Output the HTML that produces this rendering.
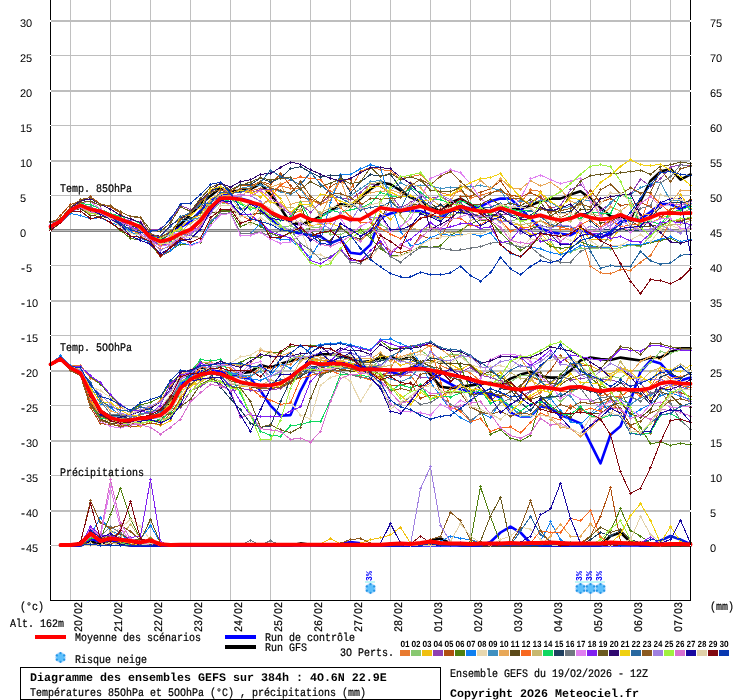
<!DOCTYPE html>
<html><head><meta charset="utf-8"><title>GEFS</title><style>html,body{margin:0;padding:0;background:#fff}body{width:740px;height:700px;overflow:hidden;font-family:"Liberation Mono",monospace}</style></head><body>
<svg width="740" height="700" viewBox="0 0 740 700" style="display:block;will-change:transform">
<rect width="740" height="700" fill="#fff"/>
<g shape-rendering="crispEdges"><rect x="70" y="0" width="1" height="600" fill="#c0c0c0"/><rect x="110" y="0" width="1" height="600" fill="#c0c0c0"/><rect x="150" y="0" width="1" height="600" fill="#c0c0c0"/><rect x="190" y="0" width="1" height="600" fill="#c0c0c0"/><rect x="230" y="0" width="1" height="600" fill="#c0c0c0"/><rect x="270" y="0" width="1" height="600" fill="#c0c0c0"/><rect x="310" y="0" width="1" height="600" fill="#c0c0c0"/><rect x="350" y="0" width="1" height="600" fill="#c0c0c0"/><rect x="390" y="0" width="1" height="600" fill="#c0c0c0"/><rect x="430" y="0" width="1" height="600" fill="#c0c0c0"/><rect x="470" y="0" width="1" height="600" fill="#c0c0c0"/><rect x="510" y="0" width="1" height="600" fill="#c0c0c0"/><rect x="550" y="0" width="1" height="600" fill="#c0c0c0"/><rect x="590" y="0" width="1" height="600" fill="#c0c0c0"/><rect x="630" y="0" width="1" height="600" fill="#c0c0c0"/><rect x="670" y="0" width="1" height="600" fill="#c0c0c0"/><rect x="51" y="20" width="639" height="2" fill="#bebebe"/><rect x="51" y="55" width="639" height="1" fill="#bebebe"/><rect x="51" y="90" width="639" height="2" fill="#bebebe"/><rect x="51" y="125" width="639" height="1" fill="#bebebe"/><rect x="51" y="160" width="639" height="2" fill="#bebebe"/><rect x="51" y="195" width="639" height="1" fill="#bebebe"/><rect x="51" y="230" width="639" height="2" fill="#bebebe"/><rect x="51" y="265" width="639" height="1" fill="#bebebe"/><rect x="51" y="300" width="639" height="2" fill="#bebebe"/><rect x="51" y="335" width="639" height="1" fill="#bebebe"/><rect x="51" y="370" width="639" height="2" fill="#bebebe"/><rect x="51" y="405" width="639" height="1" fill="#bebebe"/><rect x="51" y="440" width="639" height="2" fill="#bebebe"/><rect x="51" y="475" width="639" height="1" fill="#bebebe"/><rect x="51" y="510" width="639" height="2" fill="#bebebe"/><rect x="51" y="545" width="639" height="1" fill="#bebebe"/><rect x="51" y="229" width="639" height="3" fill="#868686"/><rect x="51" y="230" width="639" height="1" fill="#bdbdbd"/></g>
<g stroke-linejoin="round" stroke-linecap="round">
<polyline transform="translate(.5,.5)" points="50,225.9 60,220.5 70,209.7 80,204.3 90,208.1 100,210.8 110,214.3 120,218.4 130,222.4 140,226.5 150,235.9 160,238.6 170,231.9 180,223.8 190,214.3 200,203.5 210,195.4 220,187.3 230,191.4 240,190.0 250,188.6 260,183.2 270,194.1 280,207.6 290,222.4 300,223.8 310,221.1 320,215.7 330,210.3 340,203.5 350,206.2 360,198.1 370,188.6 380,181.9 390,183.8 400,190.0 410,196.8 420,200.8 430,207.0 440,210.8 450,202.2 460,198.1 470,204.3 480,207.6 490,211.6 500,207.6 510,208.9 520,208.1 530,204.9 540,200.8 550,198.1 560,198.1 570,194.1 580,190.8 590,198.1 600,207.6 610,215.7 620,217.0 630,218.4 640,200.8 650,180.5 660,171.1 670,168.4 680,179.2 690,173.8" fill="none" stroke="#000" stroke-width="2.6" />
<polyline transform="translate(.5,.5)" points="50,227.0 60,221.1 70,210.3 80,206.2 90,209.7 100,210.8 110,215.7 120,219.7 130,222.4 140,227.8 150,234.6 160,237.3 170,233.2 180,226.5 190,221.1 200,210.3 210,200.8 220,194.1 230,195.4 240,198.1 250,200.8 260,207.6 270,218.4 280,226.5 290,230.5 300,233.2 310,234.6 320,235.9 330,242.7 340,238.6 350,252.2 360,253.5 370,244.1 380,217.0 390,213.0 400,210.8 410,209.7 420,210.8 430,214.3 440,218.4 450,208.9 460,207.0 470,207.6 480,206.2 490,200.8 500,198.1 510,198.1 520,207.6 530,218.4 540,227.8 550,231.9 560,233.2 570,234.6 580,229.2 590,233.2 600,237.3 610,231.9 620,221.1 630,219.7 640,218.4 650,211.6 660,203.5 670,203.5 680,208.9 690,203.5" fill="none" stroke="#0000ff" stroke-width="2.6" />
<polyline transform="translate(.5,.5)" points="50,226.3 60,221.2 70,209.5 80,206.6 90,211.3 100,211.4 110,218.2 120,223.4 130,230.0 140,233.5 150,241.3 160,249.1 170,245.4 180,237.2 190,232.9 200,227.4 210,204.1 220,189.0 230,192.1 240,190.2 250,190.6 260,187.7 270,191.3 280,185.3 290,188.0 300,187.4 310,199.8 320,203.8 330,199.6 340,179.6 350,188.8 360,170.9 370,166.8 380,169.0 390,170.4 400,178.2 410,176.3 420,174.1 430,184.3 440,192.1 450,194.6 460,190.2 470,197.5 480,194.8 490,191.7 500,190.8 510,194.7 520,202.4 530,189.4 540,190.9 550,210.7 560,229.2 570,229.2 580,233.2 590,265.7 600,272.4 610,273.2 620,269.2 630,269.7 640,261.6 650,254.9 660,238.6 670,221.1 680,219.7 690,218.4" fill="none" stroke="#E87A30" stroke-width="1" shape-rendering="crispEdges"/>
<path shape-rendering="crispEdges" fill="#E87A30" d="M49 226h3v1h-3zM50 225h1v3h-1zM59 221h3v1h-3zM60 220h1v3h-1zM69 210h3v1h-3zM70 209h1v3h-1zM79 207h3v1h-3zM80 206h1v3h-1zM89 211h3v1h-3zM90 210h1v3h-1zM99 211h3v1h-3zM100 210h1v3h-1zM109 218h3v1h-3zM110 217h1v3h-1zM119 223h3v1h-3zM120 222h1v3h-1zM129 230h3v1h-3zM130 229h1v3h-1zM139 234h3v1h-3zM140 233h1v3h-1zM149 241h3v1h-3zM150 240h1v3h-1zM159 249h3v1h-3zM160 248h1v3h-1zM169 245h3v1h-3zM170 244h1v3h-1zM179 237h3v1h-3zM180 236h1v3h-1zM189 233h3v1h-3zM190 232h1v3h-1zM199 227h3v1h-3zM200 226h1v3h-1zM209 204h3v1h-3zM210 203h1v3h-1zM219 189h3v1h-3zM220 188h1v3h-1zM229 192h3v1h-3zM230 191h1v3h-1zM239 190h3v1h-3zM240 189h1v3h-1zM249 191h3v1h-3zM250 190h1v3h-1zM259 188h3v1h-3zM260 187h1v3h-1zM269 191h3v1h-3zM270 190h1v3h-1zM279 185h3v1h-3zM280 184h1v3h-1zM289 188h3v1h-3zM290 187h1v3h-1zM299 187h3v1h-3zM300 186h1v3h-1zM309 200h3v1h-3zM310 199h1v3h-1zM319 204h3v1h-3zM320 203h1v3h-1zM329 200h3v1h-3zM330 199h1v3h-1zM339 180h3v1h-3zM340 179h1v3h-1zM349 189h3v1h-3zM350 188h1v3h-1zM359 171h3v1h-3zM360 170h1v3h-1zM369 167h3v1h-3zM370 166h1v3h-1zM379 169h3v1h-3zM380 168h1v3h-1zM389 170h3v1h-3zM390 169h1v3h-1zM399 178h3v1h-3zM400 177h1v3h-1zM409 176h3v1h-3zM410 175h1v3h-1zM419 174h3v1h-3zM420 173h1v3h-1zM429 184h3v1h-3zM430 183h1v3h-1zM439 192h3v1h-3zM440 191h1v3h-1zM449 195h3v1h-3zM450 194h1v3h-1zM459 190h3v1h-3zM460 189h1v3h-1zM469 198h3v1h-3zM470 197h1v3h-1zM479 195h3v1h-3zM480 194h1v3h-1zM489 192h3v1h-3zM490 191h1v3h-1zM499 191h3v1h-3zM500 190h1v3h-1zM509 195h3v1h-3zM510 194h1v3h-1zM519 202h3v1h-3zM520 201h1v3h-1zM529 189h3v1h-3zM530 188h1v3h-1zM539 191h3v1h-3zM540 190h1v3h-1zM549 211h3v1h-3zM550 210h1v3h-1zM559 229h3v1h-3zM560 228h1v3h-1zM569 229h3v1h-3zM570 228h1v3h-1zM579 233h3v1h-3zM580 232h1v3h-1zM589 266h3v1h-3zM590 265h1v3h-1zM599 272h3v1h-3zM600 271h1v3h-1zM609 273h3v1h-3zM610 272h1v3h-1zM619 269h3v1h-3zM620 268h1v3h-1zM629 270h3v1h-3zM630 269h1v3h-1zM639 262h3v1h-3zM640 261h1v3h-1zM649 255h3v1h-3zM650 254h1v3h-1zM659 239h3v1h-3zM660 238h1v3h-1zM669 221h3v1h-3zM670 220h1v3h-1zM679 220h3v1h-3zM680 219h1v3h-1zM689 218h3v1h-3zM690 217h1v3h-1z"/>
<polyline transform="translate(.5,.5)" points="50,229.4 60,221.8 70,210.7 80,207.4 90,213.2 100,212.5 110,218.5 120,223.6 130,232.8 140,233.6 150,241.2 160,244.0 170,240.7 180,233.6 190,234.2 200,226.8 210,210.4 220,202.4 230,203.3 240,209.4 250,205.8 260,211.7 270,220.4 280,226.8 290,225.2 300,230.8 310,226.9 320,226.5 330,233.8 340,234.4 350,229.2 360,232.2 370,235.1 380,223.9 390,229.8 400,227.6 410,212.4 420,212.3 430,215.2 440,218.9 450,214.2 460,212.9 470,211.0 480,217.8 490,216.3 500,220.8 510,219.8 520,219.2 530,226.1 540,225.4 550,240.5 560,254.1 570,251.6 580,247.5 590,248.3 600,247.4 610,248.5 620,247.2 630,244.7 640,246.2 650,235.3 660,225.7 670,214.1 680,214.0 690,207.8" fill="none" stroke="#88C870" stroke-width="1" shape-rendering="crispEdges"/>
<path shape-rendering="crispEdges" fill="#88C870" d="M49 229h3v1h-3zM50 228h1v3h-1zM59 222h3v1h-3zM60 221h1v3h-1zM69 211h3v1h-3zM70 210h1v3h-1zM79 207h3v1h-3zM80 206h1v3h-1zM89 213h3v1h-3zM90 212h1v3h-1zM99 213h3v1h-3zM100 212h1v3h-1zM109 219h3v1h-3zM110 218h1v3h-1zM119 224h3v1h-3zM120 223h1v3h-1zM129 233h3v1h-3zM130 232h1v3h-1zM139 234h3v1h-3zM140 233h1v3h-1zM149 241h3v1h-3zM150 240h1v3h-1zM159 244h3v1h-3zM160 243h1v3h-1zM169 241h3v1h-3zM170 240h1v3h-1zM179 234h3v1h-3zM180 233h1v3h-1zM189 234h3v1h-3zM190 233h1v3h-1zM199 227h3v1h-3zM200 226h1v3h-1zM209 210h3v1h-3zM210 209h1v3h-1zM219 202h3v1h-3zM220 201h1v3h-1zM229 203h3v1h-3zM230 202h1v3h-1zM239 209h3v1h-3zM240 208h1v3h-1zM249 206h3v1h-3zM250 205h1v3h-1zM259 212h3v1h-3zM260 211h1v3h-1zM269 220h3v1h-3zM270 219h1v3h-1zM279 227h3v1h-3zM280 226h1v3h-1zM289 225h3v1h-3zM290 224h1v3h-1zM299 231h3v1h-3zM300 230h1v3h-1zM309 227h3v1h-3zM310 226h1v3h-1zM319 226h3v1h-3zM320 225h1v3h-1zM329 234h3v1h-3zM330 233h1v3h-1zM339 234h3v1h-3zM340 233h1v3h-1zM349 229h3v1h-3zM350 228h1v3h-1zM359 232h3v1h-3zM360 231h1v3h-1zM369 235h3v1h-3zM370 234h1v3h-1zM379 224h3v1h-3zM380 223h1v3h-1zM389 230h3v1h-3zM390 229h1v3h-1zM399 228h3v1h-3zM400 227h1v3h-1zM409 212h3v1h-3zM410 211h1v3h-1zM419 212h3v1h-3zM420 211h1v3h-1zM429 215h3v1h-3zM430 214h1v3h-1zM439 219h3v1h-3zM440 218h1v3h-1zM449 214h3v1h-3zM450 213h1v3h-1zM459 213h3v1h-3zM460 212h1v3h-1zM469 211h3v1h-3zM470 210h1v3h-1zM479 218h3v1h-3zM480 217h1v3h-1zM489 216h3v1h-3zM490 215h1v3h-1zM499 221h3v1h-3zM500 220h1v3h-1zM509 220h3v1h-3zM510 219h1v3h-1zM519 219h3v1h-3zM520 218h1v3h-1zM529 226h3v1h-3zM530 225h1v3h-1zM539 225h3v1h-3zM540 224h1v3h-1zM549 241h3v1h-3zM550 240h1v3h-1zM559 254h3v1h-3zM560 253h1v3h-1zM569 252h3v1h-3zM570 251h1v3h-1zM579 247h3v1h-3zM580 246h1v3h-1zM589 248h3v1h-3zM590 247h1v3h-1zM599 247h3v1h-3zM600 246h1v3h-1zM609 249h3v1h-3zM610 248h1v3h-1zM619 247h3v1h-3zM620 246h1v3h-1zM629 245h3v1h-3zM630 244h1v3h-1zM639 246h3v1h-3zM640 245h1v3h-1zM649 235h3v1h-3zM650 234h1v3h-1zM659 226h3v1h-3zM660 225h1v3h-1zM669 214h3v1h-3zM670 213h1v3h-1zM679 214h3v1h-3zM680 213h1v3h-1zM689 208h3v1h-3zM690 207h1v3h-1z"/>
<polyline transform="translate(.5,.5)" points="50,226.7 60,220.2 70,209.7 80,205.6 90,209.2 100,211.9 110,217.2 120,219.9 130,223.6 140,225.0 150,235.7 160,239.2 170,232.8 180,227.0 190,218.4 200,214.6 210,198.5 220,193.0 230,192.7 240,190.2 250,192.4 260,196.5 270,188.7 280,198.4 290,214.0 300,210.3 310,225.1 320,223.8 330,223.1 340,226.2 350,235.9 360,241.0 370,231.5 380,211.3 390,219.0 400,209.0 410,209.0 420,197.3 430,208.9 440,213.8 450,210.6 460,209.6 470,216.0 480,212.7 490,216.5 500,216.2 510,223.4 520,224.8 530,234.2 540,232.2 550,244.4 560,253.1 570,245.9 580,227.1 590,239.2 600,238.8 610,239.6 620,227.9 630,230.6 640,223.2 650,222.2 660,217.6 670,214.2 680,194.2 690,207.8" fill="none" stroke="#F0C010" stroke-width="1" shape-rendering="crispEdges"/>
<path shape-rendering="crispEdges" fill="#F0C010" d="M49 227h3v1h-3zM50 226h1v3h-1zM59 220h3v1h-3zM60 219h1v3h-1zM69 210h3v1h-3zM70 209h1v3h-1zM79 206h3v1h-3zM80 205h1v3h-1zM89 209h3v1h-3zM90 208h1v3h-1zM99 212h3v1h-3zM100 211h1v3h-1zM109 217h3v1h-3zM110 216h1v3h-1zM119 220h3v1h-3zM120 219h1v3h-1zM129 224h3v1h-3zM130 223h1v3h-1zM139 225h3v1h-3zM140 224h1v3h-1zM149 236h3v1h-3zM150 235h1v3h-1zM159 239h3v1h-3zM160 238h1v3h-1zM169 233h3v1h-3zM170 232h1v3h-1zM179 227h3v1h-3zM180 226h1v3h-1zM189 218h3v1h-3zM190 217h1v3h-1zM199 215h3v1h-3zM200 214h1v3h-1zM209 198h3v1h-3zM210 197h1v3h-1zM219 193h3v1h-3zM220 192h1v3h-1zM229 193h3v1h-3zM230 192h1v3h-1zM239 190h3v1h-3zM240 189h1v3h-1zM249 192h3v1h-3zM250 191h1v3h-1zM259 197h3v1h-3zM260 196h1v3h-1zM269 189h3v1h-3zM270 188h1v3h-1zM279 198h3v1h-3zM280 197h1v3h-1zM289 214h3v1h-3zM290 213h1v3h-1zM299 210h3v1h-3zM300 209h1v3h-1zM309 225h3v1h-3zM310 224h1v3h-1zM319 224h3v1h-3zM320 223h1v3h-1zM329 223h3v1h-3zM330 222h1v3h-1zM339 226h3v1h-3zM340 225h1v3h-1zM349 236h3v1h-3zM350 235h1v3h-1zM359 241h3v1h-3zM360 240h1v3h-1zM369 232h3v1h-3zM370 231h1v3h-1zM379 211h3v1h-3zM380 210h1v3h-1zM389 219h3v1h-3zM390 218h1v3h-1zM399 209h3v1h-3zM400 208h1v3h-1zM409 209h3v1h-3zM410 208h1v3h-1zM419 197h3v1h-3zM420 196h1v3h-1zM429 209h3v1h-3zM430 208h1v3h-1zM439 214h3v1h-3zM440 213h1v3h-1zM449 211h3v1h-3zM450 210h1v3h-1zM459 210h3v1h-3zM460 209h1v3h-1zM469 216h3v1h-3zM470 215h1v3h-1zM479 213h3v1h-3zM480 212h1v3h-1zM489 217h3v1h-3zM490 216h1v3h-1zM499 216h3v1h-3zM500 215h1v3h-1zM509 223h3v1h-3zM510 222h1v3h-1zM519 225h3v1h-3zM520 224h1v3h-1zM529 234h3v1h-3zM530 233h1v3h-1zM539 232h3v1h-3zM540 231h1v3h-1zM549 244h3v1h-3zM550 243h1v3h-1zM559 253h3v1h-3zM560 252h1v3h-1zM569 246h3v1h-3zM570 245h1v3h-1zM579 227h3v1h-3zM580 226h1v3h-1zM589 239h3v1h-3zM590 238h1v3h-1zM599 239h3v1h-3zM600 238h1v3h-1zM609 240h3v1h-3zM610 239h1v3h-1zM619 228h3v1h-3zM620 227h1v3h-1zM629 231h3v1h-3zM630 230h1v3h-1zM639 223h3v1h-3zM640 222h1v3h-1zM649 222h3v1h-3zM650 221h1v3h-1zM659 218h3v1h-3zM660 217h1v3h-1zM669 214h3v1h-3zM670 213h1v3h-1zM679 194h3v1h-3zM680 193h1v3h-1zM689 208h3v1h-3zM690 207h1v3h-1z"/>
<polyline transform="translate(.5,.5)" points="50,221.3 60,218.5 70,206.4 80,199.2 90,196.9 100,203.9 110,205.4 120,211.2 130,216.0 140,216.7 150,229.6 160,228.5 170,219.4 180,205.0 190,209.0 200,207.8 210,190.9 220,186.5 230,193.8 240,189.4 250,192.4 260,189.0 270,188.9 280,206.5 290,213.8 300,203.7 310,211.7 320,202.5 330,196.1 340,197.2 350,199.2 360,191.7 370,183.3 380,185.8 390,193.8 400,207.4 410,202.1 420,195.7 430,197.8 440,195.8 450,201.2 460,202.3 470,212.5 480,215.6 490,209.5 500,213.7 510,213.7 520,212.0 530,202.1 540,196.1 550,207.9 560,205.0 570,189.4 580,183.9 590,195.0 600,210.1 610,202.7 620,193.6 630,194.1 640,178.6 650,185.9 660,178.5 670,166.7 680,164.2 690,165.4" fill="none" stroke="#9040B0" stroke-width="1" shape-rendering="crispEdges"/>
<path shape-rendering="crispEdges" fill="#9040B0" d="M49 221h3v1h-3zM50 220h1v3h-1zM59 218h3v1h-3zM60 217h1v3h-1zM69 206h3v1h-3zM70 205h1v3h-1zM79 199h3v1h-3zM80 198h1v3h-1zM89 197h3v1h-3zM90 196h1v3h-1zM99 204h3v1h-3zM100 203h1v3h-1zM109 205h3v1h-3zM110 204h1v3h-1zM119 211h3v1h-3zM120 210h1v3h-1zM129 216h3v1h-3zM130 215h1v3h-1zM139 217h3v1h-3zM140 216h1v3h-1zM149 230h3v1h-3zM150 229h1v3h-1zM159 228h3v1h-3zM160 227h1v3h-1zM169 219h3v1h-3zM170 218h1v3h-1zM179 205h3v1h-3zM180 204h1v3h-1zM189 209h3v1h-3zM190 208h1v3h-1zM199 208h3v1h-3zM200 207h1v3h-1zM209 191h3v1h-3zM210 190h1v3h-1zM219 186h3v1h-3zM220 185h1v3h-1zM229 194h3v1h-3zM230 193h1v3h-1zM239 189h3v1h-3zM240 188h1v3h-1zM249 192h3v1h-3zM250 191h1v3h-1zM259 189h3v1h-3zM260 188h1v3h-1zM269 189h3v1h-3zM270 188h1v3h-1zM279 206h3v1h-3zM280 205h1v3h-1zM289 214h3v1h-3zM290 213h1v3h-1zM299 204h3v1h-3zM300 203h1v3h-1zM309 212h3v1h-3zM310 211h1v3h-1zM319 203h3v1h-3zM320 202h1v3h-1zM329 196h3v1h-3zM330 195h1v3h-1zM339 197h3v1h-3zM340 196h1v3h-1zM349 199h3v1h-3zM350 198h1v3h-1zM359 192h3v1h-3zM360 191h1v3h-1zM369 183h3v1h-3zM370 182h1v3h-1zM379 186h3v1h-3zM380 185h1v3h-1zM389 194h3v1h-3zM390 193h1v3h-1zM399 207h3v1h-3zM400 206h1v3h-1zM409 202h3v1h-3zM410 201h1v3h-1zM419 196h3v1h-3zM420 195h1v3h-1zM429 198h3v1h-3zM430 197h1v3h-1zM439 196h3v1h-3zM440 195h1v3h-1zM449 201h3v1h-3zM450 200h1v3h-1zM459 202h3v1h-3zM460 201h1v3h-1zM469 213h3v1h-3zM470 212h1v3h-1zM479 216h3v1h-3zM480 215h1v3h-1zM489 210h3v1h-3zM490 209h1v3h-1zM499 214h3v1h-3zM500 213h1v3h-1zM509 214h3v1h-3zM510 213h1v3h-1zM519 212h3v1h-3zM520 211h1v3h-1zM529 202h3v1h-3zM530 201h1v3h-1zM539 196h3v1h-3zM540 195h1v3h-1zM549 208h3v1h-3zM550 207h1v3h-1zM559 205h3v1h-3zM560 204h1v3h-1zM569 189h3v1h-3zM570 188h1v3h-1zM579 184h3v1h-3zM580 183h1v3h-1zM589 195h3v1h-3zM590 194h1v3h-1zM599 210h3v1h-3zM600 209h1v3h-1zM609 203h3v1h-3zM610 202h1v3h-1zM619 194h3v1h-3zM620 193h1v3h-1zM629 194h3v1h-3zM630 193h1v3h-1zM639 179h3v1h-3zM640 178h1v3h-1zM649 186h3v1h-3zM650 185h1v3h-1zM659 178h3v1h-3zM660 177h1v3h-1zM669 167h3v1h-3zM670 166h1v3h-1zM679 164h3v1h-3zM680 163h1v3h-1zM689 165h3v1h-3zM690 164h1v3h-1z"/>
<polyline transform="translate(.5,.5)" points="50,224.9 60,214.9 70,204.0 80,200.8 90,196.2 100,203.5 110,206.4 120,212.6 130,225.5 140,234.6 150,244.1 160,256.2 170,250.3 180,239.4 190,231.3 200,217.9 210,203.4 220,192.4 230,191.2 240,184.6 250,185.4 260,181.0 270,183.9 280,173.2 290,185.0 300,196.6 310,198.6 320,202.8 330,186.2 340,180.3 350,178.8 360,203.1 370,219.5 380,242.7 390,250.8 400,252.2 410,249.5 420,234.6 430,238.6 440,237.3 450,220.2 460,196.1 470,195.7 480,191.6 490,188.2 500,180.3 510,194.6 520,196.4 530,192.2 540,196.9 550,206.8 560,217.2 570,212.5 580,200.3 590,189.9 600,202.2 610,197.8 620,204.8 630,204.0 640,202.4 650,205.7 660,217.1 670,208.8 680,205.7 690,198.8" fill="none" stroke="#B05010" stroke-width="1" shape-rendering="crispEdges"/>
<path shape-rendering="crispEdges" fill="#B05010" d="M49 225h3v1h-3zM50 224h1v3h-1zM59 215h3v1h-3zM60 214h1v3h-1zM69 204h3v1h-3zM70 203h1v3h-1zM79 201h3v1h-3zM80 200h1v3h-1zM89 196h3v1h-3zM90 195h1v3h-1zM99 204h3v1h-3zM100 203h1v3h-1zM109 206h3v1h-3zM110 205h1v3h-1zM119 213h3v1h-3zM120 212h1v3h-1zM129 226h3v1h-3zM130 225h1v3h-1zM139 235h3v1h-3zM140 234h1v3h-1zM149 244h3v1h-3zM150 243h1v3h-1zM159 256h3v1h-3zM160 255h1v3h-1zM169 250h3v1h-3zM170 249h1v3h-1zM179 239h3v1h-3zM180 238h1v3h-1zM189 231h3v1h-3zM190 230h1v3h-1zM199 218h3v1h-3zM200 217h1v3h-1zM209 203h3v1h-3zM210 202h1v3h-1zM219 192h3v1h-3zM220 191h1v3h-1zM229 191h3v1h-3zM230 190h1v3h-1zM239 185h3v1h-3zM240 184h1v3h-1zM249 185h3v1h-3zM250 184h1v3h-1zM259 181h3v1h-3zM260 180h1v3h-1zM269 184h3v1h-3zM270 183h1v3h-1zM279 173h3v1h-3zM280 172h1v3h-1zM289 185h3v1h-3zM290 184h1v3h-1zM299 197h3v1h-3zM300 196h1v3h-1zM309 199h3v1h-3zM310 198h1v3h-1zM319 203h3v1h-3zM320 202h1v3h-1zM329 186h3v1h-3zM330 185h1v3h-1zM339 180h3v1h-3zM340 179h1v3h-1zM349 179h3v1h-3zM350 178h1v3h-1zM359 203h3v1h-3zM360 202h1v3h-1zM369 219h3v1h-3zM370 218h1v3h-1zM379 243h3v1h-3zM380 242h1v3h-1zM389 251h3v1h-3zM390 250h1v3h-1zM399 252h3v1h-3zM400 251h1v3h-1zM409 249h3v1h-3zM410 248h1v3h-1zM419 235h3v1h-3zM420 234h1v3h-1zM429 239h3v1h-3zM430 238h1v3h-1zM439 237h3v1h-3zM440 236h1v3h-1zM449 220h3v1h-3zM450 219h1v3h-1zM459 196h3v1h-3zM460 195h1v3h-1zM469 196h3v1h-3zM470 195h1v3h-1zM479 192h3v1h-3zM480 191h1v3h-1zM489 188h3v1h-3zM490 187h1v3h-1zM499 180h3v1h-3zM500 179h1v3h-1zM509 195h3v1h-3zM510 194h1v3h-1zM519 196h3v1h-3zM520 195h1v3h-1zM529 192h3v1h-3zM530 191h1v3h-1zM539 197h3v1h-3zM540 196h1v3h-1zM549 207h3v1h-3zM550 206h1v3h-1zM559 217h3v1h-3zM560 216h1v3h-1zM569 212h3v1h-3zM570 211h1v3h-1zM579 200h3v1h-3zM580 199h1v3h-1zM589 190h3v1h-3zM590 189h1v3h-1zM599 202h3v1h-3zM600 201h1v3h-1zM609 198h3v1h-3zM610 197h1v3h-1zM619 205h3v1h-3zM620 204h1v3h-1zM629 204h3v1h-3zM630 203h1v3h-1zM639 202h3v1h-3zM640 201h1v3h-1zM649 206h3v1h-3zM650 205h1v3h-1zM659 217h3v1h-3zM660 216h1v3h-1zM669 209h3v1h-3zM670 208h1v3h-1zM679 206h3v1h-3zM680 205h1v3h-1zM689 199h3v1h-3zM690 198h1v3h-1z"/>
<polyline transform="translate(.5,.5)" points="50,230.3 60,222.4 70,211.6 80,210.6 90,218.2 100,216.8 110,222.1 120,230.0 130,237.8 140,239.8 150,243.7 160,255.5 170,249.7 180,243.5 190,244.6 200,241.6 210,223.4 220,210.1 230,210.8 240,226.4 250,221.6 260,225.7 270,232.7 280,236.3 290,232.7 300,229.9 310,234.8 320,232.3 330,231.0 340,227.5 350,233.8 360,229.3 370,237.5 380,248.1 390,254.9 400,254.9 410,250.8 420,245.4 430,246.8 440,245.4 450,234.6 460,229.7 470,223.5 480,219.4 490,220.8 500,231.9 510,241.8 520,250.2 530,243.7 540,238.1 550,245.8 560,247.7 570,247.1 580,241.4 590,245.1 600,246.7 610,246.6 620,245.1 630,244.3 640,244.8 650,242.2 660,240.0 670,237.6 680,242.7 690,239.8" fill="none" stroke="#508010" stroke-width="1" shape-rendering="crispEdges"/>
<path shape-rendering="crispEdges" fill="#508010" d="M49 230h3v1h-3zM50 229h1v3h-1zM59 222h3v1h-3zM60 221h1v3h-1zM69 212h3v1h-3zM70 211h1v3h-1zM79 211h3v1h-3zM80 210h1v3h-1zM89 218h3v1h-3zM90 217h1v3h-1zM99 217h3v1h-3zM100 216h1v3h-1zM109 222h3v1h-3zM110 221h1v3h-1zM119 230h3v1h-3zM120 229h1v3h-1zM129 238h3v1h-3zM130 237h1v3h-1zM139 240h3v1h-3zM140 239h1v3h-1zM149 244h3v1h-3zM150 243h1v3h-1zM159 255h3v1h-3zM160 254h1v3h-1zM169 250h3v1h-3zM170 249h1v3h-1zM179 244h3v1h-3zM180 243h1v3h-1zM189 245h3v1h-3zM190 244h1v3h-1zM199 242h3v1h-3zM200 241h1v3h-1zM209 223h3v1h-3zM210 222h1v3h-1zM219 210h3v1h-3zM220 209h1v3h-1zM229 211h3v1h-3zM230 210h1v3h-1zM239 226h3v1h-3zM240 225h1v3h-1zM249 222h3v1h-3zM250 221h1v3h-1zM259 226h3v1h-3zM260 225h1v3h-1zM269 233h3v1h-3zM270 232h1v3h-1zM279 236h3v1h-3zM280 235h1v3h-1zM289 233h3v1h-3zM290 232h1v3h-1zM299 230h3v1h-3zM300 229h1v3h-1zM309 235h3v1h-3zM310 234h1v3h-1zM319 232h3v1h-3zM320 231h1v3h-1zM329 231h3v1h-3zM330 230h1v3h-1zM339 228h3v1h-3zM340 227h1v3h-1zM349 234h3v1h-3zM350 233h1v3h-1zM359 229h3v1h-3zM360 228h1v3h-1zM369 237h3v1h-3zM370 236h1v3h-1zM379 248h3v1h-3zM380 247h1v3h-1zM389 255h3v1h-3zM390 254h1v3h-1zM399 255h3v1h-3zM400 254h1v3h-1zM409 251h3v1h-3zM410 250h1v3h-1zM419 245h3v1h-3zM420 244h1v3h-1zM429 247h3v1h-3zM430 246h1v3h-1zM439 245h3v1h-3zM440 244h1v3h-1zM449 235h3v1h-3zM450 234h1v3h-1zM459 230h3v1h-3zM460 229h1v3h-1zM469 224h3v1h-3zM470 223h1v3h-1zM479 219h3v1h-3zM480 218h1v3h-1zM489 221h3v1h-3zM490 220h1v3h-1zM499 232h3v1h-3zM500 231h1v3h-1zM509 242h3v1h-3zM510 241h1v3h-1zM519 250h3v1h-3zM520 249h1v3h-1zM529 244h3v1h-3zM530 243h1v3h-1zM539 238h3v1h-3zM540 237h1v3h-1zM549 246h3v1h-3zM550 245h1v3h-1zM559 248h3v1h-3zM560 247h1v3h-1zM569 247h3v1h-3zM570 246h1v3h-1zM579 241h3v1h-3zM580 240h1v3h-1zM589 245h3v1h-3zM590 244h1v3h-1zM599 247h3v1h-3zM600 246h1v3h-1zM609 247h3v1h-3zM610 246h1v3h-1zM619 245h3v1h-3zM620 244h1v3h-1zM629 244h3v1h-3zM630 243h1v3h-1zM639 245h3v1h-3zM640 244h1v3h-1zM649 242h3v1h-3zM650 241h1v3h-1zM659 240h3v1h-3zM660 239h1v3h-1zM669 238h3v1h-3zM670 237h1v3h-1zM679 243h3v1h-3zM680 242h1v3h-1zM689 240h3v1h-3zM690 239h1v3h-1z"/>
<polyline transform="translate(.5,.5)" points="50,229.9 60,222.1 70,213.0 80,214.9 90,218.4 100,217.0 110,222.4 120,225.0 130,230.7 140,237.8 150,242.2 160,255.4 170,249.7 180,242.2 190,244.6 200,241.0 210,221.4 220,213.5 230,212.2 240,233.3 250,232.9 260,223.0 270,236.3 280,238.6 290,239.6 300,247.4 310,256.9 320,240.2 330,201.9 340,173.8 350,173.8 360,168.4 370,164.3 380,167.0 390,201.8 400,230.9 410,245.2 420,243.3 430,237.2 440,233.3 450,234.9 460,234.0 470,233.2 480,235.7 490,232.5 500,244.4 510,252.8 520,256.3 530,246.5 540,248.4 550,252.1 560,254.1 570,250.8 580,245.1 590,246.3 600,246.7 610,246.6 620,245.1 630,244.1 640,244.2 650,241.4 660,238.7 670,236.1 680,241.2 690,238.6" fill="none" stroke="#1080F0" stroke-width="1" shape-rendering="crispEdges"/>
<path shape-rendering="crispEdges" fill="#1080F0" d="M49 230h3v1h-3zM50 229h1v3h-1zM59 222h3v1h-3zM60 221h1v3h-1zM69 213h3v1h-3zM70 212h1v3h-1zM79 215h3v1h-3zM80 214h1v3h-1zM89 218h3v1h-3zM90 217h1v3h-1zM99 217h3v1h-3zM100 216h1v3h-1zM109 222h3v1h-3zM110 221h1v3h-1zM119 225h3v1h-3zM120 224h1v3h-1zM129 231h3v1h-3zM130 230h1v3h-1zM139 238h3v1h-3zM140 237h1v3h-1zM149 242h3v1h-3zM150 241h1v3h-1zM159 255h3v1h-3zM160 254h1v3h-1zM169 250h3v1h-3zM170 249h1v3h-1zM179 242h3v1h-3zM180 241h1v3h-1zM189 245h3v1h-3zM190 244h1v3h-1zM199 241h3v1h-3zM200 240h1v3h-1zM209 221h3v1h-3zM210 220h1v3h-1zM219 213h3v1h-3zM220 212h1v3h-1zM229 212h3v1h-3zM230 211h1v3h-1zM239 233h3v1h-3zM240 232h1v3h-1zM249 233h3v1h-3zM250 232h1v3h-1zM259 223h3v1h-3zM260 222h1v3h-1zM269 236h3v1h-3zM270 235h1v3h-1zM279 239h3v1h-3zM280 238h1v3h-1zM289 240h3v1h-3zM290 239h1v3h-1zM299 247h3v1h-3zM300 246h1v3h-1zM309 257h3v1h-3zM310 256h1v3h-1zM319 240h3v1h-3zM320 239h1v3h-1zM329 202h3v1h-3zM330 201h1v3h-1zM339 174h3v1h-3zM340 173h1v3h-1zM349 174h3v1h-3zM350 173h1v3h-1zM359 168h3v1h-3zM360 167h1v3h-1zM369 164h3v1h-3zM370 163h1v3h-1zM379 167h3v1h-3zM380 166h1v3h-1zM389 202h3v1h-3zM390 201h1v3h-1zM399 231h3v1h-3zM400 230h1v3h-1zM409 245h3v1h-3zM410 244h1v3h-1zM419 243h3v1h-3zM420 242h1v3h-1zM429 237h3v1h-3zM430 236h1v3h-1zM439 233h3v1h-3zM440 232h1v3h-1zM449 235h3v1h-3zM450 234h1v3h-1zM459 234h3v1h-3zM460 233h1v3h-1zM469 233h3v1h-3zM470 232h1v3h-1zM479 236h3v1h-3zM480 235h1v3h-1zM489 232h3v1h-3zM490 231h1v3h-1zM499 244h3v1h-3zM500 243h1v3h-1zM509 253h3v1h-3zM510 252h1v3h-1zM519 256h3v1h-3zM520 255h1v3h-1zM529 246h3v1h-3zM530 245h1v3h-1zM539 248h3v1h-3zM540 247h1v3h-1zM549 252h3v1h-3zM550 251h1v3h-1zM559 254h3v1h-3zM560 253h1v3h-1zM569 251h3v1h-3zM570 250h1v3h-1zM579 245h3v1h-3zM580 244h1v3h-1zM589 246h3v1h-3zM590 245h1v3h-1zM599 247h3v1h-3zM600 246h1v3h-1zM609 247h3v1h-3zM610 246h1v3h-1zM619 245h3v1h-3zM620 244h1v3h-1zM629 244h3v1h-3zM630 243h1v3h-1zM639 244h3v1h-3zM640 243h1v3h-1zM649 241h3v1h-3zM650 240h1v3h-1zM659 239h3v1h-3zM660 238h1v3h-1zM669 236h3v1h-3zM670 235h1v3h-1zM679 241h3v1h-3zM680 240h1v3h-1zM689 239h3v1h-3zM690 238h1v3h-1z"/>
<polyline transform="translate(.5,.5)" points="50,224.9 60,220.2 70,209.7 80,204.3 90,208.5 100,211.2 110,218.4 120,226.1 130,233.1 140,234.7 150,240.5 160,244.1 170,241.6 180,236.8 190,233.6 200,224.1 210,210.3 220,199.7 230,205.5 240,220.9 250,223.9 260,217.2 270,223.8 280,225.4 290,229.7 300,228.2 310,254.1 320,253.8 330,260.8 340,250.3 350,259.5 360,261.2 370,257.9 380,245.3 390,256.3 400,255.3 410,251.4 420,244.7 430,238.9 440,236.5 450,236.0 460,235.1 470,232.7 480,233.2 490,230.2 500,219.6 510,236.8 520,247.4 530,238.4 540,239.2 550,239.0 560,234.4 570,240.4 580,241.1 590,240.3 600,246.7 610,245.6 620,245.1 630,239.6 640,234.0 650,241.4 660,228.9 670,224.4 680,228.7 690,228.6" fill="none" stroke="#E8D8B0" stroke-width="1" shape-rendering="crispEdges"/>
<path shape-rendering="crispEdges" fill="#E8D8B0" d="M49 225h3v1h-3zM50 224h1v3h-1zM59 220h3v1h-3zM60 219h1v3h-1zM69 210h3v1h-3zM70 209h1v3h-1zM79 204h3v1h-3zM80 203h1v3h-1zM89 209h3v1h-3zM90 208h1v3h-1zM99 211h3v1h-3zM100 210h1v3h-1zM109 218h3v1h-3zM110 217h1v3h-1zM119 226h3v1h-3zM120 225h1v3h-1zM129 233h3v1h-3zM130 232h1v3h-1zM139 235h3v1h-3zM140 234h1v3h-1zM149 241h3v1h-3zM150 240h1v3h-1zM159 244h3v1h-3zM160 243h1v3h-1zM169 242h3v1h-3zM170 241h1v3h-1zM179 237h3v1h-3zM180 236h1v3h-1zM189 234h3v1h-3zM190 233h1v3h-1zM199 224h3v1h-3zM200 223h1v3h-1zM209 210h3v1h-3zM210 209h1v3h-1zM219 200h3v1h-3zM220 199h1v3h-1zM229 205h3v1h-3zM230 204h1v3h-1zM239 221h3v1h-3zM240 220h1v3h-1zM249 224h3v1h-3zM250 223h1v3h-1zM259 217h3v1h-3zM260 216h1v3h-1zM269 224h3v1h-3zM270 223h1v3h-1zM279 225h3v1h-3zM280 224h1v3h-1zM289 230h3v1h-3zM290 229h1v3h-1zM299 228h3v1h-3zM300 227h1v3h-1zM309 254h3v1h-3zM310 253h1v3h-1zM319 254h3v1h-3zM320 253h1v3h-1zM329 261h3v1h-3zM330 260h1v3h-1zM339 250h3v1h-3zM340 249h1v3h-1zM349 259h3v1h-3zM350 258h1v3h-1zM359 261h3v1h-3zM360 260h1v3h-1zM369 258h3v1h-3zM370 257h1v3h-1zM379 245h3v1h-3zM380 244h1v3h-1zM389 256h3v1h-3zM390 255h1v3h-1zM399 255h3v1h-3zM400 254h1v3h-1zM409 251h3v1h-3zM410 250h1v3h-1zM419 245h3v1h-3zM420 244h1v3h-1zM429 239h3v1h-3zM430 238h1v3h-1zM439 237h3v1h-3zM440 236h1v3h-1zM449 236h3v1h-3zM450 235h1v3h-1zM459 235h3v1h-3zM460 234h1v3h-1zM469 233h3v1h-3zM470 232h1v3h-1zM479 233h3v1h-3zM480 232h1v3h-1zM489 230h3v1h-3zM490 229h1v3h-1zM499 220h3v1h-3zM500 219h1v3h-1zM509 237h3v1h-3zM510 236h1v3h-1zM519 247h3v1h-3zM520 246h1v3h-1zM529 238h3v1h-3zM530 237h1v3h-1zM539 239h3v1h-3zM540 238h1v3h-1zM549 239h3v1h-3zM550 238h1v3h-1zM559 234h3v1h-3zM560 233h1v3h-1zM569 240h3v1h-3zM570 239h1v3h-1zM579 241h3v1h-3zM580 240h1v3h-1zM589 240h3v1h-3zM590 239h1v3h-1zM599 247h3v1h-3zM600 246h1v3h-1zM609 246h3v1h-3zM610 245h1v3h-1zM619 245h3v1h-3zM620 244h1v3h-1zM629 240h3v1h-3zM630 239h1v3h-1zM639 234h3v1h-3zM640 233h1v3h-1zM649 241h3v1h-3zM650 240h1v3h-1zM659 229h3v1h-3zM660 228h1v3h-1zM669 224h3v1h-3zM670 223h1v3h-1zM679 229h3v1h-3zM680 228h1v3h-1zM689 229h3v1h-3zM690 228h1v3h-1z"/>
<polyline transform="translate(.5,.5)" points="50,227.9 60,220.7 70,210.1 80,207.4 90,209.8 100,212.8 110,217.0 120,224.0 130,222.0 140,224.7 150,234.1 160,236.3 170,231.1 180,220.8 190,219.2 200,216.9 210,201.0 220,197.0 230,194.8 240,187.9 250,185.8 260,184.4 270,188.1 280,191.3 290,193.8 300,188.3 310,202.6 320,214.8 330,210.9 340,207.5 350,195.4 360,188.4 370,181.3 380,179.8 390,189.5 400,182.5 410,186.7 420,184.5 430,185.0 440,188.1 450,186.7 460,186.5 470,186.1 480,185.1 490,187.0 500,190.1 510,204.0 520,200.4 530,202.9 540,199.6 550,201.6 560,208.0 570,206.0 580,199.2 590,200.1 600,213.8 610,202.1 620,193.9 630,193.8 640,187.4 650,183.0 660,181.9 670,200.3 680,199.7 690,209.5" fill="none" stroke="#4090C0" stroke-width="1" shape-rendering="crispEdges"/>
<path shape-rendering="crispEdges" fill="#4090C0" d="M49 228h3v1h-3zM50 227h1v3h-1zM59 221h3v1h-3zM60 220h1v3h-1zM69 210h3v1h-3zM70 209h1v3h-1zM79 207h3v1h-3zM80 206h1v3h-1zM89 210h3v1h-3zM90 209h1v3h-1zM99 213h3v1h-3zM100 212h1v3h-1zM109 217h3v1h-3zM110 216h1v3h-1zM119 224h3v1h-3zM120 223h1v3h-1zM129 222h3v1h-3zM130 221h1v3h-1zM139 225h3v1h-3zM140 224h1v3h-1zM149 234h3v1h-3zM150 233h1v3h-1zM159 236h3v1h-3zM160 235h1v3h-1zM169 231h3v1h-3zM170 230h1v3h-1zM179 221h3v1h-3zM180 220h1v3h-1zM189 219h3v1h-3zM190 218h1v3h-1zM199 217h3v1h-3zM200 216h1v3h-1zM209 201h3v1h-3zM210 200h1v3h-1zM219 197h3v1h-3zM220 196h1v3h-1zM229 195h3v1h-3zM230 194h1v3h-1zM239 188h3v1h-3zM240 187h1v3h-1zM249 186h3v1h-3zM250 185h1v3h-1zM259 184h3v1h-3zM260 183h1v3h-1zM269 188h3v1h-3zM270 187h1v3h-1zM279 191h3v1h-3zM280 190h1v3h-1zM289 194h3v1h-3zM290 193h1v3h-1zM299 188h3v1h-3zM300 187h1v3h-1zM309 203h3v1h-3zM310 202h1v3h-1zM319 215h3v1h-3zM320 214h1v3h-1zM329 211h3v1h-3zM330 210h1v3h-1zM339 207h3v1h-3zM340 206h1v3h-1zM349 195h3v1h-3zM350 194h1v3h-1zM359 188h3v1h-3zM360 187h1v3h-1zM369 181h3v1h-3zM370 180h1v3h-1zM379 180h3v1h-3zM380 179h1v3h-1zM389 190h3v1h-3zM390 189h1v3h-1zM399 182h3v1h-3zM400 181h1v3h-1zM409 187h3v1h-3zM410 186h1v3h-1zM419 185h3v1h-3zM420 184h1v3h-1zM429 185h3v1h-3zM430 184h1v3h-1zM439 188h3v1h-3zM440 187h1v3h-1zM449 187h3v1h-3zM450 186h1v3h-1zM459 187h3v1h-3zM460 186h1v3h-1zM469 186h3v1h-3zM470 185h1v3h-1zM479 185h3v1h-3zM480 184h1v3h-1zM489 187h3v1h-3zM490 186h1v3h-1zM499 190h3v1h-3zM500 189h1v3h-1zM509 204h3v1h-3zM510 203h1v3h-1zM519 200h3v1h-3zM520 199h1v3h-1zM529 203h3v1h-3zM530 202h1v3h-1zM539 200h3v1h-3zM540 199h1v3h-1zM549 202h3v1h-3zM550 201h1v3h-1zM559 208h3v1h-3zM560 207h1v3h-1zM569 206h3v1h-3zM570 205h1v3h-1zM579 199h3v1h-3zM580 198h1v3h-1zM589 200h3v1h-3zM590 199h1v3h-1zM599 214h3v1h-3zM600 213h1v3h-1zM609 202h3v1h-3zM610 201h1v3h-1zM619 194h3v1h-3zM620 193h1v3h-1zM629 194h3v1h-3zM630 193h1v3h-1zM639 187h3v1h-3zM640 186h1v3h-1zM649 183h3v1h-3zM650 182h1v3h-1zM659 182h3v1h-3zM660 181h1v3h-1zM669 200h3v1h-3zM670 199h1v3h-1zM679 200h3v1h-3zM680 199h1v3h-1zM689 209h3v1h-3zM690 208h1v3h-1z"/>
<polyline transform="translate(.5,.5)" points="50,228.4 60,221.5 70,210.5 80,207.3 90,214.9 100,213.7 110,217.1 120,222.8 130,225.0 140,227.3 150,235.6 160,240.8 170,240.3 180,231.5 190,231.5 200,218.0 210,201.8 220,194.3 230,195.6 240,196.8 250,187.6 260,180.7 270,186.7 280,183.4 290,203.8 300,201.1 310,200.6 320,216.2 330,194.5 340,179.0 350,206.6 360,197.0 370,191.7 380,191.3 390,189.3 400,192.7 410,182.1 420,187.2 430,198.2 440,205.8 450,200.5 460,184.9 470,190.0 480,180.0 490,188.2 500,178.0 510,187.2 520,188.6 530,180.3 540,185.5 550,181.6 560,188.7 570,200.6 580,204.2 590,194.0 600,216.6 610,206.3 620,210.7 630,202.8 640,215.0 650,213.6 660,207.1 670,202.6 680,189.8 690,190.1" fill="none" stroke="#E8A858" stroke-width="1" shape-rendering="crispEdges"/>
<path shape-rendering="crispEdges" fill="#E8A858" d="M49 228h3v1h-3zM50 227h1v3h-1zM59 222h3v1h-3zM60 221h1v3h-1zM69 211h3v1h-3zM70 210h1v3h-1zM79 207h3v1h-3zM80 206h1v3h-1zM89 215h3v1h-3zM90 214h1v3h-1zM99 214h3v1h-3zM100 213h1v3h-1zM109 217h3v1h-3zM110 216h1v3h-1zM119 223h3v1h-3zM120 222h1v3h-1zM129 225h3v1h-3zM130 224h1v3h-1zM139 227h3v1h-3zM140 226h1v3h-1zM149 236h3v1h-3zM150 235h1v3h-1zM159 241h3v1h-3zM160 240h1v3h-1zM169 240h3v1h-3zM170 239h1v3h-1zM179 231h3v1h-3zM180 230h1v3h-1zM189 231h3v1h-3zM190 230h1v3h-1zM199 218h3v1h-3zM200 217h1v3h-1zM209 202h3v1h-3zM210 201h1v3h-1zM219 194h3v1h-3zM220 193h1v3h-1zM229 196h3v1h-3zM230 195h1v3h-1zM239 197h3v1h-3zM240 196h1v3h-1zM249 188h3v1h-3zM250 187h1v3h-1zM259 181h3v1h-3zM260 180h1v3h-1zM269 187h3v1h-3zM270 186h1v3h-1zM279 183h3v1h-3zM280 182h1v3h-1zM289 204h3v1h-3zM290 203h1v3h-1zM299 201h3v1h-3zM300 200h1v3h-1zM309 201h3v1h-3zM310 200h1v3h-1zM319 216h3v1h-3zM320 215h1v3h-1zM329 194h3v1h-3zM330 193h1v3h-1zM339 179h3v1h-3zM340 178h1v3h-1zM349 207h3v1h-3zM350 206h1v3h-1zM359 197h3v1h-3zM360 196h1v3h-1zM369 192h3v1h-3zM370 191h1v3h-1zM379 191h3v1h-3zM380 190h1v3h-1zM389 189h3v1h-3zM390 188h1v3h-1zM399 193h3v1h-3zM400 192h1v3h-1zM409 182h3v1h-3zM410 181h1v3h-1zM419 187h3v1h-3zM420 186h1v3h-1zM429 198h3v1h-3zM430 197h1v3h-1zM439 206h3v1h-3zM440 205h1v3h-1zM449 200h3v1h-3zM450 199h1v3h-1zM459 185h3v1h-3zM460 184h1v3h-1zM469 190h3v1h-3zM470 189h1v3h-1zM479 180h3v1h-3zM480 179h1v3h-1zM489 188h3v1h-3zM490 187h1v3h-1zM499 178h3v1h-3zM500 177h1v3h-1zM509 187h3v1h-3zM510 186h1v3h-1zM519 189h3v1h-3zM520 188h1v3h-1zM529 180h3v1h-3zM530 179h1v3h-1zM539 185h3v1h-3zM540 184h1v3h-1zM549 182h3v1h-3zM550 181h1v3h-1zM559 189h3v1h-3zM560 188h1v3h-1zM569 201h3v1h-3zM570 200h1v3h-1zM579 204h3v1h-3zM580 203h1v3h-1zM589 194h3v1h-3zM590 193h1v3h-1zM599 217h3v1h-3zM600 216h1v3h-1zM609 206h3v1h-3zM610 205h1v3h-1zM619 211h3v1h-3zM620 210h1v3h-1zM629 203h3v1h-3zM630 202h1v3h-1zM639 215h3v1h-3zM640 214h1v3h-1zM649 214h3v1h-3zM650 213h1v3h-1zM659 207h3v1h-3zM660 206h1v3h-1zM669 203h3v1h-3zM670 202h1v3h-1zM679 190h3v1h-3zM680 189h1v3h-1zM689 190h3v1h-3zM690 189h1v3h-1z"/>
<polyline transform="translate(.5,.5)" points="50,226.8 60,221.0 70,210.4 80,208.1 90,215.1 100,215.9 110,217.8 120,223.5 130,229.6 140,229.5 150,238.1 160,244.1 170,238.7 180,231.7 190,230.9 200,222.1 210,211.9 220,211.4 230,209.8 240,213.9 250,214.1 260,212.5 270,214.2 280,218.8 290,219.1 300,203.7 310,230.9 320,239.6 330,240.2 340,226.6 350,235.6 360,238.7 370,231.8 380,219.5 390,199.8 400,212.2 410,204.8 420,203.4 430,202.2 440,210.7 450,206.4 460,210.1 470,215.1 480,216.7 490,213.9 500,213.9 510,222.3 520,229.2 530,228.5 540,224.8 550,227.5 560,221.8 570,218.2 580,209.0 590,209.4 600,222.6 610,221.3 620,215.0 630,220.4 640,226.6 650,225.4 660,225.6 670,219.3 680,221.4 690,216.8" fill="none" stroke="#5C4A18" stroke-width="1" shape-rendering="crispEdges"/>
<path shape-rendering="crispEdges" fill="#5C4A18" d="M49 227h3v1h-3zM50 226h1v3h-1zM59 221h3v1h-3zM60 220h1v3h-1zM69 210h3v1h-3zM70 209h1v3h-1zM79 208h3v1h-3zM80 207h1v3h-1zM89 215h3v1h-3zM90 214h1v3h-1zM99 216h3v1h-3zM100 215h1v3h-1zM109 218h3v1h-3zM110 217h1v3h-1zM119 223h3v1h-3zM120 222h1v3h-1zM129 230h3v1h-3zM130 229h1v3h-1zM139 230h3v1h-3zM140 229h1v3h-1zM149 238h3v1h-3zM150 237h1v3h-1zM159 244h3v1h-3zM160 243h1v3h-1zM169 239h3v1h-3zM170 238h1v3h-1zM179 232h3v1h-3zM180 231h1v3h-1zM189 231h3v1h-3zM190 230h1v3h-1zM199 222h3v1h-3zM200 221h1v3h-1zM209 212h3v1h-3zM210 211h1v3h-1zM219 211h3v1h-3zM220 210h1v3h-1zM229 210h3v1h-3zM230 209h1v3h-1zM239 214h3v1h-3zM240 213h1v3h-1zM249 214h3v1h-3zM250 213h1v3h-1zM259 213h3v1h-3zM260 212h1v3h-1zM269 214h3v1h-3zM270 213h1v3h-1zM279 219h3v1h-3zM280 218h1v3h-1zM289 219h3v1h-3zM290 218h1v3h-1zM299 204h3v1h-3zM300 203h1v3h-1zM309 231h3v1h-3zM310 230h1v3h-1zM319 240h3v1h-3zM320 239h1v3h-1zM329 240h3v1h-3zM330 239h1v3h-1zM339 227h3v1h-3zM340 226h1v3h-1zM349 236h3v1h-3zM350 235h1v3h-1zM359 239h3v1h-3zM360 238h1v3h-1zM369 232h3v1h-3zM370 231h1v3h-1zM379 219h3v1h-3zM380 218h1v3h-1zM389 200h3v1h-3zM390 199h1v3h-1zM399 212h3v1h-3zM400 211h1v3h-1zM409 205h3v1h-3zM410 204h1v3h-1zM419 203h3v1h-3zM420 202h1v3h-1zM429 202h3v1h-3zM430 201h1v3h-1zM439 211h3v1h-3zM440 210h1v3h-1zM449 206h3v1h-3zM450 205h1v3h-1zM459 210h3v1h-3zM460 209h1v3h-1zM469 215h3v1h-3zM470 214h1v3h-1zM479 217h3v1h-3zM480 216h1v3h-1zM489 214h3v1h-3zM490 213h1v3h-1zM499 214h3v1h-3zM500 213h1v3h-1zM509 222h3v1h-3zM510 221h1v3h-1zM519 229h3v1h-3zM520 228h1v3h-1zM529 229h3v1h-3zM530 228h1v3h-1zM539 225h3v1h-3zM540 224h1v3h-1zM549 227h3v1h-3zM550 226h1v3h-1zM559 222h3v1h-3zM560 221h1v3h-1zM569 218h3v1h-3zM570 217h1v3h-1zM579 209h3v1h-3zM580 208h1v3h-1zM589 209h3v1h-3zM590 208h1v3h-1zM599 223h3v1h-3zM600 222h1v3h-1zM609 221h3v1h-3zM610 220h1v3h-1zM619 215h3v1h-3zM620 214h1v3h-1zM629 220h3v1h-3zM630 219h1v3h-1zM639 227h3v1h-3zM640 226h1v3h-1zM649 225h3v1h-3zM650 224h1v3h-1zM659 226h3v1h-3zM660 225h1v3h-1zM669 219h3v1h-3zM670 218h1v3h-1zM679 221h3v1h-3zM680 220h1v3h-1zM689 217h3v1h-3zM690 216h1v3h-1z"/>
<polyline transform="translate(.5,.5)" points="50,225.2 60,220.1 70,208.6 80,203.4 90,207.6 100,209.2 110,213.3 120,217.2 130,223.6 140,226.3 150,238.3 160,245.1 170,243.6 180,235.1 190,231.2 200,225.3 210,209.0 220,201.3 230,203.4 240,214.3 250,220.1 260,206.5 270,196.9 280,184.6 290,179.2 300,176.5 310,177.8 320,179.2 330,191.4 340,206.9 350,216.3 360,221.8 370,221.8 380,227.7 390,233.5 400,238.4 410,228.2 420,217.6 430,214.1 440,216.5 450,217.4 460,217.7 470,225.3 480,224.4 490,217.5 500,219.9 510,230.7 520,227.3 530,226.4 540,219.9 550,224.5 560,226.3 570,228.8 580,224.7 590,219.0 600,226.4 610,219.3 620,226.4 630,224.4 640,223.3 650,193.0 660,203.9 670,212.0 680,213.7 690,213.5" fill="none" stroke="#F86820" stroke-width="1" shape-rendering="crispEdges"/>
<path shape-rendering="crispEdges" fill="#F86820" d="M49 225h3v1h-3zM50 224h1v3h-1zM59 220h3v1h-3zM60 219h1v3h-1zM69 209h3v1h-3zM70 208h1v3h-1zM79 203h3v1h-3zM80 202h1v3h-1zM89 208h3v1h-3zM90 207h1v3h-1zM99 209h3v1h-3zM100 208h1v3h-1zM109 213h3v1h-3zM110 212h1v3h-1zM119 217h3v1h-3zM120 216h1v3h-1zM129 224h3v1h-3zM130 223h1v3h-1zM139 226h3v1h-3zM140 225h1v3h-1zM149 238h3v1h-3zM150 237h1v3h-1zM159 245h3v1h-3zM160 244h1v3h-1zM169 244h3v1h-3zM170 243h1v3h-1zM179 235h3v1h-3zM180 234h1v3h-1zM189 231h3v1h-3zM190 230h1v3h-1zM199 225h3v1h-3zM200 224h1v3h-1zM209 209h3v1h-3zM210 208h1v3h-1zM219 201h3v1h-3zM220 200h1v3h-1zM229 203h3v1h-3zM230 202h1v3h-1zM239 214h3v1h-3zM240 213h1v3h-1zM249 220h3v1h-3zM250 219h1v3h-1zM259 206h3v1h-3zM260 205h1v3h-1zM269 197h3v1h-3zM270 196h1v3h-1zM279 185h3v1h-3zM280 184h1v3h-1zM289 179h3v1h-3zM290 178h1v3h-1zM299 176h3v1h-3zM300 175h1v3h-1zM309 178h3v1h-3zM310 177h1v3h-1zM319 179h3v1h-3zM320 178h1v3h-1zM329 191h3v1h-3zM330 190h1v3h-1zM339 207h3v1h-3zM340 206h1v3h-1zM349 216h3v1h-3zM350 215h1v3h-1zM359 222h3v1h-3zM360 221h1v3h-1zM369 222h3v1h-3zM370 221h1v3h-1zM379 228h3v1h-3zM380 227h1v3h-1zM389 234h3v1h-3zM390 233h1v3h-1zM399 238h3v1h-3zM400 237h1v3h-1zM409 228h3v1h-3zM410 227h1v3h-1zM419 218h3v1h-3zM420 217h1v3h-1zM429 214h3v1h-3zM430 213h1v3h-1zM439 217h3v1h-3zM440 216h1v3h-1zM449 217h3v1h-3zM450 216h1v3h-1zM459 218h3v1h-3zM460 217h1v3h-1zM469 225h3v1h-3zM470 224h1v3h-1zM479 224h3v1h-3zM480 223h1v3h-1zM489 217h3v1h-3zM490 216h1v3h-1zM499 220h3v1h-3zM500 219h1v3h-1zM509 231h3v1h-3zM510 230h1v3h-1zM519 227h3v1h-3zM520 226h1v3h-1zM529 226h3v1h-3zM530 225h1v3h-1zM539 220h3v1h-3zM540 219h1v3h-1zM549 225h3v1h-3zM550 224h1v3h-1zM559 226h3v1h-3zM560 225h1v3h-1zM569 229h3v1h-3zM570 228h1v3h-1zM579 225h3v1h-3zM580 224h1v3h-1zM589 219h3v1h-3zM590 218h1v3h-1zM599 226h3v1h-3zM600 225h1v3h-1zM609 219h3v1h-3zM610 218h1v3h-1zM619 226h3v1h-3zM620 225h1v3h-1zM629 224h3v1h-3zM630 223h1v3h-1zM639 223h3v1h-3zM640 222h1v3h-1zM649 193h3v1h-3zM650 192h1v3h-1zM659 204h3v1h-3zM660 203h1v3h-1zM669 212h3v1h-3zM670 211h1v3h-1zM679 214h3v1h-3zM680 213h1v3h-1zM689 214h3v1h-3zM690 213h1v3h-1z"/>
<polyline transform="translate(.5,.5)" points="50,225.9 60,220.5 70,210.1 80,205.4 90,210.1 100,212.3 110,217.1 120,222.9 130,223.5 140,226.6 150,236.5 160,243.1 170,235.7 180,231.3 190,222.6 200,217.0 210,201.4 220,193.8 230,197.0 240,209.3 250,202.5 260,203.8 270,200.2 280,208.0 290,206.6 300,209.1 310,205.3 320,212.2 330,207.4 340,205.5 350,204.5 360,196.9 370,183.1 380,181.8 390,194.9 400,215.2 410,226.8 420,230.0 430,225.9 440,233.6 450,231.6 460,232.6 470,219.8 480,218.1 490,220.6 500,217.0 510,221.1 520,224.2 530,222.7 540,220.2 550,226.8 560,216.9 570,221.5 580,202.1 590,213.4 600,215.3 610,219.5 620,210.1 630,224.6 640,229.4 650,228.4 660,226.5 670,224.5 680,224.0 690,219.9" fill="none" stroke="#C8B870" stroke-width="1" shape-rendering="crispEdges"/>
<path shape-rendering="crispEdges" fill="#C8B870" d="M49 226h3v1h-3zM50 225h1v3h-1zM59 221h3v1h-3zM60 220h1v3h-1zM69 210h3v1h-3zM70 209h1v3h-1zM79 205h3v1h-3zM80 204h1v3h-1zM89 210h3v1h-3zM90 209h1v3h-1zM99 212h3v1h-3zM100 211h1v3h-1zM109 217h3v1h-3zM110 216h1v3h-1zM119 223h3v1h-3zM120 222h1v3h-1zM129 223h3v1h-3zM130 222h1v3h-1zM139 227h3v1h-3zM140 226h1v3h-1zM149 237h3v1h-3zM150 236h1v3h-1zM159 243h3v1h-3zM160 242h1v3h-1zM169 236h3v1h-3zM170 235h1v3h-1zM179 231h3v1h-3zM180 230h1v3h-1zM189 223h3v1h-3zM190 222h1v3h-1zM199 217h3v1h-3zM200 216h1v3h-1zM209 201h3v1h-3zM210 200h1v3h-1zM219 194h3v1h-3zM220 193h1v3h-1zM229 197h3v1h-3zM230 196h1v3h-1zM239 209h3v1h-3zM240 208h1v3h-1zM249 202h3v1h-3zM250 201h1v3h-1zM259 204h3v1h-3zM260 203h1v3h-1zM269 200h3v1h-3zM270 199h1v3h-1zM279 208h3v1h-3zM280 207h1v3h-1zM289 207h3v1h-3zM290 206h1v3h-1zM299 209h3v1h-3zM300 208h1v3h-1zM309 205h3v1h-3zM310 204h1v3h-1zM319 212h3v1h-3zM320 211h1v3h-1zM329 207h3v1h-3zM330 206h1v3h-1zM339 206h3v1h-3zM340 205h1v3h-1zM349 205h3v1h-3zM350 204h1v3h-1zM359 197h3v1h-3zM360 196h1v3h-1zM369 183h3v1h-3zM370 182h1v3h-1zM379 182h3v1h-3zM380 181h1v3h-1zM389 195h3v1h-3zM390 194h1v3h-1zM399 215h3v1h-3zM400 214h1v3h-1zM409 227h3v1h-3zM410 226h1v3h-1zM419 230h3v1h-3zM420 229h1v3h-1zM429 226h3v1h-3zM430 225h1v3h-1zM439 234h3v1h-3zM440 233h1v3h-1zM449 232h3v1h-3zM450 231h1v3h-1zM459 233h3v1h-3zM460 232h1v3h-1zM469 220h3v1h-3zM470 219h1v3h-1zM479 218h3v1h-3zM480 217h1v3h-1zM489 221h3v1h-3zM490 220h1v3h-1zM499 217h3v1h-3zM500 216h1v3h-1zM509 221h3v1h-3zM510 220h1v3h-1zM519 224h3v1h-3zM520 223h1v3h-1zM529 223h3v1h-3zM530 222h1v3h-1zM539 220h3v1h-3zM540 219h1v3h-1zM549 227h3v1h-3zM550 226h1v3h-1zM559 217h3v1h-3zM560 216h1v3h-1zM569 221h3v1h-3zM570 220h1v3h-1zM579 202h3v1h-3zM580 201h1v3h-1zM589 213h3v1h-3zM590 212h1v3h-1zM599 215h3v1h-3zM600 214h1v3h-1zM609 219h3v1h-3zM610 218h1v3h-1zM619 210h3v1h-3zM620 209h1v3h-1zM629 225h3v1h-3zM630 224h1v3h-1zM639 229h3v1h-3zM640 228h1v3h-1zM649 228h3v1h-3zM650 227h1v3h-1zM659 226h3v1h-3zM660 225h1v3h-1zM669 225h3v1h-3zM670 224h1v3h-1zM679 224h3v1h-3zM680 223h1v3h-1zM689 220h3v1h-3zM690 219h1v3h-1z"/>
<polyline transform="translate(.5,.5)" points="50,225.2 60,219.7 70,208.5 80,203.0 90,204.2 100,208.7 110,213.2 120,215.8 130,218.3 140,223.0 150,234.3 160,236.9 170,240.5 180,231.1 190,229.0 200,220.1 210,208.9 220,202.1 230,198.9 240,203.3 250,209.1 260,206.0 270,212.0 280,220.1 290,216.2 300,202.0 310,219.9 320,217.7 330,209.8 340,212.0 350,209.3 360,207.3 370,203.0 380,191.9 390,195.4 400,197.1 410,187.4 420,192.0 430,199.4 440,199.0 450,203.8 460,200.5 470,203.0 480,207.2 490,214.6 500,202.6 510,208.4 520,210.6 530,210.1 540,215.1 550,216.7 560,220.2 570,215.6 580,218.0 590,211.2 600,212.8 610,213.1 620,193.3 630,198.5 640,223.8 650,220.5 660,224.0 670,211.7 680,209.5 690,205.7" fill="none" stroke="#10D860" stroke-width="1" shape-rendering="crispEdges"/>
<path shape-rendering="crispEdges" fill="#10D860" d="M49 225h3v1h-3zM50 224h1v3h-1zM59 220h3v1h-3zM60 219h1v3h-1zM69 208h3v1h-3zM70 207h1v3h-1zM79 203h3v1h-3zM80 202h1v3h-1zM89 204h3v1h-3zM90 203h1v3h-1zM99 209h3v1h-3zM100 208h1v3h-1zM109 213h3v1h-3zM110 212h1v3h-1zM119 216h3v1h-3zM120 215h1v3h-1zM129 218h3v1h-3zM130 217h1v3h-1zM139 223h3v1h-3zM140 222h1v3h-1zM149 234h3v1h-3zM150 233h1v3h-1zM159 237h3v1h-3zM160 236h1v3h-1zM169 241h3v1h-3zM170 240h1v3h-1zM179 231h3v1h-3zM180 230h1v3h-1zM189 229h3v1h-3zM190 228h1v3h-1zM199 220h3v1h-3zM200 219h1v3h-1zM209 209h3v1h-3zM210 208h1v3h-1zM219 202h3v1h-3zM220 201h1v3h-1zM229 199h3v1h-3zM230 198h1v3h-1zM239 203h3v1h-3zM240 202h1v3h-1zM249 209h3v1h-3zM250 208h1v3h-1zM259 206h3v1h-3zM260 205h1v3h-1zM269 212h3v1h-3zM270 211h1v3h-1zM279 220h3v1h-3zM280 219h1v3h-1zM289 216h3v1h-3zM290 215h1v3h-1zM299 202h3v1h-3zM300 201h1v3h-1zM309 220h3v1h-3zM310 219h1v3h-1zM319 218h3v1h-3zM320 217h1v3h-1zM329 210h3v1h-3zM330 209h1v3h-1zM339 212h3v1h-3zM340 211h1v3h-1zM349 209h3v1h-3zM350 208h1v3h-1zM359 207h3v1h-3zM360 206h1v3h-1zM369 203h3v1h-3zM370 202h1v3h-1zM379 192h3v1h-3zM380 191h1v3h-1zM389 195h3v1h-3zM390 194h1v3h-1zM399 197h3v1h-3zM400 196h1v3h-1zM409 187h3v1h-3zM410 186h1v3h-1zM419 192h3v1h-3zM420 191h1v3h-1zM429 199h3v1h-3zM430 198h1v3h-1zM439 199h3v1h-3zM440 198h1v3h-1zM449 204h3v1h-3zM450 203h1v3h-1zM459 201h3v1h-3zM460 200h1v3h-1zM469 203h3v1h-3zM470 202h1v3h-1zM479 207h3v1h-3zM480 206h1v3h-1zM489 215h3v1h-3zM490 214h1v3h-1zM499 203h3v1h-3zM500 202h1v3h-1zM509 208h3v1h-3zM510 207h1v3h-1zM519 211h3v1h-3zM520 210h1v3h-1zM529 210h3v1h-3zM530 209h1v3h-1zM539 215h3v1h-3zM540 214h1v3h-1zM549 217h3v1h-3zM550 216h1v3h-1zM559 220h3v1h-3zM560 219h1v3h-1zM569 216h3v1h-3zM570 215h1v3h-1zM579 218h3v1h-3zM580 217h1v3h-1zM589 211h3v1h-3zM590 210h1v3h-1zM599 213h3v1h-3zM600 212h1v3h-1zM609 213h3v1h-3zM610 212h1v3h-1zM619 193h3v1h-3zM620 192h1v3h-1zM629 198h3v1h-3zM630 197h1v3h-1zM639 224h3v1h-3zM640 223h1v3h-1zM649 220h3v1h-3zM650 219h1v3h-1zM659 224h3v1h-3zM660 223h1v3h-1zM669 212h3v1h-3zM670 211h1v3h-1zM679 210h3v1h-3zM680 209h1v3h-1zM689 206h3v1h-3zM690 205h1v3h-1z"/>
<polyline transform="translate(.5,.5)" points="50,225.2 60,219.9 70,209.2 80,205.7 90,212.1 100,212.2 110,216.1 120,223.6 130,225.1 140,228.4 150,237.5 160,239.7 170,233.6 180,218.8 190,217.9 200,212.1 210,190.6 220,186.4 230,189.4 240,184.0 250,184.3 260,177.4 270,181.7 280,177.5 290,168.1 300,166.3 310,171.7 320,176.7 330,174.8 340,174.6 350,192.5 360,181.2 370,174.2 380,175.7 390,173.8 400,187.9 410,196.4 420,201.4 430,210.0 440,204.3 450,210.1 460,206.3 470,213.1 480,216.3 490,214.8 500,215.4 510,209.4 520,217.7 530,214.6 540,208.7 550,208.7 560,212.2 570,211.0 580,200.0 590,220.5 600,228.8 610,229.1 620,228.6 630,230.5 640,229.8 650,217.7 660,206.8 670,201.6 680,202.4 690,200.2" fill="none" stroke="#204060" stroke-width="1" shape-rendering="crispEdges"/>
<path shape-rendering="crispEdges" fill="#204060" d="M49 225h3v1h-3zM50 224h1v3h-1zM59 220h3v1h-3zM60 219h1v3h-1zM69 209h3v1h-3zM70 208h1v3h-1zM79 206h3v1h-3zM80 205h1v3h-1zM89 212h3v1h-3zM90 211h1v3h-1zM99 212h3v1h-3zM100 211h1v3h-1zM109 216h3v1h-3zM110 215h1v3h-1zM119 224h3v1h-3zM120 223h1v3h-1zM129 225h3v1h-3zM130 224h1v3h-1zM139 228h3v1h-3zM140 227h1v3h-1zM149 238h3v1h-3zM150 237h1v3h-1zM159 240h3v1h-3zM160 239h1v3h-1zM169 234h3v1h-3zM170 233h1v3h-1zM179 219h3v1h-3zM180 218h1v3h-1zM189 218h3v1h-3zM190 217h1v3h-1zM199 212h3v1h-3zM200 211h1v3h-1zM209 191h3v1h-3zM210 190h1v3h-1zM219 186h3v1h-3zM220 185h1v3h-1zM229 189h3v1h-3zM230 188h1v3h-1zM239 184h3v1h-3zM240 183h1v3h-1zM249 184h3v1h-3zM250 183h1v3h-1zM259 177h3v1h-3zM260 176h1v3h-1zM269 182h3v1h-3zM270 181h1v3h-1zM279 177h3v1h-3zM280 176h1v3h-1zM289 168h3v1h-3zM290 167h1v3h-1zM299 166h3v1h-3zM300 165h1v3h-1zM309 172h3v1h-3zM310 171h1v3h-1zM319 177h3v1h-3zM320 176h1v3h-1zM329 175h3v1h-3zM330 174h1v3h-1zM339 175h3v1h-3zM340 174h1v3h-1zM349 193h3v1h-3zM350 192h1v3h-1zM359 181h3v1h-3zM360 180h1v3h-1zM369 174h3v1h-3zM370 173h1v3h-1zM379 176h3v1h-3zM380 175h1v3h-1zM389 174h3v1h-3zM390 173h1v3h-1zM399 188h3v1h-3zM400 187h1v3h-1zM409 196h3v1h-3zM410 195h1v3h-1zM419 201h3v1h-3zM420 200h1v3h-1zM429 210h3v1h-3zM430 209h1v3h-1zM439 204h3v1h-3zM440 203h1v3h-1zM449 210h3v1h-3zM450 209h1v3h-1zM459 206h3v1h-3zM460 205h1v3h-1zM469 213h3v1h-3zM470 212h1v3h-1zM479 216h3v1h-3zM480 215h1v3h-1zM489 215h3v1h-3zM490 214h1v3h-1zM499 215h3v1h-3zM500 214h1v3h-1zM509 209h3v1h-3zM510 208h1v3h-1zM519 218h3v1h-3zM520 217h1v3h-1zM529 215h3v1h-3zM530 214h1v3h-1zM539 209h3v1h-3zM540 208h1v3h-1zM549 209h3v1h-3zM550 208h1v3h-1zM559 212h3v1h-3zM560 211h1v3h-1zM569 211h3v1h-3zM570 210h1v3h-1zM579 200h3v1h-3zM580 199h1v3h-1zM589 221h3v1h-3zM590 220h1v3h-1zM599 229h3v1h-3zM600 228h1v3h-1zM609 229h3v1h-3zM610 228h1v3h-1zM619 229h3v1h-3zM620 228h1v3h-1zM629 230h3v1h-3zM630 229h1v3h-1zM639 230h3v1h-3zM640 229h1v3h-1zM649 218h3v1h-3zM650 217h1v3h-1zM659 207h3v1h-3zM660 206h1v3h-1zM669 202h3v1h-3zM670 201h1v3h-1zM679 202h3v1h-3zM680 201h1v3h-1zM689 200h3v1h-3zM690 199h1v3h-1z"/>
<polyline transform="translate(.5,.5)" points="50,222.2 60,219.1 70,208.5 80,204.2 90,206.4 100,211.5 110,218.2 120,224.9 130,227.7 140,227.7 150,238.5 160,244.4 170,242.8 180,234.3 190,234.6 200,237.2 210,220.0 220,213.5 230,212.2 240,233.3 250,232.9 260,231.8 270,235.3 280,230.4 290,229.2 300,242.7 310,249.5 320,258.9 330,256.2 340,249.5 350,261.6 360,263.0 370,253.5 380,245.4 390,256.2 400,261.6 410,253.5 420,246.8 430,246.8 440,247.6 450,249.5 460,249.5 470,247.6 480,246.2 490,242.7 500,241.4 510,243.5 520,246.8 530,246.2 540,254.9 550,260.3 560,261.6 570,261.6 580,250.8 590,246.8 600,246.8 610,234.6 620,229.2 630,226.5 640,208.0 650,205.2 660,182.3 670,176.3 680,164.2 690,166.2" fill="none" stroke="#707880" stroke-width="1" shape-rendering="crispEdges"/>
<path shape-rendering="crispEdges" fill="#707880" d="M49 222h3v1h-3zM50 221h1v3h-1zM59 219h3v1h-3zM60 218h1v3h-1zM69 209h3v1h-3zM70 208h1v3h-1zM79 204h3v1h-3zM80 203h1v3h-1zM89 206h3v1h-3zM90 205h1v3h-1zM99 212h3v1h-3zM100 211h1v3h-1zM109 218h3v1h-3zM110 217h1v3h-1zM119 225h3v1h-3zM120 224h1v3h-1zM129 228h3v1h-3zM130 227h1v3h-1zM139 228h3v1h-3zM140 227h1v3h-1zM149 238h3v1h-3zM150 237h1v3h-1zM159 244h3v1h-3zM160 243h1v3h-1zM169 243h3v1h-3zM170 242h1v3h-1zM179 234h3v1h-3zM180 233h1v3h-1zM189 235h3v1h-3zM190 234h1v3h-1zM199 237h3v1h-3zM200 236h1v3h-1zM209 220h3v1h-3zM210 219h1v3h-1zM219 213h3v1h-3zM220 212h1v3h-1zM229 212h3v1h-3zM230 211h1v3h-1zM239 233h3v1h-3zM240 232h1v3h-1zM249 233h3v1h-3zM250 232h1v3h-1zM259 232h3v1h-3zM260 231h1v3h-1zM269 235h3v1h-3zM270 234h1v3h-1zM279 230h3v1h-3zM280 229h1v3h-1zM289 229h3v1h-3zM290 228h1v3h-1zM299 243h3v1h-3zM300 242h1v3h-1zM309 249h3v1h-3zM310 248h1v3h-1zM319 259h3v1h-3zM320 258h1v3h-1zM329 256h3v1h-3zM330 255h1v3h-1zM339 249h3v1h-3zM340 248h1v3h-1zM349 262h3v1h-3zM350 261h1v3h-1zM359 263h3v1h-3zM360 262h1v3h-1zM369 254h3v1h-3zM370 253h1v3h-1zM379 245h3v1h-3zM380 244h1v3h-1zM389 256h3v1h-3zM390 255h1v3h-1zM399 262h3v1h-3zM400 261h1v3h-1zM409 254h3v1h-3zM410 253h1v3h-1zM419 247h3v1h-3zM420 246h1v3h-1zM429 247h3v1h-3zM430 246h1v3h-1zM439 248h3v1h-3zM440 247h1v3h-1zM449 249h3v1h-3zM450 248h1v3h-1zM459 249h3v1h-3zM460 248h1v3h-1zM469 248h3v1h-3zM470 247h1v3h-1zM479 246h3v1h-3zM480 245h1v3h-1zM489 243h3v1h-3zM490 242h1v3h-1zM499 241h3v1h-3zM500 240h1v3h-1zM509 244h3v1h-3zM510 243h1v3h-1zM519 247h3v1h-3zM520 246h1v3h-1zM529 246h3v1h-3zM530 245h1v3h-1zM539 255h3v1h-3zM540 254h1v3h-1zM549 260h3v1h-3zM550 259h1v3h-1zM559 262h3v1h-3zM560 261h1v3h-1zM569 262h3v1h-3zM570 261h1v3h-1zM579 251h3v1h-3zM580 250h1v3h-1zM589 247h3v1h-3zM590 246h1v3h-1zM599 247h3v1h-3zM600 246h1v3h-1zM609 235h3v1h-3zM610 234h1v3h-1zM619 229h3v1h-3zM620 228h1v3h-1zM629 226h3v1h-3zM630 225h1v3h-1zM639 208h3v1h-3zM640 207h1v3h-1zM649 205h3v1h-3zM650 204h1v3h-1zM659 182h3v1h-3zM660 181h1v3h-1zM669 176h3v1h-3zM670 175h1v3h-1zM679 164h3v1h-3zM680 163h1v3h-1zM689 166h3v1h-3zM690 165h1v3h-1z"/>
<polyline transform="translate(.5,.5)" points="50,224.4 60,219.4 70,207.2 80,201.8 90,201.3 100,208.4 110,215.4 120,218.3 130,219.8 140,221.0 150,233.5 160,237.1 170,233.9 180,232.0 190,245.4 200,241.4 210,225.1 220,214.3 230,213.0 240,235.1 250,234.6 260,231.9 270,238.6 280,242.7 290,241.4 300,234.2 310,230.9 320,228.1 330,221.3 340,217.6 350,233.4 360,225.8 370,220.6 380,215.6 390,231.3 400,225.9 410,218.4 420,198.4 430,177.8 440,173.8 450,169.2 460,172.4 470,183.2 480,198.2 490,205.1 500,216.9 510,207.8 520,198.0 530,178.4 540,174.6 550,179.2 560,183.2 570,180.5 580,177.8 590,200.7 600,214.9 610,228.2 620,223.3 630,231.8 640,224.6 650,222.3 660,218.4 670,218.2 680,227.6 690,228.0" fill="none" stroke="#E080F0" stroke-width="1" shape-rendering="crispEdges"/>
<path shape-rendering="crispEdges" fill="#E080F0" d="M49 224h3v1h-3zM50 223h1v3h-1zM59 219h3v1h-3zM60 218h1v3h-1zM69 207h3v1h-3zM70 206h1v3h-1zM79 202h3v1h-3zM80 201h1v3h-1zM89 201h3v1h-3zM90 200h1v3h-1zM99 208h3v1h-3zM100 207h1v3h-1zM109 215h3v1h-3zM110 214h1v3h-1zM119 218h3v1h-3zM120 217h1v3h-1zM129 220h3v1h-3zM130 219h1v3h-1zM139 221h3v1h-3zM140 220h1v3h-1zM149 234h3v1h-3zM150 233h1v3h-1zM159 237h3v1h-3zM160 236h1v3h-1zM169 234h3v1h-3zM170 233h1v3h-1zM179 232h3v1h-3zM180 231h1v3h-1zM189 245h3v1h-3zM190 244h1v3h-1zM199 241h3v1h-3zM200 240h1v3h-1zM209 225h3v1h-3zM210 224h1v3h-1zM219 214h3v1h-3zM220 213h1v3h-1zM229 213h3v1h-3zM230 212h1v3h-1zM239 235h3v1h-3zM240 234h1v3h-1zM249 235h3v1h-3zM250 234h1v3h-1zM259 232h3v1h-3zM260 231h1v3h-1zM269 239h3v1h-3zM270 238h1v3h-1zM279 243h3v1h-3zM280 242h1v3h-1zM289 241h3v1h-3zM290 240h1v3h-1zM299 234h3v1h-3zM300 233h1v3h-1zM309 231h3v1h-3zM310 230h1v3h-1zM319 228h3v1h-3zM320 227h1v3h-1zM329 221h3v1h-3zM330 220h1v3h-1zM339 218h3v1h-3zM340 217h1v3h-1zM349 233h3v1h-3zM350 232h1v3h-1zM359 226h3v1h-3zM360 225h1v3h-1zM369 221h3v1h-3zM370 220h1v3h-1zM379 216h3v1h-3zM380 215h1v3h-1zM389 231h3v1h-3zM390 230h1v3h-1zM399 226h3v1h-3zM400 225h1v3h-1zM409 218h3v1h-3zM410 217h1v3h-1zM419 198h3v1h-3zM420 197h1v3h-1zM429 178h3v1h-3zM430 177h1v3h-1zM439 174h3v1h-3zM440 173h1v3h-1zM449 169h3v1h-3zM450 168h1v3h-1zM459 172h3v1h-3zM460 171h1v3h-1zM469 183h3v1h-3zM470 182h1v3h-1zM479 198h3v1h-3zM480 197h1v3h-1zM489 205h3v1h-3zM490 204h1v3h-1zM499 217h3v1h-3zM500 216h1v3h-1zM509 208h3v1h-3zM510 207h1v3h-1zM519 198h3v1h-3zM520 197h1v3h-1zM529 178h3v1h-3zM530 177h1v3h-1zM539 175h3v1h-3zM540 174h1v3h-1zM549 179h3v1h-3zM550 178h1v3h-1zM559 183h3v1h-3zM560 182h1v3h-1zM569 181h3v1h-3zM570 180h1v3h-1zM579 178h3v1h-3zM580 177h1v3h-1zM589 201h3v1h-3zM590 200h1v3h-1zM599 215h3v1h-3zM600 214h1v3h-1zM609 228h3v1h-3zM610 227h1v3h-1zM619 223h3v1h-3zM620 222h1v3h-1zM629 232h3v1h-3zM630 231h1v3h-1zM639 225h3v1h-3zM640 224h1v3h-1zM649 222h3v1h-3zM650 221h1v3h-1zM659 218h3v1h-3zM660 217h1v3h-1zM669 218h3v1h-3zM670 217h1v3h-1zM679 228h3v1h-3zM680 227h1v3h-1zM689 228h3v1h-3zM690 227h1v3h-1z"/>
<polyline transform="translate(.5,.5)" points="50,227.9 60,220.9 70,210.0 80,206.8 90,212.8 100,213.1 110,218.3 120,220.6 130,226.4 140,229.4 150,238.7 160,246.1 170,242.0 180,237.7 190,234.3 200,220.7 210,211.1 220,199.8 230,203.3 240,213.6 250,214.4 260,221.9 270,231.2 280,234.7 290,237.6 300,245.4 310,260.0 320,263.4 330,257.2 340,248.5 350,259.5 360,260.8 370,249.9 380,240.6 390,253.9 400,243.9 410,238.5 420,230.5 430,222.1 440,228.9 450,226.4 460,223.5 470,223.3 480,227.8 490,226.5 500,242.2 510,240.2 520,228.0 530,230.1 540,241.3 550,238.8 560,242.9 570,243.6 580,235.1 590,232.9 600,233.1 610,238.0 620,236.0 630,240.4 640,241.5 650,233.4 660,222.0 670,221.2 680,221.9 690,224.0" fill="none" stroke="#8020F0" stroke-width="1" shape-rendering="crispEdges"/>
<path shape-rendering="crispEdges" fill="#8020F0" d="M49 228h3v1h-3zM50 227h1v3h-1zM59 221h3v1h-3zM60 220h1v3h-1zM69 210h3v1h-3zM70 209h1v3h-1zM79 207h3v1h-3zM80 206h1v3h-1zM89 213h3v1h-3zM90 212h1v3h-1zM99 213h3v1h-3zM100 212h1v3h-1zM109 218h3v1h-3zM110 217h1v3h-1zM119 221h3v1h-3zM120 220h1v3h-1zM129 226h3v1h-3zM130 225h1v3h-1zM139 229h3v1h-3zM140 228h1v3h-1zM149 239h3v1h-3zM150 238h1v3h-1zM159 246h3v1h-3zM160 245h1v3h-1zM169 242h3v1h-3zM170 241h1v3h-1zM179 238h3v1h-3zM180 237h1v3h-1zM189 234h3v1h-3zM190 233h1v3h-1zM199 221h3v1h-3zM200 220h1v3h-1zM209 211h3v1h-3zM210 210h1v3h-1zM219 200h3v1h-3zM220 199h1v3h-1zM229 203h3v1h-3zM230 202h1v3h-1zM239 214h3v1h-3zM240 213h1v3h-1zM249 214h3v1h-3zM250 213h1v3h-1zM259 222h3v1h-3zM260 221h1v3h-1zM269 231h3v1h-3zM270 230h1v3h-1zM279 235h3v1h-3zM280 234h1v3h-1zM289 238h3v1h-3zM290 237h1v3h-1zM299 245h3v1h-3zM300 244h1v3h-1zM309 260h3v1h-3zM310 259h1v3h-1zM319 263h3v1h-3zM320 262h1v3h-1zM329 257h3v1h-3zM330 256h1v3h-1zM339 248h3v1h-3zM340 247h1v3h-1zM349 259h3v1h-3zM350 258h1v3h-1zM359 261h3v1h-3zM360 260h1v3h-1zM369 250h3v1h-3zM370 249h1v3h-1zM379 241h3v1h-3zM380 240h1v3h-1zM389 254h3v1h-3zM390 253h1v3h-1zM399 244h3v1h-3zM400 243h1v3h-1zM409 239h3v1h-3zM410 238h1v3h-1zM419 231h3v1h-3zM420 230h1v3h-1zM429 222h3v1h-3zM430 221h1v3h-1zM439 229h3v1h-3zM440 228h1v3h-1zM449 226h3v1h-3zM450 225h1v3h-1zM459 223h3v1h-3zM460 222h1v3h-1zM469 223h3v1h-3zM470 222h1v3h-1zM479 228h3v1h-3zM480 227h1v3h-1zM489 226h3v1h-3zM490 225h1v3h-1zM499 242h3v1h-3zM500 241h1v3h-1zM509 240h3v1h-3zM510 239h1v3h-1zM519 228h3v1h-3zM520 227h1v3h-1zM529 230h3v1h-3zM530 229h1v3h-1zM539 241h3v1h-3zM540 240h1v3h-1zM549 239h3v1h-3zM550 238h1v3h-1zM559 243h3v1h-3zM560 242h1v3h-1zM569 244h3v1h-3zM570 243h1v3h-1zM579 235h3v1h-3zM580 234h1v3h-1zM589 233h3v1h-3zM590 232h1v3h-1zM599 233h3v1h-3zM600 232h1v3h-1zM609 238h3v1h-3zM610 237h1v3h-1zM619 236h3v1h-3zM620 235h1v3h-1zM629 240h3v1h-3zM630 239h1v3h-1zM639 242h3v1h-3zM640 241h1v3h-1zM649 233h3v1h-3zM650 232h1v3h-1zM659 222h3v1h-3zM660 221h1v3h-1zM669 221h3v1h-3zM670 220h1v3h-1zM679 222h3v1h-3zM680 221h1v3h-1zM689 224h3v1h-3zM690 223h1v3h-1z"/>
<polyline transform="translate(.5,.5)" points="50,227.7 60,221.1 70,208.9 80,202.0 90,200.5 100,205.4 110,205.4 120,211.2 130,216.0 140,216.7 150,229.6 160,231.0 170,222.3 180,206.4 190,210.8 200,198.0 210,187.1 220,182.8 230,189.3 240,184.9 250,181.5 260,177.3 270,179.6 280,177.8 290,177.0 300,188.9 310,181.0 320,186.3 330,182.6 340,178.4 350,183.2 360,181.4 370,166.8 380,176.0 390,172.6 400,179.1 410,176.3 420,179.7 430,189.6 440,191.3 450,191.4 460,186.6 470,203.8 480,204.3 490,198.5 500,204.5 510,203.0 520,205.4 530,199.2 540,201.6 550,215.6 560,209.3 570,193.7 580,180.5 590,175.1 600,173.8 610,173.0 620,172.4 630,171.1 640,169.7 650,173.8 660,165.7 670,164.3 680,161.6 690,163.0" fill="none" stroke="#6B5A20" stroke-width="1" shape-rendering="crispEdges"/>
<path shape-rendering="crispEdges" fill="#6B5A20" d="M49 228h3v1h-3zM50 227h1v3h-1zM59 221h3v1h-3zM60 220h1v3h-1zM69 209h3v1h-3zM70 208h1v3h-1zM79 202h3v1h-3zM80 201h1v3h-1zM89 201h3v1h-3zM90 200h1v3h-1zM99 205h3v1h-3zM100 204h1v3h-1zM109 205h3v1h-3zM110 204h1v3h-1zM119 211h3v1h-3zM120 210h1v3h-1zM129 216h3v1h-3zM130 215h1v3h-1zM139 217h3v1h-3zM140 216h1v3h-1zM149 230h3v1h-3zM150 229h1v3h-1zM159 231h3v1h-3zM160 230h1v3h-1zM169 222h3v1h-3zM170 221h1v3h-1zM179 206h3v1h-3zM180 205h1v3h-1zM189 211h3v1h-3zM190 210h1v3h-1zM199 198h3v1h-3zM200 197h1v3h-1zM209 187h3v1h-3zM210 186h1v3h-1zM219 183h3v1h-3zM220 182h1v3h-1zM229 189h3v1h-3zM230 188h1v3h-1zM239 185h3v1h-3zM240 184h1v3h-1zM249 182h3v1h-3zM250 181h1v3h-1zM259 177h3v1h-3zM260 176h1v3h-1zM269 180h3v1h-3zM270 179h1v3h-1zM279 178h3v1h-3zM280 177h1v3h-1zM289 177h3v1h-3zM290 176h1v3h-1zM299 189h3v1h-3zM300 188h1v3h-1zM309 181h3v1h-3zM310 180h1v3h-1zM319 186h3v1h-3zM320 185h1v3h-1zM329 183h3v1h-3zM330 182h1v3h-1zM339 178h3v1h-3zM340 177h1v3h-1zM349 183h3v1h-3zM350 182h1v3h-1zM359 181h3v1h-3zM360 180h1v3h-1zM369 167h3v1h-3zM370 166h1v3h-1zM379 176h3v1h-3zM380 175h1v3h-1zM389 173h3v1h-3zM390 172h1v3h-1zM399 179h3v1h-3zM400 178h1v3h-1zM409 176h3v1h-3zM410 175h1v3h-1zM419 180h3v1h-3zM420 179h1v3h-1zM429 190h3v1h-3zM430 189h1v3h-1zM439 191h3v1h-3zM440 190h1v3h-1zM449 191h3v1h-3zM450 190h1v3h-1zM459 187h3v1h-3zM460 186h1v3h-1zM469 204h3v1h-3zM470 203h1v3h-1zM479 204h3v1h-3zM480 203h1v3h-1zM489 199h3v1h-3zM490 198h1v3h-1zM499 204h3v1h-3zM500 203h1v3h-1zM509 203h3v1h-3zM510 202h1v3h-1zM519 205h3v1h-3zM520 204h1v3h-1zM529 199h3v1h-3zM530 198h1v3h-1zM539 202h3v1h-3zM540 201h1v3h-1zM549 216h3v1h-3zM550 215h1v3h-1zM559 209h3v1h-3zM560 208h1v3h-1zM569 194h3v1h-3zM570 193h1v3h-1zM579 181h3v1h-3zM580 180h1v3h-1zM589 175h3v1h-3zM590 174h1v3h-1zM599 174h3v1h-3zM600 173h1v3h-1zM609 173h3v1h-3zM610 172h1v3h-1zM619 172h3v1h-3zM620 171h1v3h-1zM629 171h3v1h-3zM630 170h1v3h-1zM639 170h3v1h-3zM640 169h1v3h-1zM649 174h3v1h-3zM650 173h1v3h-1zM659 166h3v1h-3zM660 165h1v3h-1zM669 164h3v1h-3zM670 163h1v3h-1zM679 162h3v1h-3zM680 161h1v3h-1zM689 163h3v1h-3zM690 162h1v3h-1z"/>
<polyline transform="translate(.5,.5)" points="50,225.2 60,219.4 70,207.4 80,200.3 90,198.3 100,203.9 110,208.6 120,215.0 130,218.4 140,222.0 150,234.7 160,235.7 170,224.9 180,218.1 190,212.0 200,199.8 210,190.1 220,182.7 230,186.6 240,181.1 250,179.2 260,173.8 270,173.0 280,167.0 290,161.6 300,163.8 310,169.2 320,173.8 330,177.8 340,180.5 350,177.8 360,172.4 370,167.0 380,167.0 390,168.4 400,176.5 410,183.2 420,194.1 430,229.2 440,223.8 450,218.4 460,209.3 470,211.5 480,210.7 490,217.6 500,209.9 510,215.4 520,219.3 530,218.1 540,206.7 550,210.7 560,207.6 570,203.6 580,214.2 590,210.9 600,198.2 610,196.2 620,194.5 630,193.4 640,214.3 650,224.1 660,231.9 670,241.4 680,242.7 690,240.0" fill="none" stroke="#300870" stroke-width="1" shape-rendering="crispEdges"/>
<path shape-rendering="crispEdges" fill="#300870" d="M49 225h3v1h-3zM50 224h1v3h-1zM59 219h3v1h-3zM60 218h1v3h-1zM69 207h3v1h-3zM70 206h1v3h-1zM79 200h3v1h-3zM80 199h1v3h-1zM89 198h3v1h-3zM90 197h1v3h-1zM99 204h3v1h-3zM100 203h1v3h-1zM109 209h3v1h-3zM110 208h1v3h-1zM119 215h3v1h-3zM120 214h1v3h-1zM129 218h3v1h-3zM130 217h1v3h-1zM139 222h3v1h-3zM140 221h1v3h-1zM149 235h3v1h-3zM150 234h1v3h-1zM159 236h3v1h-3zM160 235h1v3h-1zM169 225h3v1h-3zM170 224h1v3h-1zM179 218h3v1h-3zM180 217h1v3h-1zM189 212h3v1h-3zM190 211h1v3h-1zM199 200h3v1h-3zM200 199h1v3h-1zM209 190h3v1h-3zM210 189h1v3h-1zM219 183h3v1h-3zM220 182h1v3h-1zM229 187h3v1h-3zM230 186h1v3h-1zM239 181h3v1h-3zM240 180h1v3h-1zM249 179h3v1h-3zM250 178h1v3h-1zM259 174h3v1h-3zM260 173h1v3h-1zM269 173h3v1h-3zM270 172h1v3h-1zM279 167h3v1h-3zM280 166h1v3h-1zM289 162h3v1h-3zM290 161h1v3h-1zM299 164h3v1h-3zM300 163h1v3h-1zM309 169h3v1h-3zM310 168h1v3h-1zM319 174h3v1h-3zM320 173h1v3h-1zM329 178h3v1h-3zM330 177h1v3h-1zM339 181h3v1h-3zM340 180h1v3h-1zM349 178h3v1h-3zM350 177h1v3h-1zM359 172h3v1h-3zM360 171h1v3h-1zM369 167h3v1h-3zM370 166h1v3h-1zM379 167h3v1h-3zM380 166h1v3h-1zM389 168h3v1h-3zM390 167h1v3h-1zM399 176h3v1h-3zM400 175h1v3h-1zM409 183h3v1h-3zM410 182h1v3h-1zM419 194h3v1h-3zM420 193h1v3h-1zM429 229h3v1h-3zM430 228h1v3h-1zM439 224h3v1h-3zM440 223h1v3h-1zM449 218h3v1h-3zM450 217h1v3h-1zM459 209h3v1h-3zM460 208h1v3h-1zM469 211h3v1h-3zM470 210h1v3h-1zM479 211h3v1h-3zM480 210h1v3h-1zM489 218h3v1h-3zM490 217h1v3h-1zM499 210h3v1h-3zM500 209h1v3h-1zM509 215h3v1h-3zM510 214h1v3h-1zM519 219h3v1h-3zM520 218h1v3h-1zM529 218h3v1h-3zM530 217h1v3h-1zM539 207h3v1h-3zM540 206h1v3h-1zM549 211h3v1h-3zM550 210h1v3h-1zM559 208h3v1h-3zM560 207h1v3h-1zM569 204h3v1h-3zM570 203h1v3h-1zM579 214h3v1h-3zM580 213h1v3h-1zM589 211h3v1h-3zM590 210h1v3h-1zM599 198h3v1h-3zM600 197h1v3h-1zM609 196h3v1h-3zM610 195h1v3h-1zM619 195h3v1h-3zM620 194h1v3h-1zM629 193h3v1h-3zM630 192h1v3h-1zM639 214h3v1h-3zM640 213h1v3h-1zM649 224h3v1h-3zM650 223h1v3h-1zM659 232h3v1h-3zM660 231h1v3h-1zM669 241h3v1h-3zM670 240h1v3h-1zM679 243h3v1h-3zM680 242h1v3h-1zM689 240h3v1h-3zM690 239h1v3h-1z"/>
<polyline transform="translate(.5,.5)" points="50,225.6 60,220.4 70,209.5 80,204.5 90,210.1 100,210.9 110,215.9 120,220.0 130,221.6 140,229.3 150,237.0 160,244.0 170,237.5 180,215.6 190,215.2 200,206.6 210,188.9 220,185.9 230,192.6 240,189.6 250,191.8 260,191.2 270,201.9 280,201.9 290,212.1 300,203.5 310,204.5 320,193.7 330,195.1 340,200.7 350,204.3 360,195.0 370,187.2 380,185.8 390,191.5 400,196.6 410,195.1 420,199.6 430,199.5 440,195.6 450,194.5 460,187.9 470,181.9 480,178.4 490,177.0 500,173.0 510,185.9 520,196.8 530,204.8 540,192.1 550,200.9 560,207.1 570,197.5 580,199.1 590,194.1 600,181.9 610,175.1 620,165.7 630,159.5 640,164.3 650,165.1 660,163.8 670,169.7 680,176.5 690,184.6" fill="none" stroke="#F0D010" stroke-width="1" shape-rendering="crispEdges"/>
<path shape-rendering="crispEdges" fill="#F0D010" d="M49 226h3v1h-3zM50 225h1v3h-1zM59 220h3v1h-3zM60 219h1v3h-1zM69 209h3v1h-3zM70 208h1v3h-1zM79 204h3v1h-3zM80 203h1v3h-1zM89 210h3v1h-3zM90 209h1v3h-1zM99 211h3v1h-3zM100 210h1v3h-1zM109 216h3v1h-3zM110 215h1v3h-1zM119 220h3v1h-3zM120 219h1v3h-1zM129 222h3v1h-3zM130 221h1v3h-1zM139 229h3v1h-3zM140 228h1v3h-1zM149 237h3v1h-3zM150 236h1v3h-1zM159 244h3v1h-3zM160 243h1v3h-1zM169 237h3v1h-3zM170 236h1v3h-1zM179 216h3v1h-3zM180 215h1v3h-1zM189 215h3v1h-3zM190 214h1v3h-1zM199 207h3v1h-3zM200 206h1v3h-1zM209 189h3v1h-3zM210 188h1v3h-1zM219 186h3v1h-3zM220 185h1v3h-1zM229 193h3v1h-3zM230 192h1v3h-1zM239 190h3v1h-3zM240 189h1v3h-1zM249 192h3v1h-3zM250 191h1v3h-1zM259 191h3v1h-3zM260 190h1v3h-1zM269 202h3v1h-3zM270 201h1v3h-1zM279 202h3v1h-3zM280 201h1v3h-1zM289 212h3v1h-3zM290 211h1v3h-1zM299 203h3v1h-3zM300 202h1v3h-1zM309 205h3v1h-3zM310 204h1v3h-1zM319 194h3v1h-3zM320 193h1v3h-1zM329 195h3v1h-3zM330 194h1v3h-1zM339 201h3v1h-3zM340 200h1v3h-1zM349 204h3v1h-3zM350 203h1v3h-1zM359 195h3v1h-3zM360 194h1v3h-1zM369 187h3v1h-3zM370 186h1v3h-1zM379 186h3v1h-3zM380 185h1v3h-1zM389 192h3v1h-3zM390 191h1v3h-1zM399 197h3v1h-3zM400 196h1v3h-1zM409 195h3v1h-3zM410 194h1v3h-1zM419 200h3v1h-3zM420 199h1v3h-1zM429 199h3v1h-3zM430 198h1v3h-1zM439 196h3v1h-3zM440 195h1v3h-1zM449 194h3v1h-3zM450 193h1v3h-1zM459 188h3v1h-3zM460 187h1v3h-1zM469 182h3v1h-3zM470 181h1v3h-1zM479 178h3v1h-3zM480 177h1v3h-1zM489 177h3v1h-3zM490 176h1v3h-1zM499 173h3v1h-3zM500 172h1v3h-1zM509 186h3v1h-3zM510 185h1v3h-1zM519 197h3v1h-3zM520 196h1v3h-1zM529 205h3v1h-3zM530 204h1v3h-1zM539 192h3v1h-3zM540 191h1v3h-1zM549 201h3v1h-3zM550 200h1v3h-1zM559 207h3v1h-3zM560 206h1v3h-1zM569 197h3v1h-3zM570 196h1v3h-1zM579 199h3v1h-3zM580 198h1v3h-1zM589 194h3v1h-3zM590 193h1v3h-1zM599 182h3v1h-3zM600 181h1v3h-1zM609 175h3v1h-3zM610 174h1v3h-1zM619 166h3v1h-3zM620 165h1v3h-1zM629 159h3v1h-3zM630 158h1v3h-1zM639 164h3v1h-3zM640 163h1v3h-1zM649 165h3v1h-3zM650 164h1v3h-1zM659 164h3v1h-3zM660 163h1v3h-1zM669 170h3v1h-3zM670 169h1v3h-1zM679 176h3v1h-3zM680 175h1v3h-1zM689 185h3v1h-3zM690 184h1v3h-1z"/>
<polyline transform="translate(.5,.5)" points="50,226.6 60,220.7 70,209.9 80,205.3 90,211.2 100,210.2 110,215.9 120,220.1 130,220.5 140,226.0 150,235.5 160,236.2 170,226.1 180,216.2 190,212.4 200,203.9 210,202.5 220,191.9 230,192.6 240,192.3 250,187.5 260,181.8 270,169.8 280,176.1 290,179.0 300,184.3 310,171.7 320,183.7 330,193.0 340,197.5 350,203.0 360,209.5 370,206.8 380,206.0 390,201.3 400,208.6 410,188.3 420,197.8 430,206.8 440,214.8 450,212.1 460,203.1 470,208.9 480,207.3 490,206.6 500,202.9 510,214.9 520,214.2 530,210.1 540,215.9 550,224.2 560,225.3 570,226.5 580,230.5 590,250.8 600,267.6 610,265.1 620,266.2 630,265.7 640,250.8 650,260.3 660,263.5 670,262.4 680,254.9 690,253.5" fill="none" stroke="#2868A0" stroke-width="1" shape-rendering="crispEdges"/>
<path shape-rendering="crispEdges" fill="#2868A0" d="M49 227h3v1h-3zM50 226h1v3h-1zM59 221h3v1h-3zM60 220h1v3h-1zM69 210h3v1h-3zM70 209h1v3h-1zM79 205h3v1h-3zM80 204h1v3h-1zM89 211h3v1h-3zM90 210h1v3h-1zM99 210h3v1h-3zM100 209h1v3h-1zM109 216h3v1h-3zM110 215h1v3h-1zM119 220h3v1h-3zM120 219h1v3h-1zM129 221h3v1h-3zM130 220h1v3h-1zM139 226h3v1h-3zM140 225h1v3h-1zM149 236h3v1h-3zM150 235h1v3h-1zM159 236h3v1h-3zM160 235h1v3h-1zM169 226h3v1h-3zM170 225h1v3h-1zM179 216h3v1h-3zM180 215h1v3h-1zM189 212h3v1h-3zM190 211h1v3h-1zM199 204h3v1h-3zM200 203h1v3h-1zM209 203h3v1h-3zM210 202h1v3h-1zM219 192h3v1h-3zM220 191h1v3h-1zM229 193h3v1h-3zM230 192h1v3h-1zM239 192h3v1h-3zM240 191h1v3h-1zM249 188h3v1h-3zM250 187h1v3h-1zM259 182h3v1h-3zM260 181h1v3h-1zM269 170h3v1h-3zM270 169h1v3h-1zM279 176h3v1h-3zM280 175h1v3h-1zM289 179h3v1h-3zM290 178h1v3h-1zM299 184h3v1h-3zM300 183h1v3h-1zM309 172h3v1h-3zM310 171h1v3h-1zM319 184h3v1h-3zM320 183h1v3h-1zM329 193h3v1h-3zM330 192h1v3h-1zM339 197h3v1h-3zM340 196h1v3h-1zM349 203h3v1h-3zM350 202h1v3h-1zM359 210h3v1h-3zM360 209h1v3h-1zM369 207h3v1h-3zM370 206h1v3h-1zM379 206h3v1h-3zM380 205h1v3h-1zM389 201h3v1h-3zM390 200h1v3h-1zM399 209h3v1h-3zM400 208h1v3h-1zM409 188h3v1h-3zM410 187h1v3h-1zM419 198h3v1h-3zM420 197h1v3h-1zM429 207h3v1h-3zM430 206h1v3h-1zM439 215h3v1h-3zM440 214h1v3h-1zM449 212h3v1h-3zM450 211h1v3h-1zM459 203h3v1h-3zM460 202h1v3h-1zM469 209h3v1h-3zM470 208h1v3h-1zM479 207h3v1h-3zM480 206h1v3h-1zM489 207h3v1h-3zM490 206h1v3h-1zM499 203h3v1h-3zM500 202h1v3h-1zM509 215h3v1h-3zM510 214h1v3h-1zM519 214h3v1h-3zM520 213h1v3h-1zM529 210h3v1h-3zM530 209h1v3h-1zM539 216h3v1h-3zM540 215h1v3h-1zM549 224h3v1h-3zM550 223h1v3h-1zM559 225h3v1h-3zM560 224h1v3h-1zM569 226h3v1h-3zM570 225h1v3h-1zM579 231h3v1h-3zM580 230h1v3h-1zM589 251h3v1h-3zM590 250h1v3h-1zM599 268h3v1h-3zM600 267h1v3h-1zM609 265h3v1h-3zM610 264h1v3h-1zM619 266h3v1h-3zM620 265h1v3h-1zM629 266h3v1h-3zM630 265h1v3h-1zM639 251h3v1h-3zM640 250h1v3h-1zM649 260h3v1h-3zM650 259h1v3h-1zM659 264h3v1h-3zM660 263h1v3h-1zM669 262h3v1h-3zM670 261h1v3h-1zM679 255h3v1h-3zM680 254h1v3h-1zM689 254h3v1h-3zM690 253h1v3h-1z"/>
<polyline transform="translate(.5,.5)" points="50,221.3 60,218.5 70,206.4 80,199.2 90,196.9 100,203.9 110,205.4 120,211.2 130,216.0 140,217.4 150,233.3 160,236.6 170,231.4 180,219.2 190,212.9 200,201.2 210,191.9 220,189.2 230,194.5 240,187.9 250,188.4 260,181.0 270,187.6 280,190.0 290,192.7 300,181.4 310,195.9 320,202.7 330,193.7 340,193.1 350,196.8 360,204.8 370,198.0 380,198.6 390,198.1 400,197.0 410,185.2 420,178.8 430,184.3 440,175.7 450,171.2 460,181.1 470,189.9 480,198.7 490,193.2 500,188.7 510,197.9 520,198.1 530,205.3 540,208.4 550,211.5 560,210.2 570,207.9 580,203.0 590,206.9 600,189.3 610,183.7 620,193.5 630,187.4 640,192.5 650,192.0 660,169.5 670,181.3 680,168.4 690,165.4" fill="none" stroke="#8B5A20" stroke-width="1" shape-rendering="crispEdges"/>
<path shape-rendering="crispEdges" fill="#8B5A20" d="M49 221h3v1h-3zM50 220h1v3h-1zM59 218h3v1h-3zM60 217h1v3h-1zM69 206h3v1h-3zM70 205h1v3h-1zM79 199h3v1h-3zM80 198h1v3h-1zM89 197h3v1h-3zM90 196h1v3h-1zM99 204h3v1h-3zM100 203h1v3h-1zM109 205h3v1h-3zM110 204h1v3h-1zM119 211h3v1h-3zM120 210h1v3h-1zM129 216h3v1h-3zM130 215h1v3h-1zM139 217h3v1h-3zM140 216h1v3h-1zM149 233h3v1h-3zM150 232h1v3h-1zM159 237h3v1h-3zM160 236h1v3h-1zM169 231h3v1h-3zM170 230h1v3h-1zM179 219h3v1h-3zM180 218h1v3h-1zM189 213h3v1h-3zM190 212h1v3h-1zM199 201h3v1h-3zM200 200h1v3h-1zM209 192h3v1h-3zM210 191h1v3h-1zM219 189h3v1h-3zM220 188h1v3h-1zM229 194h3v1h-3zM230 193h1v3h-1zM239 188h3v1h-3zM240 187h1v3h-1zM249 188h3v1h-3zM250 187h1v3h-1zM259 181h3v1h-3zM260 180h1v3h-1zM269 188h3v1h-3zM270 187h1v3h-1zM279 190h3v1h-3zM280 189h1v3h-1zM289 193h3v1h-3zM290 192h1v3h-1zM299 181h3v1h-3zM300 180h1v3h-1zM309 196h3v1h-3zM310 195h1v3h-1zM319 203h3v1h-3zM320 202h1v3h-1zM329 194h3v1h-3zM330 193h1v3h-1zM339 193h3v1h-3zM340 192h1v3h-1zM349 197h3v1h-3zM350 196h1v3h-1zM359 205h3v1h-3zM360 204h1v3h-1zM369 198h3v1h-3zM370 197h1v3h-1zM379 199h3v1h-3zM380 198h1v3h-1zM389 198h3v1h-3zM390 197h1v3h-1zM399 197h3v1h-3zM400 196h1v3h-1zM409 185h3v1h-3zM410 184h1v3h-1zM419 179h3v1h-3zM420 178h1v3h-1zM429 184h3v1h-3zM430 183h1v3h-1zM439 176h3v1h-3zM440 175h1v3h-1zM449 171h3v1h-3zM450 170h1v3h-1zM459 181h3v1h-3zM460 180h1v3h-1zM469 190h3v1h-3zM470 189h1v3h-1zM479 199h3v1h-3zM480 198h1v3h-1zM489 193h3v1h-3zM490 192h1v3h-1zM499 189h3v1h-3zM500 188h1v3h-1zM509 198h3v1h-3zM510 197h1v3h-1zM519 198h3v1h-3zM520 197h1v3h-1zM529 205h3v1h-3zM530 204h1v3h-1zM539 208h3v1h-3zM540 207h1v3h-1zM549 212h3v1h-3zM550 211h1v3h-1zM559 210h3v1h-3zM560 209h1v3h-1zM569 208h3v1h-3zM570 207h1v3h-1zM579 203h3v1h-3zM580 202h1v3h-1zM589 207h3v1h-3zM590 206h1v3h-1zM599 189h3v1h-3zM600 188h1v3h-1zM609 184h3v1h-3zM610 183h1v3h-1zM619 193h3v1h-3zM620 192h1v3h-1zM629 187h3v1h-3zM630 186h1v3h-1zM639 193h3v1h-3zM640 192h1v3h-1zM649 192h3v1h-3zM650 191h1v3h-1zM659 169h3v1h-3zM660 168h1v3h-1zM669 181h3v1h-3zM670 180h1v3h-1zM679 168h3v1h-3zM680 167h1v3h-1zM689 165h3v1h-3zM690 164h1v3h-1z"/>
<polyline transform="translate(.5,.5)" points="50,225.2 60,220.3 70,209.7 80,206.3 90,210.9 100,212.2 110,216.0 120,222.1 130,229.9 140,231.1 150,239.7 160,249.9 170,244.5 180,238.2 190,233.7 200,226.8 210,213.2 220,199.8 230,195.8 240,195.5 250,195.3 260,200.7 270,214.8 280,224.6 290,231.0 300,222.7 310,226.6 320,222.0 330,229.0 340,211.9 350,221.2 360,205.3 370,216.5 380,217.9 390,207.0 400,208.3 410,205.6 420,194.2 430,202.7 440,194.3 450,199.3 460,206.3 470,216.7 480,215.5 490,215.8 500,221.8 510,220.3 520,233.4 530,230.3 540,225.4 550,227.5 560,224.3 570,225.7 580,230.9 590,225.5 600,230.1 610,224.8 620,218.3 630,226.5 640,230.0 650,228.5 660,224.4 670,229.1 680,232.9 690,225.0" fill="none" stroke="#A080E0" stroke-width="1" shape-rendering="crispEdges"/>
<path shape-rendering="crispEdges" fill="#A080E0" d="M49 225h3v1h-3zM50 224h1v3h-1zM59 220h3v1h-3zM60 219h1v3h-1zM69 210h3v1h-3zM70 209h1v3h-1zM79 206h3v1h-3zM80 205h1v3h-1zM89 211h3v1h-3zM90 210h1v3h-1zM99 212h3v1h-3zM100 211h1v3h-1zM109 216h3v1h-3zM110 215h1v3h-1zM119 222h3v1h-3zM120 221h1v3h-1zM129 230h3v1h-3zM130 229h1v3h-1zM139 231h3v1h-3zM140 230h1v3h-1zM149 240h3v1h-3zM150 239h1v3h-1zM159 250h3v1h-3zM160 249h1v3h-1zM169 244h3v1h-3zM170 243h1v3h-1zM179 238h3v1h-3zM180 237h1v3h-1zM189 234h3v1h-3zM190 233h1v3h-1zM199 227h3v1h-3zM200 226h1v3h-1zM209 213h3v1h-3zM210 212h1v3h-1zM219 200h3v1h-3zM220 199h1v3h-1zM229 196h3v1h-3zM230 195h1v3h-1zM239 196h3v1h-3zM240 195h1v3h-1zM249 195h3v1h-3zM250 194h1v3h-1zM259 201h3v1h-3zM260 200h1v3h-1zM269 215h3v1h-3zM270 214h1v3h-1zM279 225h3v1h-3zM280 224h1v3h-1zM289 231h3v1h-3zM290 230h1v3h-1zM299 223h3v1h-3zM300 222h1v3h-1zM309 227h3v1h-3zM310 226h1v3h-1zM319 222h3v1h-3zM320 221h1v3h-1zM329 229h3v1h-3zM330 228h1v3h-1zM339 212h3v1h-3zM340 211h1v3h-1zM349 221h3v1h-3zM350 220h1v3h-1zM359 205h3v1h-3zM360 204h1v3h-1zM369 217h3v1h-3zM370 216h1v3h-1zM379 218h3v1h-3zM380 217h1v3h-1zM389 207h3v1h-3zM390 206h1v3h-1zM399 208h3v1h-3zM400 207h1v3h-1zM409 206h3v1h-3zM410 205h1v3h-1zM419 194h3v1h-3zM420 193h1v3h-1zM429 203h3v1h-3zM430 202h1v3h-1zM439 194h3v1h-3zM440 193h1v3h-1zM449 199h3v1h-3zM450 198h1v3h-1zM459 206h3v1h-3zM460 205h1v3h-1zM469 217h3v1h-3zM470 216h1v3h-1zM479 215h3v1h-3zM480 214h1v3h-1zM489 216h3v1h-3zM490 215h1v3h-1zM499 222h3v1h-3zM500 221h1v3h-1zM509 220h3v1h-3zM510 219h1v3h-1zM519 233h3v1h-3zM520 232h1v3h-1zM529 230h3v1h-3zM530 229h1v3h-1zM539 225h3v1h-3zM540 224h1v3h-1zM549 228h3v1h-3zM550 227h1v3h-1zM559 224h3v1h-3zM560 223h1v3h-1zM569 226h3v1h-3zM570 225h1v3h-1zM579 231h3v1h-3zM580 230h1v3h-1zM589 226h3v1h-3zM590 225h1v3h-1zM599 230h3v1h-3zM600 229h1v3h-1zM609 225h3v1h-3zM610 224h1v3h-1zM619 218h3v1h-3zM620 217h1v3h-1zM629 226h3v1h-3zM630 225h1v3h-1zM639 230h3v1h-3zM640 229h1v3h-1zM649 229h3v1h-3zM650 228h1v3h-1zM659 224h3v1h-3zM660 223h1v3h-1zM669 229h3v1h-3zM670 228h1v3h-1zM679 233h3v1h-3zM680 232h1v3h-1zM689 225h3v1h-3zM690 224h1v3h-1z"/>
<polyline transform="translate(.5,.5)" points="50,226.3 60,220.3 70,209.9 80,206.6 90,213.1 100,213.8 110,216.2 120,218.5 130,221.7 140,225.4 150,236.2 160,238.3 170,233.3 180,228.1 190,229.7 200,222.0 210,205.1 220,198.7 230,197.2 240,202.4 250,207.0 260,207.9 270,216.1 280,225.1 290,233.4 300,249.5 310,262.2 320,265.7 330,263.0 340,248.1 350,238.1 360,231.1 370,227.0 380,201.4 390,187.4 400,176.5 410,174.6 420,172.4 430,183.2 440,195.8 450,204.2 460,204.2 470,211.4 480,207.1 490,212.7 500,204.0 510,209.3 520,220.8 530,218.9 540,202.2 550,196.8 560,191.4 570,183.2 580,173.8 590,165.7 600,164.3 610,166.2 620,180.5 630,204.9 640,226.5 650,235.9 660,226.5 670,221.1 680,218.4 690,217.0" fill="none" stroke="#A0F040" stroke-width="1" shape-rendering="crispEdges"/>
<path shape-rendering="crispEdges" fill="#A0F040" d="M49 226h3v1h-3zM50 225h1v3h-1zM59 220h3v1h-3zM60 219h1v3h-1zM69 210h3v1h-3zM70 209h1v3h-1zM79 207h3v1h-3zM80 206h1v3h-1zM89 213h3v1h-3zM90 212h1v3h-1zM99 214h3v1h-3zM100 213h1v3h-1zM109 216h3v1h-3zM110 215h1v3h-1zM119 218h3v1h-3zM120 217h1v3h-1zM129 222h3v1h-3zM130 221h1v3h-1zM139 225h3v1h-3zM140 224h1v3h-1zM149 236h3v1h-3zM150 235h1v3h-1zM159 238h3v1h-3zM160 237h1v3h-1zM169 233h3v1h-3zM170 232h1v3h-1zM179 228h3v1h-3zM180 227h1v3h-1zM189 230h3v1h-3zM190 229h1v3h-1zM199 222h3v1h-3zM200 221h1v3h-1zM209 205h3v1h-3zM210 204h1v3h-1zM219 199h3v1h-3zM220 198h1v3h-1zM229 197h3v1h-3zM230 196h1v3h-1zM239 202h3v1h-3zM240 201h1v3h-1zM249 207h3v1h-3zM250 206h1v3h-1zM259 208h3v1h-3zM260 207h1v3h-1zM269 216h3v1h-3zM270 215h1v3h-1zM279 225h3v1h-3zM280 224h1v3h-1zM289 233h3v1h-3zM290 232h1v3h-1zM299 249h3v1h-3zM300 248h1v3h-1zM309 262h3v1h-3zM310 261h1v3h-1zM319 266h3v1h-3zM320 265h1v3h-1zM329 263h3v1h-3zM330 262h1v3h-1zM339 248h3v1h-3zM340 247h1v3h-1zM349 238h3v1h-3zM350 237h1v3h-1zM359 231h3v1h-3zM360 230h1v3h-1zM369 227h3v1h-3zM370 226h1v3h-1zM379 201h3v1h-3zM380 200h1v3h-1zM389 187h3v1h-3zM390 186h1v3h-1zM399 176h3v1h-3zM400 175h1v3h-1zM409 175h3v1h-3zM410 174h1v3h-1zM419 172h3v1h-3zM420 171h1v3h-1zM429 183h3v1h-3zM430 182h1v3h-1zM439 196h3v1h-3zM440 195h1v3h-1zM449 204h3v1h-3zM450 203h1v3h-1zM459 204h3v1h-3zM460 203h1v3h-1zM469 211h3v1h-3zM470 210h1v3h-1zM479 207h3v1h-3zM480 206h1v3h-1zM489 213h3v1h-3zM490 212h1v3h-1zM499 204h3v1h-3zM500 203h1v3h-1zM509 209h3v1h-3zM510 208h1v3h-1zM519 221h3v1h-3zM520 220h1v3h-1zM529 219h3v1h-3zM530 218h1v3h-1zM539 202h3v1h-3zM540 201h1v3h-1zM549 197h3v1h-3zM550 196h1v3h-1zM559 191h3v1h-3zM560 190h1v3h-1zM569 183h3v1h-3zM570 182h1v3h-1zM579 174h3v1h-3zM580 173h1v3h-1zM589 166h3v1h-3zM590 165h1v3h-1zM599 164h3v1h-3zM600 163h1v3h-1zM609 166h3v1h-3zM610 165h1v3h-1zM619 181h3v1h-3zM620 180h1v3h-1zM629 205h3v1h-3zM630 204h1v3h-1zM639 226h3v1h-3zM640 225h1v3h-1zM649 236h3v1h-3zM650 235h1v3h-1zM659 226h3v1h-3zM660 225h1v3h-1zM669 221h3v1h-3zM670 220h1v3h-1zM679 218h3v1h-3zM680 217h1v3h-1zM689 217h3v1h-3zM690 216h1v3h-1z"/>
<polyline transform="translate(.5,.5)" points="50,227.1 60,220.8 70,210.4 80,207.3 90,211.3 100,213.4 110,217.8 120,222.0 130,225.5 140,233.8 150,240.2 160,245.9 170,243.6 180,237.7 190,231.6 200,226.5 210,207.8 220,202.2 230,196.0 240,193.8 250,195.3 260,189.9 270,197.6 280,203.6 290,213.0 300,224.7 310,238.1 320,243.8 330,245.7 340,241.6 350,235.5 360,240.6 370,227.7 380,234.1 390,251.5 400,244.2 410,248.7 420,237.3 430,228.4 440,227.9 450,219.4 460,216.3 470,213.0 480,218.5 490,219.8 500,226.9 510,239.8 520,242.3 530,242.9 540,235.6 550,229.6 560,240.7 570,233.3 580,222.4 590,231.5 600,227.6 610,221.5 620,217.9 630,216.0 640,202.8 650,196.3 660,206.3 670,202.8 680,204.7 690,200.8" fill="none" stroke="#D870D0" stroke-width="1" shape-rendering="crispEdges"/>
<path shape-rendering="crispEdges" fill="#D870D0" d="M49 227h3v1h-3zM50 226h1v3h-1zM59 221h3v1h-3zM60 220h1v3h-1zM69 210h3v1h-3zM70 209h1v3h-1zM79 207h3v1h-3zM80 206h1v3h-1zM89 211h3v1h-3zM90 210h1v3h-1zM99 213h3v1h-3zM100 212h1v3h-1zM109 218h3v1h-3zM110 217h1v3h-1zM119 222h3v1h-3zM120 221h1v3h-1zM129 225h3v1h-3zM130 224h1v3h-1zM139 234h3v1h-3zM140 233h1v3h-1zM149 240h3v1h-3zM150 239h1v3h-1zM159 246h3v1h-3zM160 245h1v3h-1zM169 244h3v1h-3zM170 243h1v3h-1zM179 238h3v1h-3zM180 237h1v3h-1zM189 232h3v1h-3zM190 231h1v3h-1zM199 226h3v1h-3zM200 225h1v3h-1zM209 208h3v1h-3zM210 207h1v3h-1zM219 202h3v1h-3zM220 201h1v3h-1zM229 196h3v1h-3zM230 195h1v3h-1zM239 194h3v1h-3zM240 193h1v3h-1zM249 195h3v1h-3zM250 194h1v3h-1zM259 190h3v1h-3zM260 189h1v3h-1zM269 198h3v1h-3zM270 197h1v3h-1zM279 204h3v1h-3zM280 203h1v3h-1zM289 213h3v1h-3zM290 212h1v3h-1zM299 225h3v1h-3zM300 224h1v3h-1zM309 238h3v1h-3zM310 237h1v3h-1zM319 244h3v1h-3zM320 243h1v3h-1zM329 246h3v1h-3zM330 245h1v3h-1zM339 242h3v1h-3zM340 241h1v3h-1zM349 236h3v1h-3zM350 235h1v3h-1zM359 241h3v1h-3zM360 240h1v3h-1zM369 228h3v1h-3zM370 227h1v3h-1zM379 234h3v1h-3zM380 233h1v3h-1zM389 252h3v1h-3zM390 251h1v3h-1zM399 244h3v1h-3zM400 243h1v3h-1zM409 249h3v1h-3zM410 248h1v3h-1zM419 237h3v1h-3zM420 236h1v3h-1zM429 228h3v1h-3zM430 227h1v3h-1zM439 228h3v1h-3zM440 227h1v3h-1zM449 219h3v1h-3zM450 218h1v3h-1zM459 216h3v1h-3zM460 215h1v3h-1zM469 213h3v1h-3zM470 212h1v3h-1zM479 219h3v1h-3zM480 218h1v3h-1zM489 220h3v1h-3zM490 219h1v3h-1zM499 227h3v1h-3zM500 226h1v3h-1zM509 240h3v1h-3zM510 239h1v3h-1zM519 242h3v1h-3zM520 241h1v3h-1zM529 243h3v1h-3zM530 242h1v3h-1zM539 236h3v1h-3zM540 235h1v3h-1zM549 230h3v1h-3zM550 229h1v3h-1zM559 241h3v1h-3zM560 240h1v3h-1zM569 233h3v1h-3zM570 232h1v3h-1zM579 222h3v1h-3zM580 221h1v3h-1zM589 231h3v1h-3zM590 230h1v3h-1zM599 228h3v1h-3zM600 227h1v3h-1zM609 222h3v1h-3zM610 221h1v3h-1zM619 218h3v1h-3zM620 217h1v3h-1zM629 216h3v1h-3zM630 215h1v3h-1zM639 203h3v1h-3zM640 202h1v3h-1zM649 196h3v1h-3zM650 195h1v3h-1zM659 206h3v1h-3zM660 205h1v3h-1zM669 203h3v1h-3zM670 202h1v3h-1zM679 205h3v1h-3zM680 204h1v3h-1zM689 201h3v1h-3zM690 200h1v3h-1z"/>
<polyline transform="translate(.5,.5)" points="50,227.1 60,220.7 70,210.0 80,206.6 90,209.8 100,213.8 110,218.8 120,224.0 130,235.5 140,239.8 150,243.7 160,253.4 170,247.3 180,240.4 190,238.3 200,228.8 210,210.3 220,200.0 230,201.5 240,214.2 250,203.0 260,210.4 270,217.8 280,219.3 290,221.1 300,230.0 310,239.6 320,235.3 330,242.0 340,223.1 350,228.9 360,235.6 370,230.4 380,214.5 390,228.7 400,229.2 410,225.4 420,213.5 430,216.3 440,221.0 450,211.0 460,211.9 470,214.1 480,225.4 490,219.6 500,216.5 510,222.6 520,230.5 530,235.8 540,232.1 550,234.3 560,243.9 570,243.9 580,235.1 590,233.3 600,235.9 610,234.2 620,227.8 630,226.9 640,225.7 650,214.9 660,202.2 670,198.1 680,198.1 690,253.5" fill="none" stroke="#1808A0" stroke-width="1" shape-rendering="crispEdges"/>
<path shape-rendering="crispEdges" fill="#1808A0" d="M49 227h3v1h-3zM50 226h1v3h-1zM59 221h3v1h-3zM60 220h1v3h-1zM69 210h3v1h-3zM70 209h1v3h-1zM79 207h3v1h-3zM80 206h1v3h-1zM89 210h3v1h-3zM90 209h1v3h-1zM99 214h3v1h-3zM100 213h1v3h-1zM109 219h3v1h-3zM110 218h1v3h-1zM119 224h3v1h-3zM120 223h1v3h-1zM129 236h3v1h-3zM130 235h1v3h-1zM139 240h3v1h-3zM140 239h1v3h-1zM149 244h3v1h-3zM150 243h1v3h-1zM159 253h3v1h-3zM160 252h1v3h-1zM169 247h3v1h-3zM170 246h1v3h-1zM179 240h3v1h-3zM180 239h1v3h-1zM189 238h3v1h-3zM190 237h1v3h-1zM199 229h3v1h-3zM200 228h1v3h-1zM209 210h3v1h-3zM210 209h1v3h-1zM219 200h3v1h-3zM220 199h1v3h-1zM229 201h3v1h-3zM230 200h1v3h-1zM239 214h3v1h-3zM240 213h1v3h-1zM249 203h3v1h-3zM250 202h1v3h-1zM259 210h3v1h-3zM260 209h1v3h-1zM269 218h3v1h-3zM270 217h1v3h-1zM279 219h3v1h-3zM280 218h1v3h-1zM289 221h3v1h-3zM290 220h1v3h-1zM299 230h3v1h-3zM300 229h1v3h-1zM309 240h3v1h-3zM310 239h1v3h-1zM319 235h3v1h-3zM320 234h1v3h-1zM329 242h3v1h-3zM330 241h1v3h-1zM339 223h3v1h-3zM340 222h1v3h-1zM349 229h3v1h-3zM350 228h1v3h-1zM359 236h3v1h-3zM360 235h1v3h-1zM369 230h3v1h-3zM370 229h1v3h-1zM379 215h3v1h-3zM380 214h1v3h-1zM389 229h3v1h-3zM390 228h1v3h-1zM399 229h3v1h-3zM400 228h1v3h-1zM409 225h3v1h-3zM410 224h1v3h-1zM419 213h3v1h-3zM420 212h1v3h-1zM429 216h3v1h-3zM430 215h1v3h-1zM439 221h3v1h-3zM440 220h1v3h-1zM449 211h3v1h-3zM450 210h1v3h-1zM459 212h3v1h-3zM460 211h1v3h-1zM469 214h3v1h-3zM470 213h1v3h-1zM479 225h3v1h-3zM480 224h1v3h-1zM489 220h3v1h-3zM490 219h1v3h-1zM499 216h3v1h-3zM500 215h1v3h-1zM509 223h3v1h-3zM510 222h1v3h-1zM519 230h3v1h-3zM520 229h1v3h-1zM529 236h3v1h-3zM530 235h1v3h-1zM539 232h3v1h-3zM540 231h1v3h-1zM549 234h3v1h-3zM550 233h1v3h-1zM559 244h3v1h-3zM560 243h1v3h-1zM569 244h3v1h-3zM570 243h1v3h-1zM579 235h3v1h-3zM580 234h1v3h-1zM589 233h3v1h-3zM590 232h1v3h-1zM599 236h3v1h-3zM600 235h1v3h-1zM609 234h3v1h-3zM610 233h1v3h-1zM619 228h3v1h-3zM620 227h1v3h-1zM629 227h3v1h-3zM630 226h1v3h-1zM639 226h3v1h-3zM640 225h1v3h-1zM649 215h3v1h-3zM650 214h1v3h-1zM659 202h3v1h-3zM660 201h1v3h-1zM669 198h3v1h-3zM670 197h1v3h-1zM679 198h3v1h-3zM680 197h1v3h-1zM689 254h3v1h-3zM690 253h1v3h-1z"/>
<polyline transform="translate(.5,.5)" points="50,225.1 60,220.1 70,209.9 80,206.2 90,211.1 100,211.6 110,217.7 120,219.6 130,223.5 140,226.8 150,238.3 160,243.5 170,242.6 180,235.9 190,237.0 200,237.3 210,218.4 220,204.8 230,204.9 240,215.9 250,216.3 260,203.4 270,207.6 280,217.9 290,222.9 300,220.0 310,227.3 320,221.3 330,217.0 340,217.3 350,202.0 360,208.4 370,204.4 380,202.0 390,208.3 400,209.7 410,203.4 420,201.7 430,211.6 440,209.2 450,207.4 460,205.1 470,208.2 480,211.0 490,209.6 500,203.6 510,206.4 520,206.6 530,208.2 540,214.5 550,222.7 560,213.0 570,212.7 580,220.2 590,212.6 600,203.1 610,192.5 620,193.4 630,200.4 640,220.8 650,220.3 660,194.5 670,197.1 680,199.0 690,203.6" fill="none" stroke="#E0D0A8" stroke-width="1" shape-rendering="crispEdges"/>
<path shape-rendering="crispEdges" fill="#E0D0A8" d="M49 225h3v1h-3zM50 224h1v3h-1zM59 220h3v1h-3zM60 219h1v3h-1zM69 210h3v1h-3zM70 209h1v3h-1zM79 206h3v1h-3zM80 205h1v3h-1zM89 211h3v1h-3zM90 210h1v3h-1zM99 212h3v1h-3zM100 211h1v3h-1zM109 218h3v1h-3zM110 217h1v3h-1zM119 220h3v1h-3zM120 219h1v3h-1zM129 223h3v1h-3zM130 222h1v3h-1zM139 227h3v1h-3zM140 226h1v3h-1zM149 238h3v1h-3zM150 237h1v3h-1zM159 243h3v1h-3zM160 242h1v3h-1zM169 243h3v1h-3zM170 242h1v3h-1zM179 236h3v1h-3zM180 235h1v3h-1zM189 237h3v1h-3zM190 236h1v3h-1zM199 237h3v1h-3zM200 236h1v3h-1zM209 218h3v1h-3zM210 217h1v3h-1zM219 205h3v1h-3zM220 204h1v3h-1zM229 205h3v1h-3zM230 204h1v3h-1zM239 216h3v1h-3zM240 215h1v3h-1zM249 216h3v1h-3zM250 215h1v3h-1zM259 203h3v1h-3zM260 202h1v3h-1zM269 208h3v1h-3zM270 207h1v3h-1zM279 218h3v1h-3zM280 217h1v3h-1zM289 223h3v1h-3zM290 222h1v3h-1zM299 220h3v1h-3zM300 219h1v3h-1zM309 227h3v1h-3zM310 226h1v3h-1zM319 221h3v1h-3zM320 220h1v3h-1zM329 217h3v1h-3zM330 216h1v3h-1zM339 217h3v1h-3zM340 216h1v3h-1zM349 202h3v1h-3zM350 201h1v3h-1zM359 208h3v1h-3zM360 207h1v3h-1zM369 204h3v1h-3zM370 203h1v3h-1zM379 202h3v1h-3zM380 201h1v3h-1zM389 208h3v1h-3zM390 207h1v3h-1zM399 210h3v1h-3zM400 209h1v3h-1zM409 203h3v1h-3zM410 202h1v3h-1zM419 202h3v1h-3zM420 201h1v3h-1zM429 212h3v1h-3zM430 211h1v3h-1zM439 209h3v1h-3zM440 208h1v3h-1zM449 207h3v1h-3zM450 206h1v3h-1zM459 205h3v1h-3zM460 204h1v3h-1zM469 208h3v1h-3zM470 207h1v3h-1zM479 211h3v1h-3zM480 210h1v3h-1zM489 210h3v1h-3zM490 209h1v3h-1zM499 204h3v1h-3zM500 203h1v3h-1zM509 206h3v1h-3zM510 205h1v3h-1zM519 207h3v1h-3zM520 206h1v3h-1zM529 208h3v1h-3zM530 207h1v3h-1zM539 215h3v1h-3zM540 214h1v3h-1zM549 223h3v1h-3zM550 222h1v3h-1zM559 213h3v1h-3zM560 212h1v3h-1zM569 213h3v1h-3zM570 212h1v3h-1zM579 220h3v1h-3zM580 219h1v3h-1zM589 213h3v1h-3zM590 212h1v3h-1zM599 203h3v1h-3zM600 202h1v3h-1zM609 192h3v1h-3zM610 191h1v3h-1zM619 193h3v1h-3zM620 192h1v3h-1zM629 200h3v1h-3zM630 199h1v3h-1zM639 221h3v1h-3zM640 220h1v3h-1zM649 220h3v1h-3zM650 219h1v3h-1zM659 194h3v1h-3zM660 193h1v3h-1zM669 197h3v1h-3zM670 196h1v3h-1zM679 199h3v1h-3zM680 198h1v3h-1zM689 204h3v1h-3zM690 203h1v3h-1z"/>
<polyline transform="translate(.5,.5)" points="50,230.0 60,222.1 70,211.0 80,210.5 90,217.9 100,216.7 110,222.1 120,229.0 130,235.5 140,236.8 150,241.1 160,255.4 170,247.4 180,237.9 190,241.9 200,237.5 210,217.4 220,209.5 230,208.6 240,222.8 250,219.4 260,219.6 270,237.3 280,237.1 290,231.8 300,227.1 310,235.5 320,232.2 330,230.2 340,238.2 350,257.8 360,260.8 370,256.6 380,235.3 390,240.8 400,248.3 410,226.1 420,217.7 430,215.9 440,209.4 450,204.9 460,198.1 470,203.5 480,213.0 490,221.1 500,244.1 510,252.2 520,256.2 530,246.8 540,233.2 550,234.6 560,235.9 570,233.2 580,226.5 590,233.2 600,240.0 610,245.4 620,263.0 630,280.5 640,293.2 650,279.2 660,280.0 670,283.2 680,278.4 690,268.4" fill="none" stroke="#800810" stroke-width="1" shape-rendering="crispEdges"/>
<path shape-rendering="crispEdges" fill="#800810" d="M49 230h3v1h-3zM50 229h1v3h-1zM59 222h3v1h-3zM60 221h1v3h-1zM69 211h3v1h-3zM70 210h1v3h-1zM79 211h3v1h-3zM80 210h1v3h-1zM89 218h3v1h-3zM90 217h1v3h-1zM99 217h3v1h-3zM100 216h1v3h-1zM109 222h3v1h-3zM110 221h1v3h-1zM119 229h3v1h-3zM120 228h1v3h-1zM129 236h3v1h-3zM130 235h1v3h-1zM139 237h3v1h-3zM140 236h1v3h-1zM149 241h3v1h-3zM150 240h1v3h-1zM159 255h3v1h-3zM160 254h1v3h-1zM169 247h3v1h-3zM170 246h1v3h-1zM179 238h3v1h-3zM180 237h1v3h-1zM189 242h3v1h-3zM190 241h1v3h-1zM199 238h3v1h-3zM200 237h1v3h-1zM209 217h3v1h-3zM210 216h1v3h-1zM219 209h3v1h-3zM220 208h1v3h-1zM229 209h3v1h-3zM230 208h1v3h-1zM239 223h3v1h-3zM240 222h1v3h-1zM249 219h3v1h-3zM250 218h1v3h-1zM259 220h3v1h-3zM260 219h1v3h-1zM269 237h3v1h-3zM270 236h1v3h-1zM279 237h3v1h-3zM280 236h1v3h-1zM289 232h3v1h-3zM290 231h1v3h-1zM299 227h3v1h-3zM300 226h1v3h-1zM309 235h3v1h-3zM310 234h1v3h-1zM319 232h3v1h-3zM320 231h1v3h-1zM329 230h3v1h-3zM330 229h1v3h-1zM339 238h3v1h-3zM340 237h1v3h-1zM349 258h3v1h-3zM350 257h1v3h-1zM359 261h3v1h-3zM360 260h1v3h-1zM369 257h3v1h-3zM370 256h1v3h-1zM379 235h3v1h-3zM380 234h1v3h-1zM389 241h3v1h-3zM390 240h1v3h-1zM399 248h3v1h-3zM400 247h1v3h-1zM409 226h3v1h-3zM410 225h1v3h-1zM419 218h3v1h-3zM420 217h1v3h-1zM429 216h3v1h-3zM430 215h1v3h-1zM439 209h3v1h-3zM440 208h1v3h-1zM449 205h3v1h-3zM450 204h1v3h-1zM459 198h3v1h-3zM460 197h1v3h-1zM469 204h3v1h-3zM470 203h1v3h-1zM479 213h3v1h-3zM480 212h1v3h-1zM489 221h3v1h-3zM490 220h1v3h-1zM499 244h3v1h-3zM500 243h1v3h-1zM509 252h3v1h-3zM510 251h1v3h-1zM519 256h3v1h-3zM520 255h1v3h-1zM529 247h3v1h-3zM530 246h1v3h-1zM539 233h3v1h-3zM540 232h1v3h-1zM549 235h3v1h-3zM550 234h1v3h-1zM559 236h3v1h-3zM560 235h1v3h-1zM569 233h3v1h-3zM570 232h1v3h-1zM579 226h3v1h-3zM580 225h1v3h-1zM589 233h3v1h-3zM590 232h1v3h-1zM599 240h3v1h-3zM600 239h1v3h-1zM609 245h3v1h-3zM610 244h1v3h-1zM619 263h3v1h-3zM620 262h1v3h-1zM629 281h3v1h-3zM630 280h1v3h-1zM639 293h3v1h-3zM640 292h1v3h-1zM649 279h3v1h-3zM650 278h1v3h-1zM659 280h3v1h-3zM660 279h1v3h-1zM669 283h3v1h-3zM670 282h1v3h-1zM679 278h3v1h-3zM680 277h1v3h-1zM689 268h3v1h-3zM690 267h1v3h-1z"/>
<polyline transform="translate(.5,.5)" points="50,225.2 60,219.7 70,208.8 80,204.5 90,209.8 100,211.4 110,216.0 120,222.9 130,229.3 140,232.1 150,230.5 160,229.2 170,218.4 180,203.5 190,202.7 200,194.1 210,183.8 220,181.9 230,192.7 240,207.6 250,218.4 260,221.1 270,223.8 280,229.2 290,230.5 300,231.9 310,234.6 320,242.7 330,244.1 340,237.3 350,234.6 360,248.1 370,258.9 380,266.5 390,273.0 400,276.5 410,276.5 420,271.6 430,274.3 440,274.3 450,272.4 460,265.7 470,275.1 480,280.5 490,272.4 500,256.8 510,268.4 520,274.3 530,265.7 540,260.3 550,262.2 560,258.9 570,248.1 580,240.0 590,237.3 600,233.2 610,230.5 620,223.8 630,211.6 640,198.1 650,184.6 660,172.4 670,171.1 680,173.8 690,175.1" fill="none" stroke="#0838B0" stroke-width="1" shape-rendering="crispEdges"/>
<path shape-rendering="crispEdges" fill="#0838B0" d="M49 225h3v1h-3zM50 224h1v3h-1zM59 220h3v1h-3zM60 219h1v3h-1zM69 209h3v1h-3zM70 208h1v3h-1zM79 205h3v1h-3zM80 204h1v3h-1zM89 210h3v1h-3zM90 209h1v3h-1zM99 211h3v1h-3zM100 210h1v3h-1zM109 216h3v1h-3zM110 215h1v3h-1zM119 223h3v1h-3zM120 222h1v3h-1zM129 229h3v1h-3zM130 228h1v3h-1zM139 232h3v1h-3zM140 231h1v3h-1zM149 231h3v1h-3zM150 230h1v3h-1zM159 229h3v1h-3zM160 228h1v3h-1zM169 218h3v1h-3zM170 217h1v3h-1zM179 204h3v1h-3zM180 203h1v3h-1zM189 203h3v1h-3zM190 202h1v3h-1zM199 194h3v1h-3zM200 193h1v3h-1zM209 184h3v1h-3zM210 183h1v3h-1zM219 182h3v1h-3zM220 181h1v3h-1zM229 193h3v1h-3zM230 192h1v3h-1zM239 208h3v1h-3zM240 207h1v3h-1zM249 218h3v1h-3zM250 217h1v3h-1zM259 221h3v1h-3zM260 220h1v3h-1zM269 224h3v1h-3zM270 223h1v3h-1zM279 229h3v1h-3zM280 228h1v3h-1zM289 231h3v1h-3zM290 230h1v3h-1zM299 232h3v1h-3zM300 231h1v3h-1zM309 235h3v1h-3zM310 234h1v3h-1zM319 243h3v1h-3zM320 242h1v3h-1zM329 244h3v1h-3zM330 243h1v3h-1zM339 237h3v1h-3zM340 236h1v3h-1zM349 235h3v1h-3zM350 234h1v3h-1zM359 248h3v1h-3zM360 247h1v3h-1zM369 259h3v1h-3zM370 258h1v3h-1zM379 266h3v1h-3zM380 265h1v3h-1zM389 273h3v1h-3zM390 272h1v3h-1zM399 276h3v1h-3zM400 275h1v3h-1zM409 276h3v1h-3zM410 275h1v3h-1zM419 272h3v1h-3zM420 271h1v3h-1zM429 274h3v1h-3zM430 273h1v3h-1zM439 274h3v1h-3zM440 273h1v3h-1zM449 272h3v1h-3zM450 271h1v3h-1zM459 266h3v1h-3zM460 265h1v3h-1zM469 275h3v1h-3zM470 274h1v3h-1zM479 281h3v1h-3zM480 280h1v3h-1zM489 272h3v1h-3zM490 271h1v3h-1zM499 257h3v1h-3zM500 256h1v3h-1zM509 268h3v1h-3zM510 267h1v3h-1zM519 274h3v1h-3zM520 273h1v3h-1zM529 266h3v1h-3zM530 265h1v3h-1zM539 260h3v1h-3zM540 259h1v3h-1zM549 262h3v1h-3zM550 261h1v3h-1zM559 259h3v1h-3zM560 258h1v3h-1zM569 248h3v1h-3zM570 247h1v3h-1zM579 240h3v1h-3zM580 239h1v3h-1zM589 237h3v1h-3zM590 236h1v3h-1zM599 233h3v1h-3zM600 232h1v3h-1zM609 231h3v1h-3zM610 230h1v3h-1zM619 224h3v1h-3zM620 223h1v3h-1zM629 212h3v1h-3zM630 211h1v3h-1zM639 198h3v1h-3zM640 197h1v3h-1zM649 185h3v1h-3zM650 184h1v3h-1zM659 172h3v1h-3zM660 171h1v3h-1zM669 171h3v1h-3zM670 170h1v3h-1zM679 174h3v1h-3zM680 173h1v3h-1zM689 175h3v1h-3zM690 174h1v3h-1z"/>
<polyline transform="translate(.5,.5)" points="50,226.0 60,220.5 70,209.7 80,204.9 90,209.0 100,210.8 110,215.0 120,219.0 130,222.4 140,226.5 150,237.0 160,241.0 170,238.6 180,233.0 190,229.0 200,220.0 210,207.0 220,197.6 230,197.6 240,199.0 250,201.6 260,204.3 270,211.6 280,216.5 290,219.0 300,214.3 310,219.0 320,220.5 330,219.7 340,215.7 350,219.0 360,219.0 370,213.5 380,207.3 390,209.0 400,210.0 410,208.0 420,205.7 430,209.0 440,212.4 450,209.7 460,206.0 470,209.0 480,210.8 490,210.8 500,207.6 510,210.8 520,214.3 530,217.0 540,214.7 550,217.8 560,219.7 570,218.0 580,214.0 590,217.0 600,219.0 610,217.8 620,214.3 630,218.4 640,220.5 650,217.0 660,213.0 670,212.4 680,213.0 690,212.4" fill="none" stroke="#ff0000" stroke-width="3.7" />
<polyline transform="translate(.5,.5)" points="50,363.8 60,358.4 70,367.3 80,372.7 90,392.4 100,410.5 110,417.8 120,420.5 130,420.0 140,417.8 150,417.3 160,413.2 170,401.1 180,376.8 190,370.0 200,368.6 210,370.0 220,371.4 230,374.1 240,372.7 250,371.4 260,364.6 270,367.3 280,363.2 290,360.5 300,357.8 310,356.5 320,353.8 330,353.8 340,355.1 350,357.8 360,361.9 370,360.5 380,357.8 390,356.5 400,359.2 410,355.1 420,363.2 430,374.1 440,386.2 450,387.6 460,386.2 470,384.9 480,383.5 490,382.2 500,384.9 510,378.1 520,374.1 530,371.4 540,375.7 550,377.1 560,377.1 570,370.0 580,360.0 590,357.1 600,358.6 610,359.4 620,357.1 630,358.6 640,360.0 650,357.1 660,357.1 670,351.4 680,347.7 690,347.7" fill="none" stroke="#000" stroke-width="2.6" />
<polyline transform="translate(.5,.5)" points="50,363.8 60,358.4 70,367.3 80,373.5 90,394.3 100,411.9 110,418.6 120,421.4 130,420.5 140,418.6 150,417.3 160,415.9 170,409.2 180,384.9 190,374.1 200,371.4 210,370.0 220,371.4 230,372.7 240,376.8 250,378.1 260,390.3 270,405.1 280,415.1 290,414.6 300,390.3 310,371.4 320,363.2 330,360.5 340,361.9 350,363.2 360,365.9 370,367.3 380,368.6 390,371.4 400,374.1 410,367.3 420,364.6 430,371.4 440,378.1 450,383.5 460,388.9 470,391.6 480,393.0 490,393.0 500,397.0 510,411.9 520,415.9 530,415.9 540,405.7 550,408.0 560,414.3 570,418.6 580,422.9 590,442.9 600,462.9 610,434.3 620,425.7 630,400.0 640,371.4 650,360.0 660,362.9 670,374.3 680,380.0 690,377.1" fill="none" stroke="#0000ff" stroke-width="2.6" />
<polyline transform="translate(.5,.5)" points="50,363.0 60,355.5 70,365.3 80,365.0 90,377.6 100,383.6 110,395.5 120,406.9 130,412.0 140,406.6 150,407.1 160,400.0 170,385.1 180,376.6 190,369.9 200,361.9 210,361.5 220,365.7 230,367.5 240,376.9 250,376.4 260,366.9 270,367.9 280,365.1 290,364.0 300,354.8 310,358.4 320,359.7 330,360.7 340,363.0 350,368.1 360,370.0 370,364.9 380,376.4 390,374.7 400,374.6 410,374.8 420,388.1 430,382.6 440,364.7 450,369.4 460,368.6 470,372.5 480,380.7 490,382.0 500,385.0 510,382.9 520,391.2 530,397.6 540,391.9 550,384.1 560,390.9 570,390.7 580,387.7 590,387.3 600,395.3 610,393.1 620,387.2 630,391.3 640,393.7 650,386.3 660,370.1 670,378.1 680,376.1 690,373.7" fill="none" stroke="#E87A30" stroke-width="1" shape-rendering="crispEdges"/>
<path shape-rendering="crispEdges" fill="#E87A30" d="M49 363h3v1h-3zM50 362h1v3h-1zM59 356h3v1h-3zM60 355h1v3h-1zM69 365h3v1h-3zM70 364h1v3h-1zM79 365h3v1h-3zM80 364h1v3h-1zM89 378h3v1h-3zM90 377h1v3h-1zM99 384h3v1h-3zM100 383h1v3h-1zM109 395h3v1h-3zM110 394h1v3h-1zM119 407h3v1h-3zM120 406h1v3h-1zM129 412h3v1h-3zM130 411h1v3h-1zM139 407h3v1h-3zM140 406h1v3h-1zM149 407h3v1h-3zM150 406h1v3h-1zM159 400h3v1h-3zM160 399h1v3h-1zM169 385h3v1h-3zM170 384h1v3h-1zM179 377h3v1h-3zM180 376h1v3h-1zM189 370h3v1h-3zM190 369h1v3h-1zM199 362h3v1h-3zM200 361h1v3h-1zM209 361h3v1h-3zM210 360h1v3h-1zM219 366h3v1h-3zM220 365h1v3h-1zM229 368h3v1h-3zM230 367h1v3h-1zM239 377h3v1h-3zM240 376h1v3h-1zM249 376h3v1h-3zM250 375h1v3h-1zM259 367h3v1h-3zM260 366h1v3h-1zM269 368h3v1h-3zM270 367h1v3h-1zM279 365h3v1h-3zM280 364h1v3h-1zM289 364h3v1h-3zM290 363h1v3h-1zM299 355h3v1h-3zM300 354h1v3h-1zM309 358h3v1h-3zM310 357h1v3h-1zM319 360h3v1h-3zM320 359h1v3h-1zM329 361h3v1h-3zM330 360h1v3h-1zM339 363h3v1h-3zM340 362h1v3h-1zM349 368h3v1h-3zM350 367h1v3h-1zM359 370h3v1h-3zM360 369h1v3h-1zM369 365h3v1h-3zM370 364h1v3h-1zM379 376h3v1h-3zM380 375h1v3h-1zM389 375h3v1h-3zM390 374h1v3h-1zM399 375h3v1h-3zM400 374h1v3h-1zM409 375h3v1h-3zM410 374h1v3h-1zM419 388h3v1h-3zM420 387h1v3h-1zM429 383h3v1h-3zM430 382h1v3h-1zM439 365h3v1h-3zM440 364h1v3h-1zM449 369h3v1h-3zM450 368h1v3h-1zM459 369h3v1h-3zM460 368h1v3h-1zM469 373h3v1h-3zM470 372h1v3h-1zM479 381h3v1h-3zM480 380h1v3h-1zM489 382h3v1h-3zM490 381h1v3h-1zM499 385h3v1h-3zM500 384h1v3h-1zM509 383h3v1h-3zM510 382h1v3h-1zM519 391h3v1h-3zM520 390h1v3h-1zM529 398h3v1h-3zM530 397h1v3h-1zM539 392h3v1h-3zM540 391h1v3h-1zM549 384h3v1h-3zM550 383h1v3h-1zM559 391h3v1h-3zM560 390h1v3h-1zM569 391h3v1h-3zM570 390h1v3h-1zM579 388h3v1h-3zM580 387h1v3h-1zM589 387h3v1h-3zM590 386h1v3h-1zM599 395h3v1h-3zM600 394h1v3h-1zM609 393h3v1h-3zM610 392h1v3h-1zM619 387h3v1h-3zM620 386h1v3h-1zM629 391h3v1h-3zM630 390h1v3h-1zM639 394h3v1h-3zM640 393h1v3h-1zM649 386h3v1h-3zM650 385h1v3h-1zM659 370h3v1h-3zM660 369h1v3h-1zM669 378h3v1h-3zM670 377h1v3h-1zM679 376h3v1h-3zM680 375h1v3h-1zM689 374h3v1h-3zM690 373h1v3h-1z"/>
<polyline transform="translate(.5,.5)" points="50,363.7 60,357.9 70,366.7 80,368.9 90,391.5 100,413.8 110,417.8 120,417.8 130,417.6 140,417.5 150,417.5 160,416.7 170,399.5 180,380.6 190,377.0 200,372.3 210,366.3 220,366.1 230,365.1 240,363.4 250,365.9 260,368.2 270,375.6 280,373.5 290,358.5 300,354.5 310,360.1 320,359.4 330,353.6 340,358.1 350,359.9 360,363.5 370,367.8 380,359.4 390,359.8 400,358.1 410,354.8 420,349.6 430,357.0 440,358.5 450,354.4 460,353.3 470,363.9 480,373.2 490,374.4 500,382.7 510,381.2 520,375.4 530,375.5 540,379.4 550,393.4 560,401.2 570,392.5 580,386.2 590,377.7 600,378.6 610,375.6 620,377.8 630,370.1 640,369.8 650,362.0 660,351.1 670,352.8 680,349.5 690,349.5" fill="none" stroke="#88C870" stroke-width="1" shape-rendering="crispEdges"/>
<path shape-rendering="crispEdges" fill="#88C870" d="M49 364h3v1h-3zM50 363h1v3h-1zM59 358h3v1h-3zM60 357h1v3h-1zM69 367h3v1h-3zM70 366h1v3h-1zM79 369h3v1h-3zM80 368h1v3h-1zM89 391h3v1h-3zM90 390h1v3h-1zM99 414h3v1h-3zM100 413h1v3h-1zM109 418h3v1h-3zM110 417h1v3h-1zM119 418h3v1h-3zM120 417h1v3h-1zM129 418h3v1h-3zM130 417h1v3h-1zM139 417h3v1h-3zM140 416h1v3h-1zM149 418h3v1h-3zM150 417h1v3h-1zM159 417h3v1h-3zM160 416h1v3h-1zM169 400h3v1h-3zM170 399h1v3h-1zM179 381h3v1h-3zM180 380h1v3h-1zM189 377h3v1h-3zM190 376h1v3h-1zM199 372h3v1h-3zM200 371h1v3h-1zM209 366h3v1h-3zM210 365h1v3h-1zM219 366h3v1h-3zM220 365h1v3h-1zM229 365h3v1h-3zM230 364h1v3h-1zM239 363h3v1h-3zM240 362h1v3h-1zM249 366h3v1h-3zM250 365h1v3h-1zM259 368h3v1h-3zM260 367h1v3h-1zM269 376h3v1h-3zM270 375h1v3h-1zM279 373h3v1h-3zM280 372h1v3h-1zM289 359h3v1h-3zM290 358h1v3h-1zM299 355h3v1h-3zM300 354h1v3h-1zM309 360h3v1h-3zM310 359h1v3h-1zM319 359h3v1h-3zM320 358h1v3h-1zM329 354h3v1h-3zM330 353h1v3h-1zM339 358h3v1h-3zM340 357h1v3h-1zM349 360h3v1h-3zM350 359h1v3h-1zM359 364h3v1h-3zM360 363h1v3h-1zM369 368h3v1h-3zM370 367h1v3h-1zM379 359h3v1h-3zM380 358h1v3h-1zM389 360h3v1h-3zM390 359h1v3h-1zM399 358h3v1h-3zM400 357h1v3h-1zM409 355h3v1h-3zM410 354h1v3h-1zM419 350h3v1h-3zM420 349h1v3h-1zM429 357h3v1h-3zM430 356h1v3h-1zM439 358h3v1h-3zM440 357h1v3h-1zM449 354h3v1h-3zM450 353h1v3h-1zM459 353h3v1h-3zM460 352h1v3h-1zM469 364h3v1h-3zM470 363h1v3h-1zM479 373h3v1h-3zM480 372h1v3h-1zM489 374h3v1h-3zM490 373h1v3h-1zM499 383h3v1h-3zM500 382h1v3h-1zM509 381h3v1h-3zM510 380h1v3h-1zM519 375h3v1h-3zM520 374h1v3h-1zM529 375h3v1h-3zM530 374h1v3h-1zM539 379h3v1h-3zM540 378h1v3h-1zM549 393h3v1h-3zM550 392h1v3h-1zM559 401h3v1h-3zM560 400h1v3h-1zM569 392h3v1h-3zM570 391h1v3h-1zM579 386h3v1h-3zM580 385h1v3h-1zM589 378h3v1h-3zM590 377h1v3h-1zM599 379h3v1h-3zM600 378h1v3h-1zM609 376h3v1h-3zM610 375h1v3h-1zM619 378h3v1h-3zM620 377h1v3h-1zM629 370h3v1h-3zM630 369h1v3h-1zM639 370h3v1h-3zM640 369h1v3h-1zM649 362h3v1h-3zM650 361h1v3h-1zM659 351h3v1h-3zM660 350h1v3h-1zM669 353h3v1h-3zM670 352h1v3h-1zM679 349h3v1h-3zM680 348h1v3h-1zM689 350h3v1h-3zM690 349h1v3h-1z"/>
<polyline transform="translate(.5,.5)" points="50,364.6 60,359.2 70,368.0 80,373.3 90,399.7 100,415.7 110,420.3 120,425.0 130,425.9 140,425.6 150,422.4 160,425.0 170,420.3 180,395.9 190,385.5 200,381.5 210,376.3 220,384.8 230,390.3 240,385.7 250,386.7 260,388.0 270,388.0 280,385.1 290,378.0 300,370.1 310,361.3 320,359.4 330,362.7 340,360.4 350,363.1 360,361.9 370,360.4 380,355.5 390,356.7 400,365.2 410,361.4 420,361.5 430,361.8 440,357.4 450,363.9 460,369.0 470,363.9 480,371.4 490,377.2 500,371.8 510,383.6 520,389.4 530,379.7 540,385.4 550,383.1 560,374.4 570,363.2 580,362.8 590,365.1 600,370.2 610,373.6 620,367.2 630,370.5 640,382.4 650,397.9 660,389.9 670,385.9 680,381.9 690,382.3" fill="none" stroke="#F0C010" stroke-width="1" shape-rendering="crispEdges"/>
<path shape-rendering="crispEdges" fill="#F0C010" d="M49 365h3v1h-3zM50 364h1v3h-1zM59 359h3v1h-3zM60 358h1v3h-1zM69 368h3v1h-3zM70 367h1v3h-1zM79 373h3v1h-3zM80 372h1v3h-1zM89 400h3v1h-3zM90 399h1v3h-1zM99 416h3v1h-3zM100 415h1v3h-1zM109 420h3v1h-3zM110 419h1v3h-1zM119 425h3v1h-3zM120 424h1v3h-1zM129 426h3v1h-3zM130 425h1v3h-1zM139 426h3v1h-3zM140 425h1v3h-1zM149 422h3v1h-3zM150 421h1v3h-1zM159 425h3v1h-3zM160 424h1v3h-1zM169 420h3v1h-3zM170 419h1v3h-1zM179 396h3v1h-3zM180 395h1v3h-1zM189 385h3v1h-3zM190 384h1v3h-1zM199 381h3v1h-3zM200 380h1v3h-1zM209 376h3v1h-3zM210 375h1v3h-1zM219 385h3v1h-3zM220 384h1v3h-1zM229 390h3v1h-3zM230 389h1v3h-1zM239 386h3v1h-3zM240 385h1v3h-1zM249 387h3v1h-3zM250 386h1v3h-1zM259 388h3v1h-3zM260 387h1v3h-1zM269 388h3v1h-3zM270 387h1v3h-1zM279 385h3v1h-3zM280 384h1v3h-1zM289 378h3v1h-3zM290 377h1v3h-1zM299 370h3v1h-3zM300 369h1v3h-1zM309 361h3v1h-3zM310 360h1v3h-1zM319 359h3v1h-3zM320 358h1v3h-1zM329 363h3v1h-3zM330 362h1v3h-1zM339 360h3v1h-3zM340 359h1v3h-1zM349 363h3v1h-3zM350 362h1v3h-1zM359 362h3v1h-3zM360 361h1v3h-1zM369 360h3v1h-3zM370 359h1v3h-1zM379 356h3v1h-3zM380 355h1v3h-1zM389 357h3v1h-3zM390 356h1v3h-1zM399 365h3v1h-3zM400 364h1v3h-1zM409 361h3v1h-3zM410 360h1v3h-1zM419 362h3v1h-3zM420 361h1v3h-1zM429 362h3v1h-3zM430 361h1v3h-1zM439 357h3v1h-3zM440 356h1v3h-1zM449 364h3v1h-3zM450 363h1v3h-1zM459 369h3v1h-3zM460 368h1v3h-1zM469 364h3v1h-3zM470 363h1v3h-1zM479 371h3v1h-3zM480 370h1v3h-1zM489 377h3v1h-3zM490 376h1v3h-1zM499 372h3v1h-3zM500 371h1v3h-1zM509 384h3v1h-3zM510 383h1v3h-1zM519 389h3v1h-3zM520 388h1v3h-1zM529 380h3v1h-3zM530 379h1v3h-1zM539 385h3v1h-3zM540 384h1v3h-1zM549 383h3v1h-3zM550 382h1v3h-1zM559 374h3v1h-3zM560 373h1v3h-1zM569 363h3v1h-3zM570 362h1v3h-1zM579 363h3v1h-3zM580 362h1v3h-1zM589 365h3v1h-3zM590 364h1v3h-1zM599 370h3v1h-3zM600 369h1v3h-1zM609 374h3v1h-3zM610 373h1v3h-1zM619 367h3v1h-3zM620 366h1v3h-1zM629 370h3v1h-3zM630 369h1v3h-1zM639 382h3v1h-3zM640 381h1v3h-1zM649 398h3v1h-3zM650 397h1v3h-1zM659 390h3v1h-3zM660 389h1v3h-1zM669 386h3v1h-3zM670 385h1v3h-1zM679 382h3v1h-3zM680 381h1v3h-1zM689 382h3v1h-3zM690 381h1v3h-1z"/>
<polyline transform="translate(.5,.5)" points="50,363.8 60,358.4 70,366.6 80,372.9 90,397.4 100,414.8 110,418.9 120,422.3 130,420.2 140,419.3 150,415.4 160,413.8 170,413.2 180,406.5 190,390.4 200,385.6 210,380.3 220,383.5 230,391.0 240,388.0 250,389.6 260,391.0 270,389.0 280,388.2 290,382.2 300,376.2 310,367.6 320,369.1 330,369.7 340,366.7 350,368.0 360,371.3 370,371.1 380,373.8 390,372.7 400,376.1 410,371.0 420,377.1 430,376.8 440,370.8 450,369.0 460,371.7 470,366.9 480,374.6 490,376.9 500,380.3 510,386.6 520,395.8 530,390.9 540,386.1 550,389.4 560,375.0 570,379.5 580,378.1 590,376.8 600,378.6 610,379.0 620,382.2 630,385.7 640,382.7 650,394.0 660,387.4 670,383.4 680,386.7 690,389.1" fill="none" stroke="#9040B0" stroke-width="1" shape-rendering="crispEdges"/>
<path shape-rendering="crispEdges" fill="#9040B0" d="M49 364h3v1h-3zM50 363h1v3h-1zM59 358h3v1h-3zM60 357h1v3h-1zM69 367h3v1h-3zM70 366h1v3h-1zM79 373h3v1h-3zM80 372h1v3h-1zM89 397h3v1h-3zM90 396h1v3h-1zM99 415h3v1h-3zM100 414h1v3h-1zM109 419h3v1h-3zM110 418h1v3h-1zM119 422h3v1h-3zM120 421h1v3h-1zM129 420h3v1h-3zM130 419h1v3h-1zM139 419h3v1h-3zM140 418h1v3h-1zM149 415h3v1h-3zM150 414h1v3h-1zM159 414h3v1h-3zM160 413h1v3h-1zM169 413h3v1h-3zM170 412h1v3h-1zM179 407h3v1h-3zM180 406h1v3h-1zM189 390h3v1h-3zM190 389h1v3h-1zM199 386h3v1h-3zM200 385h1v3h-1zM209 380h3v1h-3zM210 379h1v3h-1zM219 384h3v1h-3zM220 383h1v3h-1zM229 391h3v1h-3zM230 390h1v3h-1zM239 388h3v1h-3zM240 387h1v3h-1zM249 390h3v1h-3zM250 389h1v3h-1zM259 391h3v1h-3zM260 390h1v3h-1zM269 389h3v1h-3zM270 388h1v3h-1zM279 388h3v1h-3zM280 387h1v3h-1zM289 382h3v1h-3zM290 381h1v3h-1zM299 376h3v1h-3zM300 375h1v3h-1zM309 368h3v1h-3zM310 367h1v3h-1zM319 369h3v1h-3zM320 368h1v3h-1zM329 370h3v1h-3zM330 369h1v3h-1zM339 367h3v1h-3zM340 366h1v3h-1zM349 368h3v1h-3zM350 367h1v3h-1zM359 371h3v1h-3zM360 370h1v3h-1zM369 371h3v1h-3zM370 370h1v3h-1zM379 374h3v1h-3zM380 373h1v3h-1zM389 373h3v1h-3zM390 372h1v3h-1zM399 376h3v1h-3zM400 375h1v3h-1zM409 371h3v1h-3zM410 370h1v3h-1zM419 377h3v1h-3zM420 376h1v3h-1zM429 377h3v1h-3zM430 376h1v3h-1zM439 371h3v1h-3zM440 370h1v3h-1zM449 369h3v1h-3zM450 368h1v3h-1zM459 372h3v1h-3zM460 371h1v3h-1zM469 367h3v1h-3zM470 366h1v3h-1zM479 375h3v1h-3zM480 374h1v3h-1zM489 377h3v1h-3zM490 376h1v3h-1zM499 380h3v1h-3zM500 379h1v3h-1zM509 387h3v1h-3zM510 386h1v3h-1zM519 396h3v1h-3zM520 395h1v3h-1zM529 391h3v1h-3zM530 390h1v3h-1zM539 386h3v1h-3zM540 385h1v3h-1zM549 389h3v1h-3zM550 388h1v3h-1zM559 375h3v1h-3zM560 374h1v3h-1zM569 380h3v1h-3zM570 379h1v3h-1zM579 378h3v1h-3zM580 377h1v3h-1zM589 377h3v1h-3zM590 376h1v3h-1zM599 379h3v1h-3zM600 378h1v3h-1zM609 379h3v1h-3zM610 378h1v3h-1zM619 382h3v1h-3zM620 381h1v3h-1zM629 386h3v1h-3zM630 385h1v3h-1zM639 383h3v1h-3zM640 382h1v3h-1zM649 394h3v1h-3zM650 393h1v3h-1zM659 387h3v1h-3zM660 386h1v3h-1zM669 383h3v1h-3zM670 382h1v3h-1zM679 387h3v1h-3zM680 386h1v3h-1zM689 389h3v1h-3zM690 388h1v3h-1z"/>
<polyline transform="translate(.5,.5)" points="50,364.3 60,359.2 70,369.1 80,374.9 90,407.1 100,423.4 110,423.7 120,425.4 130,426.4 140,425.0 150,422.4 160,424.1 170,413.0 180,398.7 190,385.0 200,373.7 210,371.1 220,374.7 230,380.8 240,382.3 250,384.6 260,387.4 270,387.9 280,387.0 290,382.6 300,376.2 310,369.8 320,370.0 330,369.7 340,370.0 350,367.1 360,370.8 370,372.0 380,376.8 390,384.7 400,385.0 410,382.4 420,397.7 430,394.5 440,396.4 450,388.1 460,384.1 470,392.7 480,384.5 490,400.0 500,392.2 510,398.7 520,386.2 530,376.3 540,380.0 550,369.6 560,355.5 570,363.7 580,364.5 590,364.7 600,388.5 610,398.2 620,414.3 630,425.7 640,432.9 650,432.9 660,405.7 670,391.4 680,392.3 690,396.1" fill="none" stroke="#B05010" stroke-width="1" shape-rendering="crispEdges"/>
<path shape-rendering="crispEdges" fill="#B05010" d="M49 364h3v1h-3zM50 363h1v3h-1zM59 359h3v1h-3zM60 358h1v3h-1zM69 369h3v1h-3zM70 368h1v3h-1zM79 375h3v1h-3zM80 374h1v3h-1zM89 407h3v1h-3zM90 406h1v3h-1zM99 423h3v1h-3zM100 422h1v3h-1zM109 424h3v1h-3zM110 423h1v3h-1zM119 425h3v1h-3zM120 424h1v3h-1zM129 426h3v1h-3zM130 425h1v3h-1zM139 425h3v1h-3zM140 424h1v3h-1zM149 422h3v1h-3zM150 421h1v3h-1zM159 424h3v1h-3zM160 423h1v3h-1zM169 413h3v1h-3zM170 412h1v3h-1zM179 399h3v1h-3zM180 398h1v3h-1zM189 385h3v1h-3zM190 384h1v3h-1zM199 374h3v1h-3zM200 373h1v3h-1zM209 371h3v1h-3zM210 370h1v3h-1zM219 375h3v1h-3zM220 374h1v3h-1zM229 381h3v1h-3zM230 380h1v3h-1zM239 382h3v1h-3zM240 381h1v3h-1zM249 385h3v1h-3zM250 384h1v3h-1zM259 387h3v1h-3zM260 386h1v3h-1zM269 388h3v1h-3zM270 387h1v3h-1zM279 387h3v1h-3zM280 386h1v3h-1zM289 383h3v1h-3zM290 382h1v3h-1zM299 376h3v1h-3zM300 375h1v3h-1zM309 370h3v1h-3zM310 369h1v3h-1zM319 370h3v1h-3zM320 369h1v3h-1zM329 370h3v1h-3zM330 369h1v3h-1zM339 370h3v1h-3zM340 369h1v3h-1zM349 367h3v1h-3zM350 366h1v3h-1zM359 371h3v1h-3zM360 370h1v3h-1zM369 372h3v1h-3zM370 371h1v3h-1zM379 377h3v1h-3zM380 376h1v3h-1zM389 385h3v1h-3zM390 384h1v3h-1zM399 385h3v1h-3zM400 384h1v3h-1zM409 382h3v1h-3zM410 381h1v3h-1zM419 398h3v1h-3zM420 397h1v3h-1zM429 395h3v1h-3zM430 394h1v3h-1zM439 396h3v1h-3zM440 395h1v3h-1zM449 388h3v1h-3zM450 387h1v3h-1zM459 384h3v1h-3zM460 383h1v3h-1zM469 393h3v1h-3zM470 392h1v3h-1zM479 384h3v1h-3zM480 383h1v3h-1zM489 400h3v1h-3zM490 399h1v3h-1zM499 392h3v1h-3zM500 391h1v3h-1zM509 399h3v1h-3zM510 398h1v3h-1zM519 386h3v1h-3zM520 385h1v3h-1zM529 376h3v1h-3zM530 375h1v3h-1zM539 380h3v1h-3zM540 379h1v3h-1zM549 370h3v1h-3zM550 369h1v3h-1zM559 355h3v1h-3zM560 354h1v3h-1zM569 364h3v1h-3zM570 363h1v3h-1zM579 364h3v1h-3zM580 363h1v3h-1zM589 365h3v1h-3zM590 364h1v3h-1zM599 388h3v1h-3zM600 387h1v3h-1zM609 398h3v1h-3zM610 397h1v3h-1zM619 414h3v1h-3zM620 413h1v3h-1zM629 426h3v1h-3zM630 425h1v3h-1zM639 433h3v1h-3zM640 432h1v3h-1zM649 433h3v1h-3zM650 432h1v3h-1zM659 406h3v1h-3zM660 405h1v3h-1zM669 391h3v1h-3zM670 390h1v3h-1zM679 392h3v1h-3zM680 391h1v3h-1zM689 396h3v1h-3zM690 395h1v3h-1z"/>
<polyline transform="translate(.5,.5)" points="50,363.2 60,356.8 70,365.5 80,366.0 90,376.3 100,383.6 110,395.5 120,404.6 130,409.7 140,404.5 150,401.9 160,396.6 170,382.4 180,373.4 190,369.8 200,361.0 210,364.6 220,361.1 230,363.8 240,362.1 250,356.6 260,356.9 270,351.5 280,352.7 290,345.9 300,345.0 310,345.2 320,344.8 330,344.0 340,343.2 350,345.4 360,348.1 370,350.2 380,340.4 390,347.9 400,348.1 410,346.8 420,345.0 430,342.5 440,348.3 450,350.4 460,366.3 470,388.8 480,409.2 490,433.5 500,429.5 510,437.6 520,440.3 530,434.9 540,400.0 550,394.3 560,374.1 570,364.1 580,369.1 590,377.1 600,385.7 610,388.6 620,391.4 630,408.6 640,427.1 650,443.4 660,441.4 670,444.9 680,442.9 690,444.3" fill="none" stroke="#508010" stroke-width="1" shape-rendering="crispEdges"/>
<path shape-rendering="crispEdges" fill="#508010" d="M49 363h3v1h-3zM50 362h1v3h-1zM59 357h3v1h-3zM60 356h1v3h-1zM69 366h3v1h-3zM70 365h1v3h-1zM79 366h3v1h-3zM80 365h1v3h-1zM89 376h3v1h-3zM90 375h1v3h-1zM99 384h3v1h-3zM100 383h1v3h-1zM109 395h3v1h-3zM110 394h1v3h-1zM119 405h3v1h-3zM120 404h1v3h-1zM129 410h3v1h-3zM130 409h1v3h-1zM139 404h3v1h-3zM140 403h1v3h-1zM149 402h3v1h-3zM150 401h1v3h-1zM159 397h3v1h-3zM160 396h1v3h-1zM169 382h3v1h-3zM170 381h1v3h-1zM179 373h3v1h-3zM180 372h1v3h-1zM189 370h3v1h-3zM190 369h1v3h-1zM199 361h3v1h-3zM200 360h1v3h-1zM209 365h3v1h-3zM210 364h1v3h-1zM219 361h3v1h-3zM220 360h1v3h-1zM229 364h3v1h-3zM230 363h1v3h-1zM239 362h3v1h-3zM240 361h1v3h-1zM249 357h3v1h-3zM250 356h1v3h-1zM259 357h3v1h-3zM260 356h1v3h-1zM269 351h3v1h-3zM270 350h1v3h-1zM279 353h3v1h-3zM280 352h1v3h-1zM289 346h3v1h-3zM290 345h1v3h-1zM299 345h3v1h-3zM300 344h1v3h-1zM309 345h3v1h-3zM310 344h1v3h-1zM319 345h3v1h-3zM320 344h1v3h-1zM329 344h3v1h-3zM330 343h1v3h-1zM339 343h3v1h-3zM340 342h1v3h-1zM349 345h3v1h-3zM350 344h1v3h-1zM359 348h3v1h-3zM360 347h1v3h-1zM369 350h3v1h-3zM370 349h1v3h-1zM379 340h3v1h-3zM380 339h1v3h-1zM389 348h3v1h-3zM390 347h1v3h-1zM399 348h3v1h-3zM400 347h1v3h-1zM409 347h3v1h-3zM410 346h1v3h-1zM419 345h3v1h-3zM420 344h1v3h-1zM429 342h3v1h-3zM430 341h1v3h-1zM439 348h3v1h-3zM440 347h1v3h-1zM449 350h3v1h-3zM450 349h1v3h-1zM459 366h3v1h-3zM460 365h1v3h-1zM469 389h3v1h-3zM470 388h1v3h-1zM479 409h3v1h-3zM480 408h1v3h-1zM489 434h3v1h-3zM490 433h1v3h-1zM499 429h3v1h-3zM500 428h1v3h-1zM509 438h3v1h-3zM510 437h1v3h-1zM519 440h3v1h-3zM520 439h1v3h-1zM529 435h3v1h-3zM530 434h1v3h-1zM539 400h3v1h-3zM540 399h1v3h-1zM549 394h3v1h-3zM550 393h1v3h-1zM559 374h3v1h-3zM560 373h1v3h-1zM569 364h3v1h-3zM570 363h1v3h-1zM579 369h3v1h-3zM580 368h1v3h-1zM589 377h3v1h-3zM590 376h1v3h-1zM599 386h3v1h-3zM600 385h1v3h-1zM609 389h3v1h-3zM610 388h1v3h-1zM619 391h3v1h-3zM620 390h1v3h-1zM629 409h3v1h-3zM630 408h1v3h-1zM639 427h3v1h-3zM640 426h1v3h-1zM649 443h3v1h-3zM650 442h1v3h-1zM659 441h3v1h-3zM660 440h1v3h-1zM669 445h3v1h-3zM670 444h1v3h-1zM679 443h3v1h-3zM680 442h1v3h-1zM689 444h3v1h-3zM690 443h1v3h-1z"/>
<polyline transform="translate(.5,.5)" points="50,363.3 60,355.5 70,365.4 80,368.1 90,385.8 100,403.4 110,407.0 120,415.2 130,415.7 140,408.6 150,411.8 160,408.8 170,397.3 180,382.6 190,376.7 200,373.9 210,369.9 220,375.5 230,372.4 240,373.4 250,378.3 260,380.0 270,375.1 280,363.1 290,367.7 300,358.2 310,347.4 320,343.8 330,343.0 340,342.2 350,344.3 360,347.0 370,349.2 380,339.5 390,338.4 400,343.0 410,347.0 420,363.7 430,381.3 440,395.7 450,409.2 460,417.3 470,422.2 480,411.9 490,417.3 500,401.1 510,405.3 520,416.2 530,415.5 540,405.1 550,397.9 560,410.3 570,421.3 580,423.6 590,414.3 600,408.3 610,405.5 620,399.3 630,415.7 640,408.7 650,404.0 660,395.1 670,392.1 680,395.9 690,398.7" fill="none" stroke="#1080F0" stroke-width="1" shape-rendering="crispEdges"/>
<path shape-rendering="crispEdges" fill="#1080F0" d="M49 363h3v1h-3zM50 362h1v3h-1zM59 355h3v1h-3zM60 354h1v3h-1zM69 365h3v1h-3zM70 364h1v3h-1zM79 368h3v1h-3zM80 367h1v3h-1zM89 386h3v1h-3zM90 385h1v3h-1zM99 403h3v1h-3zM100 402h1v3h-1zM109 407h3v1h-3zM110 406h1v3h-1zM119 415h3v1h-3zM120 414h1v3h-1zM129 416h3v1h-3zM130 415h1v3h-1zM139 409h3v1h-3zM140 408h1v3h-1zM149 412h3v1h-3zM150 411h1v3h-1zM159 409h3v1h-3zM160 408h1v3h-1zM169 397h3v1h-3zM170 396h1v3h-1zM179 383h3v1h-3zM180 382h1v3h-1zM189 377h3v1h-3zM190 376h1v3h-1zM199 374h3v1h-3zM200 373h1v3h-1zM209 370h3v1h-3zM210 369h1v3h-1zM219 375h3v1h-3zM220 374h1v3h-1zM229 372h3v1h-3zM230 371h1v3h-1zM239 373h3v1h-3zM240 372h1v3h-1zM249 378h3v1h-3zM250 377h1v3h-1zM259 380h3v1h-3zM260 379h1v3h-1zM269 375h3v1h-3zM270 374h1v3h-1zM279 363h3v1h-3zM280 362h1v3h-1zM289 368h3v1h-3zM290 367h1v3h-1zM299 358h3v1h-3zM300 357h1v3h-1zM309 347h3v1h-3zM310 346h1v3h-1zM319 344h3v1h-3zM320 343h1v3h-1zM329 343h3v1h-3zM330 342h1v3h-1zM339 342h3v1h-3zM340 341h1v3h-1zM349 344h3v1h-3zM350 343h1v3h-1zM359 347h3v1h-3zM360 346h1v3h-1zM369 349h3v1h-3zM370 348h1v3h-1zM379 339h3v1h-3zM380 338h1v3h-1zM389 338h3v1h-3zM390 337h1v3h-1zM399 343h3v1h-3zM400 342h1v3h-1zM409 347h3v1h-3zM410 346h1v3h-1zM419 364h3v1h-3zM420 363h1v3h-1zM429 381h3v1h-3zM430 380h1v3h-1zM439 396h3v1h-3zM440 395h1v3h-1zM449 409h3v1h-3zM450 408h1v3h-1zM459 417h3v1h-3zM460 416h1v3h-1zM469 422h3v1h-3zM470 421h1v3h-1zM479 412h3v1h-3zM480 411h1v3h-1zM489 417h3v1h-3zM490 416h1v3h-1zM499 401h3v1h-3zM500 400h1v3h-1zM509 405h3v1h-3zM510 404h1v3h-1zM519 416h3v1h-3zM520 415h1v3h-1zM529 416h3v1h-3zM530 415h1v3h-1zM539 405h3v1h-3zM540 404h1v3h-1zM549 398h3v1h-3zM550 397h1v3h-1zM559 410h3v1h-3zM560 409h1v3h-1zM569 421h3v1h-3zM570 420h1v3h-1zM579 424h3v1h-3zM580 423h1v3h-1zM589 414h3v1h-3zM590 413h1v3h-1zM599 408h3v1h-3zM600 407h1v3h-1zM609 406h3v1h-3zM610 405h1v3h-1zM619 399h3v1h-3zM620 398h1v3h-1zM629 416h3v1h-3zM630 415h1v3h-1zM639 409h3v1h-3zM640 408h1v3h-1zM649 404h3v1h-3zM650 403h1v3h-1zM659 395h3v1h-3zM660 394h1v3h-1zM669 392h3v1h-3zM670 391h1v3h-1zM679 396h3v1h-3zM680 395h1v3h-1zM689 399h3v1h-3zM690 398h1v3h-1z"/>
<polyline transform="translate(.5,.5)" points="50,363.6 60,357.1 70,365.8 80,368.4 90,386.0 100,390.2 110,397.1 120,405.2 130,413.3 140,408.9 150,410.8 160,407.5 170,393.9 180,373.4 190,371.2 200,368.9 210,368.3 220,363.2 230,362.4 240,356.5 250,354.6 260,348.4 270,353.8 280,363.2 290,401.1 300,414.6 310,418.6 320,384.9 330,377.0 340,374.0 350,380.8 360,401.1 370,384.9 380,370.4 390,354.7 400,357.3 410,355.7 420,354.0 430,355.6 440,360.3 450,362.4 460,356.0 470,364.4 480,367.1 490,365.9 500,365.3 510,368.2 520,357.9 530,357.6 540,359.1 550,360.0 560,357.5 570,359.2 580,365.5 590,372.8 600,378.1 610,374.6 620,371.5 630,374.5 640,379.2 650,378.4 660,373.9 670,380.6 680,378.7 690,370.9" fill="none" stroke="#E8D8B0" stroke-width="1" shape-rendering="crispEdges"/>
<path shape-rendering="crispEdges" fill="#E8D8B0" d="M49 364h3v1h-3zM50 363h1v3h-1zM59 357h3v1h-3zM60 356h1v3h-1zM69 366h3v1h-3zM70 365h1v3h-1zM79 368h3v1h-3zM80 367h1v3h-1zM89 386h3v1h-3zM90 385h1v3h-1zM99 390h3v1h-3zM100 389h1v3h-1zM109 397h3v1h-3zM110 396h1v3h-1zM119 405h3v1h-3zM120 404h1v3h-1zM129 413h3v1h-3zM130 412h1v3h-1zM139 409h3v1h-3zM140 408h1v3h-1zM149 411h3v1h-3zM150 410h1v3h-1zM159 407h3v1h-3zM160 406h1v3h-1zM169 394h3v1h-3zM170 393h1v3h-1zM179 373h3v1h-3zM180 372h1v3h-1zM189 371h3v1h-3zM190 370h1v3h-1zM199 369h3v1h-3zM200 368h1v3h-1zM209 368h3v1h-3zM210 367h1v3h-1zM219 363h3v1h-3zM220 362h1v3h-1zM229 362h3v1h-3zM230 361h1v3h-1zM239 356h3v1h-3zM240 355h1v3h-1zM249 355h3v1h-3zM250 354h1v3h-1zM259 348h3v1h-3zM260 347h1v3h-1zM269 354h3v1h-3zM270 353h1v3h-1zM279 363h3v1h-3zM280 362h1v3h-1zM289 401h3v1h-3zM290 400h1v3h-1zM299 415h3v1h-3zM300 414h1v3h-1zM309 419h3v1h-3zM310 418h1v3h-1zM319 385h3v1h-3zM320 384h1v3h-1zM329 377h3v1h-3zM330 376h1v3h-1zM339 374h3v1h-3zM340 373h1v3h-1zM349 381h3v1h-3zM350 380h1v3h-1zM359 401h3v1h-3zM360 400h1v3h-1zM369 385h3v1h-3zM370 384h1v3h-1zM379 370h3v1h-3zM380 369h1v3h-1zM389 355h3v1h-3zM390 354h1v3h-1zM399 357h3v1h-3zM400 356h1v3h-1zM409 356h3v1h-3zM410 355h1v3h-1zM419 354h3v1h-3zM420 353h1v3h-1zM429 356h3v1h-3zM430 355h1v3h-1zM439 360h3v1h-3zM440 359h1v3h-1zM449 362h3v1h-3zM450 361h1v3h-1zM459 356h3v1h-3zM460 355h1v3h-1zM469 364h3v1h-3zM470 363h1v3h-1zM479 367h3v1h-3zM480 366h1v3h-1zM489 366h3v1h-3zM490 365h1v3h-1zM499 365h3v1h-3zM500 364h1v3h-1zM509 368h3v1h-3zM510 367h1v3h-1zM519 358h3v1h-3zM520 357h1v3h-1zM529 358h3v1h-3zM530 357h1v3h-1zM539 359h3v1h-3zM540 358h1v3h-1zM549 360h3v1h-3zM550 359h1v3h-1zM559 357h3v1h-3zM560 356h1v3h-1zM569 359h3v1h-3zM570 358h1v3h-1zM579 366h3v1h-3zM580 365h1v3h-1zM589 373h3v1h-3zM590 372h1v3h-1zM599 378h3v1h-3zM600 377h1v3h-1zM609 375h3v1h-3zM610 374h1v3h-1zM619 371h3v1h-3zM620 370h1v3h-1zM629 375h3v1h-3zM630 374h1v3h-1zM639 379h3v1h-3zM640 378h1v3h-1zM649 378h3v1h-3zM650 377h1v3h-1zM659 374h3v1h-3zM660 373h1v3h-1zM669 381h3v1h-3zM670 380h1v3h-1zM679 379h3v1h-3zM680 378h1v3h-1zM689 371h3v1h-3zM690 370h1v3h-1z"/>
<polyline transform="translate(.5,.5)" points="50,364.1 60,358.6 70,367.2 80,372.6 90,396.3 100,408.8 110,415.7 120,416.1 130,419.1 140,413.4 150,410.8 160,410.1 170,398.0 180,386.1 190,379.8 200,374.3 210,369.3 220,366.2 230,373.4 240,375.1 250,375.5 260,370.5 270,383.4 280,382.9 290,378.5 300,367.9 310,366.3 320,370.0 330,366.8 340,367.5 350,367.5 360,371.9 370,371.3 380,373.3 390,378.5 400,381.0 410,377.4 420,365.2 430,366.3 440,371.4 450,375.0 460,380.7 470,395.6 480,389.2 490,402.9 500,398.4 510,406.2 520,413.6 530,409.4 540,397.5 550,397.9 560,393.3 570,395.7 580,409.2 590,412.9 600,403.5 610,399.9 620,399.5 630,403.8 640,397.1 650,395.1 660,387.9 670,391.6 680,390.5 690,384.4" fill="none" stroke="#4090C0" stroke-width="1" shape-rendering="crispEdges"/>
<path shape-rendering="crispEdges" fill="#4090C0" d="M49 364h3v1h-3zM50 363h1v3h-1zM59 359h3v1h-3zM60 358h1v3h-1zM69 367h3v1h-3zM70 366h1v3h-1zM79 373h3v1h-3zM80 372h1v3h-1zM89 396h3v1h-3zM90 395h1v3h-1zM99 409h3v1h-3zM100 408h1v3h-1zM109 416h3v1h-3zM110 415h1v3h-1zM119 416h3v1h-3zM120 415h1v3h-1zM129 419h3v1h-3zM130 418h1v3h-1zM139 413h3v1h-3zM140 412h1v3h-1zM149 411h3v1h-3zM150 410h1v3h-1zM159 410h3v1h-3zM160 409h1v3h-1zM169 398h3v1h-3zM170 397h1v3h-1zM179 386h3v1h-3zM180 385h1v3h-1zM189 380h3v1h-3zM190 379h1v3h-1zM199 374h3v1h-3zM200 373h1v3h-1zM209 369h3v1h-3zM210 368h1v3h-1zM219 366h3v1h-3zM220 365h1v3h-1zM229 373h3v1h-3zM230 372h1v3h-1zM239 375h3v1h-3zM240 374h1v3h-1zM249 375h3v1h-3zM250 374h1v3h-1zM259 371h3v1h-3zM260 370h1v3h-1zM269 383h3v1h-3zM270 382h1v3h-1zM279 383h3v1h-3zM280 382h1v3h-1zM289 379h3v1h-3zM290 378h1v3h-1zM299 368h3v1h-3zM300 367h1v3h-1zM309 366h3v1h-3zM310 365h1v3h-1zM319 370h3v1h-3zM320 369h1v3h-1zM329 367h3v1h-3zM330 366h1v3h-1zM339 368h3v1h-3zM340 367h1v3h-1zM349 368h3v1h-3zM350 367h1v3h-1zM359 372h3v1h-3zM360 371h1v3h-1zM369 371h3v1h-3zM370 370h1v3h-1zM379 373h3v1h-3zM380 372h1v3h-1zM389 378h3v1h-3zM390 377h1v3h-1zM399 381h3v1h-3zM400 380h1v3h-1zM409 377h3v1h-3zM410 376h1v3h-1zM419 365h3v1h-3zM420 364h1v3h-1zM429 366h3v1h-3zM430 365h1v3h-1zM439 371h3v1h-3zM440 370h1v3h-1zM449 375h3v1h-3zM450 374h1v3h-1zM459 381h3v1h-3zM460 380h1v3h-1zM469 396h3v1h-3zM470 395h1v3h-1zM479 389h3v1h-3zM480 388h1v3h-1zM489 403h3v1h-3zM490 402h1v3h-1zM499 398h3v1h-3zM500 397h1v3h-1zM509 406h3v1h-3zM510 405h1v3h-1zM519 414h3v1h-3zM520 413h1v3h-1zM529 409h3v1h-3zM530 408h1v3h-1zM539 398h3v1h-3zM540 397h1v3h-1zM549 398h3v1h-3zM550 397h1v3h-1zM559 393h3v1h-3zM560 392h1v3h-1zM569 396h3v1h-3zM570 395h1v3h-1zM579 409h3v1h-3zM580 408h1v3h-1zM589 413h3v1h-3zM590 412h1v3h-1zM599 404h3v1h-3zM600 403h1v3h-1zM609 400h3v1h-3zM610 399h1v3h-1zM619 400h3v1h-3zM620 399h1v3h-1zM629 404h3v1h-3zM630 403h1v3h-1zM639 397h3v1h-3zM640 396h1v3h-1zM649 395h3v1h-3zM650 394h1v3h-1zM659 388h3v1h-3zM660 387h1v3h-1zM669 392h3v1h-3zM670 391h1v3h-1zM679 390h3v1h-3zM680 389h1v3h-1zM689 384h3v1h-3zM690 383h1v3h-1z"/>
<polyline transform="translate(.5,.5)" points="50,363.4 60,357.6 70,366.8 80,371.7 90,390.4 100,396.8 110,410.3 120,413.4 130,414.5 140,410.8 150,406.6 160,401.8 170,383.8 180,373.7 190,369.7 200,362.0 210,361.6 220,365.2 230,363.1 240,365.6 250,363.6 260,350.2 270,351.5 280,355.4 290,351.8 300,360.6 310,355.0 320,356.8 330,360.3 340,360.1 350,358.2 360,358.2 370,358.3 380,352.2 390,360.7 400,356.2 410,353.2 420,350.9 430,344.6 440,348.3 450,355.8 460,354.7 470,356.8 480,362.9 490,360.4 500,356.1 510,355.5 520,356.8 530,374.6 540,395.9 550,418.6 560,426.8 570,428.1 580,436.2 590,427.1 600,418.6 610,414.3 620,393.6 630,372.9 640,361.0 650,356.1 660,359.2 670,348.0 680,349.5 690,349.5" fill="none" stroke="#E8A858" stroke-width="1" shape-rendering="crispEdges"/>
<path shape-rendering="crispEdges" fill="#E8A858" d="M49 363h3v1h-3zM50 362h1v3h-1zM59 358h3v1h-3zM60 357h1v3h-1zM69 367h3v1h-3zM70 366h1v3h-1zM79 372h3v1h-3zM80 371h1v3h-1zM89 390h3v1h-3zM90 389h1v3h-1zM99 397h3v1h-3zM100 396h1v3h-1zM109 410h3v1h-3zM110 409h1v3h-1zM119 413h3v1h-3zM120 412h1v3h-1zM129 414h3v1h-3zM130 413h1v3h-1zM139 411h3v1h-3zM140 410h1v3h-1zM149 407h3v1h-3zM150 406h1v3h-1zM159 402h3v1h-3zM160 401h1v3h-1zM169 384h3v1h-3zM170 383h1v3h-1zM179 374h3v1h-3zM180 373h1v3h-1zM189 370h3v1h-3zM190 369h1v3h-1zM199 362h3v1h-3zM200 361h1v3h-1zM209 362h3v1h-3zM210 361h1v3h-1zM219 365h3v1h-3zM220 364h1v3h-1zM229 363h3v1h-3zM230 362h1v3h-1zM239 366h3v1h-3zM240 365h1v3h-1zM249 364h3v1h-3zM250 363h1v3h-1zM259 350h3v1h-3zM260 349h1v3h-1zM269 351h3v1h-3zM270 350h1v3h-1zM279 355h3v1h-3zM280 354h1v3h-1zM289 352h3v1h-3zM290 351h1v3h-1zM299 361h3v1h-3zM300 360h1v3h-1zM309 355h3v1h-3zM310 354h1v3h-1zM319 357h3v1h-3zM320 356h1v3h-1zM329 360h3v1h-3zM330 359h1v3h-1zM339 360h3v1h-3zM340 359h1v3h-1zM349 358h3v1h-3zM350 357h1v3h-1zM359 358h3v1h-3zM360 357h1v3h-1zM369 358h3v1h-3zM370 357h1v3h-1zM379 352h3v1h-3zM380 351h1v3h-1zM389 361h3v1h-3zM390 360h1v3h-1zM399 356h3v1h-3zM400 355h1v3h-1zM409 353h3v1h-3zM410 352h1v3h-1zM419 351h3v1h-3zM420 350h1v3h-1zM429 345h3v1h-3zM430 344h1v3h-1zM439 348h3v1h-3zM440 347h1v3h-1zM449 356h3v1h-3zM450 355h1v3h-1zM459 355h3v1h-3zM460 354h1v3h-1zM469 357h3v1h-3zM470 356h1v3h-1zM479 363h3v1h-3zM480 362h1v3h-1zM489 360h3v1h-3zM490 359h1v3h-1zM499 356h3v1h-3zM500 355h1v3h-1zM509 356h3v1h-3zM510 355h1v3h-1zM519 357h3v1h-3zM520 356h1v3h-1zM529 375h3v1h-3zM530 374h1v3h-1zM539 396h3v1h-3zM540 395h1v3h-1zM549 419h3v1h-3zM550 418h1v3h-1zM559 427h3v1h-3zM560 426h1v3h-1zM569 428h3v1h-3zM570 427h1v3h-1zM579 436h3v1h-3zM580 435h1v3h-1zM589 427h3v1h-3zM590 426h1v3h-1zM599 419h3v1h-3zM600 418h1v3h-1zM609 414h3v1h-3zM610 413h1v3h-1zM619 394h3v1h-3zM620 393h1v3h-1zM629 373h3v1h-3zM630 372h1v3h-1zM639 361h3v1h-3zM640 360h1v3h-1zM649 356h3v1h-3zM650 355h1v3h-1zM659 359h3v1h-3zM660 358h1v3h-1zM669 348h3v1h-3zM670 347h1v3h-1zM679 349h3v1h-3zM680 348h1v3h-1zM689 350h3v1h-3zM690 349h1v3h-1z"/>
<polyline transform="translate(.5,.5)" points="50,364.3 60,358.6 70,368.1 80,373.6 90,400.5 100,418.4 110,422.6 120,423.2 130,422.1 140,418.8 150,421.1 160,420.1 170,407.9 180,387.5 190,378.3 200,373.9 210,372.7 220,372.8 230,376.3 240,382.7 250,387.1 260,387.9 270,388.2 280,386.8 290,381.1 300,375.7 310,370.4 320,367.8 330,364.8 340,369.3 350,370.6 360,371.8 370,371.3 380,373.7 390,375.7 400,372.9 410,367.5 420,360.7 430,359.6 440,363.5 450,362.6 460,363.1 470,364.6 480,374.1 490,371.2 500,375.6 510,385.7 520,397.6 530,398.9 540,395.6 550,405.7 560,411.9 570,416.8 580,407.8 590,413.6 600,413.0 610,405.6 620,401.9 630,413.3 640,417.0 650,409.0 660,391.3 670,394.5 680,404.3 690,406.6" fill="none" stroke="#5C4A18" stroke-width="1" shape-rendering="crispEdges"/>
<path shape-rendering="crispEdges" fill="#5C4A18" d="M49 364h3v1h-3zM50 363h1v3h-1zM59 359h3v1h-3zM60 358h1v3h-1zM69 368h3v1h-3zM70 367h1v3h-1zM79 374h3v1h-3zM80 373h1v3h-1zM89 401h3v1h-3zM90 400h1v3h-1zM99 418h3v1h-3zM100 417h1v3h-1zM109 423h3v1h-3zM110 422h1v3h-1zM119 423h3v1h-3zM120 422h1v3h-1zM129 422h3v1h-3zM130 421h1v3h-1zM139 419h3v1h-3zM140 418h1v3h-1zM149 421h3v1h-3zM150 420h1v3h-1zM159 420h3v1h-3zM160 419h1v3h-1zM169 408h3v1h-3zM170 407h1v3h-1zM179 387h3v1h-3zM180 386h1v3h-1zM189 378h3v1h-3zM190 377h1v3h-1zM199 374h3v1h-3zM200 373h1v3h-1zM209 373h3v1h-3zM210 372h1v3h-1zM219 373h3v1h-3zM220 372h1v3h-1zM229 376h3v1h-3zM230 375h1v3h-1zM239 383h3v1h-3zM240 382h1v3h-1zM249 387h3v1h-3zM250 386h1v3h-1zM259 388h3v1h-3zM260 387h1v3h-1zM269 388h3v1h-3zM270 387h1v3h-1zM279 387h3v1h-3zM280 386h1v3h-1zM289 381h3v1h-3zM290 380h1v3h-1zM299 376h3v1h-3zM300 375h1v3h-1zM309 370h3v1h-3zM310 369h1v3h-1zM319 368h3v1h-3zM320 367h1v3h-1zM329 365h3v1h-3zM330 364h1v3h-1zM339 369h3v1h-3zM340 368h1v3h-1zM349 371h3v1h-3zM350 370h1v3h-1zM359 372h3v1h-3zM360 371h1v3h-1zM369 371h3v1h-3zM370 370h1v3h-1zM379 374h3v1h-3zM380 373h1v3h-1zM389 376h3v1h-3zM390 375h1v3h-1zM399 373h3v1h-3zM400 372h1v3h-1zM409 367h3v1h-3zM410 366h1v3h-1zM419 361h3v1h-3zM420 360h1v3h-1zM429 360h3v1h-3zM430 359h1v3h-1zM439 363h3v1h-3zM440 362h1v3h-1zM449 363h3v1h-3zM450 362h1v3h-1zM459 363h3v1h-3zM460 362h1v3h-1zM469 365h3v1h-3zM470 364h1v3h-1zM479 374h3v1h-3zM480 373h1v3h-1zM489 371h3v1h-3zM490 370h1v3h-1zM499 376h3v1h-3zM500 375h1v3h-1zM509 386h3v1h-3zM510 385h1v3h-1zM519 398h3v1h-3zM520 397h1v3h-1zM529 399h3v1h-3zM530 398h1v3h-1zM539 396h3v1h-3zM540 395h1v3h-1zM549 406h3v1h-3zM550 405h1v3h-1zM559 412h3v1h-3zM560 411h1v3h-1zM569 417h3v1h-3zM570 416h1v3h-1zM579 408h3v1h-3zM580 407h1v3h-1zM589 414h3v1h-3zM590 413h1v3h-1zM599 413h3v1h-3zM600 412h1v3h-1zM609 406h3v1h-3zM610 405h1v3h-1zM619 402h3v1h-3zM620 401h1v3h-1zM629 413h3v1h-3zM630 412h1v3h-1zM639 417h3v1h-3zM640 416h1v3h-1zM649 409h3v1h-3zM650 408h1v3h-1zM659 391h3v1h-3zM660 390h1v3h-1zM669 395h3v1h-3zM670 394h1v3h-1zM679 404h3v1h-3zM680 403h1v3h-1zM689 407h3v1h-3zM690 406h1v3h-1z"/>
<polyline transform="translate(.5,.5)" points="50,364.3 60,359.3 70,368.4 80,373.7 90,401.0 100,415.6 110,421.4 120,421.7 130,421.8 140,421.9 150,421.4 160,421.0 170,410.4 180,388.6 190,378.1 200,367.1 210,367.6 220,368.7 230,375.1 240,381.4 250,387.6 260,395.7 270,399.7 280,403.8 290,402.4 300,378.1 310,374.9 320,372.6 330,370.1 340,374.1 350,373.6 360,376.4 370,379.4 380,377.7 390,369.2 400,347.0 410,345.7 420,343.8 430,345.7 440,381.5 450,406.2 460,410.9 470,421.2 480,417.9 490,431.0 500,427.3 510,426.5 520,432.5 530,422.1 540,412.5 550,416.6 560,419.4 570,404.9 580,411.1 590,407.7 600,410.8 610,396.4 620,396.5 630,388.8 640,396.1 650,386.1 660,378.5 670,383.0 680,384.9 690,387.3" fill="none" stroke="#F86820" stroke-width="1" shape-rendering="crispEdges"/>
<path shape-rendering="crispEdges" fill="#F86820" d="M49 364h3v1h-3zM50 363h1v3h-1zM59 359h3v1h-3zM60 358h1v3h-1zM69 368h3v1h-3zM70 367h1v3h-1zM79 374h3v1h-3zM80 373h1v3h-1zM89 401h3v1h-3zM90 400h1v3h-1zM99 416h3v1h-3zM100 415h1v3h-1zM109 421h3v1h-3zM110 420h1v3h-1zM119 422h3v1h-3zM120 421h1v3h-1zM129 422h3v1h-3zM130 421h1v3h-1zM139 422h3v1h-3zM140 421h1v3h-1zM149 421h3v1h-3zM150 420h1v3h-1zM159 421h3v1h-3zM160 420h1v3h-1zM169 410h3v1h-3zM170 409h1v3h-1zM179 389h3v1h-3zM180 388h1v3h-1zM189 378h3v1h-3zM190 377h1v3h-1zM199 367h3v1h-3zM200 366h1v3h-1zM209 368h3v1h-3zM210 367h1v3h-1zM219 369h3v1h-3zM220 368h1v3h-1zM229 375h3v1h-3zM230 374h1v3h-1zM239 381h3v1h-3zM240 380h1v3h-1zM249 388h3v1h-3zM250 387h1v3h-1zM259 396h3v1h-3zM260 395h1v3h-1zM269 400h3v1h-3zM270 399h1v3h-1zM279 404h3v1h-3zM280 403h1v3h-1zM289 402h3v1h-3zM290 401h1v3h-1zM299 378h3v1h-3zM300 377h1v3h-1zM309 375h3v1h-3zM310 374h1v3h-1zM319 373h3v1h-3zM320 372h1v3h-1zM329 370h3v1h-3zM330 369h1v3h-1zM339 374h3v1h-3zM340 373h1v3h-1zM349 374h3v1h-3zM350 373h1v3h-1zM359 376h3v1h-3zM360 375h1v3h-1zM369 379h3v1h-3zM370 378h1v3h-1zM379 378h3v1h-3zM380 377h1v3h-1zM389 369h3v1h-3zM390 368h1v3h-1zM399 347h3v1h-3zM400 346h1v3h-1zM409 346h3v1h-3zM410 345h1v3h-1zM419 344h3v1h-3zM420 343h1v3h-1zM429 346h3v1h-3zM430 345h1v3h-1zM439 382h3v1h-3zM440 381h1v3h-1zM449 406h3v1h-3zM450 405h1v3h-1zM459 411h3v1h-3zM460 410h1v3h-1zM469 421h3v1h-3zM470 420h1v3h-1zM479 418h3v1h-3zM480 417h1v3h-1zM489 431h3v1h-3zM490 430h1v3h-1zM499 427h3v1h-3zM500 426h1v3h-1zM509 426h3v1h-3zM510 425h1v3h-1zM519 432h3v1h-3zM520 431h1v3h-1zM529 422h3v1h-3zM530 421h1v3h-1zM539 413h3v1h-3zM540 412h1v3h-1zM549 417h3v1h-3zM550 416h1v3h-1zM559 419h3v1h-3zM560 418h1v3h-1zM569 405h3v1h-3zM570 404h1v3h-1zM579 411h3v1h-3zM580 410h1v3h-1zM589 408h3v1h-3zM590 407h1v3h-1zM599 411h3v1h-3zM600 410h1v3h-1zM609 396h3v1h-3zM610 395h1v3h-1zM619 397h3v1h-3zM620 396h1v3h-1zM629 389h3v1h-3zM630 388h1v3h-1zM639 396h3v1h-3zM640 395h1v3h-1zM649 386h3v1h-3zM650 385h1v3h-1zM659 379h3v1h-3zM660 378h1v3h-1zM669 383h3v1h-3zM670 382h1v3h-1zM679 385h3v1h-3zM680 384h1v3h-1zM689 387h3v1h-3zM690 386h1v3h-1z"/>
<polyline transform="translate(.5,.5)" points="50,363.8 60,358.0 70,367.4 80,373.3 90,396.5 100,416.5 110,421.2 120,422.3 130,421.8 140,423.4 150,421.0 160,420.4 170,415.7 180,400.8 190,391.0 200,380.3 210,376.3 220,380.5 230,383.5 240,385.0 250,386.1 260,385.2 270,379.2 280,383.4 290,378.0 300,360.3 310,357.5 320,358.9 330,353.7 340,355.0 350,354.4 360,363.2 370,364.0 380,366.5 390,365.0 400,358.4 410,364.1 420,361.2 430,362.6 440,360.9 450,366.9 460,375.7 470,377.2 480,380.4 490,383.3 500,381.7 510,372.0 520,377.6 530,379.4 540,367.3 550,355.7 560,357.4 570,356.9 580,364.7 590,374.8 600,381.2 610,379.9 620,360.7 630,374.9 640,381.6 650,370.9 660,367.0 670,370.1 680,363.6 690,369.9" fill="none" stroke="#C8B870" stroke-width="1" shape-rendering="crispEdges"/>
<path shape-rendering="crispEdges" fill="#C8B870" d="M49 364h3v1h-3zM50 363h1v3h-1zM59 358h3v1h-3zM60 357h1v3h-1zM69 367h3v1h-3zM70 366h1v3h-1zM79 373h3v1h-3zM80 372h1v3h-1zM89 397h3v1h-3zM90 396h1v3h-1zM99 416h3v1h-3zM100 415h1v3h-1zM109 421h3v1h-3zM110 420h1v3h-1zM119 422h3v1h-3zM120 421h1v3h-1zM129 422h3v1h-3zM130 421h1v3h-1zM139 423h3v1h-3zM140 422h1v3h-1zM149 421h3v1h-3zM150 420h1v3h-1zM159 420h3v1h-3zM160 419h1v3h-1zM169 416h3v1h-3zM170 415h1v3h-1zM179 401h3v1h-3zM180 400h1v3h-1zM189 391h3v1h-3zM190 390h1v3h-1zM199 380h3v1h-3zM200 379h1v3h-1zM209 376h3v1h-3zM210 375h1v3h-1zM219 381h3v1h-3zM220 380h1v3h-1zM229 383h3v1h-3zM230 382h1v3h-1zM239 385h3v1h-3zM240 384h1v3h-1zM249 386h3v1h-3zM250 385h1v3h-1zM259 385h3v1h-3zM260 384h1v3h-1zM269 379h3v1h-3zM270 378h1v3h-1zM279 383h3v1h-3zM280 382h1v3h-1zM289 378h3v1h-3zM290 377h1v3h-1zM299 360h3v1h-3zM300 359h1v3h-1zM309 357h3v1h-3zM310 356h1v3h-1zM319 359h3v1h-3zM320 358h1v3h-1zM329 354h3v1h-3zM330 353h1v3h-1zM339 355h3v1h-3zM340 354h1v3h-1zM349 354h3v1h-3zM350 353h1v3h-1zM359 363h3v1h-3zM360 362h1v3h-1zM369 364h3v1h-3zM370 363h1v3h-1zM379 367h3v1h-3zM380 366h1v3h-1zM389 365h3v1h-3zM390 364h1v3h-1zM399 358h3v1h-3zM400 357h1v3h-1zM409 364h3v1h-3zM410 363h1v3h-1zM419 361h3v1h-3zM420 360h1v3h-1zM429 363h3v1h-3zM430 362h1v3h-1zM439 361h3v1h-3zM440 360h1v3h-1zM449 367h3v1h-3zM450 366h1v3h-1zM459 376h3v1h-3zM460 375h1v3h-1zM469 377h3v1h-3zM470 376h1v3h-1zM479 380h3v1h-3zM480 379h1v3h-1zM489 383h3v1h-3zM490 382h1v3h-1zM499 382h3v1h-3zM500 381h1v3h-1zM509 372h3v1h-3zM510 371h1v3h-1zM519 378h3v1h-3zM520 377h1v3h-1zM529 379h3v1h-3zM530 378h1v3h-1zM539 367h3v1h-3zM540 366h1v3h-1zM549 356h3v1h-3zM550 355h1v3h-1zM559 357h3v1h-3zM560 356h1v3h-1zM569 357h3v1h-3zM570 356h1v3h-1zM579 365h3v1h-3zM580 364h1v3h-1zM589 375h3v1h-3zM590 374h1v3h-1zM599 381h3v1h-3zM600 380h1v3h-1zM609 380h3v1h-3zM610 379h1v3h-1zM619 361h3v1h-3zM620 360h1v3h-1zM629 375h3v1h-3zM630 374h1v3h-1zM639 382h3v1h-3zM640 381h1v3h-1zM649 371h3v1h-3zM650 370h1v3h-1zM659 367h3v1h-3zM660 366h1v3h-1zM669 370h3v1h-3zM670 369h1v3h-1zM679 364h3v1h-3zM680 363h1v3h-1zM689 370h3v1h-3zM690 369h1v3h-1z"/>
<polyline transform="translate(.5,.5)" points="50,364.2 60,359.0 70,368.4 80,374.6 90,403.8 100,418.2 110,418.4 120,423.6 130,424.2 140,420.1 150,419.7 160,419.4 170,412.1 180,390.8 190,371.3 200,359.2 210,360.0 220,359.2 230,374.1 240,393.0 250,414.6 260,430.8 270,434.9 280,435.7 290,425.4 300,424.1 310,421.4 320,421.4 330,399.7 340,374.1 350,374.4 360,374.8 370,376.3 380,381.9 390,389.9 400,384.3 410,387.3 420,384.2 430,399.1 440,395.8 450,396.5 460,392.4 470,392.1 480,389.9 490,403.0 500,398.2 510,405.1 520,410.6 530,403.5 540,401.1 550,405.2 560,413.4 570,414.0 580,406.1 590,415.3 600,417.9 610,414.7 620,415.6 630,432.4 640,434.1 650,432.3 660,414.5 670,413.1 680,418.8 690,429.0" fill="none" stroke="#10D860" stroke-width="1" shape-rendering="crispEdges"/>
<path shape-rendering="crispEdges" fill="#10D860" d="M49 364h3v1h-3zM50 363h1v3h-1zM59 359h3v1h-3zM60 358h1v3h-1zM69 368h3v1h-3zM70 367h1v3h-1zM79 375h3v1h-3zM80 374h1v3h-1zM89 404h3v1h-3zM90 403h1v3h-1zM99 418h3v1h-3zM100 417h1v3h-1zM109 418h3v1h-3zM110 417h1v3h-1zM119 424h3v1h-3zM120 423h1v3h-1zM129 424h3v1h-3zM130 423h1v3h-1zM139 420h3v1h-3zM140 419h1v3h-1zM149 420h3v1h-3zM150 419h1v3h-1zM159 419h3v1h-3zM160 418h1v3h-1zM169 412h3v1h-3zM170 411h1v3h-1zM179 391h3v1h-3zM180 390h1v3h-1zM189 371h3v1h-3zM190 370h1v3h-1zM199 359h3v1h-3zM200 358h1v3h-1zM209 360h3v1h-3zM210 359h1v3h-1zM219 359h3v1h-3zM220 358h1v3h-1zM229 374h3v1h-3zM230 373h1v3h-1zM239 393h3v1h-3zM240 392h1v3h-1zM249 415h3v1h-3zM250 414h1v3h-1zM259 431h3v1h-3zM260 430h1v3h-1zM269 435h3v1h-3zM270 434h1v3h-1zM279 436h3v1h-3zM280 435h1v3h-1zM289 425h3v1h-3zM290 424h1v3h-1zM299 424h3v1h-3zM300 423h1v3h-1zM309 421h3v1h-3zM310 420h1v3h-1zM319 421h3v1h-3zM320 420h1v3h-1zM329 400h3v1h-3zM330 399h1v3h-1zM339 374h3v1h-3zM340 373h1v3h-1zM349 374h3v1h-3zM350 373h1v3h-1zM359 375h3v1h-3zM360 374h1v3h-1zM369 376h3v1h-3zM370 375h1v3h-1zM379 382h3v1h-3zM380 381h1v3h-1zM389 390h3v1h-3zM390 389h1v3h-1zM399 384h3v1h-3zM400 383h1v3h-1zM409 387h3v1h-3zM410 386h1v3h-1zM419 384h3v1h-3zM420 383h1v3h-1zM429 399h3v1h-3zM430 398h1v3h-1zM439 396h3v1h-3zM440 395h1v3h-1zM449 397h3v1h-3zM450 396h1v3h-1zM459 392h3v1h-3zM460 391h1v3h-1zM469 392h3v1h-3zM470 391h1v3h-1zM479 390h3v1h-3zM480 389h1v3h-1zM489 403h3v1h-3zM490 402h1v3h-1zM499 398h3v1h-3zM500 397h1v3h-1zM509 405h3v1h-3zM510 404h1v3h-1zM519 411h3v1h-3zM520 410h1v3h-1zM529 404h3v1h-3zM530 403h1v3h-1zM539 401h3v1h-3zM540 400h1v3h-1zM549 405h3v1h-3zM550 404h1v3h-1zM559 413h3v1h-3zM560 412h1v3h-1zM569 414h3v1h-3zM570 413h1v3h-1zM579 406h3v1h-3zM580 405h1v3h-1zM589 415h3v1h-3zM590 414h1v3h-1zM599 418h3v1h-3zM600 417h1v3h-1zM609 415h3v1h-3zM610 414h1v3h-1zM619 416h3v1h-3zM620 415h1v3h-1zM629 432h3v1h-3zM630 431h1v3h-1zM639 434h3v1h-3zM640 433h1v3h-1zM649 432h3v1h-3zM650 431h1v3h-1zM659 415h3v1h-3zM660 414h1v3h-1zM669 413h3v1h-3zM670 412h1v3h-1zM679 419h3v1h-3zM680 418h1v3h-1zM689 429h3v1h-3zM690 428h1v3h-1z"/>
<polyline transform="translate(.5,.5)" points="50,363.7 60,358.5 70,367.0 80,373.5 90,395.3 100,409.2 110,415.3 120,415.1 130,418.8 140,416.4 150,417.1 160,410.1 170,397.9 180,378.4 190,374.5 200,365.6 210,373.0 220,386.7 230,398.4 240,409.2 250,422.7 260,426.8 270,425.4 280,401.1 290,379.5 300,376.1 310,366.5 320,366.1 330,361.4 340,356.9 350,358.5 360,360.3 370,362.4 380,360.3 390,357.6 400,358.8 410,359.0 420,363.1 430,357.8 440,358.9 450,367.7 460,376.5 470,377.4 480,388.9 490,396.1 500,388.4 510,388.9 520,402.1 530,410.3 540,397.5 550,396.5 560,396.3 570,389.4 580,387.9 590,390.7 600,392.7 610,389.6 620,382.2 630,391.3 640,392.7 650,404.2 660,376.6 670,372.5 680,377.8 690,372.2" fill="none" stroke="#204060" stroke-width="1" shape-rendering="crispEdges"/>
<path shape-rendering="crispEdges" fill="#204060" d="M49 364h3v1h-3zM50 363h1v3h-1zM59 358h3v1h-3zM60 357h1v3h-1zM69 367h3v1h-3zM70 366h1v3h-1zM79 374h3v1h-3zM80 373h1v3h-1zM89 395h3v1h-3zM90 394h1v3h-1zM99 409h3v1h-3zM100 408h1v3h-1zM109 415h3v1h-3zM110 414h1v3h-1zM119 415h3v1h-3zM120 414h1v3h-1zM129 419h3v1h-3zM130 418h1v3h-1zM139 416h3v1h-3zM140 415h1v3h-1zM149 417h3v1h-3zM150 416h1v3h-1zM159 410h3v1h-3zM160 409h1v3h-1zM169 398h3v1h-3zM170 397h1v3h-1zM179 378h3v1h-3zM180 377h1v3h-1zM189 374h3v1h-3zM190 373h1v3h-1zM199 366h3v1h-3zM200 365h1v3h-1zM209 373h3v1h-3zM210 372h1v3h-1zM219 387h3v1h-3zM220 386h1v3h-1zM229 398h3v1h-3zM230 397h1v3h-1zM239 409h3v1h-3zM240 408h1v3h-1zM249 423h3v1h-3zM250 422h1v3h-1zM259 427h3v1h-3zM260 426h1v3h-1zM269 425h3v1h-3zM270 424h1v3h-1zM279 401h3v1h-3zM280 400h1v3h-1zM289 379h3v1h-3zM290 378h1v3h-1zM299 376h3v1h-3zM300 375h1v3h-1zM309 367h3v1h-3zM310 366h1v3h-1zM319 366h3v1h-3zM320 365h1v3h-1zM329 361h3v1h-3zM330 360h1v3h-1zM339 357h3v1h-3zM340 356h1v3h-1zM349 359h3v1h-3zM350 358h1v3h-1zM359 360h3v1h-3zM360 359h1v3h-1zM369 362h3v1h-3zM370 361h1v3h-1zM379 360h3v1h-3zM380 359h1v3h-1zM389 358h3v1h-3zM390 357h1v3h-1zM399 359h3v1h-3zM400 358h1v3h-1zM409 359h3v1h-3zM410 358h1v3h-1zM419 363h3v1h-3zM420 362h1v3h-1zM429 358h3v1h-3zM430 357h1v3h-1zM439 359h3v1h-3zM440 358h1v3h-1zM449 368h3v1h-3zM450 367h1v3h-1zM459 376h3v1h-3zM460 375h1v3h-1zM469 377h3v1h-3zM470 376h1v3h-1zM479 389h3v1h-3zM480 388h1v3h-1zM489 396h3v1h-3zM490 395h1v3h-1zM499 388h3v1h-3zM500 387h1v3h-1zM509 389h3v1h-3zM510 388h1v3h-1zM519 402h3v1h-3zM520 401h1v3h-1zM529 410h3v1h-3zM530 409h1v3h-1zM539 398h3v1h-3zM540 397h1v3h-1zM549 396h3v1h-3zM550 395h1v3h-1zM559 396h3v1h-3zM560 395h1v3h-1zM569 389h3v1h-3zM570 388h1v3h-1zM579 388h3v1h-3zM580 387h1v3h-1zM589 391h3v1h-3zM590 390h1v3h-1zM599 393h3v1h-3zM600 392h1v3h-1zM609 390h3v1h-3zM610 389h1v3h-1zM619 382h3v1h-3zM620 381h1v3h-1zM629 391h3v1h-3zM630 390h1v3h-1zM639 393h3v1h-3zM640 392h1v3h-1zM649 404h3v1h-3zM650 403h1v3h-1zM659 377h3v1h-3zM660 376h1v3h-1zM669 372h3v1h-3zM670 371h1v3h-1zM679 378h3v1h-3zM680 377h1v3h-1zM689 372h3v1h-3zM690 371h1v3h-1z"/>
<polyline transform="translate(.5,.5)" points="50,363.2 60,357.5 70,366.2 80,370.1 90,382.6 100,400.1 110,413.6 120,414.4 130,416.8 140,414.4 150,411.8 160,408.8 170,395.5 180,385.1 190,384.1 200,374.9 210,372.4 220,373.1 230,376.9 240,375.2 250,384.3 260,386.1 270,388.2 280,386.8 290,380.2 300,374.0 310,370.5 320,375.6 330,369.9 340,371.0 350,374.2 360,376.8 370,377.9 380,386.2 390,405.0 400,403.5 410,396.5 420,404.1 430,401.9 440,395.8 450,403.7 460,408.4 470,420.0 480,412.8 490,412.8 500,402.3 510,398.2 520,402.8 530,390.4 540,381.5 550,381.2 560,375.8 570,378.4 580,387.5 590,401.0 600,397.4 610,395.9 620,397.9 630,396.0 640,400.9 650,392.2 660,391.4 670,402.9 680,420.0 690,428.6" fill="none" stroke="#707880" stroke-width="1" shape-rendering="crispEdges"/>
<path shape-rendering="crispEdges" fill="#707880" d="M49 363h3v1h-3zM50 362h1v3h-1zM59 357h3v1h-3zM60 356h1v3h-1zM69 366h3v1h-3zM70 365h1v3h-1zM79 370h3v1h-3zM80 369h1v3h-1zM89 383h3v1h-3zM90 382h1v3h-1zM99 400h3v1h-3zM100 399h1v3h-1zM109 414h3v1h-3zM110 413h1v3h-1zM119 414h3v1h-3zM120 413h1v3h-1zM129 417h3v1h-3zM130 416h1v3h-1zM139 414h3v1h-3zM140 413h1v3h-1zM149 412h3v1h-3zM150 411h1v3h-1zM159 409h3v1h-3zM160 408h1v3h-1zM169 396h3v1h-3zM170 395h1v3h-1zM179 385h3v1h-3zM180 384h1v3h-1zM189 384h3v1h-3zM190 383h1v3h-1zM199 375h3v1h-3zM200 374h1v3h-1zM209 372h3v1h-3zM210 371h1v3h-1zM219 373h3v1h-3zM220 372h1v3h-1zM229 377h3v1h-3zM230 376h1v3h-1zM239 375h3v1h-3zM240 374h1v3h-1zM249 384h3v1h-3zM250 383h1v3h-1zM259 386h3v1h-3zM260 385h1v3h-1zM269 388h3v1h-3zM270 387h1v3h-1zM279 387h3v1h-3zM280 386h1v3h-1zM289 380h3v1h-3zM290 379h1v3h-1zM299 374h3v1h-3zM300 373h1v3h-1zM309 370h3v1h-3zM310 369h1v3h-1zM319 376h3v1h-3zM320 375h1v3h-1zM329 370h3v1h-3zM330 369h1v3h-1zM339 371h3v1h-3zM340 370h1v3h-1zM349 374h3v1h-3zM350 373h1v3h-1zM359 377h3v1h-3zM360 376h1v3h-1zM369 378h3v1h-3zM370 377h1v3h-1zM379 386h3v1h-3zM380 385h1v3h-1zM389 405h3v1h-3zM390 404h1v3h-1zM399 404h3v1h-3zM400 403h1v3h-1zM409 396h3v1h-3zM410 395h1v3h-1zM419 404h3v1h-3zM420 403h1v3h-1zM429 402h3v1h-3zM430 401h1v3h-1zM439 396h3v1h-3zM440 395h1v3h-1zM449 404h3v1h-3zM450 403h1v3h-1zM459 408h3v1h-3zM460 407h1v3h-1zM469 420h3v1h-3zM470 419h1v3h-1zM479 413h3v1h-3zM480 412h1v3h-1zM489 413h3v1h-3zM490 412h1v3h-1zM499 402h3v1h-3zM500 401h1v3h-1zM509 398h3v1h-3zM510 397h1v3h-1zM519 403h3v1h-3zM520 402h1v3h-1zM529 390h3v1h-3zM530 389h1v3h-1zM539 381h3v1h-3zM540 380h1v3h-1zM549 381h3v1h-3zM550 380h1v3h-1zM559 376h3v1h-3zM560 375h1v3h-1zM569 378h3v1h-3zM570 377h1v3h-1zM579 388h3v1h-3zM580 387h1v3h-1zM589 401h3v1h-3zM590 400h1v3h-1zM599 397h3v1h-3zM600 396h1v3h-1zM609 396h3v1h-3zM610 395h1v3h-1zM619 398h3v1h-3zM620 397h1v3h-1zM629 396h3v1h-3zM630 395h1v3h-1zM639 401h3v1h-3zM640 400h1v3h-1zM649 392h3v1h-3zM650 391h1v3h-1zM659 391h3v1h-3zM660 390h1v3h-1zM669 403h3v1h-3zM670 402h1v3h-1zM679 420h3v1h-3zM680 419h1v3h-1zM689 429h3v1h-3zM690 428h1v3h-1z"/>
<polyline transform="translate(.5,.5)" points="50,364.4 60,359.3 70,368.5 80,374.3 90,404.6 100,420.7 110,426.0 120,427.4 130,424.9 140,421.0 150,415.6 160,405.8 170,397.5 180,378.6 190,369.7 200,364.7 210,363.2 220,364.0 230,365.2 240,372.9 250,363.5 260,361.2 270,383.4 280,382.8 290,378.4 300,369.9 310,367.3 320,369.7 330,369.0 340,365.8 350,367.9 360,372.2 370,372.7 380,378.9 390,403.1 400,411.1 410,411.0 420,412.3 430,414.6 440,403.7 450,408.5 460,399.7 470,404.8 480,378.2 490,359.2 500,354.6 510,353.8 520,355.1 530,360.5 540,376.4 550,383.9 560,397.7 570,392.7 580,398.6 590,399.2 600,406.6 610,401.1 620,400.3 630,409.6 640,415.2 650,403.9 660,401.9 670,406.6 680,406.5 690,405.7" fill="none" stroke="#E080F0" stroke-width="1" shape-rendering="crispEdges"/>
<path shape-rendering="crispEdges" fill="#E080F0" d="M49 364h3v1h-3zM50 363h1v3h-1zM59 359h3v1h-3zM60 358h1v3h-1zM69 368h3v1h-3zM70 367h1v3h-1zM79 374h3v1h-3zM80 373h1v3h-1zM89 405h3v1h-3zM90 404h1v3h-1zM99 421h3v1h-3zM100 420h1v3h-1zM109 426h3v1h-3zM110 425h1v3h-1zM119 427h3v1h-3zM120 426h1v3h-1zM129 425h3v1h-3zM130 424h1v3h-1zM139 421h3v1h-3zM140 420h1v3h-1zM149 416h3v1h-3zM150 415h1v3h-1zM159 406h3v1h-3zM160 405h1v3h-1zM169 397h3v1h-3zM170 396h1v3h-1zM179 379h3v1h-3zM180 378h1v3h-1zM189 370h3v1h-3zM190 369h1v3h-1zM199 365h3v1h-3zM200 364h1v3h-1zM209 363h3v1h-3zM210 362h1v3h-1zM219 364h3v1h-3zM220 363h1v3h-1zM229 365h3v1h-3zM230 364h1v3h-1zM239 373h3v1h-3zM240 372h1v3h-1zM249 363h3v1h-3zM250 362h1v3h-1zM259 361h3v1h-3zM260 360h1v3h-1zM269 383h3v1h-3zM270 382h1v3h-1zM279 383h3v1h-3zM280 382h1v3h-1zM289 378h3v1h-3zM290 377h1v3h-1zM299 370h3v1h-3zM300 369h1v3h-1zM309 367h3v1h-3zM310 366h1v3h-1zM319 370h3v1h-3zM320 369h1v3h-1zM329 369h3v1h-3zM330 368h1v3h-1zM339 366h3v1h-3zM340 365h1v3h-1zM349 368h3v1h-3zM350 367h1v3h-1zM359 372h3v1h-3zM360 371h1v3h-1zM369 373h3v1h-3zM370 372h1v3h-1zM379 379h3v1h-3zM380 378h1v3h-1zM389 403h3v1h-3zM390 402h1v3h-1zM399 411h3v1h-3zM400 410h1v3h-1zM409 411h3v1h-3zM410 410h1v3h-1zM419 412h3v1h-3zM420 411h1v3h-1zM429 415h3v1h-3zM430 414h1v3h-1zM439 404h3v1h-3zM440 403h1v3h-1zM449 409h3v1h-3zM450 408h1v3h-1zM459 400h3v1h-3zM460 399h1v3h-1zM469 405h3v1h-3zM470 404h1v3h-1zM479 378h3v1h-3zM480 377h1v3h-1zM489 359h3v1h-3zM490 358h1v3h-1zM499 355h3v1h-3zM500 354h1v3h-1zM509 354h3v1h-3zM510 353h1v3h-1zM519 355h3v1h-3zM520 354h1v3h-1zM529 361h3v1h-3zM530 360h1v3h-1zM539 376h3v1h-3zM540 375h1v3h-1zM549 384h3v1h-3zM550 383h1v3h-1zM559 398h3v1h-3zM560 397h1v3h-1zM569 393h3v1h-3zM570 392h1v3h-1zM579 399h3v1h-3zM580 398h1v3h-1zM589 399h3v1h-3zM590 398h1v3h-1zM599 407h3v1h-3zM600 406h1v3h-1zM609 401h3v1h-3zM610 400h1v3h-1zM619 400h3v1h-3zM620 399h1v3h-1zM629 410h3v1h-3zM630 409h1v3h-1zM639 415h3v1h-3zM640 414h1v3h-1zM649 404h3v1h-3zM650 403h1v3h-1zM659 402h3v1h-3zM660 401h1v3h-1zM669 407h3v1h-3zM670 406h1v3h-1zM679 406h3v1h-3zM680 405h1v3h-1zM689 406h3v1h-3zM690 405h1v3h-1z"/>
<polyline transform="translate(.5,.5)" points="50,363.4 60,360.3 70,366.3 80,365.9 90,375.4 100,382.2 110,394.3 120,403.8 130,410.5 140,410.0 150,413.5 160,404.5 170,383.1 180,374.6 190,372.3 200,362.4 210,366.7 220,375.1 230,384.9 240,401.1 250,414.6 260,415.9 270,415.9 280,415.9 290,410.5 300,406.5 310,380.8 320,371.4 330,360.4 340,350.2 350,345.4 360,348.1 370,350.0 380,339.6 390,343.4 400,346.5 410,346.2 420,344.8 430,342.5 440,348.3 450,350.4 460,351.1 470,356.3 480,362.9 490,360.4 500,356.1 510,355.5 520,356.8 530,365.2 540,358.0 550,349.5 560,361.6 570,354.9 580,355.9 590,358.2 600,359.6 610,358.7 620,348.4 630,349.8 640,350.6 650,345.1 660,345.4 670,348.0 680,349.5 690,349.5" fill="none" stroke="#8020F0" stroke-width="1" shape-rendering="crispEdges"/>
<path shape-rendering="crispEdges" fill="#8020F0" d="M49 363h3v1h-3zM50 362h1v3h-1zM59 360h3v1h-3zM60 359h1v3h-1zM69 366h3v1h-3zM70 365h1v3h-1zM79 366h3v1h-3zM80 365h1v3h-1zM89 375h3v1h-3zM90 374h1v3h-1zM99 382h3v1h-3zM100 381h1v3h-1zM109 394h3v1h-3zM110 393h1v3h-1zM119 404h3v1h-3zM120 403h1v3h-1zM129 411h3v1h-3zM130 410h1v3h-1zM139 410h3v1h-3zM140 409h1v3h-1zM149 414h3v1h-3zM150 413h1v3h-1zM159 405h3v1h-3zM160 404h1v3h-1zM169 383h3v1h-3zM170 382h1v3h-1zM179 375h3v1h-3zM180 374h1v3h-1zM189 372h3v1h-3zM190 371h1v3h-1zM199 362h3v1h-3zM200 361h1v3h-1zM209 367h3v1h-3zM210 366h1v3h-1zM219 375h3v1h-3zM220 374h1v3h-1zM229 385h3v1h-3zM230 384h1v3h-1zM239 401h3v1h-3zM240 400h1v3h-1zM249 415h3v1h-3zM250 414h1v3h-1zM259 416h3v1h-3zM260 415h1v3h-1zM269 416h3v1h-3zM270 415h1v3h-1zM279 416h3v1h-3zM280 415h1v3h-1zM289 411h3v1h-3zM290 410h1v3h-1zM299 406h3v1h-3zM300 405h1v3h-1zM309 381h3v1h-3zM310 380h1v3h-1zM319 371h3v1h-3zM320 370h1v3h-1zM329 360h3v1h-3zM330 359h1v3h-1zM339 350h3v1h-3zM340 349h1v3h-1zM349 345h3v1h-3zM350 344h1v3h-1zM359 348h3v1h-3zM360 347h1v3h-1zM369 350h3v1h-3zM370 349h1v3h-1zM379 340h3v1h-3zM380 339h1v3h-1zM389 343h3v1h-3zM390 342h1v3h-1zM399 347h3v1h-3zM400 346h1v3h-1zM409 346h3v1h-3zM410 345h1v3h-1zM419 345h3v1h-3zM420 344h1v3h-1zM429 342h3v1h-3zM430 341h1v3h-1zM439 348h3v1h-3zM440 347h1v3h-1zM449 350h3v1h-3zM450 349h1v3h-1zM459 351h3v1h-3zM460 350h1v3h-1zM469 356h3v1h-3zM470 355h1v3h-1zM479 363h3v1h-3zM480 362h1v3h-1zM489 360h3v1h-3zM490 359h1v3h-1zM499 356h3v1h-3zM500 355h1v3h-1zM509 356h3v1h-3zM510 355h1v3h-1zM519 357h3v1h-3zM520 356h1v3h-1zM529 365h3v1h-3zM530 364h1v3h-1zM539 358h3v1h-3zM540 357h1v3h-1zM549 350h3v1h-3zM550 349h1v3h-1zM559 362h3v1h-3zM560 361h1v3h-1zM569 355h3v1h-3zM570 354h1v3h-1zM579 356h3v1h-3zM580 355h1v3h-1zM589 358h3v1h-3zM590 357h1v3h-1zM599 360h3v1h-3zM600 359h1v3h-1zM609 359h3v1h-3zM610 358h1v3h-1zM619 348h3v1h-3zM620 347h1v3h-1zM629 350h3v1h-3zM630 349h1v3h-1zM639 351h3v1h-3zM640 350h1v3h-1zM649 345h3v1h-3zM650 344h1v3h-1zM659 345h3v1h-3zM660 344h1v3h-1zM669 348h3v1h-3zM670 347h1v3h-1zM679 349h3v1h-3zM680 348h1v3h-1zM689 350h3v1h-3zM690 349h1v3h-1z"/>
<polyline transform="translate(.5,.5)" points="50,364.7 60,359.7 70,369.3 80,374.8 90,403.9 100,415.7 110,419.4 120,424.4 130,422.7 140,420.4 150,413.3 160,414.3 170,413.4 180,406.1 190,398.7 200,384.1 210,378.5 220,381.6 230,386.4 240,387.6 250,401.1 260,426.8 270,424.1 280,429.5 290,432.2 300,426.8 310,398.4 320,374.1 330,370.9 340,366.6 350,366.7 360,361.7 370,362.0 380,354.4 390,358.4 400,360.0 410,356.6 420,361.1 430,366.0 440,367.9 450,377.2 460,379.5 470,394.3 480,393.0 490,391.4 500,395.8 510,391.4 520,385.1 530,373.8 540,371.9 550,383.2 560,383.8 570,378.1 580,374.5 590,373.1 600,368.2 610,357.1 620,346.3 630,347.7 640,354.3 650,342.9 660,343.4 670,346.3 680,347.7 690,347.7" fill="none" stroke="#6B5A20" stroke-width="1" shape-rendering="crispEdges"/>
<path shape-rendering="crispEdges" fill="#6B5A20" d="M49 365h3v1h-3zM50 364h1v3h-1zM59 360h3v1h-3zM60 359h1v3h-1zM69 369h3v1h-3zM70 368h1v3h-1zM79 375h3v1h-3zM80 374h1v3h-1zM89 404h3v1h-3zM90 403h1v3h-1zM99 416h3v1h-3zM100 415h1v3h-1zM109 419h3v1h-3zM110 418h1v3h-1zM119 424h3v1h-3zM120 423h1v3h-1zM129 423h3v1h-3zM130 422h1v3h-1zM139 420h3v1h-3zM140 419h1v3h-1zM149 413h3v1h-3zM150 412h1v3h-1zM159 414h3v1h-3zM160 413h1v3h-1zM169 413h3v1h-3zM170 412h1v3h-1zM179 406h3v1h-3zM180 405h1v3h-1zM189 399h3v1h-3zM190 398h1v3h-1zM199 384h3v1h-3zM200 383h1v3h-1zM209 378h3v1h-3zM210 377h1v3h-1zM219 382h3v1h-3zM220 381h1v3h-1zM229 386h3v1h-3zM230 385h1v3h-1zM239 388h3v1h-3zM240 387h1v3h-1zM249 401h3v1h-3zM250 400h1v3h-1zM259 427h3v1h-3zM260 426h1v3h-1zM269 424h3v1h-3zM270 423h1v3h-1zM279 429h3v1h-3zM280 428h1v3h-1zM289 432h3v1h-3zM290 431h1v3h-1zM299 427h3v1h-3zM300 426h1v3h-1zM309 398h3v1h-3zM310 397h1v3h-1zM319 374h3v1h-3zM320 373h1v3h-1zM329 371h3v1h-3zM330 370h1v3h-1zM339 367h3v1h-3zM340 366h1v3h-1zM349 367h3v1h-3zM350 366h1v3h-1zM359 362h3v1h-3zM360 361h1v3h-1zM369 362h3v1h-3zM370 361h1v3h-1zM379 354h3v1h-3zM380 353h1v3h-1zM389 358h3v1h-3zM390 357h1v3h-1zM399 360h3v1h-3zM400 359h1v3h-1zM409 357h3v1h-3zM410 356h1v3h-1zM419 361h3v1h-3zM420 360h1v3h-1zM429 366h3v1h-3zM430 365h1v3h-1zM439 368h3v1h-3zM440 367h1v3h-1zM449 377h3v1h-3zM450 376h1v3h-1zM459 380h3v1h-3zM460 379h1v3h-1zM469 394h3v1h-3zM470 393h1v3h-1zM479 393h3v1h-3zM480 392h1v3h-1zM489 391h3v1h-3zM490 390h1v3h-1zM499 396h3v1h-3zM500 395h1v3h-1zM509 391h3v1h-3zM510 390h1v3h-1zM519 385h3v1h-3zM520 384h1v3h-1zM529 374h3v1h-3zM530 373h1v3h-1zM539 372h3v1h-3zM540 371h1v3h-1zM549 383h3v1h-3zM550 382h1v3h-1zM559 384h3v1h-3zM560 383h1v3h-1zM569 378h3v1h-3zM570 377h1v3h-1zM579 374h3v1h-3zM580 373h1v3h-1zM589 373h3v1h-3zM590 372h1v3h-1zM599 368h3v1h-3zM600 367h1v3h-1zM609 357h3v1h-3zM610 356h1v3h-1zM619 346h3v1h-3zM620 345h1v3h-1zM629 348h3v1h-3zM630 347h1v3h-1zM639 354h3v1h-3zM640 353h1v3h-1zM649 343h3v1h-3zM650 342h1v3h-1zM659 343h3v1h-3zM660 342h1v3h-1zM669 346h3v1h-3zM670 345h1v3h-1zM679 348h3v1h-3zM680 347h1v3h-1zM689 348h3v1h-3zM690 347h1v3h-1z"/>
<polyline transform="translate(.5,.5)" points="50,364.1 60,358.8 70,367.5 80,373.1 90,394.6 100,414.2 110,419.0 120,416.8 130,414.5 140,410.8 150,407.7 160,401.6 170,388.4 180,371.7 190,369.8 200,365.1 210,365.1 220,360.8 230,364.4 240,366.8 250,360.7 260,354.2 270,355.5 280,356.4 290,355.8 300,353.0 310,352.3 320,346.3 330,353.6 340,347.8 350,350.4 360,350.3 370,354.0 380,344.0 390,349.9 400,348.1 410,348.0 420,346.2 430,342.5 440,348.3 450,350.4 460,351.1 470,356.3 480,362.9 490,360.4 500,356.1 510,356.4 520,356.8 530,356.8 540,353.0 550,346.5 560,348.2 570,350.5 580,355.9 590,361.5 600,368.0 610,377.1 620,368.9 630,375.4 640,389.2 650,401.2 660,387.8 670,389.3 680,384.9 690,379.0" fill="none" stroke="#300870" stroke-width="1" shape-rendering="crispEdges"/>
<path shape-rendering="crispEdges" fill="#300870" d="M49 364h3v1h-3zM50 363h1v3h-1zM59 359h3v1h-3zM60 358h1v3h-1zM69 367h3v1h-3zM70 366h1v3h-1zM79 373h3v1h-3zM80 372h1v3h-1zM89 395h3v1h-3zM90 394h1v3h-1zM99 414h3v1h-3zM100 413h1v3h-1zM109 419h3v1h-3zM110 418h1v3h-1zM119 417h3v1h-3zM120 416h1v3h-1zM129 415h3v1h-3zM130 414h1v3h-1zM139 411h3v1h-3zM140 410h1v3h-1zM149 408h3v1h-3zM150 407h1v3h-1zM159 402h3v1h-3zM160 401h1v3h-1zM169 388h3v1h-3zM170 387h1v3h-1zM179 372h3v1h-3zM180 371h1v3h-1zM189 370h3v1h-3zM190 369h1v3h-1zM199 365h3v1h-3zM200 364h1v3h-1zM209 365h3v1h-3zM210 364h1v3h-1zM219 361h3v1h-3zM220 360h1v3h-1zM229 364h3v1h-3zM230 363h1v3h-1zM239 367h3v1h-3zM240 366h1v3h-1zM249 361h3v1h-3zM250 360h1v3h-1zM259 354h3v1h-3zM260 353h1v3h-1zM269 356h3v1h-3zM270 355h1v3h-1zM279 356h3v1h-3zM280 355h1v3h-1zM289 356h3v1h-3zM290 355h1v3h-1zM299 353h3v1h-3zM300 352h1v3h-1zM309 352h3v1h-3zM310 351h1v3h-1zM319 346h3v1h-3zM320 345h1v3h-1zM329 354h3v1h-3zM330 353h1v3h-1zM339 348h3v1h-3zM340 347h1v3h-1zM349 350h3v1h-3zM350 349h1v3h-1zM359 350h3v1h-3zM360 349h1v3h-1zM369 354h3v1h-3zM370 353h1v3h-1zM379 344h3v1h-3zM380 343h1v3h-1zM389 350h3v1h-3zM390 349h1v3h-1zM399 348h3v1h-3zM400 347h1v3h-1zM409 348h3v1h-3zM410 347h1v3h-1zM419 346h3v1h-3zM420 345h1v3h-1zM429 342h3v1h-3zM430 341h1v3h-1zM439 348h3v1h-3zM440 347h1v3h-1zM449 350h3v1h-3zM450 349h1v3h-1zM459 351h3v1h-3zM460 350h1v3h-1zM469 356h3v1h-3zM470 355h1v3h-1zM479 363h3v1h-3zM480 362h1v3h-1zM489 360h3v1h-3zM490 359h1v3h-1zM499 356h3v1h-3zM500 355h1v3h-1zM509 356h3v1h-3zM510 355h1v3h-1zM519 357h3v1h-3zM520 356h1v3h-1zM529 357h3v1h-3zM530 356h1v3h-1zM539 353h3v1h-3zM540 352h1v3h-1zM549 346h3v1h-3zM550 345h1v3h-1zM559 348h3v1h-3zM560 347h1v3h-1zM569 350h3v1h-3zM570 349h1v3h-1zM579 356h3v1h-3zM580 355h1v3h-1zM589 362h3v1h-3zM590 361h1v3h-1zM599 368h3v1h-3zM600 367h1v3h-1zM609 377h3v1h-3zM610 376h1v3h-1zM619 369h3v1h-3zM620 368h1v3h-1zM629 375h3v1h-3zM630 374h1v3h-1zM639 389h3v1h-3zM640 388h1v3h-1zM649 401h3v1h-3zM650 400h1v3h-1zM659 388h3v1h-3zM660 387h1v3h-1zM669 389h3v1h-3zM670 388h1v3h-1zM679 385h3v1h-3zM680 384h1v3h-1zM689 379h3v1h-3zM690 378h1v3h-1z"/>
<polyline transform="translate(.5,.5)" points="50,363.5 60,358.1 70,366.5 80,369.1 90,388.0 100,401.6 110,402.1 120,409.7 130,414.8 140,415.7 150,416.4 160,412.7 170,403.1 180,390.4 190,385.5 200,378.2 210,371.6 220,374.3 230,378.9 240,382.2 250,381.9 260,385.0 270,383.5 280,381.4 290,375.5 300,370.4 310,357.4 320,362.6 330,361.9 340,363.3 350,367.9 360,373.5 370,373.1 380,377.8 390,386.0 400,394.6 410,404.2 420,391.7 430,398.3 440,395.5 450,392.6 460,384.9 470,388.5 480,388.9 490,400.3 500,399.8 510,411.3 520,402.0 530,395.2 540,389.4 550,392.2 560,382.7 570,373.5 580,381.7 590,382.3 600,383.8 610,377.0 620,368.8 630,378.1 640,376.4 650,381.6 660,366.6 670,369.4 680,371.4 690,364.7" fill="none" stroke="#F0D010" stroke-width="1" shape-rendering="crispEdges"/>
<path shape-rendering="crispEdges" fill="#F0D010" d="M49 364h3v1h-3zM50 363h1v3h-1zM59 358h3v1h-3zM60 357h1v3h-1zM69 366h3v1h-3zM70 365h1v3h-1zM79 369h3v1h-3zM80 368h1v3h-1zM89 388h3v1h-3zM90 387h1v3h-1zM99 402h3v1h-3zM100 401h1v3h-1zM109 402h3v1h-3zM110 401h1v3h-1zM119 410h3v1h-3zM120 409h1v3h-1zM129 415h3v1h-3zM130 414h1v3h-1zM139 416h3v1h-3zM140 415h1v3h-1zM149 416h3v1h-3zM150 415h1v3h-1zM159 413h3v1h-3zM160 412h1v3h-1zM169 403h3v1h-3zM170 402h1v3h-1zM179 390h3v1h-3zM180 389h1v3h-1zM189 386h3v1h-3zM190 385h1v3h-1zM199 378h3v1h-3zM200 377h1v3h-1zM209 372h3v1h-3zM210 371h1v3h-1zM219 374h3v1h-3zM220 373h1v3h-1zM229 379h3v1h-3zM230 378h1v3h-1zM239 382h3v1h-3zM240 381h1v3h-1zM249 382h3v1h-3zM250 381h1v3h-1zM259 385h3v1h-3zM260 384h1v3h-1zM269 384h3v1h-3zM270 383h1v3h-1zM279 381h3v1h-3zM280 380h1v3h-1zM289 376h3v1h-3zM290 375h1v3h-1zM299 370h3v1h-3zM300 369h1v3h-1zM309 357h3v1h-3zM310 356h1v3h-1zM319 363h3v1h-3zM320 362h1v3h-1zM329 362h3v1h-3zM330 361h1v3h-1zM339 363h3v1h-3zM340 362h1v3h-1zM349 368h3v1h-3zM350 367h1v3h-1zM359 374h3v1h-3zM360 373h1v3h-1zM369 373h3v1h-3zM370 372h1v3h-1zM379 378h3v1h-3zM380 377h1v3h-1zM389 386h3v1h-3zM390 385h1v3h-1zM399 395h3v1h-3zM400 394h1v3h-1zM409 404h3v1h-3zM410 403h1v3h-1zM419 392h3v1h-3zM420 391h1v3h-1zM429 398h3v1h-3zM430 397h1v3h-1zM439 396h3v1h-3zM440 395h1v3h-1zM449 393h3v1h-3zM450 392h1v3h-1zM459 385h3v1h-3zM460 384h1v3h-1zM469 389h3v1h-3zM470 388h1v3h-1zM479 389h3v1h-3zM480 388h1v3h-1zM489 400h3v1h-3zM490 399h1v3h-1zM499 400h3v1h-3zM500 399h1v3h-1zM509 411h3v1h-3zM510 410h1v3h-1zM519 402h3v1h-3zM520 401h1v3h-1zM529 395h3v1h-3zM530 394h1v3h-1zM539 389h3v1h-3zM540 388h1v3h-1zM549 392h3v1h-3zM550 391h1v3h-1zM559 383h3v1h-3zM560 382h1v3h-1zM569 373h3v1h-3zM570 372h1v3h-1zM579 382h3v1h-3zM580 381h1v3h-1zM589 382h3v1h-3zM590 381h1v3h-1zM599 384h3v1h-3zM600 383h1v3h-1zM609 377h3v1h-3zM610 376h1v3h-1zM619 369h3v1h-3zM620 368h1v3h-1zM629 378h3v1h-3zM630 377h1v3h-1zM639 376h3v1h-3zM640 375h1v3h-1zM649 382h3v1h-3zM650 381h1v3h-1zM659 367h3v1h-3zM660 366h1v3h-1zM669 369h3v1h-3zM670 368h1v3h-1zM679 371h3v1h-3zM680 370h1v3h-1zM689 365h3v1h-3zM690 364h1v3h-1z"/>
<polyline transform="translate(.5,.5)" points="50,363.5 60,357.8 70,366.5 80,369.6 90,382.0 100,400.6 110,406.2 120,409.8 130,410.8 140,406.2 150,409.1 160,411.1 170,407.5 180,387.8 190,378.0 200,376.1 210,373.5 220,375.2 230,386.9 240,383.5 250,383.6 260,385.7 270,383.3 280,379.1 290,378.0 300,372.1 310,368.3 320,366.4 330,365.5 340,366.1 350,368.1 360,367.9 370,367.0 380,364.6 390,356.1 400,350.7 410,345.9 420,343.8 430,341.1 440,347.0 450,349.2 460,349.7 470,355.1 480,361.6 490,368.7 500,378.2 510,369.6 520,364.9 530,367.3 540,381.3 550,388.8 560,380.9 570,363.3 580,363.5 590,382.5 600,399.3 610,414.3 620,415.7 630,432.9 640,434.3 650,422.9 660,414.3 670,412.9 680,405.7 690,402.9" fill="none" stroke="#2868A0" stroke-width="1" shape-rendering="crispEdges"/>
<path shape-rendering="crispEdges" fill="#2868A0" d="M49 363h3v1h-3zM50 362h1v3h-1zM59 358h3v1h-3zM60 357h1v3h-1zM69 367h3v1h-3zM70 366h1v3h-1zM79 370h3v1h-3zM80 369h1v3h-1zM89 382h3v1h-3zM90 381h1v3h-1zM99 401h3v1h-3zM100 400h1v3h-1zM109 406h3v1h-3zM110 405h1v3h-1zM119 410h3v1h-3zM120 409h1v3h-1zM129 411h3v1h-3zM130 410h1v3h-1zM139 406h3v1h-3zM140 405h1v3h-1zM149 409h3v1h-3zM150 408h1v3h-1zM159 411h3v1h-3zM160 410h1v3h-1zM169 407h3v1h-3zM170 406h1v3h-1zM179 388h3v1h-3zM180 387h1v3h-1zM189 378h3v1h-3zM190 377h1v3h-1zM199 376h3v1h-3zM200 375h1v3h-1zM209 373h3v1h-3zM210 372h1v3h-1zM219 375h3v1h-3zM220 374h1v3h-1zM229 387h3v1h-3zM230 386h1v3h-1zM239 384h3v1h-3zM240 383h1v3h-1zM249 384h3v1h-3zM250 383h1v3h-1zM259 386h3v1h-3zM260 385h1v3h-1zM269 383h3v1h-3zM270 382h1v3h-1zM279 379h3v1h-3zM280 378h1v3h-1zM289 378h3v1h-3zM290 377h1v3h-1zM299 372h3v1h-3zM300 371h1v3h-1zM309 368h3v1h-3zM310 367h1v3h-1zM319 366h3v1h-3zM320 365h1v3h-1zM329 366h3v1h-3zM330 365h1v3h-1zM339 366h3v1h-3zM340 365h1v3h-1zM349 368h3v1h-3zM350 367h1v3h-1zM359 368h3v1h-3zM360 367h1v3h-1zM369 367h3v1h-3zM370 366h1v3h-1zM379 365h3v1h-3zM380 364h1v3h-1zM389 356h3v1h-3zM390 355h1v3h-1zM399 351h3v1h-3zM400 350h1v3h-1zM409 346h3v1h-3zM410 345h1v3h-1zM419 344h3v1h-3zM420 343h1v3h-1zM429 341h3v1h-3zM430 340h1v3h-1zM439 347h3v1h-3zM440 346h1v3h-1zM449 349h3v1h-3zM450 348h1v3h-1zM459 350h3v1h-3zM460 349h1v3h-1zM469 355h3v1h-3zM470 354h1v3h-1zM479 362h3v1h-3zM480 361h1v3h-1zM489 369h3v1h-3zM490 368h1v3h-1zM499 378h3v1h-3zM500 377h1v3h-1zM509 370h3v1h-3zM510 369h1v3h-1zM519 365h3v1h-3zM520 364h1v3h-1zM529 367h3v1h-3zM530 366h1v3h-1zM539 381h3v1h-3zM540 380h1v3h-1zM549 389h3v1h-3zM550 388h1v3h-1zM559 381h3v1h-3zM560 380h1v3h-1zM569 363h3v1h-3zM570 362h1v3h-1zM579 364h3v1h-3zM580 363h1v3h-1zM589 382h3v1h-3zM590 381h1v3h-1zM599 399h3v1h-3zM600 398h1v3h-1zM609 414h3v1h-3zM610 413h1v3h-1zM619 416h3v1h-3zM620 415h1v3h-1zM629 433h3v1h-3zM630 432h1v3h-1zM639 434h3v1h-3zM640 433h1v3h-1zM649 423h3v1h-3zM650 422h1v3h-1zM659 414h3v1h-3zM660 413h1v3h-1zM669 413h3v1h-3zM670 412h1v3h-1zM679 406h3v1h-3zM680 405h1v3h-1zM689 403h3v1h-3zM690 402h1v3h-1z"/>
<polyline transform="translate(.5,.5)" points="50,365.1 60,359.9 70,369.9 80,375.3 90,405.1 100,419.7 110,423.6 120,426.0 130,424.2 140,418.9 150,419.0 160,414.1 170,398.7 180,386.8 190,384.4 200,375.8 210,370.1 220,373.0 230,380.7 240,382.0 250,385.5 260,388.5 270,388.1 280,386.5 290,379.9 300,373.2 310,362.8 320,362.2 330,365.8 340,365.2 350,368.4 360,370.6 370,367.6 380,374.5 390,390.9 400,388.0 410,390.2 420,373.9 430,371.8 440,391.7 450,392.2 460,392.3 470,406.6 480,411.5 490,413.7 500,410.8 510,415.8 520,412.4 530,413.9 540,403.7 550,410.0 560,404.0 570,407.5 580,401.6 590,403.1 600,401.6 610,397.2 620,408.5 630,424.7 640,420.6 650,412.5 660,407.7 670,400.1 680,398.3 690,401.1" fill="none" stroke="#8B5A20" stroke-width="1" shape-rendering="crispEdges"/>
<path shape-rendering="crispEdges" fill="#8B5A20" d="M49 365h3v1h-3zM50 364h1v3h-1zM59 360h3v1h-3zM60 359h1v3h-1zM69 370h3v1h-3zM70 369h1v3h-1zM79 375h3v1h-3zM80 374h1v3h-1zM89 405h3v1h-3zM90 404h1v3h-1zM99 420h3v1h-3zM100 419h1v3h-1zM109 424h3v1h-3zM110 423h1v3h-1zM119 426h3v1h-3zM120 425h1v3h-1zM129 424h3v1h-3zM130 423h1v3h-1zM139 419h3v1h-3zM140 418h1v3h-1zM149 419h3v1h-3zM150 418h1v3h-1zM159 414h3v1h-3zM160 413h1v3h-1zM169 399h3v1h-3zM170 398h1v3h-1zM179 387h3v1h-3zM180 386h1v3h-1zM189 384h3v1h-3zM190 383h1v3h-1zM199 376h3v1h-3zM200 375h1v3h-1zM209 370h3v1h-3zM210 369h1v3h-1zM219 373h3v1h-3zM220 372h1v3h-1zM229 381h3v1h-3zM230 380h1v3h-1zM239 382h3v1h-3zM240 381h1v3h-1zM249 385h3v1h-3zM250 384h1v3h-1zM259 388h3v1h-3zM260 387h1v3h-1zM269 388h3v1h-3zM270 387h1v3h-1zM279 387h3v1h-3zM280 386h1v3h-1zM289 380h3v1h-3zM290 379h1v3h-1zM299 373h3v1h-3zM300 372h1v3h-1zM309 363h3v1h-3zM310 362h1v3h-1zM319 362h3v1h-3zM320 361h1v3h-1zM329 366h3v1h-3zM330 365h1v3h-1zM339 365h3v1h-3zM340 364h1v3h-1zM349 368h3v1h-3zM350 367h1v3h-1zM359 371h3v1h-3zM360 370h1v3h-1zM369 368h3v1h-3zM370 367h1v3h-1zM379 374h3v1h-3zM380 373h1v3h-1zM389 391h3v1h-3zM390 390h1v3h-1zM399 388h3v1h-3zM400 387h1v3h-1zM409 390h3v1h-3zM410 389h1v3h-1zM419 374h3v1h-3zM420 373h1v3h-1zM429 372h3v1h-3zM430 371h1v3h-1zM439 392h3v1h-3zM440 391h1v3h-1zM449 392h3v1h-3zM450 391h1v3h-1zM459 392h3v1h-3zM460 391h1v3h-1zM469 407h3v1h-3zM470 406h1v3h-1zM479 412h3v1h-3zM480 411h1v3h-1zM489 414h3v1h-3zM490 413h1v3h-1zM499 411h3v1h-3zM500 410h1v3h-1zM509 416h3v1h-3zM510 415h1v3h-1zM519 412h3v1h-3zM520 411h1v3h-1zM529 414h3v1h-3zM530 413h1v3h-1zM539 404h3v1h-3zM540 403h1v3h-1zM549 410h3v1h-3zM550 409h1v3h-1zM559 404h3v1h-3zM560 403h1v3h-1zM569 408h3v1h-3zM570 407h1v3h-1zM579 402h3v1h-3zM580 401h1v3h-1zM589 403h3v1h-3zM590 402h1v3h-1zM599 402h3v1h-3zM600 401h1v3h-1zM609 397h3v1h-3zM610 396h1v3h-1zM619 408h3v1h-3zM620 407h1v3h-1zM629 425h3v1h-3zM630 424h1v3h-1zM639 421h3v1h-3zM640 420h1v3h-1zM649 412h3v1h-3zM650 411h1v3h-1zM659 408h3v1h-3zM660 407h1v3h-1zM669 400h3v1h-3zM670 399h1v3h-1zM679 398h3v1h-3zM680 397h1v3h-1zM689 401h3v1h-3zM690 400h1v3h-1z"/>
<polyline transform="translate(.5,.5)" points="50,363.2 60,357.2 70,366.2 80,369.8 90,385.1 100,394.3 110,404.0 120,412.6 130,415.4 140,409.4 150,405.3 160,401.6 170,390.3 180,379.2 190,372.8 200,366.2 210,366.8 220,364.7 230,365.3 240,375.1 250,366.6 260,365.8 270,376.0 280,371.1 290,355.3 300,357.7 310,355.1 320,352.0 330,349.1 340,352.1 350,352.3 360,356.2 370,354.9 380,365.4 390,357.4 400,361.3 410,361.8 420,367.0 430,351.2 440,359.2 450,360.5 460,355.0 470,356.3 480,366.3 490,367.8 500,361.3 510,359.2 520,365.8 530,366.3 540,361.2 550,353.1 560,363.9 570,364.9 580,374.4 590,379.2 600,370.5 610,362.9 620,367.8 630,373.7 640,381.6 650,378.7 660,378.6 670,384.7 680,394.5 690,400.8" fill="none" stroke="#A080E0" stroke-width="1" shape-rendering="crispEdges"/>
<path shape-rendering="crispEdges" fill="#A080E0" d="M49 363h3v1h-3zM50 362h1v3h-1zM59 357h3v1h-3zM60 356h1v3h-1zM69 366h3v1h-3zM70 365h1v3h-1zM79 370h3v1h-3zM80 369h1v3h-1zM89 385h3v1h-3zM90 384h1v3h-1zM99 394h3v1h-3zM100 393h1v3h-1zM109 404h3v1h-3zM110 403h1v3h-1zM119 413h3v1h-3zM120 412h1v3h-1zM129 415h3v1h-3zM130 414h1v3h-1zM139 409h3v1h-3zM140 408h1v3h-1zM149 405h3v1h-3zM150 404h1v3h-1zM159 402h3v1h-3zM160 401h1v3h-1zM169 390h3v1h-3zM170 389h1v3h-1zM179 379h3v1h-3zM180 378h1v3h-1zM189 373h3v1h-3zM190 372h1v3h-1zM199 366h3v1h-3zM200 365h1v3h-1zM209 367h3v1h-3zM210 366h1v3h-1zM219 365h3v1h-3zM220 364h1v3h-1zM229 365h3v1h-3zM230 364h1v3h-1zM239 375h3v1h-3zM240 374h1v3h-1zM249 367h3v1h-3zM250 366h1v3h-1zM259 366h3v1h-3zM260 365h1v3h-1zM269 376h3v1h-3zM270 375h1v3h-1zM279 371h3v1h-3zM280 370h1v3h-1zM289 355h3v1h-3zM290 354h1v3h-1zM299 358h3v1h-3zM300 357h1v3h-1zM309 355h3v1h-3zM310 354h1v3h-1zM319 352h3v1h-3zM320 351h1v3h-1zM329 349h3v1h-3zM330 348h1v3h-1zM339 352h3v1h-3zM340 351h1v3h-1zM349 352h3v1h-3zM350 351h1v3h-1zM359 356h3v1h-3zM360 355h1v3h-1zM369 355h3v1h-3zM370 354h1v3h-1zM379 365h3v1h-3zM380 364h1v3h-1zM389 357h3v1h-3zM390 356h1v3h-1zM399 361h3v1h-3zM400 360h1v3h-1zM409 362h3v1h-3zM410 361h1v3h-1zM419 367h3v1h-3zM420 366h1v3h-1zM429 351h3v1h-3zM430 350h1v3h-1zM439 359h3v1h-3zM440 358h1v3h-1zM449 360h3v1h-3zM450 359h1v3h-1zM459 355h3v1h-3zM460 354h1v3h-1zM469 356h3v1h-3zM470 355h1v3h-1zM479 366h3v1h-3zM480 365h1v3h-1zM489 368h3v1h-3zM490 367h1v3h-1zM499 361h3v1h-3zM500 360h1v3h-1zM509 359h3v1h-3zM510 358h1v3h-1zM519 366h3v1h-3zM520 365h1v3h-1zM529 366h3v1h-3zM530 365h1v3h-1zM539 361h3v1h-3zM540 360h1v3h-1zM549 353h3v1h-3zM550 352h1v3h-1zM559 364h3v1h-3zM560 363h1v3h-1zM569 365h3v1h-3zM570 364h1v3h-1zM579 374h3v1h-3zM580 373h1v3h-1zM589 379h3v1h-3zM590 378h1v3h-1zM599 370h3v1h-3zM600 369h1v3h-1zM609 363h3v1h-3zM610 362h1v3h-1zM619 368h3v1h-3zM620 367h1v3h-1zM629 374h3v1h-3zM630 373h1v3h-1zM639 382h3v1h-3zM640 381h1v3h-1zM649 379h3v1h-3zM650 378h1v3h-1zM659 379h3v1h-3zM660 378h1v3h-1zM669 385h3v1h-3zM670 384h1v3h-1zM679 394h3v1h-3zM680 393h1v3h-1zM689 401h3v1h-3zM690 400h1v3h-1z"/>
<polyline transform="translate(.5,.5)" points="50,363.8 60,358.8 70,367.6 80,373.9 90,393.9 100,410.2 110,418.3 120,423.7 130,422.4 140,422.1 150,421.0 160,421.9 170,417.0 180,401.3 190,390.7 200,384.2 210,380.3 220,381.3 230,387.2 240,390.3 250,414.6 260,438.9 270,438.9 280,420.0 290,387.6 300,368.6 310,369.1 320,369.8 330,366.2 340,365.7 350,362.5 360,369.3 370,371.8 380,373.2 390,386.0 400,398.4 410,391.2 420,388.5 430,398.8 440,392.2 450,390.7 460,391.3 470,391.8 480,382.7 490,385.0 500,376.2 510,360.5 520,356.5 530,355.1 540,350.0 550,344.3 560,341.4 570,348.6 580,355.7 590,368.6 600,381.5 610,391.4 620,403.1 630,406.9 640,432.0 650,423.0 660,406.6 670,392.3 680,388.2 690,398.8" fill="none" stroke="#A0F040" stroke-width="1" shape-rendering="crispEdges"/>
<path shape-rendering="crispEdges" fill="#A0F040" d="M49 364h3v1h-3zM50 363h1v3h-1zM59 359h3v1h-3zM60 358h1v3h-1zM69 368h3v1h-3zM70 367h1v3h-1zM79 374h3v1h-3zM80 373h1v3h-1zM89 394h3v1h-3zM90 393h1v3h-1zM99 410h3v1h-3zM100 409h1v3h-1zM109 418h3v1h-3zM110 417h1v3h-1zM119 424h3v1h-3zM120 423h1v3h-1zM129 422h3v1h-3zM130 421h1v3h-1zM139 422h3v1h-3zM140 421h1v3h-1zM149 421h3v1h-3zM150 420h1v3h-1zM159 422h3v1h-3zM160 421h1v3h-1zM169 417h3v1h-3zM170 416h1v3h-1zM179 401h3v1h-3zM180 400h1v3h-1zM189 391h3v1h-3zM190 390h1v3h-1zM199 384h3v1h-3zM200 383h1v3h-1zM209 380h3v1h-3zM210 379h1v3h-1zM219 381h3v1h-3zM220 380h1v3h-1zM229 387h3v1h-3zM230 386h1v3h-1zM239 390h3v1h-3zM240 389h1v3h-1zM249 415h3v1h-3zM250 414h1v3h-1zM259 439h3v1h-3zM260 438h1v3h-1zM269 439h3v1h-3zM270 438h1v3h-1zM279 420h3v1h-3zM280 419h1v3h-1zM289 388h3v1h-3zM290 387h1v3h-1zM299 369h3v1h-3zM300 368h1v3h-1zM309 369h3v1h-3zM310 368h1v3h-1zM319 370h3v1h-3zM320 369h1v3h-1zM329 366h3v1h-3zM330 365h1v3h-1zM339 366h3v1h-3zM340 365h1v3h-1zM349 363h3v1h-3zM350 362h1v3h-1zM359 369h3v1h-3zM360 368h1v3h-1zM369 372h3v1h-3zM370 371h1v3h-1zM379 373h3v1h-3zM380 372h1v3h-1zM389 386h3v1h-3zM390 385h1v3h-1zM399 398h3v1h-3zM400 397h1v3h-1zM409 391h3v1h-3zM410 390h1v3h-1zM419 389h3v1h-3zM420 388h1v3h-1zM429 399h3v1h-3zM430 398h1v3h-1zM439 392h3v1h-3zM440 391h1v3h-1zM449 391h3v1h-3zM450 390h1v3h-1zM459 391h3v1h-3zM460 390h1v3h-1zM469 392h3v1h-3zM470 391h1v3h-1zM479 383h3v1h-3zM480 382h1v3h-1zM489 385h3v1h-3zM490 384h1v3h-1zM499 376h3v1h-3zM500 375h1v3h-1zM509 361h3v1h-3zM510 360h1v3h-1zM519 356h3v1h-3zM520 355h1v3h-1zM529 355h3v1h-3zM530 354h1v3h-1zM539 350h3v1h-3zM540 349h1v3h-1zM549 344h3v1h-3zM550 343h1v3h-1zM559 341h3v1h-3zM560 340h1v3h-1zM569 349h3v1h-3zM570 348h1v3h-1zM579 356h3v1h-3zM580 355h1v3h-1zM589 369h3v1h-3zM590 368h1v3h-1zM599 381h3v1h-3zM600 380h1v3h-1zM609 391h3v1h-3zM610 390h1v3h-1zM619 403h3v1h-3zM620 402h1v3h-1zM629 407h3v1h-3zM630 406h1v3h-1zM639 432h3v1h-3zM640 431h1v3h-1zM649 423h3v1h-3zM650 422h1v3h-1zM659 407h3v1h-3zM660 406h1v3h-1zM669 392h3v1h-3zM670 391h1v3h-1zM679 388h3v1h-3zM680 387h1v3h-1zM689 399h3v1h-3zM690 398h1v3h-1z"/>
<polyline transform="translate(.5,.5)" points="50,363.7 60,358.7 70,367.1 80,372.8 90,394.7 100,413.1 110,419.6 120,423.7 130,423.4 140,424.6 150,426.8 160,433.5 170,426.8 180,418.6 190,401.1 200,392.4 210,384.0 220,385.5 230,390.3 240,417.3 250,413.2 260,428.1 270,429.5 280,430.8 290,438.9 300,437.6 310,441.6 320,430.8 330,401.1 340,378.1 350,373.9 360,373.4 370,373.0 380,379.7 390,391.7 400,402.8 410,400.2 420,385.6 430,393.3 440,392.9 450,409.0 460,405.2 470,402.6 480,401.1 490,413.7 500,427.3 510,435.1 520,437.7 530,433.0 540,417.8 550,424.6 560,422.6 570,428.3 580,433.2 590,425.2 600,413.3 610,407.0 620,408.8 630,417.9 640,414.9 650,418.7 660,409.4 670,409.6 680,411.8 690,415.6" fill="none" stroke="#D870D0" stroke-width="1" shape-rendering="crispEdges"/>
<path shape-rendering="crispEdges" fill="#D870D0" d="M49 364h3v1h-3zM50 363h1v3h-1zM59 359h3v1h-3zM60 358h1v3h-1zM69 367h3v1h-3zM70 366h1v3h-1zM79 373h3v1h-3zM80 372h1v3h-1zM89 395h3v1h-3zM90 394h1v3h-1zM99 413h3v1h-3zM100 412h1v3h-1zM109 420h3v1h-3zM110 419h1v3h-1zM119 424h3v1h-3zM120 423h1v3h-1zM129 423h3v1h-3zM130 422h1v3h-1zM139 425h3v1h-3zM140 424h1v3h-1zM149 427h3v1h-3zM150 426h1v3h-1zM159 434h3v1h-3zM160 433h1v3h-1zM169 427h3v1h-3zM170 426h1v3h-1zM179 419h3v1h-3zM180 418h1v3h-1zM189 401h3v1h-3zM190 400h1v3h-1zM199 392h3v1h-3zM200 391h1v3h-1zM209 384h3v1h-3zM210 383h1v3h-1zM219 386h3v1h-3zM220 385h1v3h-1zM229 390h3v1h-3zM230 389h1v3h-1zM239 417h3v1h-3zM240 416h1v3h-1zM249 413h3v1h-3zM250 412h1v3h-1zM259 428h3v1h-3zM260 427h1v3h-1zM269 429h3v1h-3zM270 428h1v3h-1zM279 431h3v1h-3zM280 430h1v3h-1zM289 439h3v1h-3zM290 438h1v3h-1zM299 438h3v1h-3zM300 437h1v3h-1zM309 442h3v1h-3zM310 441h1v3h-1zM319 431h3v1h-3zM320 430h1v3h-1zM329 401h3v1h-3zM330 400h1v3h-1zM339 378h3v1h-3zM340 377h1v3h-1zM349 374h3v1h-3zM350 373h1v3h-1zM359 373h3v1h-3zM360 372h1v3h-1zM369 373h3v1h-3zM370 372h1v3h-1zM379 380h3v1h-3zM380 379h1v3h-1zM389 392h3v1h-3zM390 391h1v3h-1zM399 403h3v1h-3zM400 402h1v3h-1zM409 400h3v1h-3zM410 399h1v3h-1zM419 386h3v1h-3zM420 385h1v3h-1zM429 393h3v1h-3zM430 392h1v3h-1zM439 393h3v1h-3zM440 392h1v3h-1zM449 409h3v1h-3zM450 408h1v3h-1zM459 405h3v1h-3zM460 404h1v3h-1zM469 403h3v1h-3zM470 402h1v3h-1zM479 401h3v1h-3zM480 400h1v3h-1zM489 414h3v1h-3zM490 413h1v3h-1zM499 427h3v1h-3zM500 426h1v3h-1zM509 435h3v1h-3zM510 434h1v3h-1zM519 438h3v1h-3zM520 437h1v3h-1zM529 433h3v1h-3zM530 432h1v3h-1zM539 418h3v1h-3zM540 417h1v3h-1zM549 425h3v1h-3zM550 424h1v3h-1zM559 423h3v1h-3zM560 422h1v3h-1zM569 428h3v1h-3zM570 427h1v3h-1zM579 433h3v1h-3zM580 432h1v3h-1zM589 425h3v1h-3zM590 424h1v3h-1zM599 413h3v1h-3zM600 412h1v3h-1zM609 407h3v1h-3zM610 406h1v3h-1zM619 409h3v1h-3zM620 408h1v3h-1zM629 418h3v1h-3zM630 417h1v3h-1zM639 415h3v1h-3zM640 414h1v3h-1zM649 419h3v1h-3zM650 418h1v3h-1zM659 409h3v1h-3zM660 408h1v3h-1zM669 410h3v1h-3zM670 409h1v3h-1zM679 412h3v1h-3zM680 411h1v3h-1zM689 416h3v1h-3zM690 415h1v3h-1z"/>
<polyline transform="translate(.5,.5)" points="50,364.0 60,358.8 70,368.0 80,371.7 90,394.8 100,413.7 110,418.8 120,420.7 130,421.5 140,420.7 150,419.2 160,422.4 170,418.0 180,404.1 190,380.7 200,378.8 210,377.3 220,376.8 230,393.0 240,414.6 250,430.8 260,409.2 270,387.6 280,374.1 290,374.2 300,368.6 310,356.9 320,352.5 330,360.6 340,357.1 350,352.3 360,366.0 370,377.4 380,387.6 390,410.5 400,413.2 410,401.1 420,387.6 430,380.3 440,374.1 450,368.7 460,375.7 470,381.8 480,384.7 490,396.8 500,412.1 510,404.3 520,397.4 530,404.8 540,399.3 550,408.0 560,416.7 570,427.8 580,433.2 590,425.2 600,417.2 610,407.5 620,412.7 630,430.7 640,432.0 650,430.6 660,412.7 670,409.5 680,409.9 690,421.5" fill="none" stroke="#1808A0" stroke-width="1" shape-rendering="crispEdges"/>
<path shape-rendering="crispEdges" fill="#1808A0" d="M49 364h3v1h-3zM50 363h1v3h-1zM59 359h3v1h-3zM60 358h1v3h-1zM69 368h3v1h-3zM70 367h1v3h-1zM79 372h3v1h-3zM80 371h1v3h-1zM89 395h3v1h-3zM90 394h1v3h-1zM99 414h3v1h-3zM100 413h1v3h-1zM109 419h3v1h-3zM110 418h1v3h-1zM119 421h3v1h-3zM120 420h1v3h-1zM129 421h3v1h-3zM130 420h1v3h-1zM139 421h3v1h-3zM140 420h1v3h-1zM149 419h3v1h-3zM150 418h1v3h-1zM159 422h3v1h-3zM160 421h1v3h-1zM169 418h3v1h-3zM170 417h1v3h-1zM179 404h3v1h-3zM180 403h1v3h-1zM189 381h3v1h-3zM190 380h1v3h-1zM199 379h3v1h-3zM200 378h1v3h-1zM209 377h3v1h-3zM210 376h1v3h-1zM219 377h3v1h-3zM220 376h1v3h-1zM229 393h3v1h-3zM230 392h1v3h-1zM239 415h3v1h-3zM240 414h1v3h-1zM249 431h3v1h-3zM250 430h1v3h-1zM259 409h3v1h-3zM260 408h1v3h-1zM269 388h3v1h-3zM270 387h1v3h-1zM279 374h3v1h-3zM280 373h1v3h-1zM289 374h3v1h-3zM290 373h1v3h-1zM299 369h3v1h-3zM300 368h1v3h-1zM309 357h3v1h-3zM310 356h1v3h-1zM319 352h3v1h-3zM320 351h1v3h-1zM329 361h3v1h-3zM330 360h1v3h-1zM339 357h3v1h-3zM340 356h1v3h-1zM349 352h3v1h-3zM350 351h1v3h-1zM359 366h3v1h-3zM360 365h1v3h-1zM369 377h3v1h-3zM370 376h1v3h-1zM379 388h3v1h-3zM380 387h1v3h-1zM389 411h3v1h-3zM390 410h1v3h-1zM399 413h3v1h-3zM400 412h1v3h-1zM409 401h3v1h-3zM410 400h1v3h-1zM419 388h3v1h-3zM420 387h1v3h-1zM429 380h3v1h-3zM430 379h1v3h-1zM439 374h3v1h-3zM440 373h1v3h-1zM449 369h3v1h-3zM450 368h1v3h-1zM459 376h3v1h-3zM460 375h1v3h-1zM469 382h3v1h-3zM470 381h1v3h-1zM479 385h3v1h-3zM480 384h1v3h-1zM489 397h3v1h-3zM490 396h1v3h-1zM499 412h3v1h-3zM500 411h1v3h-1zM509 404h3v1h-3zM510 403h1v3h-1zM519 397h3v1h-3zM520 396h1v3h-1zM529 405h3v1h-3zM530 404h1v3h-1zM539 399h3v1h-3zM540 398h1v3h-1zM549 408h3v1h-3zM550 407h1v3h-1zM559 417h3v1h-3zM560 416h1v3h-1zM569 428h3v1h-3zM570 427h1v3h-1zM579 433h3v1h-3zM580 432h1v3h-1zM589 425h3v1h-3zM590 424h1v3h-1zM599 417h3v1h-3zM600 416h1v3h-1zM609 408h3v1h-3zM610 407h1v3h-1zM619 413h3v1h-3zM620 412h1v3h-1zM629 431h3v1h-3zM630 430h1v3h-1zM639 432h3v1h-3zM640 431h1v3h-1zM649 431h3v1h-3zM650 430h1v3h-1zM659 413h3v1h-3zM660 412h1v3h-1zM669 409h3v1h-3zM670 408h1v3h-1zM679 410h3v1h-3zM680 409h1v3h-1zM689 422h3v1h-3zM690 421h1v3h-1z"/>
<polyline transform="translate(.5,.5)" points="50,364.1 60,358.3 70,367.7 80,373.7 90,393.7 100,408.2 110,418.6 120,419.4 130,422.5 140,419.3 150,414.7 160,417.6 170,409.7 180,393.9 190,380.5 200,375.0 210,371.4 220,373.0 230,382.5 240,384.2 250,385.9 260,385.4 270,385.3 280,383.1 290,379.0 300,368.9 310,360.6 320,368.1 330,367.9 340,366.8 350,365.7 360,370.0 370,375.6 380,382.8 390,408.5 400,401.6 410,396.2 420,386.8 430,385.2 440,390.5 450,394.1 460,386.2 470,406.0 480,408.8 490,413.5 500,418.6 510,410.5 520,415.2 530,415.0 540,414.5 550,416.7 560,425.2 570,427.8 580,433.2 590,416.7 600,417.2 610,413.0 620,414.4 630,430.7 640,432.0 650,422.1 660,409.7 670,394.8 680,389.2 690,389.4" fill="none" stroke="#E0D0A8" stroke-width="1" shape-rendering="crispEdges"/>
<path shape-rendering="crispEdges" fill="#E0D0A8" d="M49 364h3v1h-3zM50 363h1v3h-1zM59 358h3v1h-3zM60 357h1v3h-1zM69 368h3v1h-3zM70 367h1v3h-1zM79 374h3v1h-3zM80 373h1v3h-1zM89 394h3v1h-3zM90 393h1v3h-1zM99 408h3v1h-3zM100 407h1v3h-1zM109 419h3v1h-3zM110 418h1v3h-1zM119 419h3v1h-3zM120 418h1v3h-1zM129 423h3v1h-3zM130 422h1v3h-1zM139 419h3v1h-3zM140 418h1v3h-1zM149 415h3v1h-3zM150 414h1v3h-1zM159 418h3v1h-3zM160 417h1v3h-1zM169 410h3v1h-3zM170 409h1v3h-1zM179 394h3v1h-3zM180 393h1v3h-1zM189 381h3v1h-3zM190 380h1v3h-1zM199 375h3v1h-3zM200 374h1v3h-1zM209 371h3v1h-3zM210 370h1v3h-1zM219 373h3v1h-3zM220 372h1v3h-1zM229 382h3v1h-3zM230 381h1v3h-1zM239 384h3v1h-3zM240 383h1v3h-1zM249 386h3v1h-3zM250 385h1v3h-1zM259 385h3v1h-3zM260 384h1v3h-1zM269 385h3v1h-3zM270 384h1v3h-1zM279 383h3v1h-3zM280 382h1v3h-1zM289 379h3v1h-3zM290 378h1v3h-1zM299 369h3v1h-3zM300 368h1v3h-1zM309 361h3v1h-3zM310 360h1v3h-1zM319 368h3v1h-3zM320 367h1v3h-1zM329 368h3v1h-3zM330 367h1v3h-1zM339 367h3v1h-3zM340 366h1v3h-1zM349 366h3v1h-3zM350 365h1v3h-1zM359 370h3v1h-3zM360 369h1v3h-1zM369 376h3v1h-3zM370 375h1v3h-1zM379 383h3v1h-3zM380 382h1v3h-1zM389 408h3v1h-3zM390 407h1v3h-1zM399 402h3v1h-3zM400 401h1v3h-1zM409 396h3v1h-3zM410 395h1v3h-1zM419 387h3v1h-3zM420 386h1v3h-1zM429 385h3v1h-3zM430 384h1v3h-1zM439 390h3v1h-3zM440 389h1v3h-1zM449 394h3v1h-3zM450 393h1v3h-1zM459 386h3v1h-3zM460 385h1v3h-1zM469 406h3v1h-3zM470 405h1v3h-1zM479 409h3v1h-3zM480 408h1v3h-1zM489 413h3v1h-3zM490 412h1v3h-1zM499 419h3v1h-3zM500 418h1v3h-1zM509 410h3v1h-3zM510 409h1v3h-1zM519 415h3v1h-3zM520 414h1v3h-1zM529 415h3v1h-3zM530 414h1v3h-1zM539 415h3v1h-3zM540 414h1v3h-1zM549 417h3v1h-3zM550 416h1v3h-1zM559 425h3v1h-3zM560 424h1v3h-1zM569 428h3v1h-3zM570 427h1v3h-1zM579 433h3v1h-3zM580 432h1v3h-1zM589 417h3v1h-3zM590 416h1v3h-1zM599 417h3v1h-3zM600 416h1v3h-1zM609 413h3v1h-3zM610 412h1v3h-1zM619 414h3v1h-3zM620 413h1v3h-1zM629 431h3v1h-3zM630 430h1v3h-1zM639 432h3v1h-3zM640 431h1v3h-1zM649 422h3v1h-3zM650 421h1v3h-1zM659 410h3v1h-3zM660 409h1v3h-1zM669 395h3v1h-3zM670 394h1v3h-1zM679 389h3v1h-3zM680 388h1v3h-1zM689 389h3v1h-3zM690 388h1v3h-1z"/>
<polyline transform="translate(.5,.5)" points="50,363.7 60,357.6 70,367.3 80,372.9 90,396.3 100,412.5 110,420.3 120,422.8 130,421.4 140,416.7 150,414.4 160,408.9 170,396.4 180,376.5 190,372.9 200,372.7 210,367.9 220,367.4 230,370.4 240,369.8 250,369.6 260,376.5 270,364.5 280,351.1 290,344.3 300,344.9 310,345.7 320,347.0 330,348.4 340,353.8 350,358.1 360,365.3 370,372.2 380,379.4 390,376.1 400,382.2 410,383.1 420,386.4 430,378.2 440,370.5 450,380.7 460,374.6 470,376.9 480,382.3 490,383.1 500,384.3 510,381.6 520,390.9 530,400.0 540,408.6 550,411.4 560,412.9 570,412.9 580,412.0 590,412.9 600,418.6 610,434.3 620,471.4 630,492.9 640,487.7 650,467.1 660,441.4 670,420.0 680,418.6 690,422.0" fill="none" stroke="#800810" stroke-width="1" shape-rendering="crispEdges"/>
<path shape-rendering="crispEdges" fill="#800810" d="M49 364h3v1h-3zM50 363h1v3h-1zM59 358h3v1h-3zM60 357h1v3h-1zM69 367h3v1h-3zM70 366h1v3h-1zM79 373h3v1h-3zM80 372h1v3h-1zM89 396h3v1h-3zM90 395h1v3h-1zM99 412h3v1h-3zM100 411h1v3h-1zM109 420h3v1h-3zM110 419h1v3h-1zM119 423h3v1h-3zM120 422h1v3h-1zM129 421h3v1h-3zM130 420h1v3h-1zM139 417h3v1h-3zM140 416h1v3h-1zM149 414h3v1h-3zM150 413h1v3h-1zM159 409h3v1h-3zM160 408h1v3h-1zM169 396h3v1h-3zM170 395h1v3h-1zM179 376h3v1h-3zM180 375h1v3h-1zM189 373h3v1h-3zM190 372h1v3h-1zM199 373h3v1h-3zM200 372h1v3h-1zM209 368h3v1h-3zM210 367h1v3h-1zM219 367h3v1h-3zM220 366h1v3h-1zM229 370h3v1h-3zM230 369h1v3h-1zM239 370h3v1h-3zM240 369h1v3h-1zM249 370h3v1h-3zM250 369h1v3h-1zM259 376h3v1h-3zM260 375h1v3h-1zM269 365h3v1h-3zM270 364h1v3h-1zM279 351h3v1h-3zM280 350h1v3h-1zM289 344h3v1h-3zM290 343h1v3h-1zM299 345h3v1h-3zM300 344h1v3h-1zM309 346h3v1h-3zM310 345h1v3h-1zM319 347h3v1h-3zM320 346h1v3h-1zM329 348h3v1h-3zM330 347h1v3h-1zM339 354h3v1h-3zM340 353h1v3h-1zM349 358h3v1h-3zM350 357h1v3h-1zM359 365h3v1h-3zM360 364h1v3h-1zM369 372h3v1h-3zM370 371h1v3h-1zM379 379h3v1h-3zM380 378h1v3h-1zM389 376h3v1h-3zM390 375h1v3h-1zM399 382h3v1h-3zM400 381h1v3h-1zM409 383h3v1h-3zM410 382h1v3h-1zM419 386h3v1h-3zM420 385h1v3h-1zM429 378h3v1h-3zM430 377h1v3h-1zM439 370h3v1h-3zM440 369h1v3h-1zM449 381h3v1h-3zM450 380h1v3h-1zM459 375h3v1h-3zM460 374h1v3h-1zM469 377h3v1h-3zM470 376h1v3h-1zM479 382h3v1h-3zM480 381h1v3h-1zM489 383h3v1h-3zM490 382h1v3h-1zM499 384h3v1h-3zM500 383h1v3h-1zM509 382h3v1h-3zM510 381h1v3h-1zM519 391h3v1h-3zM520 390h1v3h-1zM529 400h3v1h-3zM530 399h1v3h-1zM539 409h3v1h-3zM540 408h1v3h-1zM549 411h3v1h-3zM550 410h1v3h-1zM559 413h3v1h-3zM560 412h1v3h-1zM569 413h3v1h-3zM570 412h1v3h-1zM579 412h3v1h-3zM580 411h1v3h-1zM589 413h3v1h-3zM590 412h1v3h-1zM599 419h3v1h-3zM600 418h1v3h-1zM609 434h3v1h-3zM610 433h1v3h-1zM619 471h3v1h-3zM620 470h1v3h-1zM629 493h3v1h-3zM630 492h1v3h-1zM639 488h3v1h-3zM640 487h1v3h-1zM649 467h3v1h-3zM650 466h1v3h-1zM659 441h3v1h-3zM660 440h1v3h-1zM669 420h3v1h-3zM670 419h1v3h-1zM679 419h3v1h-3zM680 418h1v3h-1zM689 422h3v1h-3zM690 421h1v3h-1z"/>
<polyline transform="translate(.5,.5)" points="50,363.0 60,357.1 70,365.7 80,367.5 90,384.5 100,396.0 110,398.9 120,404.6 130,409.7 140,402.3 150,398.9 160,395.7 170,380.0 180,370.0 190,371.0 200,365.3 210,364.6 220,362.9 230,363.5 240,362.9 250,365.8 260,365.4 270,371.6 280,358.8 290,352.8 300,345.0 310,352.6 320,344.8 330,344.0 340,343.2 350,345.4 360,359.0 370,373.8 380,382.2 390,399.7 400,406.5 410,409.2 420,414.6 430,418.6 440,415.9 450,414.6 460,407.8 470,399.7 480,393.0 490,388.1 500,391.8 510,396.1 520,395.3 530,375.9 540,365.1 550,356.6 560,344.2 570,357.3 580,370.9 590,374.8 600,379.2 610,386.2 620,379.3 630,386.2 640,382.6 650,378.6 660,371.9 670,371.1 680,366.0 690,374.1" fill="none" stroke="#0838B0" stroke-width="1" shape-rendering="crispEdges"/>
<path shape-rendering="crispEdges" fill="#0838B0" d="M49 363h3v1h-3zM50 362h1v3h-1zM59 357h3v1h-3zM60 356h1v3h-1zM69 366h3v1h-3zM70 365h1v3h-1zM79 367h3v1h-3zM80 366h1v3h-1zM89 384h3v1h-3zM90 383h1v3h-1zM99 396h3v1h-3zM100 395h1v3h-1zM109 399h3v1h-3zM110 398h1v3h-1zM119 405h3v1h-3zM120 404h1v3h-1zM129 410h3v1h-3zM130 409h1v3h-1zM139 402h3v1h-3zM140 401h1v3h-1zM149 399h3v1h-3zM150 398h1v3h-1zM159 396h3v1h-3zM160 395h1v3h-1zM169 380h3v1h-3zM170 379h1v3h-1zM179 370h3v1h-3zM180 369h1v3h-1zM189 371h3v1h-3zM190 370h1v3h-1zM199 365h3v1h-3zM200 364h1v3h-1zM209 365h3v1h-3zM210 364h1v3h-1zM219 363h3v1h-3zM220 362h1v3h-1zM229 363h3v1h-3zM230 362h1v3h-1zM239 363h3v1h-3zM240 362h1v3h-1zM249 366h3v1h-3zM250 365h1v3h-1zM259 365h3v1h-3zM260 364h1v3h-1zM269 372h3v1h-3zM270 371h1v3h-1zM279 359h3v1h-3zM280 358h1v3h-1zM289 353h3v1h-3zM290 352h1v3h-1zM299 345h3v1h-3zM300 344h1v3h-1zM309 353h3v1h-3zM310 352h1v3h-1zM319 345h3v1h-3zM320 344h1v3h-1zM329 344h3v1h-3zM330 343h1v3h-1zM339 343h3v1h-3zM340 342h1v3h-1zM349 345h3v1h-3zM350 344h1v3h-1zM359 359h3v1h-3zM360 358h1v3h-1zM369 374h3v1h-3zM370 373h1v3h-1zM379 382h3v1h-3zM380 381h1v3h-1zM389 400h3v1h-3zM390 399h1v3h-1zM399 406h3v1h-3zM400 405h1v3h-1zM409 409h3v1h-3zM410 408h1v3h-1zM419 415h3v1h-3zM420 414h1v3h-1zM429 419h3v1h-3zM430 418h1v3h-1zM439 416h3v1h-3zM440 415h1v3h-1zM449 415h3v1h-3zM450 414h1v3h-1zM459 408h3v1h-3zM460 407h1v3h-1zM469 400h3v1h-3zM470 399h1v3h-1zM479 393h3v1h-3zM480 392h1v3h-1zM489 388h3v1h-3zM490 387h1v3h-1zM499 392h3v1h-3zM500 391h1v3h-1zM509 396h3v1h-3zM510 395h1v3h-1zM519 395h3v1h-3zM520 394h1v3h-1zM529 376h3v1h-3zM530 375h1v3h-1zM539 365h3v1h-3zM540 364h1v3h-1zM549 357h3v1h-3zM550 356h1v3h-1zM559 344h3v1h-3zM560 343h1v3h-1zM569 357h3v1h-3zM570 356h1v3h-1zM579 371h3v1h-3zM580 370h1v3h-1zM589 375h3v1h-3zM590 374h1v3h-1zM599 379h3v1h-3zM600 378h1v3h-1zM609 386h3v1h-3zM610 385h1v3h-1zM619 379h3v1h-3zM620 378h1v3h-1zM629 386h3v1h-3zM630 385h1v3h-1zM639 383h3v1h-3zM640 382h1v3h-1zM649 379h3v1h-3zM650 378h1v3h-1zM659 372h3v1h-3zM660 371h1v3h-1zM669 371h3v1h-3zM670 370h1v3h-1zM679 366h3v1h-3zM680 365h1v3h-1zM689 374h3v1h-3zM690 373h1v3h-1z"/>
<polyline transform="translate(.5,.5)" points="50,363.8 60,358.4 70,367.3 80,372.7 90,393.0 100,410.5 110,417.3 120,420.0 130,419.5 140,417.8 150,416.8 160,414.6 170,406.5 180,387.6 190,378.9 200,374.1 210,372.2 220,373.5 230,377.3 240,381.6 250,383.5 260,384.9 270,384.9 280,382.7 290,376.8 300,368.6 310,361.9 320,363.8 330,363.2 340,363.2 350,365.1 360,369.2 370,368.6 380,369.2 390,369.5 400,369.5 410,368.6 420,368.1 430,369.5 440,371.9 450,374.1 460,376.2 470,378.9 480,381.6 490,383.5 500,385.4 510,388.1 520,389.2 530,387.6 540,386.3 550,387.7 560,389.1 570,386.6 580,386.3 590,388.6 600,390.9 610,389.1 620,388.6 630,389.4 640,389.4 650,387.7 660,382.9 670,381.4 680,382.9 690,383.4" fill="none" stroke="#ff0000" stroke-width="3.7" />
<polyline transform="translate(.5,.5)" points="60,545.0 70,545.0 80,545.0 90,541.1 100,543.2 110,541.1 120,543.8 130,545.0 140,545.0 150,545.0 160,545.0 170,545.0 180,545.0 190,545.0 200,545.0 210,545.0 220,545.0 230,545.0 240,545.0 250,545.0 260,545.0 270,545.0 280,545.0 290,545.0 300,542.9 310,544.3 320,545.0 330,545.0 340,545.0 350,545.0 360,545.0 370,545.0 380,545.0 390,545.0 400,545.0 410,545.0 420,545.0 430,540.1 440,538.0 450,542.9 460,545.0 470,545.0 480,545.0 490,545.0 500,545.0 510,545.0 520,545.0 530,545.0 540,545.0 550,545.0 560,545.0 570,545.0 580,545.0 590,545.0 600,545.0 610,535.5 620,532.0 630,541.5 640,545.0 650,545.0 660,545.0 670,545.0 680,545.0 690,545.0" fill="none" stroke="#000" stroke-width="2.6" />
<polyline transform="translate(.5,.5)" points="60,545.0 70,545.0 80,545.0 90,538.4 100,541.1 110,539.7 120,542.4 130,545.0 140,545.0 150,545.0 160,545.0 170,545.0 180,545.0 190,545.0 200,545.0 210,545.0 220,545.0 230,545.0 240,545.0 250,545.0 260,545.0 270,545.0 280,545.0 290,545.0 300,545.0 310,545.0 320,545.0 330,545.0 340,543.6 350,541.5 360,542.9 370,545.0 380,545.0 390,545.0 400,545.0 410,545.0 420,545.0 430,545.0 440,545.0 450,545.0 460,545.0 470,545.0 480,545.0 490,541.5 500,532.0 510,526.1 520,532.0 530,542.6 540,545.0 550,545.0 560,545.0 570,545.0 580,545.0 590,545.0 600,545.0 610,545.0 620,545.0 630,545.0 640,545.0 650,545.0 660,540.1 670,535.5 680,539.1 690,543.6" fill="none" stroke="#0000ff" stroke-width="2.6" />
<polyline transform="translate(.5,.5)" points="60,545.0 70,545.0 80,545.0 90,532.4 100,537.8 110,536.2 120,538.9 130,537.8 140,545.0 150,537.0 160,545.0 170,545.0 180,545.0 190,545.0 200,545.0 210,545.0 220,545.0 230,545.0 240,545.0 250,545.0 260,545.0 270,545.0 280,545.0 290,545.0 300,545.0 310,545.0 320,545.0 330,545.0 340,545.0 350,545.0 360,545.0 370,545.0 380,545.0 390,545.0 400,545.0 410,545.0 420,543.9 430,543.2 440,545.0 450,545.0 460,545.0 470,545.0 480,545.0 490,543.8 500,545.0 510,545.0 520,545.0 530,543.8 540,543.8 550,545.0 560,542.3 570,545.0 580,543.6 590,545.0 600,543.4 610,545.0 620,543.0 630,543.1 640,545.0 650,544.5 660,543.2 670,544.3 680,545.0 690,545.0" fill="none" stroke="#E87A30" stroke-width="1" shape-rendering="crispEdges"/>
<path shape-rendering="crispEdges" fill="#E87A30" d="M59 545h3v1h-3zM60 544h1v3h-1zM69 545h3v1h-3zM70 544h1v3h-1zM79 545h3v1h-3zM80 544h1v3h-1zM89 532h3v1h-3zM90 531h1v3h-1zM99 538h3v1h-3zM100 537h1v3h-1zM109 536h3v1h-3zM110 535h1v3h-1zM119 539h3v1h-3zM120 538h1v3h-1zM129 538h3v1h-3zM130 537h1v3h-1zM139 545h3v1h-3zM140 544h1v3h-1zM149 537h3v1h-3zM150 536h1v3h-1zM159 545h3v1h-3zM160 544h1v3h-1zM169 545h3v1h-3zM170 544h1v3h-1zM179 545h3v1h-3zM180 544h1v3h-1zM189 545h3v1h-3zM190 544h1v3h-1zM199 545h3v1h-3zM200 544h1v3h-1zM209 545h3v1h-3zM210 544h1v3h-1zM219 545h3v1h-3zM220 544h1v3h-1zM229 545h3v1h-3zM230 544h1v3h-1zM239 545h3v1h-3zM240 544h1v3h-1zM249 545h3v1h-3zM250 544h1v3h-1zM259 545h3v1h-3zM260 544h1v3h-1zM269 545h3v1h-3zM270 544h1v3h-1zM279 545h3v1h-3zM280 544h1v3h-1zM289 545h3v1h-3zM290 544h1v3h-1zM299 545h3v1h-3zM300 544h1v3h-1zM309 545h3v1h-3zM310 544h1v3h-1zM319 545h3v1h-3zM320 544h1v3h-1zM329 545h3v1h-3zM330 544h1v3h-1zM339 545h3v1h-3zM340 544h1v3h-1zM349 545h3v1h-3zM350 544h1v3h-1zM359 545h3v1h-3zM360 544h1v3h-1zM369 545h3v1h-3zM370 544h1v3h-1zM379 545h3v1h-3zM380 544h1v3h-1zM389 545h3v1h-3zM390 544h1v3h-1zM399 545h3v1h-3zM400 544h1v3h-1zM409 545h3v1h-3zM410 544h1v3h-1zM419 544h3v1h-3zM420 543h1v3h-1zM429 543h3v1h-3zM430 542h1v3h-1zM439 545h3v1h-3zM440 544h1v3h-1zM449 545h3v1h-3zM450 544h1v3h-1zM459 545h3v1h-3zM460 544h1v3h-1zM469 545h3v1h-3zM470 544h1v3h-1zM479 545h3v1h-3zM480 544h1v3h-1zM489 544h3v1h-3zM490 543h1v3h-1zM499 545h3v1h-3zM500 544h1v3h-1zM509 545h3v1h-3zM510 544h1v3h-1zM519 545h3v1h-3zM520 544h1v3h-1zM529 544h3v1h-3zM530 543h1v3h-1zM539 544h3v1h-3zM540 543h1v3h-1zM549 545h3v1h-3zM550 544h1v3h-1zM559 542h3v1h-3zM560 541h1v3h-1zM569 545h3v1h-3zM570 544h1v3h-1zM579 544h3v1h-3zM580 543h1v3h-1zM589 545h3v1h-3zM590 544h1v3h-1zM599 543h3v1h-3zM600 542h1v3h-1zM609 545h3v1h-3zM610 544h1v3h-1zM619 543h3v1h-3zM620 542h1v3h-1zM629 543h3v1h-3zM630 542h1v3h-1zM639 545h3v1h-3zM640 544h1v3h-1zM649 544h3v1h-3zM650 543h1v3h-1zM659 543h3v1h-3zM660 542h1v3h-1zM669 544h3v1h-3zM670 543h1v3h-1zM679 545h3v1h-3zM680 544h1v3h-1zM689 545h3v1h-3zM690 544h1v3h-1z"/>
<polyline transform="translate(.5,.5)" points="60,545.0 70,545.0 80,545.0 90,545.0 100,545.0 110,542.5 120,542.4 130,545.0 140,542.6 150,545.0 160,543.6 170,545.0 180,545.0 190,545.0 200,545.0 210,545.0 220,545.0 230,545.0 240,545.0 250,545.0 260,545.0 270,545.0 280,545.0 290,545.0 300,545.0 310,545.0 320,545.0 330,545.0 340,545.0 350,545.0 360,545.0 370,545.0 380,545.0 390,545.0 400,545.0 410,545.0 420,542.7 430,545.0 440,543.0 450,543.6 460,545.0 470,545.0 480,545.0 490,543.6 500,545.0 510,545.0 520,545.0 530,545.0 540,545.0 550,545.0 560,542.5 570,545.0 580,545.0 590,543.4 600,545.0 610,542.9 620,542.5 630,542.5 640,545.0 650,545.0 660,545.0 670,542.7 680,545.0 690,542.1" fill="none" stroke="#88C870" stroke-width="1" shape-rendering="crispEdges"/>
<path shape-rendering="crispEdges" fill="#88C870" d="M59 545h3v1h-3zM60 544h1v3h-1zM69 545h3v1h-3zM70 544h1v3h-1zM79 545h3v1h-3zM80 544h1v3h-1zM89 545h3v1h-3zM90 544h1v3h-1zM99 545h3v1h-3zM100 544h1v3h-1zM109 542h3v1h-3zM110 541h1v3h-1zM119 542h3v1h-3zM120 541h1v3h-1zM129 545h3v1h-3zM130 544h1v3h-1zM139 543h3v1h-3zM140 542h1v3h-1zM149 545h3v1h-3zM150 544h1v3h-1zM159 544h3v1h-3zM160 543h1v3h-1zM169 545h3v1h-3zM170 544h1v3h-1zM179 545h3v1h-3zM180 544h1v3h-1zM189 545h3v1h-3zM190 544h1v3h-1zM199 545h3v1h-3zM200 544h1v3h-1zM209 545h3v1h-3zM210 544h1v3h-1zM219 545h3v1h-3zM220 544h1v3h-1zM229 545h3v1h-3zM230 544h1v3h-1zM239 545h3v1h-3zM240 544h1v3h-1zM249 545h3v1h-3zM250 544h1v3h-1zM259 545h3v1h-3zM260 544h1v3h-1zM269 545h3v1h-3zM270 544h1v3h-1zM279 545h3v1h-3zM280 544h1v3h-1zM289 545h3v1h-3zM290 544h1v3h-1zM299 545h3v1h-3zM300 544h1v3h-1zM309 545h3v1h-3zM310 544h1v3h-1zM319 545h3v1h-3zM320 544h1v3h-1zM329 545h3v1h-3zM330 544h1v3h-1zM339 545h3v1h-3zM340 544h1v3h-1zM349 545h3v1h-3zM350 544h1v3h-1zM359 545h3v1h-3zM360 544h1v3h-1zM369 545h3v1h-3zM370 544h1v3h-1zM379 545h3v1h-3zM380 544h1v3h-1zM389 545h3v1h-3zM390 544h1v3h-1zM399 545h3v1h-3zM400 544h1v3h-1zM409 545h3v1h-3zM410 544h1v3h-1zM419 543h3v1h-3zM420 542h1v3h-1zM429 545h3v1h-3zM430 544h1v3h-1zM439 543h3v1h-3zM440 542h1v3h-1zM449 544h3v1h-3zM450 543h1v3h-1zM459 545h3v1h-3zM460 544h1v3h-1zM469 545h3v1h-3zM470 544h1v3h-1zM479 545h3v1h-3zM480 544h1v3h-1zM489 544h3v1h-3zM490 543h1v3h-1zM499 545h3v1h-3zM500 544h1v3h-1zM509 545h3v1h-3zM510 544h1v3h-1zM519 545h3v1h-3zM520 544h1v3h-1zM529 545h3v1h-3zM530 544h1v3h-1zM539 545h3v1h-3zM540 544h1v3h-1zM549 545h3v1h-3zM550 544h1v3h-1zM559 543h3v1h-3zM560 542h1v3h-1zM569 545h3v1h-3zM570 544h1v3h-1zM579 545h3v1h-3zM580 544h1v3h-1zM589 543h3v1h-3zM590 542h1v3h-1zM599 545h3v1h-3zM600 544h1v3h-1zM609 543h3v1h-3zM610 542h1v3h-1zM619 543h3v1h-3zM620 542h1v3h-1zM629 543h3v1h-3zM630 542h1v3h-1zM639 545h3v1h-3zM640 544h1v3h-1zM649 545h3v1h-3zM650 544h1v3h-1zM659 545h3v1h-3zM660 544h1v3h-1zM669 543h3v1h-3zM670 542h1v3h-1zM679 545h3v1h-3zM680 544h1v3h-1zM689 542h3v1h-3zM690 541h1v3h-1z"/>
<polyline transform="translate(.5,.5)" points="60,545.0 70,545.0 80,545.0 90,545.0 100,545.0 110,545.0 120,545.0 130,541.5 140,545.0 150,541.1 160,541.2 170,545.0 180,545.0 190,545.0 200,545.0 210,545.0 220,545.0 230,545.0 240,545.0 250,545.0 260,545.0 270,545.0 280,545.0 290,545.0 300,545.0 310,545.0 320,543.6 330,538.0 340,543.6 350,545.0 360,542.6 370,539.1 380,537.3 390,534.5 400,526.8 410,542.6 420,544.3 430,543.5 440,545.0 450,545.0 460,545.0 470,543.1 480,544.3 490,545.0 500,545.0 510,543.4 520,545.0 530,545.0 540,545.0 550,545.0 560,542.7 570,545.0 580,545.0 590,545.0 600,544.4 610,545.0 620,542.9 630,542.5 640,544.5 650,543.4 660,545.0 670,545.0 680,543.3 690,545.0" fill="none" stroke="#F0C010" stroke-width="1" shape-rendering="crispEdges"/>
<path shape-rendering="crispEdges" fill="#F0C010" d="M59 545h3v1h-3zM60 544h1v3h-1zM69 545h3v1h-3zM70 544h1v3h-1zM79 545h3v1h-3zM80 544h1v3h-1zM89 545h3v1h-3zM90 544h1v3h-1zM99 545h3v1h-3zM100 544h1v3h-1zM109 545h3v1h-3zM110 544h1v3h-1zM119 545h3v1h-3zM120 544h1v3h-1zM129 542h3v1h-3zM130 541h1v3h-1zM139 545h3v1h-3zM140 544h1v3h-1zM149 541h3v1h-3zM150 540h1v3h-1zM159 541h3v1h-3zM160 540h1v3h-1zM169 545h3v1h-3zM170 544h1v3h-1zM179 545h3v1h-3zM180 544h1v3h-1zM189 545h3v1h-3zM190 544h1v3h-1zM199 545h3v1h-3zM200 544h1v3h-1zM209 545h3v1h-3zM210 544h1v3h-1zM219 545h3v1h-3zM220 544h1v3h-1zM229 545h3v1h-3zM230 544h1v3h-1zM239 545h3v1h-3zM240 544h1v3h-1zM249 545h3v1h-3zM250 544h1v3h-1zM259 545h3v1h-3zM260 544h1v3h-1zM269 545h3v1h-3zM270 544h1v3h-1zM279 545h3v1h-3zM280 544h1v3h-1zM289 545h3v1h-3zM290 544h1v3h-1zM299 545h3v1h-3zM300 544h1v3h-1zM309 545h3v1h-3zM310 544h1v3h-1zM319 544h3v1h-3zM320 543h1v3h-1zM329 538h3v1h-3zM330 537h1v3h-1zM339 544h3v1h-3zM340 543h1v3h-1zM349 545h3v1h-3zM350 544h1v3h-1zM359 543h3v1h-3zM360 542h1v3h-1zM369 539h3v1h-3zM370 538h1v3h-1zM379 537h3v1h-3zM380 536h1v3h-1zM389 534h3v1h-3zM390 533h1v3h-1zM399 527h3v1h-3zM400 526h1v3h-1zM409 543h3v1h-3zM410 542h1v3h-1zM419 544h3v1h-3zM420 543h1v3h-1zM429 544h3v1h-3zM430 543h1v3h-1zM439 545h3v1h-3zM440 544h1v3h-1zM449 545h3v1h-3zM450 544h1v3h-1zM459 545h3v1h-3zM460 544h1v3h-1zM469 543h3v1h-3zM470 542h1v3h-1zM479 544h3v1h-3zM480 543h1v3h-1zM489 545h3v1h-3zM490 544h1v3h-1zM499 545h3v1h-3zM500 544h1v3h-1zM509 543h3v1h-3zM510 542h1v3h-1zM519 545h3v1h-3zM520 544h1v3h-1zM529 545h3v1h-3zM530 544h1v3h-1zM539 545h3v1h-3zM540 544h1v3h-1zM549 545h3v1h-3zM550 544h1v3h-1zM559 543h3v1h-3zM560 542h1v3h-1zM569 545h3v1h-3zM570 544h1v3h-1zM579 545h3v1h-3zM580 544h1v3h-1zM589 545h3v1h-3zM590 544h1v3h-1zM599 544h3v1h-3zM600 543h1v3h-1zM609 545h3v1h-3zM610 544h1v3h-1zM619 543h3v1h-3zM620 542h1v3h-1zM629 543h3v1h-3zM630 542h1v3h-1zM639 544h3v1h-3zM640 543h1v3h-1zM649 543h3v1h-3zM650 542h1v3h-1zM659 545h3v1h-3zM660 544h1v3h-1zM669 545h3v1h-3zM670 544h1v3h-1zM679 543h3v1h-3zM680 542h1v3h-1zM689 545h3v1h-3zM690 544h1v3h-1z"/>
<polyline transform="translate(.5,.5)" points="60,545.0 70,545.0 80,545.0 90,528.9 100,537.0 110,534.3 120,539.7 130,545.0 140,545.0 150,545.0 160,542.3 170,545.0 180,545.0 190,545.0 200,545.0 210,545.0 220,545.0 230,545.0 240,545.0 250,545.0 260,545.0 270,545.0 280,545.0 290,545.0 300,545.0 310,545.0 320,545.0 330,545.0 340,545.0 350,545.0 360,545.0 370,545.0 380,545.0 390,545.0 400,545.0 410,545.0 420,545.0 430,545.0 440,542.8 450,545.0 460,545.0 470,545.0 480,543.0 490,545.0 500,545.0 510,542.4 520,545.0 530,545.0 540,545.0 550,543.0 560,545.0 570,545.0 580,545.0 590,544.0 600,545.0 610,544.3 620,545.0 630,545.0 640,545.0 650,542.6 660,545.0 670,545.0 680,542.1 690,545.0" fill="none" stroke="#9040B0" stroke-width="1" shape-rendering="crispEdges"/>
<path shape-rendering="crispEdges" fill="#9040B0" d="M59 545h3v1h-3zM60 544h1v3h-1zM69 545h3v1h-3zM70 544h1v3h-1zM79 545h3v1h-3zM80 544h1v3h-1zM89 529h3v1h-3zM90 528h1v3h-1zM99 537h3v1h-3zM100 536h1v3h-1zM109 534h3v1h-3zM110 533h1v3h-1zM119 540h3v1h-3zM120 539h1v3h-1zM129 545h3v1h-3zM130 544h1v3h-1zM139 545h3v1h-3zM140 544h1v3h-1zM149 545h3v1h-3zM150 544h1v3h-1zM159 542h3v1h-3zM160 541h1v3h-1zM169 545h3v1h-3zM170 544h1v3h-1zM179 545h3v1h-3zM180 544h1v3h-1zM189 545h3v1h-3zM190 544h1v3h-1zM199 545h3v1h-3zM200 544h1v3h-1zM209 545h3v1h-3zM210 544h1v3h-1zM219 545h3v1h-3zM220 544h1v3h-1zM229 545h3v1h-3zM230 544h1v3h-1zM239 545h3v1h-3zM240 544h1v3h-1zM249 545h3v1h-3zM250 544h1v3h-1zM259 545h3v1h-3zM260 544h1v3h-1zM269 545h3v1h-3zM270 544h1v3h-1zM279 545h3v1h-3zM280 544h1v3h-1zM289 545h3v1h-3zM290 544h1v3h-1zM299 545h3v1h-3zM300 544h1v3h-1zM309 545h3v1h-3zM310 544h1v3h-1zM319 545h3v1h-3zM320 544h1v3h-1zM329 545h3v1h-3zM330 544h1v3h-1zM339 545h3v1h-3zM340 544h1v3h-1zM349 545h3v1h-3zM350 544h1v3h-1zM359 545h3v1h-3zM360 544h1v3h-1zM369 545h3v1h-3zM370 544h1v3h-1zM379 545h3v1h-3zM380 544h1v3h-1zM389 545h3v1h-3zM390 544h1v3h-1zM399 545h3v1h-3zM400 544h1v3h-1zM409 545h3v1h-3zM410 544h1v3h-1zM419 545h3v1h-3zM420 544h1v3h-1zM429 545h3v1h-3zM430 544h1v3h-1zM439 543h3v1h-3zM440 542h1v3h-1zM449 545h3v1h-3zM450 544h1v3h-1zM459 545h3v1h-3zM460 544h1v3h-1zM469 545h3v1h-3zM470 544h1v3h-1zM479 543h3v1h-3zM480 542h1v3h-1zM489 545h3v1h-3zM490 544h1v3h-1zM499 545h3v1h-3zM500 544h1v3h-1zM509 542h3v1h-3zM510 541h1v3h-1zM519 545h3v1h-3zM520 544h1v3h-1zM529 545h3v1h-3zM530 544h1v3h-1zM539 545h3v1h-3zM540 544h1v3h-1zM549 543h3v1h-3zM550 542h1v3h-1zM559 545h3v1h-3zM560 544h1v3h-1zM569 545h3v1h-3zM570 544h1v3h-1zM579 545h3v1h-3zM580 544h1v3h-1zM589 544h3v1h-3zM590 543h1v3h-1zM599 545h3v1h-3zM600 544h1v3h-1zM609 544h3v1h-3zM610 543h1v3h-1zM619 545h3v1h-3zM620 544h1v3h-1zM629 545h3v1h-3zM630 544h1v3h-1zM639 545h3v1h-3zM640 544h1v3h-1zM649 543h3v1h-3zM650 542h1v3h-1zM659 545h3v1h-3zM660 544h1v3h-1zM669 545h3v1h-3zM670 544h1v3h-1zM679 542h3v1h-3zM680 541h1v3h-1zM689 545h3v1h-3zM690 544h1v3h-1z"/>
<polyline transform="translate(.5,.5)" points="60,545.0 70,545.0 80,545.0 90,545.0 100,545.0 110,543.3 120,541.8 130,543.7 140,544.1 150,545.0 160,545.0 170,545.0 180,545.0 190,545.0 200,545.0 210,545.0 220,545.0 230,545.0 240,545.0 250,545.0 260,545.0 270,545.0 280,545.0 290,545.0 300,545.0 310,545.0 320,545.0 330,545.0 340,545.0 350,545.0 360,545.0 370,545.0 380,545.0 390,545.0 400,545.0 410,545.0 420,545.0 430,545.0 440,545.0 450,545.0 460,543.9 470,545.0 480,543.4 490,545.0 500,544.2 510,545.0 520,543.9 530,545.0 540,545.0 550,544.4 560,545.0 570,545.0 580,542.6 590,535.5 600,516.2 610,487.1 620,540.8 630,545.0 640,545.0 650,545.0 660,543.7 670,543.0 680,545.0 690,545.0" fill="none" stroke="#B05010" stroke-width="1" shape-rendering="crispEdges"/>
<path shape-rendering="crispEdges" fill="#B05010" d="M59 545h3v1h-3zM60 544h1v3h-1zM69 545h3v1h-3zM70 544h1v3h-1zM79 545h3v1h-3zM80 544h1v3h-1zM89 545h3v1h-3zM90 544h1v3h-1zM99 545h3v1h-3zM100 544h1v3h-1zM109 543h3v1h-3zM110 542h1v3h-1zM119 542h3v1h-3zM120 541h1v3h-1zM129 544h3v1h-3zM130 543h1v3h-1zM139 544h3v1h-3zM140 543h1v3h-1zM149 545h3v1h-3zM150 544h1v3h-1zM159 545h3v1h-3zM160 544h1v3h-1zM169 545h3v1h-3zM170 544h1v3h-1zM179 545h3v1h-3zM180 544h1v3h-1zM189 545h3v1h-3zM190 544h1v3h-1zM199 545h3v1h-3zM200 544h1v3h-1zM209 545h3v1h-3zM210 544h1v3h-1zM219 545h3v1h-3zM220 544h1v3h-1zM229 545h3v1h-3zM230 544h1v3h-1zM239 545h3v1h-3zM240 544h1v3h-1zM249 545h3v1h-3zM250 544h1v3h-1zM259 545h3v1h-3zM260 544h1v3h-1zM269 545h3v1h-3zM270 544h1v3h-1zM279 545h3v1h-3zM280 544h1v3h-1zM289 545h3v1h-3zM290 544h1v3h-1zM299 545h3v1h-3zM300 544h1v3h-1zM309 545h3v1h-3zM310 544h1v3h-1zM319 545h3v1h-3zM320 544h1v3h-1zM329 545h3v1h-3zM330 544h1v3h-1zM339 545h3v1h-3zM340 544h1v3h-1zM349 545h3v1h-3zM350 544h1v3h-1zM359 545h3v1h-3zM360 544h1v3h-1zM369 545h3v1h-3zM370 544h1v3h-1zM379 545h3v1h-3zM380 544h1v3h-1zM389 545h3v1h-3zM390 544h1v3h-1zM399 545h3v1h-3zM400 544h1v3h-1zM409 545h3v1h-3zM410 544h1v3h-1zM419 545h3v1h-3zM420 544h1v3h-1zM429 545h3v1h-3zM430 544h1v3h-1zM439 545h3v1h-3zM440 544h1v3h-1zM449 545h3v1h-3zM450 544h1v3h-1zM459 544h3v1h-3zM460 543h1v3h-1zM469 545h3v1h-3zM470 544h1v3h-1zM479 543h3v1h-3zM480 542h1v3h-1zM489 545h3v1h-3zM490 544h1v3h-1zM499 544h3v1h-3zM500 543h1v3h-1zM509 545h3v1h-3zM510 544h1v3h-1zM519 544h3v1h-3zM520 543h1v3h-1zM529 545h3v1h-3zM530 544h1v3h-1zM539 545h3v1h-3zM540 544h1v3h-1zM549 544h3v1h-3zM550 543h1v3h-1zM559 545h3v1h-3zM560 544h1v3h-1zM569 545h3v1h-3zM570 544h1v3h-1zM579 543h3v1h-3zM580 542h1v3h-1zM589 536h3v1h-3zM590 535h1v3h-1zM599 516h3v1h-3zM600 515h1v3h-1zM609 487h3v1h-3zM610 486h1v3h-1zM619 541h3v1h-3zM620 540h1v3h-1zM629 545h3v1h-3zM630 544h1v3h-1zM639 545h3v1h-3zM640 544h1v3h-1zM649 545h3v1h-3zM650 544h1v3h-1zM659 544h3v1h-3zM660 543h1v3h-1zM669 543h3v1h-3zM670 542h1v3h-1zM679 545h3v1h-3zM680 544h1v3h-1zM689 545h3v1h-3zM690 544h1v3h-1z"/>
<polyline transform="translate(.5,.5)" points="60,545.0 70,545.0 80,545.0 90,538.4 100,538.4 110,514.1 120,487.8 130,518.1 140,538.4 150,542.4 160,545.0 170,545.0 180,545.0 190,545.0 200,545.0 210,545.0 220,545.0 230,545.0 240,545.0 250,545.0 260,545.0 270,545.0 280,545.0 290,545.0 300,545.0 310,545.0 320,545.0 330,545.0 340,545.0 350,545.0 360,545.0 370,545.0 380,545.0 390,545.0 400,543.1 410,542.7 420,545.0 430,542.9 440,545.0 450,545.0 460,545.0 470,540.8 480,486.4 490,516.2 500,542.6 510,545.0 520,543.1 530,545.0 540,545.0 550,545.0 560,545.0 570,545.0 580,542.7 590,545.0 600,542.6 610,530.3 620,508.5 630,530.3 640,535.5 650,542.6 660,545.0 670,545.0 680,545.0 690,545.0" fill="none" stroke="#508010" stroke-width="1" shape-rendering="crispEdges"/>
<path shape-rendering="crispEdges" fill="#508010" d="M59 545h3v1h-3zM60 544h1v3h-1zM69 545h3v1h-3zM70 544h1v3h-1zM79 545h3v1h-3zM80 544h1v3h-1zM89 538h3v1h-3zM90 537h1v3h-1zM99 538h3v1h-3zM100 537h1v3h-1zM109 514h3v1h-3zM110 513h1v3h-1zM119 488h3v1h-3zM120 487h1v3h-1zM129 518h3v1h-3zM130 517h1v3h-1zM139 538h3v1h-3zM140 537h1v3h-1zM149 542h3v1h-3zM150 541h1v3h-1zM159 545h3v1h-3zM160 544h1v3h-1zM169 545h3v1h-3zM170 544h1v3h-1zM179 545h3v1h-3zM180 544h1v3h-1zM189 545h3v1h-3zM190 544h1v3h-1zM199 545h3v1h-3zM200 544h1v3h-1zM209 545h3v1h-3zM210 544h1v3h-1zM219 545h3v1h-3zM220 544h1v3h-1zM229 545h3v1h-3zM230 544h1v3h-1zM239 545h3v1h-3zM240 544h1v3h-1zM249 545h3v1h-3zM250 544h1v3h-1zM259 545h3v1h-3zM260 544h1v3h-1zM269 545h3v1h-3zM270 544h1v3h-1zM279 545h3v1h-3zM280 544h1v3h-1zM289 545h3v1h-3zM290 544h1v3h-1zM299 545h3v1h-3zM300 544h1v3h-1zM309 545h3v1h-3zM310 544h1v3h-1zM319 545h3v1h-3zM320 544h1v3h-1zM329 545h3v1h-3zM330 544h1v3h-1zM339 545h3v1h-3zM340 544h1v3h-1zM349 545h3v1h-3zM350 544h1v3h-1zM359 545h3v1h-3zM360 544h1v3h-1zM369 545h3v1h-3zM370 544h1v3h-1zM379 545h3v1h-3zM380 544h1v3h-1zM389 545h3v1h-3zM390 544h1v3h-1zM399 543h3v1h-3zM400 542h1v3h-1zM409 543h3v1h-3zM410 542h1v3h-1zM419 545h3v1h-3zM420 544h1v3h-1zM429 543h3v1h-3zM430 542h1v3h-1zM439 545h3v1h-3zM440 544h1v3h-1zM449 545h3v1h-3zM450 544h1v3h-1zM459 545h3v1h-3zM460 544h1v3h-1zM469 541h3v1h-3zM470 540h1v3h-1zM479 486h3v1h-3zM480 485h1v3h-1zM489 516h3v1h-3zM490 515h1v3h-1zM499 543h3v1h-3zM500 542h1v3h-1zM509 545h3v1h-3zM510 544h1v3h-1zM519 543h3v1h-3zM520 542h1v3h-1zM529 545h3v1h-3zM530 544h1v3h-1zM539 545h3v1h-3zM540 544h1v3h-1zM549 545h3v1h-3zM550 544h1v3h-1zM559 545h3v1h-3zM560 544h1v3h-1zM569 545h3v1h-3zM570 544h1v3h-1zM579 543h3v1h-3zM580 542h1v3h-1zM589 545h3v1h-3zM590 544h1v3h-1zM599 543h3v1h-3zM600 542h1v3h-1zM609 530h3v1h-3zM610 529h1v3h-1zM619 508h3v1h-3zM620 507h1v3h-1zM629 530h3v1h-3zM630 529h1v3h-1zM639 536h3v1h-3zM640 535h1v3h-1zM649 543h3v1h-3zM650 542h1v3h-1zM659 545h3v1h-3zM660 544h1v3h-1zM669 545h3v1h-3zM670 544h1v3h-1zM679 545h3v1h-3zM680 544h1v3h-1zM689 545h3v1h-3zM690 544h1v3h-1z"/>
<polyline transform="translate(.5,.5)" points="60,545.0 70,545.0 80,545.0 90,534.3 100,517.3 110,530.3 120,534.3 130,539.7 140,538.4 150,524.9 160,542.4 170,545.0 180,545.0 190,545.0 200,545.0 210,545.0 220,545.0 230,545.0 240,545.0 250,545.0 260,545.0 270,545.0 280,545.0 290,545.0 300,545.0 310,545.0 320,545.0 330,545.0 340,545.0 350,545.0 360,545.0 370,545.0 380,545.0 390,545.0 400,542.8 410,543.3 420,545.0 430,545.0 440,540.8 450,535.5 460,538.0 470,539.1 480,542.6 490,543.7 500,545.0 510,545.0 520,545.0 530,545.0 540,540.8 550,521.5 560,539.1 570,545.0 580,544.2 590,543.1 600,545.0 610,544.0 620,545.0 630,545.0 640,545.0 650,545.0 660,545.0 670,545.0 680,545.0 690,542.5" fill="none" stroke="#1080F0" stroke-width="1" shape-rendering="crispEdges"/>
<path shape-rendering="crispEdges" fill="#1080F0" d="M59 545h3v1h-3zM60 544h1v3h-1zM69 545h3v1h-3zM70 544h1v3h-1zM79 545h3v1h-3zM80 544h1v3h-1zM89 534h3v1h-3zM90 533h1v3h-1zM99 517h3v1h-3zM100 516h1v3h-1zM109 530h3v1h-3zM110 529h1v3h-1zM119 534h3v1h-3zM120 533h1v3h-1zM129 540h3v1h-3zM130 539h1v3h-1zM139 538h3v1h-3zM140 537h1v3h-1zM149 525h3v1h-3zM150 524h1v3h-1zM159 542h3v1h-3zM160 541h1v3h-1zM169 545h3v1h-3zM170 544h1v3h-1zM179 545h3v1h-3zM180 544h1v3h-1zM189 545h3v1h-3zM190 544h1v3h-1zM199 545h3v1h-3zM200 544h1v3h-1zM209 545h3v1h-3zM210 544h1v3h-1zM219 545h3v1h-3zM220 544h1v3h-1zM229 545h3v1h-3zM230 544h1v3h-1zM239 545h3v1h-3zM240 544h1v3h-1zM249 545h3v1h-3zM250 544h1v3h-1zM259 545h3v1h-3zM260 544h1v3h-1zM269 545h3v1h-3zM270 544h1v3h-1zM279 545h3v1h-3zM280 544h1v3h-1zM289 545h3v1h-3zM290 544h1v3h-1zM299 545h3v1h-3zM300 544h1v3h-1zM309 545h3v1h-3zM310 544h1v3h-1zM319 545h3v1h-3zM320 544h1v3h-1zM329 545h3v1h-3zM330 544h1v3h-1zM339 545h3v1h-3zM340 544h1v3h-1zM349 545h3v1h-3zM350 544h1v3h-1zM359 545h3v1h-3zM360 544h1v3h-1zM369 545h3v1h-3zM370 544h1v3h-1zM379 545h3v1h-3zM380 544h1v3h-1zM389 545h3v1h-3zM390 544h1v3h-1zM399 543h3v1h-3zM400 542h1v3h-1zM409 543h3v1h-3zM410 542h1v3h-1zM419 545h3v1h-3zM420 544h1v3h-1zM429 545h3v1h-3zM430 544h1v3h-1zM439 541h3v1h-3zM440 540h1v3h-1zM449 536h3v1h-3zM450 535h1v3h-1zM459 538h3v1h-3zM460 537h1v3h-1zM469 539h3v1h-3zM470 538h1v3h-1zM479 543h3v1h-3zM480 542h1v3h-1zM489 544h3v1h-3zM490 543h1v3h-1zM499 545h3v1h-3zM500 544h1v3h-1zM509 545h3v1h-3zM510 544h1v3h-1zM519 545h3v1h-3zM520 544h1v3h-1zM529 545h3v1h-3zM530 544h1v3h-1zM539 541h3v1h-3zM540 540h1v3h-1zM549 521h3v1h-3zM550 520h1v3h-1zM559 539h3v1h-3zM560 538h1v3h-1zM569 545h3v1h-3zM570 544h1v3h-1zM579 544h3v1h-3zM580 543h1v3h-1zM589 543h3v1h-3zM590 542h1v3h-1zM599 545h3v1h-3zM600 544h1v3h-1zM609 544h3v1h-3zM610 543h1v3h-1zM619 545h3v1h-3zM620 544h1v3h-1zM629 545h3v1h-3zM630 544h1v3h-1zM639 545h3v1h-3zM640 544h1v3h-1zM649 545h3v1h-3zM650 544h1v3h-1zM659 545h3v1h-3zM660 544h1v3h-1zM669 545h3v1h-3zM670 544h1v3h-1zM679 545h3v1h-3zM680 544h1v3h-1zM689 542h3v1h-3zM690 541h1v3h-1z"/>
<polyline transform="translate(.5,.5)" points="60,545.0 70,545.0 80,545.0 90,545.0 100,545.0 110,533.0 120,527.6 130,518.9 140,526.2 150,539.7 160,545.0 170,545.0 180,545.0 190,545.0 200,545.0 210,545.0 220,545.0 230,545.0 240,545.0 250,545.0 260,545.0 270,545.0 280,545.0 290,545.0 300,545.0 310,545.0 320,545.0 330,545.0 340,545.0 350,545.0 360,545.0 370,545.0 380,545.0 390,545.0 400,545.0 410,545.0 420,543.2 430,545.0 440,545.0 450,545.0 460,545.0 470,544.4 480,545.0 490,545.0 500,539.1 510,535.5 520,526.8 530,528.5 540,539.1 550,545.0 560,545.0 570,544.1 580,543.1 590,542.8 600,545.0 610,545.0 620,545.0 630,545.0 640,545.0 650,543.6 660,545.0 670,545.0 680,545.0 690,545.0" fill="none" stroke="#E8D8B0" stroke-width="1" shape-rendering="crispEdges"/>
<path shape-rendering="crispEdges" fill="#E8D8B0" d="M59 545h3v1h-3zM60 544h1v3h-1zM69 545h3v1h-3zM70 544h1v3h-1zM79 545h3v1h-3zM80 544h1v3h-1zM89 545h3v1h-3zM90 544h1v3h-1zM99 545h3v1h-3zM100 544h1v3h-1zM109 533h3v1h-3zM110 532h1v3h-1zM119 528h3v1h-3zM120 527h1v3h-1zM129 519h3v1h-3zM130 518h1v3h-1zM139 526h3v1h-3zM140 525h1v3h-1zM149 540h3v1h-3zM150 539h1v3h-1zM159 545h3v1h-3zM160 544h1v3h-1zM169 545h3v1h-3zM170 544h1v3h-1zM179 545h3v1h-3zM180 544h1v3h-1zM189 545h3v1h-3zM190 544h1v3h-1zM199 545h3v1h-3zM200 544h1v3h-1zM209 545h3v1h-3zM210 544h1v3h-1zM219 545h3v1h-3zM220 544h1v3h-1zM229 545h3v1h-3zM230 544h1v3h-1zM239 545h3v1h-3zM240 544h1v3h-1zM249 545h3v1h-3zM250 544h1v3h-1zM259 545h3v1h-3zM260 544h1v3h-1zM269 545h3v1h-3zM270 544h1v3h-1zM279 545h3v1h-3zM280 544h1v3h-1zM289 545h3v1h-3zM290 544h1v3h-1zM299 545h3v1h-3zM300 544h1v3h-1zM309 545h3v1h-3zM310 544h1v3h-1zM319 545h3v1h-3zM320 544h1v3h-1zM329 545h3v1h-3zM330 544h1v3h-1zM339 545h3v1h-3zM340 544h1v3h-1zM349 545h3v1h-3zM350 544h1v3h-1zM359 545h3v1h-3zM360 544h1v3h-1zM369 545h3v1h-3zM370 544h1v3h-1zM379 545h3v1h-3zM380 544h1v3h-1zM389 545h3v1h-3zM390 544h1v3h-1zM399 545h3v1h-3zM400 544h1v3h-1zM409 545h3v1h-3zM410 544h1v3h-1zM419 543h3v1h-3zM420 542h1v3h-1zM429 545h3v1h-3zM430 544h1v3h-1zM439 545h3v1h-3zM440 544h1v3h-1zM449 545h3v1h-3zM450 544h1v3h-1zM459 545h3v1h-3zM460 544h1v3h-1zM469 544h3v1h-3zM470 543h1v3h-1zM479 545h3v1h-3zM480 544h1v3h-1zM489 545h3v1h-3zM490 544h1v3h-1zM499 539h3v1h-3zM500 538h1v3h-1zM509 536h3v1h-3zM510 535h1v3h-1zM519 527h3v1h-3zM520 526h1v3h-1zM529 529h3v1h-3zM530 528h1v3h-1zM539 539h3v1h-3zM540 538h1v3h-1zM549 545h3v1h-3zM550 544h1v3h-1zM559 545h3v1h-3zM560 544h1v3h-1zM569 544h3v1h-3zM570 543h1v3h-1zM579 543h3v1h-3zM580 542h1v3h-1zM589 543h3v1h-3zM590 542h1v3h-1zM599 545h3v1h-3zM600 544h1v3h-1zM609 545h3v1h-3zM610 544h1v3h-1zM619 545h3v1h-3zM620 544h1v3h-1zM629 545h3v1h-3zM630 544h1v3h-1zM639 545h3v1h-3zM640 544h1v3h-1zM649 544h3v1h-3zM650 543h1v3h-1zM659 545h3v1h-3zM660 544h1v3h-1zM669 545h3v1h-3zM670 544h1v3h-1zM679 545h3v1h-3zM680 544h1v3h-1zM689 545h3v1h-3zM690 544h1v3h-1z"/>
<polyline transform="translate(.5,.5)" points="60,545.0 70,545.0 80,541.5 90,545.0 100,541.1 110,545.0 120,545.0 130,545.0 140,545.0 150,545.0 160,543.8 170,545.0 180,545.0 190,545.0 200,545.0 210,545.0 220,545.0 230,545.0 240,545.0 250,545.0 260,545.0 270,545.0 280,545.0 290,545.0 300,545.0 310,545.0 320,545.0 330,545.0 340,545.0 350,545.0 360,545.0 370,545.0 380,545.0 390,545.0 400,543.2 410,545.0 420,545.0 430,544.5 440,545.0 450,543.7 460,544.1 470,545.0 480,545.0 490,545.0 500,545.0 510,545.0 520,545.0 530,545.0 540,542.6 550,544.4 560,542.4 570,545.0 580,545.0 590,545.0 600,545.0 610,542.7 620,545.0 630,545.0 640,543.1 650,545.0 660,545.0 670,545.0 680,545.0 690,545.0" fill="none" stroke="#4090C0" stroke-width="1" shape-rendering="crispEdges"/>
<path shape-rendering="crispEdges" fill="#4090C0" d="M59 545h3v1h-3zM60 544h1v3h-1zM69 545h3v1h-3zM70 544h1v3h-1zM79 542h3v1h-3zM80 541h1v3h-1zM89 545h3v1h-3zM90 544h1v3h-1zM99 541h3v1h-3zM100 540h1v3h-1zM109 545h3v1h-3zM110 544h1v3h-1zM119 545h3v1h-3zM120 544h1v3h-1zM129 545h3v1h-3zM130 544h1v3h-1zM139 545h3v1h-3zM140 544h1v3h-1zM149 545h3v1h-3zM150 544h1v3h-1zM159 544h3v1h-3zM160 543h1v3h-1zM169 545h3v1h-3zM170 544h1v3h-1zM179 545h3v1h-3zM180 544h1v3h-1zM189 545h3v1h-3zM190 544h1v3h-1zM199 545h3v1h-3zM200 544h1v3h-1zM209 545h3v1h-3zM210 544h1v3h-1zM219 545h3v1h-3zM220 544h1v3h-1zM229 545h3v1h-3zM230 544h1v3h-1zM239 545h3v1h-3zM240 544h1v3h-1zM249 545h3v1h-3zM250 544h1v3h-1zM259 545h3v1h-3zM260 544h1v3h-1zM269 545h3v1h-3zM270 544h1v3h-1zM279 545h3v1h-3zM280 544h1v3h-1zM289 545h3v1h-3zM290 544h1v3h-1zM299 545h3v1h-3zM300 544h1v3h-1zM309 545h3v1h-3zM310 544h1v3h-1zM319 545h3v1h-3zM320 544h1v3h-1zM329 545h3v1h-3zM330 544h1v3h-1zM339 545h3v1h-3zM340 544h1v3h-1zM349 545h3v1h-3zM350 544h1v3h-1zM359 545h3v1h-3zM360 544h1v3h-1zM369 545h3v1h-3zM370 544h1v3h-1zM379 545h3v1h-3zM380 544h1v3h-1zM389 545h3v1h-3zM390 544h1v3h-1zM399 543h3v1h-3zM400 542h1v3h-1zM409 545h3v1h-3zM410 544h1v3h-1zM419 545h3v1h-3zM420 544h1v3h-1zM429 544h3v1h-3zM430 543h1v3h-1zM439 545h3v1h-3zM440 544h1v3h-1zM449 544h3v1h-3zM450 543h1v3h-1zM459 544h3v1h-3zM460 543h1v3h-1zM469 545h3v1h-3zM470 544h1v3h-1zM479 545h3v1h-3zM480 544h1v3h-1zM489 545h3v1h-3zM490 544h1v3h-1zM499 545h3v1h-3zM500 544h1v3h-1zM509 545h3v1h-3zM510 544h1v3h-1zM519 545h3v1h-3zM520 544h1v3h-1zM529 545h3v1h-3zM530 544h1v3h-1zM539 543h3v1h-3zM540 542h1v3h-1zM549 544h3v1h-3zM550 543h1v3h-1zM559 542h3v1h-3zM560 541h1v3h-1zM569 545h3v1h-3zM570 544h1v3h-1zM579 545h3v1h-3zM580 544h1v3h-1zM589 545h3v1h-3zM590 544h1v3h-1zM599 545h3v1h-3zM600 544h1v3h-1zM609 543h3v1h-3zM610 542h1v3h-1zM619 545h3v1h-3zM620 544h1v3h-1zM629 545h3v1h-3zM630 544h1v3h-1zM639 543h3v1h-3zM640 542h1v3h-1zM649 545h3v1h-3zM650 544h1v3h-1zM659 545h3v1h-3zM660 544h1v3h-1zM669 545h3v1h-3zM670 544h1v3h-1zM679 545h3v1h-3zM680 544h1v3h-1zM689 545h3v1h-3zM690 544h1v3h-1z"/>
<polyline transform="translate(.5,.5)" points="60,545.0 70,545.0 80,545.0 90,545.0 100,545.0 110,541.1 120,545.0 130,545.0 140,545.0 150,545.0 160,545.0 170,545.0 180,545.0 190,545.0 200,545.0 210,545.0 220,545.0 230,545.0 240,545.0 250,545.0 260,545.0 270,545.0 280,545.0 290,545.0 300,545.0 310,545.0 320,545.0 330,545.0 340,545.0 350,545.0 360,545.0 370,545.0 380,545.0 390,545.0 400,545.0 410,542.3 420,545.0 430,545.0 440,543.9 450,545.0 460,542.1 470,545.0 480,545.0 490,542.9 500,545.0 510,545.0 520,545.0 530,543.4 540,545.0 550,535.5 560,523.9 570,535.5 580,535.5 590,523.2 600,535.5 610,544.2 620,545.0 630,543.0 640,545.0 650,545.0 660,545.0 670,542.3 680,545.0 690,545.0" fill="none" stroke="#E8A858" stroke-width="1" shape-rendering="crispEdges"/>
<path shape-rendering="crispEdges" fill="#E8A858" d="M59 545h3v1h-3zM60 544h1v3h-1zM69 545h3v1h-3zM70 544h1v3h-1zM79 545h3v1h-3zM80 544h1v3h-1zM89 545h3v1h-3zM90 544h1v3h-1zM99 545h3v1h-3zM100 544h1v3h-1zM109 541h3v1h-3zM110 540h1v3h-1zM119 545h3v1h-3zM120 544h1v3h-1zM129 545h3v1h-3zM130 544h1v3h-1zM139 545h3v1h-3zM140 544h1v3h-1zM149 545h3v1h-3zM150 544h1v3h-1zM159 545h3v1h-3zM160 544h1v3h-1zM169 545h3v1h-3zM170 544h1v3h-1zM179 545h3v1h-3zM180 544h1v3h-1zM189 545h3v1h-3zM190 544h1v3h-1zM199 545h3v1h-3zM200 544h1v3h-1zM209 545h3v1h-3zM210 544h1v3h-1zM219 545h3v1h-3zM220 544h1v3h-1zM229 545h3v1h-3zM230 544h1v3h-1zM239 545h3v1h-3zM240 544h1v3h-1zM249 545h3v1h-3zM250 544h1v3h-1zM259 545h3v1h-3zM260 544h1v3h-1zM269 545h3v1h-3zM270 544h1v3h-1zM279 545h3v1h-3zM280 544h1v3h-1zM289 545h3v1h-3zM290 544h1v3h-1zM299 545h3v1h-3zM300 544h1v3h-1zM309 545h3v1h-3zM310 544h1v3h-1zM319 545h3v1h-3zM320 544h1v3h-1zM329 545h3v1h-3zM330 544h1v3h-1zM339 545h3v1h-3zM340 544h1v3h-1zM349 545h3v1h-3zM350 544h1v3h-1zM359 545h3v1h-3zM360 544h1v3h-1zM369 545h3v1h-3zM370 544h1v3h-1zM379 545h3v1h-3zM380 544h1v3h-1zM389 545h3v1h-3zM390 544h1v3h-1zM399 545h3v1h-3zM400 544h1v3h-1zM409 542h3v1h-3zM410 541h1v3h-1zM419 545h3v1h-3zM420 544h1v3h-1zM429 545h3v1h-3zM430 544h1v3h-1zM439 544h3v1h-3zM440 543h1v3h-1zM449 545h3v1h-3zM450 544h1v3h-1zM459 542h3v1h-3zM460 541h1v3h-1zM469 545h3v1h-3zM470 544h1v3h-1zM479 545h3v1h-3zM480 544h1v3h-1zM489 543h3v1h-3zM490 542h1v3h-1zM499 545h3v1h-3zM500 544h1v3h-1zM509 545h3v1h-3zM510 544h1v3h-1zM519 545h3v1h-3zM520 544h1v3h-1zM529 543h3v1h-3zM530 542h1v3h-1zM539 545h3v1h-3zM540 544h1v3h-1zM549 536h3v1h-3zM550 535h1v3h-1zM559 524h3v1h-3zM560 523h1v3h-1zM569 536h3v1h-3zM570 535h1v3h-1zM579 536h3v1h-3zM580 535h1v3h-1zM589 523h3v1h-3zM590 522h1v3h-1zM599 536h3v1h-3zM600 535h1v3h-1zM609 544h3v1h-3zM610 543h1v3h-1zM619 545h3v1h-3zM620 544h1v3h-1zM629 543h3v1h-3zM630 542h1v3h-1zM639 545h3v1h-3zM640 544h1v3h-1zM649 545h3v1h-3zM650 544h1v3h-1zM659 545h3v1h-3zM660 544h1v3h-1zM669 542h3v1h-3zM670 541h1v3h-1zM679 545h3v1h-3zM680 544h1v3h-1zM689 545h3v1h-3zM690 544h1v3h-1z"/>
<polyline transform="translate(.5,.5)" points="60,545.0 70,545.0 80,541.9 90,533.0 100,538.4 110,535.7 120,533.0 130,539.7 140,545.0 150,545.0 160,545.0 170,545.0 180,545.0 190,545.0 200,545.0 210,545.0 220,545.0 230,545.0 240,545.0 250,545.0 260,545.0 270,545.0 280,545.0 290,545.0 300,545.0 310,545.0 320,545.0 330,545.0 340,545.0 350,545.0 360,545.0 370,545.0 380,545.0 390,545.0 400,545.0 410,545.0 420,545.0 430,545.0 440,545.0 450,543.5 460,545.0 470,545.0 480,543.3 490,545.0 500,545.0 510,542.9 520,545.0 530,545.0 540,545.0 550,545.0 560,543.8 570,545.0 580,542.1 590,545.0 600,545.0 610,544.5 620,545.0 630,545.0 640,545.0 650,545.0 660,545.0 670,545.0 680,545.0 690,542.0" fill="none" stroke="#5C4A18" stroke-width="1" shape-rendering="crispEdges"/>
<path shape-rendering="crispEdges" fill="#5C4A18" d="M59 545h3v1h-3zM60 544h1v3h-1zM69 545h3v1h-3zM70 544h1v3h-1zM79 542h3v1h-3zM80 541h1v3h-1zM89 533h3v1h-3zM90 532h1v3h-1zM99 538h3v1h-3zM100 537h1v3h-1zM109 536h3v1h-3zM110 535h1v3h-1zM119 533h3v1h-3zM120 532h1v3h-1zM129 540h3v1h-3zM130 539h1v3h-1zM139 545h3v1h-3zM140 544h1v3h-1zM149 545h3v1h-3zM150 544h1v3h-1zM159 545h3v1h-3zM160 544h1v3h-1zM169 545h3v1h-3zM170 544h1v3h-1zM179 545h3v1h-3zM180 544h1v3h-1zM189 545h3v1h-3zM190 544h1v3h-1zM199 545h3v1h-3zM200 544h1v3h-1zM209 545h3v1h-3zM210 544h1v3h-1zM219 545h3v1h-3zM220 544h1v3h-1zM229 545h3v1h-3zM230 544h1v3h-1zM239 545h3v1h-3zM240 544h1v3h-1zM249 545h3v1h-3zM250 544h1v3h-1zM259 545h3v1h-3zM260 544h1v3h-1zM269 545h3v1h-3zM270 544h1v3h-1zM279 545h3v1h-3zM280 544h1v3h-1zM289 545h3v1h-3zM290 544h1v3h-1zM299 545h3v1h-3zM300 544h1v3h-1zM309 545h3v1h-3zM310 544h1v3h-1zM319 545h3v1h-3zM320 544h1v3h-1zM329 545h3v1h-3zM330 544h1v3h-1zM339 545h3v1h-3zM340 544h1v3h-1zM349 545h3v1h-3zM350 544h1v3h-1zM359 545h3v1h-3zM360 544h1v3h-1zM369 545h3v1h-3zM370 544h1v3h-1zM379 545h3v1h-3zM380 544h1v3h-1zM389 545h3v1h-3zM390 544h1v3h-1zM399 545h3v1h-3zM400 544h1v3h-1zM409 545h3v1h-3zM410 544h1v3h-1zM419 545h3v1h-3zM420 544h1v3h-1zM429 545h3v1h-3zM430 544h1v3h-1zM439 545h3v1h-3zM440 544h1v3h-1zM449 543h3v1h-3zM450 542h1v3h-1zM459 545h3v1h-3zM460 544h1v3h-1zM469 545h3v1h-3zM470 544h1v3h-1zM479 543h3v1h-3zM480 542h1v3h-1zM489 545h3v1h-3zM490 544h1v3h-1zM499 545h3v1h-3zM500 544h1v3h-1zM509 543h3v1h-3zM510 542h1v3h-1zM519 545h3v1h-3zM520 544h1v3h-1zM529 545h3v1h-3zM530 544h1v3h-1zM539 545h3v1h-3zM540 544h1v3h-1zM549 545h3v1h-3zM550 544h1v3h-1zM559 544h3v1h-3zM560 543h1v3h-1zM569 545h3v1h-3zM570 544h1v3h-1zM579 542h3v1h-3zM580 541h1v3h-1zM589 545h3v1h-3zM590 544h1v3h-1zM599 545h3v1h-3zM600 544h1v3h-1zM609 544h3v1h-3zM610 543h1v3h-1zM619 545h3v1h-3zM620 544h1v3h-1zM629 545h3v1h-3zM630 544h1v3h-1zM639 545h3v1h-3zM640 544h1v3h-1zM649 545h3v1h-3zM650 544h1v3h-1zM659 545h3v1h-3zM660 544h1v3h-1zM669 545h3v1h-3zM670 544h1v3h-1zM679 545h3v1h-3zM680 544h1v3h-1zM689 542h3v1h-3zM690 541h1v3h-1z"/>
<polyline transform="translate(.5,.5)" points="60,545.0 70,545.0 80,545.0 90,545.0 100,545.0 110,545.0 120,545.0 130,545.0 140,545.0 150,545.0 160,545.0 170,545.0 180,545.0 190,545.0 200,545.0 210,545.0 220,545.0 230,545.0 240,545.0 250,545.0 260,545.0 270,545.0 280,545.0 290,545.0 300,545.0 310,545.0 320,545.0 330,545.0 340,545.0 350,545.0 360,545.0 370,545.0 380,545.0 390,545.0 400,545.0 410,545.0 420,545.0 430,543.5 440,545.0 450,545.0 460,545.0 470,544.0 480,545.0 490,545.0 500,545.0 510,542.6 520,545.0 530,542.6 540,530.3 550,532.0 560,532.0 570,518.0 580,520.4 590,509.9 600,537.3 610,542.6 620,545.0 630,542.7 640,545.0 650,545.0 660,545.0 670,545.0 680,545.0 690,545.0" fill="none" stroke="#F86820" stroke-width="1" shape-rendering="crispEdges"/>
<path shape-rendering="crispEdges" fill="#F86820" d="M59 545h3v1h-3zM60 544h1v3h-1zM69 545h3v1h-3zM70 544h1v3h-1zM79 545h3v1h-3zM80 544h1v3h-1zM89 545h3v1h-3zM90 544h1v3h-1zM99 545h3v1h-3zM100 544h1v3h-1zM109 545h3v1h-3zM110 544h1v3h-1zM119 545h3v1h-3zM120 544h1v3h-1zM129 545h3v1h-3zM130 544h1v3h-1zM139 545h3v1h-3zM140 544h1v3h-1zM149 545h3v1h-3zM150 544h1v3h-1zM159 545h3v1h-3zM160 544h1v3h-1zM169 545h3v1h-3zM170 544h1v3h-1zM179 545h3v1h-3zM180 544h1v3h-1zM189 545h3v1h-3zM190 544h1v3h-1zM199 545h3v1h-3zM200 544h1v3h-1zM209 545h3v1h-3zM210 544h1v3h-1zM219 545h3v1h-3zM220 544h1v3h-1zM229 545h3v1h-3zM230 544h1v3h-1zM239 545h3v1h-3zM240 544h1v3h-1zM249 545h3v1h-3zM250 544h1v3h-1zM259 545h3v1h-3zM260 544h1v3h-1zM269 545h3v1h-3zM270 544h1v3h-1zM279 545h3v1h-3zM280 544h1v3h-1zM289 545h3v1h-3zM290 544h1v3h-1zM299 545h3v1h-3zM300 544h1v3h-1zM309 545h3v1h-3zM310 544h1v3h-1zM319 545h3v1h-3zM320 544h1v3h-1zM329 545h3v1h-3zM330 544h1v3h-1zM339 545h3v1h-3zM340 544h1v3h-1zM349 545h3v1h-3zM350 544h1v3h-1zM359 545h3v1h-3zM360 544h1v3h-1zM369 545h3v1h-3zM370 544h1v3h-1zM379 545h3v1h-3zM380 544h1v3h-1zM389 545h3v1h-3zM390 544h1v3h-1zM399 545h3v1h-3zM400 544h1v3h-1zM409 545h3v1h-3zM410 544h1v3h-1zM419 545h3v1h-3zM420 544h1v3h-1zM429 543h3v1h-3zM430 542h1v3h-1zM439 545h3v1h-3zM440 544h1v3h-1zM449 545h3v1h-3zM450 544h1v3h-1zM459 545h3v1h-3zM460 544h1v3h-1zM469 544h3v1h-3zM470 543h1v3h-1zM479 545h3v1h-3zM480 544h1v3h-1zM489 545h3v1h-3zM490 544h1v3h-1zM499 545h3v1h-3zM500 544h1v3h-1zM509 543h3v1h-3zM510 542h1v3h-1zM519 545h3v1h-3zM520 544h1v3h-1zM529 543h3v1h-3zM530 542h1v3h-1zM539 530h3v1h-3zM540 529h1v3h-1zM549 532h3v1h-3zM550 531h1v3h-1zM559 532h3v1h-3zM560 531h1v3h-1zM569 518h3v1h-3zM570 517h1v3h-1zM579 520h3v1h-3zM580 519h1v3h-1zM589 510h3v1h-3zM590 509h1v3h-1zM599 537h3v1h-3zM600 536h1v3h-1zM609 543h3v1h-3zM610 542h1v3h-1zM619 545h3v1h-3zM620 544h1v3h-1zM629 543h3v1h-3zM630 542h1v3h-1zM639 545h3v1h-3zM640 544h1v3h-1zM649 545h3v1h-3zM650 544h1v3h-1zM659 545h3v1h-3zM660 544h1v3h-1zM669 545h3v1h-3zM670 544h1v3h-1zM679 545h3v1h-3zM680 544h1v3h-1zM689 545h3v1h-3zM690 544h1v3h-1z"/>
<polyline transform="translate(.5,.5)" points="60,545.0 70,545.0 80,545.0 90,542.1 100,545.0 110,530.3 120,537.0 130,523.5 140,538.4 150,542.8 160,545.0 170,545.0 180,545.0 190,545.0 200,545.0 210,545.0 220,545.0 230,545.0 240,545.0 250,545.0 260,545.0 270,545.0 280,545.0 290,545.0 300,545.0 310,545.0 320,545.0 330,545.0 340,545.0 350,545.0 360,545.0 370,545.0 380,545.0 390,545.0 400,545.0 410,545.0 420,545.0 430,545.0 440,543.7 450,545.0 460,545.0 470,545.0 480,544.3 490,545.0 500,545.0 510,545.0 520,543.4 530,545.0 540,545.0 550,545.0 560,545.0 570,545.0 580,544.3 590,545.0 600,545.0 610,542.5 620,543.9 630,542.3 640,545.0 650,544.3 660,545.0 670,542.7 680,545.0 690,545.0" fill="none" stroke="#C8B870" stroke-width="1" shape-rendering="crispEdges"/>
<path shape-rendering="crispEdges" fill="#C8B870" d="M59 545h3v1h-3zM60 544h1v3h-1zM69 545h3v1h-3zM70 544h1v3h-1zM79 545h3v1h-3zM80 544h1v3h-1zM89 542h3v1h-3zM90 541h1v3h-1zM99 545h3v1h-3zM100 544h1v3h-1zM109 530h3v1h-3zM110 529h1v3h-1zM119 537h3v1h-3zM120 536h1v3h-1zM129 524h3v1h-3zM130 523h1v3h-1zM139 538h3v1h-3zM140 537h1v3h-1zM149 543h3v1h-3zM150 542h1v3h-1zM159 545h3v1h-3zM160 544h1v3h-1zM169 545h3v1h-3zM170 544h1v3h-1zM179 545h3v1h-3zM180 544h1v3h-1zM189 545h3v1h-3zM190 544h1v3h-1zM199 545h3v1h-3zM200 544h1v3h-1zM209 545h3v1h-3zM210 544h1v3h-1zM219 545h3v1h-3zM220 544h1v3h-1zM229 545h3v1h-3zM230 544h1v3h-1zM239 545h3v1h-3zM240 544h1v3h-1zM249 545h3v1h-3zM250 544h1v3h-1zM259 545h3v1h-3zM260 544h1v3h-1zM269 545h3v1h-3zM270 544h1v3h-1zM279 545h3v1h-3zM280 544h1v3h-1zM289 545h3v1h-3zM290 544h1v3h-1zM299 545h3v1h-3zM300 544h1v3h-1zM309 545h3v1h-3zM310 544h1v3h-1zM319 545h3v1h-3zM320 544h1v3h-1zM329 545h3v1h-3zM330 544h1v3h-1zM339 545h3v1h-3zM340 544h1v3h-1zM349 545h3v1h-3zM350 544h1v3h-1zM359 545h3v1h-3zM360 544h1v3h-1zM369 545h3v1h-3zM370 544h1v3h-1zM379 545h3v1h-3zM380 544h1v3h-1zM389 545h3v1h-3zM390 544h1v3h-1zM399 545h3v1h-3zM400 544h1v3h-1zM409 545h3v1h-3zM410 544h1v3h-1zM419 545h3v1h-3zM420 544h1v3h-1zM429 545h3v1h-3zM430 544h1v3h-1zM439 544h3v1h-3zM440 543h1v3h-1zM449 545h3v1h-3zM450 544h1v3h-1zM459 545h3v1h-3zM460 544h1v3h-1zM469 545h3v1h-3zM470 544h1v3h-1zM479 544h3v1h-3zM480 543h1v3h-1zM489 545h3v1h-3zM490 544h1v3h-1zM499 545h3v1h-3zM500 544h1v3h-1zM509 545h3v1h-3zM510 544h1v3h-1zM519 543h3v1h-3zM520 542h1v3h-1zM529 545h3v1h-3zM530 544h1v3h-1zM539 545h3v1h-3zM540 544h1v3h-1zM549 545h3v1h-3zM550 544h1v3h-1zM559 545h3v1h-3zM560 544h1v3h-1zM569 545h3v1h-3zM570 544h1v3h-1zM579 544h3v1h-3zM580 543h1v3h-1zM589 545h3v1h-3zM590 544h1v3h-1zM599 545h3v1h-3zM600 544h1v3h-1zM609 542h3v1h-3zM610 541h1v3h-1zM619 544h3v1h-3zM620 543h1v3h-1zM629 542h3v1h-3zM630 541h1v3h-1zM639 545h3v1h-3zM640 544h1v3h-1zM649 544h3v1h-3zM650 543h1v3h-1zM659 545h3v1h-3zM660 544h1v3h-1zM669 543h3v1h-3zM670 542h1v3h-1zM679 545h3v1h-3zM680 544h1v3h-1zM689 545h3v1h-3zM690 544h1v3h-1z"/>
<polyline transform="translate(.5,.5)" points="60,545.0 70,545.0 80,545.0 90,537.0 100,539.7 110,538.4 120,541.1 130,545.0 140,545.0 150,538.4 160,545.0 170,545.0 180,545.0 190,545.0 200,545.0 210,545.0 220,545.0 230,545.0 240,545.0 250,545.0 260,545.0 270,545.0 280,545.0 290,545.0 300,545.0 310,545.0 320,545.0 330,545.0 340,545.0 350,545.0 360,545.0 370,545.0 380,545.0 390,545.0 400,545.0 410,545.0 420,542.5 430,545.0 440,545.0 450,545.0 460,545.0 470,545.0 480,545.0 490,543.7 500,543.9 510,544.5 520,545.0 530,543.3 540,545.0 550,545.0 560,542.7 570,542.5 580,545.0 590,545.0 600,545.0 610,545.0 620,542.3 630,544.3 640,544.4 650,545.0 660,543.1 670,545.0 680,545.0 690,545.0" fill="none" stroke="#10D860" stroke-width="1" shape-rendering="crispEdges"/>
<path shape-rendering="crispEdges" fill="#10D860" d="M59 545h3v1h-3zM60 544h1v3h-1zM69 545h3v1h-3zM70 544h1v3h-1zM79 545h3v1h-3zM80 544h1v3h-1zM89 537h3v1h-3zM90 536h1v3h-1zM99 540h3v1h-3zM100 539h1v3h-1zM109 538h3v1h-3zM110 537h1v3h-1zM119 541h3v1h-3zM120 540h1v3h-1zM129 545h3v1h-3zM130 544h1v3h-1zM139 545h3v1h-3zM140 544h1v3h-1zM149 538h3v1h-3zM150 537h1v3h-1zM159 545h3v1h-3zM160 544h1v3h-1zM169 545h3v1h-3zM170 544h1v3h-1zM179 545h3v1h-3zM180 544h1v3h-1zM189 545h3v1h-3zM190 544h1v3h-1zM199 545h3v1h-3zM200 544h1v3h-1zM209 545h3v1h-3zM210 544h1v3h-1zM219 545h3v1h-3zM220 544h1v3h-1zM229 545h3v1h-3zM230 544h1v3h-1zM239 545h3v1h-3zM240 544h1v3h-1zM249 545h3v1h-3zM250 544h1v3h-1zM259 545h3v1h-3zM260 544h1v3h-1zM269 545h3v1h-3zM270 544h1v3h-1zM279 545h3v1h-3zM280 544h1v3h-1zM289 545h3v1h-3zM290 544h1v3h-1zM299 545h3v1h-3zM300 544h1v3h-1zM309 545h3v1h-3zM310 544h1v3h-1zM319 545h3v1h-3zM320 544h1v3h-1zM329 545h3v1h-3zM330 544h1v3h-1zM339 545h3v1h-3zM340 544h1v3h-1zM349 545h3v1h-3zM350 544h1v3h-1zM359 545h3v1h-3zM360 544h1v3h-1zM369 545h3v1h-3zM370 544h1v3h-1zM379 545h3v1h-3zM380 544h1v3h-1zM389 545h3v1h-3zM390 544h1v3h-1zM399 545h3v1h-3zM400 544h1v3h-1zM409 545h3v1h-3zM410 544h1v3h-1zM419 543h3v1h-3zM420 542h1v3h-1zM429 545h3v1h-3zM430 544h1v3h-1zM439 545h3v1h-3zM440 544h1v3h-1zM449 545h3v1h-3zM450 544h1v3h-1zM459 545h3v1h-3zM460 544h1v3h-1zM469 545h3v1h-3zM470 544h1v3h-1zM479 545h3v1h-3zM480 544h1v3h-1zM489 544h3v1h-3zM490 543h1v3h-1zM499 544h3v1h-3zM500 543h1v3h-1zM509 544h3v1h-3zM510 543h1v3h-1zM519 545h3v1h-3zM520 544h1v3h-1zM529 543h3v1h-3zM530 542h1v3h-1zM539 545h3v1h-3zM540 544h1v3h-1zM549 545h3v1h-3zM550 544h1v3h-1zM559 543h3v1h-3zM560 542h1v3h-1zM569 542h3v1h-3zM570 541h1v3h-1zM579 545h3v1h-3zM580 544h1v3h-1zM589 545h3v1h-3zM590 544h1v3h-1zM599 545h3v1h-3zM600 544h1v3h-1zM609 545h3v1h-3zM610 544h1v3h-1zM619 542h3v1h-3zM620 541h1v3h-1zM629 544h3v1h-3zM630 543h1v3h-1zM639 544h3v1h-3zM640 543h1v3h-1zM649 545h3v1h-3zM650 544h1v3h-1zM659 543h3v1h-3zM660 542h1v3h-1zM669 545h3v1h-3zM670 544h1v3h-1zM679 545h3v1h-3zM680 544h1v3h-1zM689 545h3v1h-3zM690 544h1v3h-1z"/>
<polyline transform="translate(.5,.5)" points="60,545.0 70,545.0 80,545.0 90,545.0 100,545.0 110,544.4 120,545.0 130,545.0 140,545.0 150,545.0 160,545.0 170,545.0 180,545.0 190,545.0 200,545.0 210,545.0 220,545.0 230,545.0 240,545.0 250,545.0 260,545.0 270,545.0 280,545.0 290,545.0 300,545.0 310,545.0 320,545.0 330,545.0 340,545.0 350,545.0 360,545.0 370,545.0 380,545.0 390,545.0 400,545.0 410,545.0 420,543.1 430,545.0 440,545.0 450,545.0 460,544.0 470,542.7 480,545.0 490,545.0 500,545.0 510,545.0 520,545.0 530,545.0 540,542.0 550,545.0 560,545.0 570,543.4 580,545.0 590,539.1 600,532.0 610,535.5 620,530.3 630,539.1 640,542.4 650,543.9 660,545.0 670,543.8 680,545.0 690,545.0" fill="none" stroke="#204060" stroke-width="1" shape-rendering="crispEdges"/>
<path shape-rendering="crispEdges" fill="#204060" d="M59 545h3v1h-3zM60 544h1v3h-1zM69 545h3v1h-3zM70 544h1v3h-1zM79 545h3v1h-3zM80 544h1v3h-1zM89 545h3v1h-3zM90 544h1v3h-1zM99 545h3v1h-3zM100 544h1v3h-1zM109 544h3v1h-3zM110 543h1v3h-1zM119 545h3v1h-3zM120 544h1v3h-1zM129 545h3v1h-3zM130 544h1v3h-1zM139 545h3v1h-3zM140 544h1v3h-1zM149 545h3v1h-3zM150 544h1v3h-1zM159 545h3v1h-3zM160 544h1v3h-1zM169 545h3v1h-3zM170 544h1v3h-1zM179 545h3v1h-3zM180 544h1v3h-1zM189 545h3v1h-3zM190 544h1v3h-1zM199 545h3v1h-3zM200 544h1v3h-1zM209 545h3v1h-3zM210 544h1v3h-1zM219 545h3v1h-3zM220 544h1v3h-1zM229 545h3v1h-3zM230 544h1v3h-1zM239 545h3v1h-3zM240 544h1v3h-1zM249 545h3v1h-3zM250 544h1v3h-1zM259 545h3v1h-3zM260 544h1v3h-1zM269 545h3v1h-3zM270 544h1v3h-1zM279 545h3v1h-3zM280 544h1v3h-1zM289 545h3v1h-3zM290 544h1v3h-1zM299 545h3v1h-3zM300 544h1v3h-1zM309 545h3v1h-3zM310 544h1v3h-1zM319 545h3v1h-3zM320 544h1v3h-1zM329 545h3v1h-3zM330 544h1v3h-1zM339 545h3v1h-3zM340 544h1v3h-1zM349 545h3v1h-3zM350 544h1v3h-1zM359 545h3v1h-3zM360 544h1v3h-1zM369 545h3v1h-3zM370 544h1v3h-1zM379 545h3v1h-3zM380 544h1v3h-1zM389 545h3v1h-3zM390 544h1v3h-1zM399 545h3v1h-3zM400 544h1v3h-1zM409 545h3v1h-3zM410 544h1v3h-1zM419 543h3v1h-3zM420 542h1v3h-1zM429 545h3v1h-3zM430 544h1v3h-1zM439 545h3v1h-3zM440 544h1v3h-1zM449 545h3v1h-3zM450 544h1v3h-1zM459 544h3v1h-3zM460 543h1v3h-1zM469 543h3v1h-3zM470 542h1v3h-1zM479 545h3v1h-3zM480 544h1v3h-1zM489 545h3v1h-3zM490 544h1v3h-1zM499 545h3v1h-3zM500 544h1v3h-1zM509 545h3v1h-3zM510 544h1v3h-1zM519 545h3v1h-3zM520 544h1v3h-1zM529 545h3v1h-3zM530 544h1v3h-1zM539 542h3v1h-3zM540 541h1v3h-1zM549 545h3v1h-3zM550 544h1v3h-1zM559 545h3v1h-3zM560 544h1v3h-1zM569 543h3v1h-3zM570 542h1v3h-1zM579 545h3v1h-3zM580 544h1v3h-1zM589 539h3v1h-3zM590 538h1v3h-1zM599 532h3v1h-3zM600 531h1v3h-1zM609 536h3v1h-3zM610 535h1v3h-1zM619 530h3v1h-3zM620 529h1v3h-1zM629 539h3v1h-3zM630 538h1v3h-1zM639 542h3v1h-3zM640 541h1v3h-1zM649 544h3v1h-3zM650 543h1v3h-1zM659 545h3v1h-3zM660 544h1v3h-1zM669 544h3v1h-3zM670 543h1v3h-1zM679 545h3v1h-3zM680 544h1v3h-1zM689 545h3v1h-3zM690 544h1v3h-1z"/>
<polyline transform="translate(.5,.5)" points="60,545.0 70,545.0 80,545.0 90,531.6 100,535.7 110,526.2 120,532.4 130,538.4 140,544.3 150,545.0 160,545.0 170,545.0 180,545.0 190,545.0 200,545.0 210,545.0 220,545.0 230,545.0 240,545.0 250,539.8 260,545.0 270,540.1 280,545.0 290,545.0 300,545.0 310,545.0 320,545.0 330,545.0 340,545.0 350,545.0 360,545.0 370,545.0 380,545.0 390,545.0 400,542.2 410,545.0 420,545.0 430,545.0 440,545.0 450,545.0 460,545.0 470,542.7 480,545.0 490,544.4 500,545.0 510,543.8 520,545.0 530,545.0 540,544.2 550,543.5 560,545.0 570,543.2 580,545.0 590,543.3 600,544.0 610,545.0 620,545.0 630,545.0 640,545.0 650,545.0 660,545.0 670,545.0 680,545.0 690,545.0" fill="none" stroke="#707880" stroke-width="1" shape-rendering="crispEdges"/>
<path shape-rendering="crispEdges" fill="#707880" d="M59 545h3v1h-3zM60 544h1v3h-1zM69 545h3v1h-3zM70 544h1v3h-1zM79 545h3v1h-3zM80 544h1v3h-1zM89 532h3v1h-3zM90 531h1v3h-1zM99 536h3v1h-3zM100 535h1v3h-1zM109 526h3v1h-3zM110 525h1v3h-1zM119 532h3v1h-3zM120 531h1v3h-1zM129 538h3v1h-3zM130 537h1v3h-1zM139 544h3v1h-3zM140 543h1v3h-1zM149 545h3v1h-3zM150 544h1v3h-1zM159 545h3v1h-3zM160 544h1v3h-1zM169 545h3v1h-3zM170 544h1v3h-1zM179 545h3v1h-3zM180 544h1v3h-1zM189 545h3v1h-3zM190 544h1v3h-1zM199 545h3v1h-3zM200 544h1v3h-1zM209 545h3v1h-3zM210 544h1v3h-1zM219 545h3v1h-3zM220 544h1v3h-1zM229 545h3v1h-3zM230 544h1v3h-1zM239 545h3v1h-3zM240 544h1v3h-1zM249 540h3v1h-3zM250 539h1v3h-1zM259 545h3v1h-3zM260 544h1v3h-1zM269 540h3v1h-3zM270 539h1v3h-1zM279 545h3v1h-3zM280 544h1v3h-1zM289 545h3v1h-3zM290 544h1v3h-1zM299 545h3v1h-3zM300 544h1v3h-1zM309 545h3v1h-3zM310 544h1v3h-1zM319 545h3v1h-3zM320 544h1v3h-1zM329 545h3v1h-3zM330 544h1v3h-1zM339 545h3v1h-3zM340 544h1v3h-1zM349 545h3v1h-3zM350 544h1v3h-1zM359 545h3v1h-3zM360 544h1v3h-1zM369 545h3v1h-3zM370 544h1v3h-1zM379 545h3v1h-3zM380 544h1v3h-1zM389 545h3v1h-3zM390 544h1v3h-1zM399 542h3v1h-3zM400 541h1v3h-1zM409 545h3v1h-3zM410 544h1v3h-1zM419 545h3v1h-3zM420 544h1v3h-1zM429 545h3v1h-3zM430 544h1v3h-1zM439 545h3v1h-3zM440 544h1v3h-1zM449 545h3v1h-3zM450 544h1v3h-1zM459 545h3v1h-3zM460 544h1v3h-1zM469 543h3v1h-3zM470 542h1v3h-1zM479 545h3v1h-3zM480 544h1v3h-1zM489 544h3v1h-3zM490 543h1v3h-1zM499 545h3v1h-3zM500 544h1v3h-1zM509 544h3v1h-3zM510 543h1v3h-1zM519 545h3v1h-3zM520 544h1v3h-1zM529 545h3v1h-3zM530 544h1v3h-1zM539 544h3v1h-3zM540 543h1v3h-1zM549 543h3v1h-3zM550 542h1v3h-1zM559 545h3v1h-3zM560 544h1v3h-1zM569 543h3v1h-3zM570 542h1v3h-1zM579 545h3v1h-3zM580 544h1v3h-1zM589 543h3v1h-3zM590 542h1v3h-1zM599 544h3v1h-3zM600 543h1v3h-1zM609 545h3v1h-3zM610 544h1v3h-1zM619 545h3v1h-3zM620 544h1v3h-1zM629 545h3v1h-3zM630 544h1v3h-1zM639 545h3v1h-3zM640 544h1v3h-1zM649 545h3v1h-3zM650 544h1v3h-1zM659 545h3v1h-3zM660 544h1v3h-1zM669 545h3v1h-3zM670 544h1v3h-1zM679 545h3v1h-3zM680 544h1v3h-1zM689 545h3v1h-3zM690 544h1v3h-1z"/>
<polyline transform="translate(.5,.5)" points="60,545.0 70,545.0 80,545.0 90,527.6 100,535.7 110,487.0 120,527.6 130,541.1 140,545.0 150,545.0 160,545.0 170,545.0 180,545.0 190,545.0 200,545.0 210,545.0 220,545.0 230,545.0 240,545.0 250,545.0 260,545.0 270,545.0 280,545.0 290,545.0 300,545.0 310,545.0 320,545.0 330,545.0 340,545.0 350,545.0 360,545.0 370,545.0 380,545.0 390,545.0 400,545.0 410,545.0 420,545.0 430,545.0 440,545.0 450,545.0 460,545.0 470,543.8 480,545.0 490,545.0 500,545.0 510,545.0 520,545.0 530,545.0 540,545.0 550,545.0 560,545.0 570,544.4 580,545.0 590,545.0 600,545.0 610,544.2 620,545.0 630,545.0 640,545.0 650,545.0 660,545.0 670,545.0 680,545.0 690,545.0" fill="none" stroke="#E080F0" stroke-width="1" shape-rendering="crispEdges"/>
<path shape-rendering="crispEdges" fill="#E080F0" d="M59 545h3v1h-3zM60 544h1v3h-1zM69 545h3v1h-3zM70 544h1v3h-1zM79 545h3v1h-3zM80 544h1v3h-1zM89 528h3v1h-3zM90 527h1v3h-1zM99 536h3v1h-3zM100 535h1v3h-1zM109 487h3v1h-3zM110 486h1v3h-1zM119 528h3v1h-3zM120 527h1v3h-1zM129 541h3v1h-3zM130 540h1v3h-1zM139 545h3v1h-3zM140 544h1v3h-1zM149 545h3v1h-3zM150 544h1v3h-1zM159 545h3v1h-3zM160 544h1v3h-1zM169 545h3v1h-3zM170 544h1v3h-1zM179 545h3v1h-3zM180 544h1v3h-1zM189 545h3v1h-3zM190 544h1v3h-1zM199 545h3v1h-3zM200 544h1v3h-1zM209 545h3v1h-3zM210 544h1v3h-1zM219 545h3v1h-3zM220 544h1v3h-1zM229 545h3v1h-3zM230 544h1v3h-1zM239 545h3v1h-3zM240 544h1v3h-1zM249 545h3v1h-3zM250 544h1v3h-1zM259 545h3v1h-3zM260 544h1v3h-1zM269 545h3v1h-3zM270 544h1v3h-1zM279 545h3v1h-3zM280 544h1v3h-1zM289 545h3v1h-3zM290 544h1v3h-1zM299 545h3v1h-3zM300 544h1v3h-1zM309 545h3v1h-3zM310 544h1v3h-1zM319 545h3v1h-3zM320 544h1v3h-1zM329 545h3v1h-3zM330 544h1v3h-1zM339 545h3v1h-3zM340 544h1v3h-1zM349 545h3v1h-3zM350 544h1v3h-1zM359 545h3v1h-3zM360 544h1v3h-1zM369 545h3v1h-3zM370 544h1v3h-1zM379 545h3v1h-3zM380 544h1v3h-1zM389 545h3v1h-3zM390 544h1v3h-1zM399 545h3v1h-3zM400 544h1v3h-1zM409 545h3v1h-3zM410 544h1v3h-1zM419 545h3v1h-3zM420 544h1v3h-1zM429 545h3v1h-3zM430 544h1v3h-1zM439 545h3v1h-3zM440 544h1v3h-1zM449 545h3v1h-3zM450 544h1v3h-1zM459 545h3v1h-3zM460 544h1v3h-1zM469 544h3v1h-3zM470 543h1v3h-1zM479 545h3v1h-3zM480 544h1v3h-1zM489 545h3v1h-3zM490 544h1v3h-1zM499 545h3v1h-3zM500 544h1v3h-1zM509 545h3v1h-3zM510 544h1v3h-1zM519 545h3v1h-3zM520 544h1v3h-1zM529 545h3v1h-3zM530 544h1v3h-1zM539 545h3v1h-3zM540 544h1v3h-1zM549 545h3v1h-3zM550 544h1v3h-1zM559 545h3v1h-3zM560 544h1v3h-1zM569 544h3v1h-3zM570 543h1v3h-1zM579 545h3v1h-3zM580 544h1v3h-1zM589 545h3v1h-3zM590 544h1v3h-1zM599 545h3v1h-3zM600 544h1v3h-1zM609 544h3v1h-3zM610 543h1v3h-1zM619 545h3v1h-3zM620 544h1v3h-1zM629 545h3v1h-3zM630 544h1v3h-1zM639 545h3v1h-3zM640 544h1v3h-1zM649 545h3v1h-3zM650 544h1v3h-1zM659 545h3v1h-3zM660 544h1v3h-1zM669 545h3v1h-3zM670 544h1v3h-1zM679 545h3v1h-3zM680 544h1v3h-1zM689 545h3v1h-3zM690 544h1v3h-1z"/>
<polyline transform="translate(.5,.5)" points="60,545.0 70,545.0 80,544.1 90,526.2 100,534.3 110,535.7 120,538.4 130,537.0 140,535.7 150,478.9 160,541.1 170,545.0 180,545.0 190,545.0 200,545.0 210,545.0 220,545.0 230,545.0 240,545.0 250,545.0 260,545.0 270,545.0 280,545.0 290,545.0 300,545.0 310,545.0 320,545.0 330,545.0 340,545.0 350,545.0 360,545.0 370,545.0 380,545.0 390,545.0 400,545.0 410,545.0 420,544.4 430,545.0 440,545.0 450,545.0 460,545.0 470,543.6 480,545.0 490,545.0 500,543.7 510,545.0 520,545.0 530,544.2 540,544.0 550,545.0 560,542.4 570,545.0 580,545.0 590,545.0 600,545.0 610,542.3 620,543.2 630,545.0 640,542.6 650,536.6 660,542.6 670,543.2 680,545.0 690,545.0" fill="none" stroke="#8020F0" stroke-width="1" shape-rendering="crispEdges"/>
<path shape-rendering="crispEdges" fill="#8020F0" d="M59 545h3v1h-3zM60 544h1v3h-1zM69 545h3v1h-3zM70 544h1v3h-1zM79 544h3v1h-3zM80 543h1v3h-1zM89 526h3v1h-3zM90 525h1v3h-1zM99 534h3v1h-3zM100 533h1v3h-1zM109 536h3v1h-3zM110 535h1v3h-1zM119 538h3v1h-3zM120 537h1v3h-1zM129 537h3v1h-3zM130 536h1v3h-1zM139 536h3v1h-3zM140 535h1v3h-1zM149 479h3v1h-3zM150 478h1v3h-1zM159 541h3v1h-3zM160 540h1v3h-1zM169 545h3v1h-3zM170 544h1v3h-1zM179 545h3v1h-3zM180 544h1v3h-1zM189 545h3v1h-3zM190 544h1v3h-1zM199 545h3v1h-3zM200 544h1v3h-1zM209 545h3v1h-3zM210 544h1v3h-1zM219 545h3v1h-3zM220 544h1v3h-1zM229 545h3v1h-3zM230 544h1v3h-1zM239 545h3v1h-3zM240 544h1v3h-1zM249 545h3v1h-3zM250 544h1v3h-1zM259 545h3v1h-3zM260 544h1v3h-1zM269 545h3v1h-3zM270 544h1v3h-1zM279 545h3v1h-3zM280 544h1v3h-1zM289 545h3v1h-3zM290 544h1v3h-1zM299 545h3v1h-3zM300 544h1v3h-1zM309 545h3v1h-3zM310 544h1v3h-1zM319 545h3v1h-3zM320 544h1v3h-1zM329 545h3v1h-3zM330 544h1v3h-1zM339 545h3v1h-3zM340 544h1v3h-1zM349 545h3v1h-3zM350 544h1v3h-1zM359 545h3v1h-3zM360 544h1v3h-1zM369 545h3v1h-3zM370 544h1v3h-1zM379 545h3v1h-3zM380 544h1v3h-1zM389 545h3v1h-3zM390 544h1v3h-1zM399 545h3v1h-3zM400 544h1v3h-1zM409 545h3v1h-3zM410 544h1v3h-1zM419 544h3v1h-3zM420 543h1v3h-1zM429 545h3v1h-3zM430 544h1v3h-1zM439 545h3v1h-3zM440 544h1v3h-1zM449 545h3v1h-3zM450 544h1v3h-1zM459 545h3v1h-3zM460 544h1v3h-1zM469 544h3v1h-3zM470 543h1v3h-1zM479 545h3v1h-3zM480 544h1v3h-1zM489 545h3v1h-3zM490 544h1v3h-1zM499 544h3v1h-3zM500 543h1v3h-1zM509 545h3v1h-3zM510 544h1v3h-1zM519 545h3v1h-3zM520 544h1v3h-1zM529 544h3v1h-3zM530 543h1v3h-1zM539 544h3v1h-3zM540 543h1v3h-1zM549 545h3v1h-3zM550 544h1v3h-1zM559 542h3v1h-3zM560 541h1v3h-1zM569 545h3v1h-3zM570 544h1v3h-1zM579 545h3v1h-3zM580 544h1v3h-1zM589 545h3v1h-3zM590 544h1v3h-1zM599 545h3v1h-3zM600 544h1v3h-1zM609 542h3v1h-3zM610 541h1v3h-1zM619 543h3v1h-3zM620 542h1v3h-1zM629 545h3v1h-3zM630 544h1v3h-1zM639 543h3v1h-3zM640 542h1v3h-1zM649 537h3v1h-3zM650 536h1v3h-1zM659 543h3v1h-3zM660 542h1v3h-1zM669 543h3v1h-3zM670 542h1v3h-1zM679 545h3v1h-3zM680 544h1v3h-1zM689 545h3v1h-3zM690 544h1v3h-1z"/>
<polyline transform="translate(.5,.5)" points="60,545.0 70,545.0 80,542.0 90,544.3 100,541.1 110,542.1 120,542.4 130,538.4 140,539.7 150,518.9 160,542.4 170,545.0 180,545.0 190,545.0 200,545.0 210,545.0 220,545.0 230,545.0 240,545.0 250,545.0 260,545.0 270,545.0 280,545.0 290,545.0 300,545.0 310,545.0 320,545.0 330,545.0 340,545.0 350,545.0 360,545.0 370,545.0 380,545.0 390,545.0 400,545.0 410,544.4 420,543.4 430,545.0 440,544.0 450,545.0 460,545.0 470,543.8 480,540.8 490,515.5 500,496.9 510,542.6 520,542.7 530,545.0 540,543.0 550,545.0 560,545.0 570,542.7 580,545.0 590,535.5 600,526.8 610,532.0 620,528.5 630,540.8 640,545.0 650,543.2 660,545.0 670,545.0 680,545.0 690,545.0" fill="none" stroke="#6B5A20" stroke-width="1" shape-rendering="crispEdges"/>
<path shape-rendering="crispEdges" fill="#6B5A20" d="M59 545h3v1h-3zM60 544h1v3h-1zM69 545h3v1h-3zM70 544h1v3h-1zM79 542h3v1h-3zM80 541h1v3h-1zM89 544h3v1h-3zM90 543h1v3h-1zM99 541h3v1h-3zM100 540h1v3h-1zM109 542h3v1h-3zM110 541h1v3h-1zM119 542h3v1h-3zM120 541h1v3h-1zM129 538h3v1h-3zM130 537h1v3h-1zM139 540h3v1h-3zM140 539h1v3h-1zM149 519h3v1h-3zM150 518h1v3h-1zM159 542h3v1h-3zM160 541h1v3h-1zM169 545h3v1h-3zM170 544h1v3h-1zM179 545h3v1h-3zM180 544h1v3h-1zM189 545h3v1h-3zM190 544h1v3h-1zM199 545h3v1h-3zM200 544h1v3h-1zM209 545h3v1h-3zM210 544h1v3h-1zM219 545h3v1h-3zM220 544h1v3h-1zM229 545h3v1h-3zM230 544h1v3h-1zM239 545h3v1h-3zM240 544h1v3h-1zM249 545h3v1h-3zM250 544h1v3h-1zM259 545h3v1h-3zM260 544h1v3h-1zM269 545h3v1h-3zM270 544h1v3h-1zM279 545h3v1h-3zM280 544h1v3h-1zM289 545h3v1h-3zM290 544h1v3h-1zM299 545h3v1h-3zM300 544h1v3h-1zM309 545h3v1h-3zM310 544h1v3h-1zM319 545h3v1h-3zM320 544h1v3h-1zM329 545h3v1h-3zM330 544h1v3h-1zM339 545h3v1h-3zM340 544h1v3h-1zM349 545h3v1h-3zM350 544h1v3h-1zM359 545h3v1h-3zM360 544h1v3h-1zM369 545h3v1h-3zM370 544h1v3h-1zM379 545h3v1h-3zM380 544h1v3h-1zM389 545h3v1h-3zM390 544h1v3h-1zM399 545h3v1h-3zM400 544h1v3h-1zM409 544h3v1h-3zM410 543h1v3h-1zM419 543h3v1h-3zM420 542h1v3h-1zM429 545h3v1h-3zM430 544h1v3h-1zM439 544h3v1h-3zM440 543h1v3h-1zM449 545h3v1h-3zM450 544h1v3h-1zM459 545h3v1h-3zM460 544h1v3h-1zM469 544h3v1h-3zM470 543h1v3h-1zM479 541h3v1h-3zM480 540h1v3h-1zM489 516h3v1h-3zM490 515h1v3h-1zM499 497h3v1h-3zM500 496h1v3h-1zM509 543h3v1h-3zM510 542h1v3h-1zM519 543h3v1h-3zM520 542h1v3h-1zM529 545h3v1h-3zM530 544h1v3h-1zM539 543h3v1h-3zM540 542h1v3h-1zM549 545h3v1h-3zM550 544h1v3h-1zM559 545h3v1h-3zM560 544h1v3h-1zM569 543h3v1h-3zM570 542h1v3h-1zM579 545h3v1h-3zM580 544h1v3h-1zM589 536h3v1h-3zM590 535h1v3h-1zM599 527h3v1h-3zM600 526h1v3h-1zM609 532h3v1h-3zM610 531h1v3h-1zM619 529h3v1h-3zM620 528h1v3h-1zM629 541h3v1h-3zM630 540h1v3h-1zM639 545h3v1h-3zM640 544h1v3h-1zM649 543h3v1h-3zM650 542h1v3h-1zM659 545h3v1h-3zM660 544h1v3h-1zM669 545h3v1h-3zM670 544h1v3h-1zM679 545h3v1h-3zM680 544h1v3h-1zM689 545h3v1h-3zM690 544h1v3h-1z"/>
<polyline transform="translate(.5,.5)" points="60,545.0 70,545.0 80,545.0 90,545.0 100,541.0 110,545.0 120,545.0 130,541.7 140,545.0 150,545.0 160,545.0 170,545.0 180,545.0 190,545.0 200,545.0 210,545.0 220,545.0 230,545.0 240,545.0 250,545.0 260,545.0 270,545.0 280,545.0 290,545.0 300,545.0 310,545.0 320,545.0 330,545.0 340,545.0 350,545.0 360,545.0 370,545.0 380,545.0 390,545.0 400,545.0 410,545.0 420,542.7 430,545.0 440,542.1 450,542.5 460,545.0 470,545.0 480,545.0 490,544.0 500,545.0 510,545.0 520,545.0 530,545.0 540,542.6 550,545.0 560,545.0 570,545.0 580,542.1 590,545.0 600,542.7 610,545.0 620,545.0 630,545.0 640,545.0 650,545.0 660,545.0 670,545.0 680,545.0 690,545.0" fill="none" stroke="#300870" stroke-width="1" shape-rendering="crispEdges"/>
<path shape-rendering="crispEdges" fill="#300870" d="M59 545h3v1h-3zM60 544h1v3h-1zM69 545h3v1h-3zM70 544h1v3h-1zM79 545h3v1h-3zM80 544h1v3h-1zM89 545h3v1h-3zM90 544h1v3h-1zM99 541h3v1h-3zM100 540h1v3h-1zM109 545h3v1h-3zM110 544h1v3h-1zM119 545h3v1h-3zM120 544h1v3h-1zM129 542h3v1h-3zM130 541h1v3h-1zM139 545h3v1h-3zM140 544h1v3h-1zM149 545h3v1h-3zM150 544h1v3h-1zM159 545h3v1h-3zM160 544h1v3h-1zM169 545h3v1h-3zM170 544h1v3h-1zM179 545h3v1h-3zM180 544h1v3h-1zM189 545h3v1h-3zM190 544h1v3h-1zM199 545h3v1h-3zM200 544h1v3h-1zM209 545h3v1h-3zM210 544h1v3h-1zM219 545h3v1h-3zM220 544h1v3h-1zM229 545h3v1h-3zM230 544h1v3h-1zM239 545h3v1h-3zM240 544h1v3h-1zM249 545h3v1h-3zM250 544h1v3h-1zM259 545h3v1h-3zM260 544h1v3h-1zM269 545h3v1h-3zM270 544h1v3h-1zM279 545h3v1h-3zM280 544h1v3h-1zM289 545h3v1h-3zM290 544h1v3h-1zM299 545h3v1h-3zM300 544h1v3h-1zM309 545h3v1h-3zM310 544h1v3h-1zM319 545h3v1h-3zM320 544h1v3h-1zM329 545h3v1h-3zM330 544h1v3h-1zM339 545h3v1h-3zM340 544h1v3h-1zM349 545h3v1h-3zM350 544h1v3h-1zM359 545h3v1h-3zM360 544h1v3h-1zM369 545h3v1h-3zM370 544h1v3h-1zM379 545h3v1h-3zM380 544h1v3h-1zM389 545h3v1h-3zM390 544h1v3h-1zM399 545h3v1h-3zM400 544h1v3h-1zM409 545h3v1h-3zM410 544h1v3h-1zM419 543h3v1h-3zM420 542h1v3h-1zM429 545h3v1h-3zM430 544h1v3h-1zM439 542h3v1h-3zM440 541h1v3h-1zM449 542h3v1h-3zM450 541h1v3h-1zM459 545h3v1h-3zM460 544h1v3h-1zM469 545h3v1h-3zM470 544h1v3h-1zM479 545h3v1h-3zM480 544h1v3h-1zM489 544h3v1h-3zM490 543h1v3h-1zM499 545h3v1h-3zM500 544h1v3h-1zM509 545h3v1h-3zM510 544h1v3h-1zM519 545h3v1h-3zM520 544h1v3h-1zM529 545h3v1h-3zM530 544h1v3h-1zM539 543h3v1h-3zM540 542h1v3h-1zM549 545h3v1h-3zM550 544h1v3h-1zM559 545h3v1h-3zM560 544h1v3h-1zM569 545h3v1h-3zM570 544h1v3h-1zM579 542h3v1h-3zM580 541h1v3h-1zM589 545h3v1h-3zM590 544h1v3h-1zM599 543h3v1h-3zM600 542h1v3h-1zM609 545h3v1h-3zM610 544h1v3h-1zM619 545h3v1h-3zM620 544h1v3h-1zM629 545h3v1h-3zM630 544h1v3h-1zM639 545h3v1h-3zM640 544h1v3h-1zM649 545h3v1h-3zM650 544h1v3h-1zM659 545h3v1h-3zM660 544h1v3h-1zM669 545h3v1h-3zM670 544h1v3h-1zM679 545h3v1h-3zM680 544h1v3h-1zM689 545h3v1h-3zM690 544h1v3h-1z"/>
<polyline transform="translate(.5,.5)" points="60,545.0 70,545.0 80,545.0 90,535.7 100,541.1 110,537.0 120,541.1 130,542.2 140,545.0 150,545.0 160,542.0 170,545.0 180,545.0 190,545.0 200,545.0 210,545.0 220,545.0 230,545.0 240,545.0 250,545.0 260,545.0 270,545.0 280,545.0 290,545.0 300,545.0 310,545.0 320,545.0 330,545.0 340,545.0 350,545.0 360,545.0 370,545.0 380,545.0 390,545.0 400,545.0 410,545.0 420,542.3 430,545.0 440,545.0 450,543.8 460,545.0 470,542.1 480,544.1 490,545.0 500,543.1 510,545.0 520,544.4 530,545.0 540,545.0 550,545.0 560,543.7 570,545.0 580,542.3 590,545.0 600,545.0 610,542.6 620,533.8 630,515.2 640,503.2 650,519.7 660,542.6 670,526.1 680,540.8 690,545.0" fill="none" stroke="#F0D010" stroke-width="1" shape-rendering="crispEdges"/>
<path shape-rendering="crispEdges" fill="#F0D010" d="M59 545h3v1h-3zM60 544h1v3h-1zM69 545h3v1h-3zM70 544h1v3h-1zM79 545h3v1h-3zM80 544h1v3h-1zM89 536h3v1h-3zM90 535h1v3h-1zM99 541h3v1h-3zM100 540h1v3h-1zM109 537h3v1h-3zM110 536h1v3h-1zM119 541h3v1h-3zM120 540h1v3h-1zM129 542h3v1h-3zM130 541h1v3h-1zM139 545h3v1h-3zM140 544h1v3h-1zM149 545h3v1h-3zM150 544h1v3h-1zM159 542h3v1h-3zM160 541h1v3h-1zM169 545h3v1h-3zM170 544h1v3h-1zM179 545h3v1h-3zM180 544h1v3h-1zM189 545h3v1h-3zM190 544h1v3h-1zM199 545h3v1h-3zM200 544h1v3h-1zM209 545h3v1h-3zM210 544h1v3h-1zM219 545h3v1h-3zM220 544h1v3h-1zM229 545h3v1h-3zM230 544h1v3h-1zM239 545h3v1h-3zM240 544h1v3h-1zM249 545h3v1h-3zM250 544h1v3h-1zM259 545h3v1h-3zM260 544h1v3h-1zM269 545h3v1h-3zM270 544h1v3h-1zM279 545h3v1h-3zM280 544h1v3h-1zM289 545h3v1h-3zM290 544h1v3h-1zM299 545h3v1h-3zM300 544h1v3h-1zM309 545h3v1h-3zM310 544h1v3h-1zM319 545h3v1h-3zM320 544h1v3h-1zM329 545h3v1h-3zM330 544h1v3h-1zM339 545h3v1h-3zM340 544h1v3h-1zM349 545h3v1h-3zM350 544h1v3h-1zM359 545h3v1h-3zM360 544h1v3h-1zM369 545h3v1h-3zM370 544h1v3h-1zM379 545h3v1h-3zM380 544h1v3h-1zM389 545h3v1h-3zM390 544h1v3h-1zM399 545h3v1h-3zM400 544h1v3h-1zM409 545h3v1h-3zM410 544h1v3h-1zM419 542h3v1h-3zM420 541h1v3h-1zM429 545h3v1h-3zM430 544h1v3h-1zM439 545h3v1h-3zM440 544h1v3h-1zM449 544h3v1h-3zM450 543h1v3h-1zM459 545h3v1h-3zM460 544h1v3h-1zM469 542h3v1h-3zM470 541h1v3h-1zM479 544h3v1h-3zM480 543h1v3h-1zM489 545h3v1h-3zM490 544h1v3h-1zM499 543h3v1h-3zM500 542h1v3h-1zM509 545h3v1h-3zM510 544h1v3h-1zM519 544h3v1h-3zM520 543h1v3h-1zM529 545h3v1h-3zM530 544h1v3h-1zM539 545h3v1h-3zM540 544h1v3h-1zM549 545h3v1h-3zM550 544h1v3h-1zM559 544h3v1h-3zM560 543h1v3h-1zM569 545h3v1h-3zM570 544h1v3h-1zM579 542h3v1h-3zM580 541h1v3h-1zM589 545h3v1h-3zM590 544h1v3h-1zM599 545h3v1h-3zM600 544h1v3h-1zM609 543h3v1h-3zM610 542h1v3h-1zM619 534h3v1h-3zM620 533h1v3h-1zM629 515h3v1h-3zM630 514h1v3h-1zM639 503h3v1h-3zM640 502h1v3h-1zM649 520h3v1h-3zM650 519h1v3h-1zM659 543h3v1h-3zM660 542h1v3h-1zM669 526h3v1h-3zM670 525h1v3h-1zM679 541h3v1h-3zM680 540h1v3h-1zM689 545h3v1h-3zM690 544h1v3h-1z"/>
<polyline transform="translate(.5,.5)" points="60,545.0 70,545.0 80,543.2 90,545.0 100,545.0 110,541.6 120,545.0 130,545.0 140,545.0 150,545.0 160,545.0 170,545.0 180,545.0 190,545.0 200,545.0 210,545.0 220,545.0 230,545.0 240,545.0 250,545.0 260,545.0 270,545.0 280,545.0 290,545.0 300,545.0 310,545.0 320,545.0 330,545.0 340,545.0 350,545.0 360,545.0 370,545.0 380,545.0 390,545.0 400,545.0 410,545.0 420,545.0 430,545.0 440,545.0 450,545.0 460,545.0 470,545.0 480,545.0 490,545.0 500,545.0 510,545.0 520,530.3 530,516.2 540,533.8 550,540.8 560,545.0 570,545.0 580,545.0 590,545.0 600,543.4 610,545.0 620,545.0 630,545.0 640,545.0 650,545.0 660,545.0 670,545.0 680,545.0 690,542.8" fill="none" stroke="#2868A0" stroke-width="1" shape-rendering="crispEdges"/>
<path shape-rendering="crispEdges" fill="#2868A0" d="M59 545h3v1h-3zM60 544h1v3h-1zM69 545h3v1h-3zM70 544h1v3h-1zM79 543h3v1h-3zM80 542h1v3h-1zM89 545h3v1h-3zM90 544h1v3h-1zM99 545h3v1h-3zM100 544h1v3h-1zM109 542h3v1h-3zM110 541h1v3h-1zM119 545h3v1h-3zM120 544h1v3h-1zM129 545h3v1h-3zM130 544h1v3h-1zM139 545h3v1h-3zM140 544h1v3h-1zM149 545h3v1h-3zM150 544h1v3h-1zM159 545h3v1h-3zM160 544h1v3h-1zM169 545h3v1h-3zM170 544h1v3h-1zM179 545h3v1h-3zM180 544h1v3h-1zM189 545h3v1h-3zM190 544h1v3h-1zM199 545h3v1h-3zM200 544h1v3h-1zM209 545h3v1h-3zM210 544h1v3h-1zM219 545h3v1h-3zM220 544h1v3h-1zM229 545h3v1h-3zM230 544h1v3h-1zM239 545h3v1h-3zM240 544h1v3h-1zM249 545h3v1h-3zM250 544h1v3h-1zM259 545h3v1h-3zM260 544h1v3h-1zM269 545h3v1h-3zM270 544h1v3h-1zM279 545h3v1h-3zM280 544h1v3h-1zM289 545h3v1h-3zM290 544h1v3h-1zM299 545h3v1h-3zM300 544h1v3h-1zM309 545h3v1h-3zM310 544h1v3h-1zM319 545h3v1h-3zM320 544h1v3h-1zM329 545h3v1h-3zM330 544h1v3h-1zM339 545h3v1h-3zM340 544h1v3h-1zM349 545h3v1h-3zM350 544h1v3h-1zM359 545h3v1h-3zM360 544h1v3h-1zM369 545h3v1h-3zM370 544h1v3h-1zM379 545h3v1h-3zM380 544h1v3h-1zM389 545h3v1h-3zM390 544h1v3h-1zM399 545h3v1h-3zM400 544h1v3h-1zM409 545h3v1h-3zM410 544h1v3h-1zM419 545h3v1h-3zM420 544h1v3h-1zM429 545h3v1h-3zM430 544h1v3h-1zM439 545h3v1h-3zM440 544h1v3h-1zM449 545h3v1h-3zM450 544h1v3h-1zM459 545h3v1h-3zM460 544h1v3h-1zM469 545h3v1h-3zM470 544h1v3h-1zM479 545h3v1h-3zM480 544h1v3h-1zM489 545h3v1h-3zM490 544h1v3h-1zM499 545h3v1h-3zM500 544h1v3h-1zM509 545h3v1h-3zM510 544h1v3h-1zM519 530h3v1h-3zM520 529h1v3h-1zM529 516h3v1h-3zM530 515h1v3h-1zM539 534h3v1h-3zM540 533h1v3h-1zM549 541h3v1h-3zM550 540h1v3h-1zM559 545h3v1h-3zM560 544h1v3h-1zM569 545h3v1h-3zM570 544h1v3h-1zM579 545h3v1h-3zM580 544h1v3h-1zM589 545h3v1h-3zM590 544h1v3h-1zM599 543h3v1h-3zM600 542h1v3h-1zM609 545h3v1h-3zM610 544h1v3h-1zM619 545h3v1h-3zM620 544h1v3h-1zM629 545h3v1h-3zM630 544h1v3h-1zM639 545h3v1h-3zM640 544h1v3h-1zM649 545h3v1h-3zM650 544h1v3h-1zM659 545h3v1h-3zM660 544h1v3h-1zM669 545h3v1h-3zM670 544h1v3h-1zM679 545h3v1h-3zM680 544h1v3h-1zM689 543h3v1h-3zM690 542h1v3h-1z"/>
<polyline transform="translate(.5,.5)" points="60,545.0 70,545.0 80,542.4 90,500.0 100,522.2 110,527.6 120,524.9 130,530.8 140,539.7 150,543.8 160,541.5 170,545.0 180,545.0 190,545.0 200,545.0 210,545.0 220,545.0 230,545.0 240,545.0 250,545.0 260,545.0 270,545.0 280,545.0 290,545.0 300,545.0 310,545.0 320,545.0 330,545.0 340,542.6 350,539.1 360,538.0 370,542.6 380,545.0 390,545.0 400,545.0 410,545.0 420,545.0 430,539.1 440,535.5 450,511.7 460,520.4 470,539.1 480,545.0 490,545.0 500,542.4 510,542.6 520,526.8 530,500.4 540,530.3 550,542.6 560,545.0 570,545.0 580,545.0 590,545.0 600,545.0 610,543.7 620,543.0 630,545.0 640,545.0 650,545.0 660,543.9 670,545.0 680,545.0 690,545.0" fill="none" stroke="#8B5A20" stroke-width="1" shape-rendering="crispEdges"/>
<path shape-rendering="crispEdges" fill="#8B5A20" d="M59 545h3v1h-3zM60 544h1v3h-1zM69 545h3v1h-3zM70 544h1v3h-1zM79 542h3v1h-3zM80 541h1v3h-1zM89 500h3v1h-3zM90 499h1v3h-1zM99 522h3v1h-3zM100 521h1v3h-1zM109 528h3v1h-3zM110 527h1v3h-1zM119 525h3v1h-3zM120 524h1v3h-1zM129 531h3v1h-3zM130 530h1v3h-1zM139 540h3v1h-3zM140 539h1v3h-1zM149 544h3v1h-3zM150 543h1v3h-1zM159 542h3v1h-3zM160 541h1v3h-1zM169 545h3v1h-3zM170 544h1v3h-1zM179 545h3v1h-3zM180 544h1v3h-1zM189 545h3v1h-3zM190 544h1v3h-1zM199 545h3v1h-3zM200 544h1v3h-1zM209 545h3v1h-3zM210 544h1v3h-1zM219 545h3v1h-3zM220 544h1v3h-1zM229 545h3v1h-3zM230 544h1v3h-1zM239 545h3v1h-3zM240 544h1v3h-1zM249 545h3v1h-3zM250 544h1v3h-1zM259 545h3v1h-3zM260 544h1v3h-1zM269 545h3v1h-3zM270 544h1v3h-1zM279 545h3v1h-3zM280 544h1v3h-1zM289 545h3v1h-3zM290 544h1v3h-1zM299 545h3v1h-3zM300 544h1v3h-1zM309 545h3v1h-3zM310 544h1v3h-1zM319 545h3v1h-3zM320 544h1v3h-1zM329 545h3v1h-3zM330 544h1v3h-1zM339 543h3v1h-3zM340 542h1v3h-1zM349 539h3v1h-3zM350 538h1v3h-1zM359 538h3v1h-3zM360 537h1v3h-1zM369 543h3v1h-3zM370 542h1v3h-1zM379 545h3v1h-3zM380 544h1v3h-1zM389 545h3v1h-3zM390 544h1v3h-1zM399 545h3v1h-3zM400 544h1v3h-1zM409 545h3v1h-3zM410 544h1v3h-1zM419 545h3v1h-3zM420 544h1v3h-1zM429 539h3v1h-3zM430 538h1v3h-1zM439 536h3v1h-3zM440 535h1v3h-1zM449 512h3v1h-3zM450 511h1v3h-1zM459 520h3v1h-3zM460 519h1v3h-1zM469 539h3v1h-3zM470 538h1v3h-1zM479 545h3v1h-3zM480 544h1v3h-1zM489 545h3v1h-3zM490 544h1v3h-1zM499 542h3v1h-3zM500 541h1v3h-1zM509 543h3v1h-3zM510 542h1v3h-1zM519 527h3v1h-3zM520 526h1v3h-1zM529 500h3v1h-3zM530 499h1v3h-1zM539 530h3v1h-3zM540 529h1v3h-1zM549 543h3v1h-3zM550 542h1v3h-1zM559 545h3v1h-3zM560 544h1v3h-1zM569 545h3v1h-3zM570 544h1v3h-1zM579 545h3v1h-3zM580 544h1v3h-1zM589 545h3v1h-3zM590 544h1v3h-1zM599 545h3v1h-3zM600 544h1v3h-1zM609 544h3v1h-3zM610 543h1v3h-1zM619 543h3v1h-3zM620 542h1v3h-1zM629 545h3v1h-3zM630 544h1v3h-1zM639 545h3v1h-3zM640 544h1v3h-1zM649 545h3v1h-3zM650 544h1v3h-1zM659 544h3v1h-3zM660 543h1v3h-1zM669 545h3v1h-3zM670 544h1v3h-1zM679 545h3v1h-3zM680 544h1v3h-1zM689 545h3v1h-3zM690 544h1v3h-1z"/>
<polyline transform="translate(.5,.5)" points="60,545.0 70,545.0 80,545.0 90,545.0 100,545.0 110,545.0 120,545.0 130,545.0 140,545.0 150,545.0 160,542.6 170,545.0 180,545.0 190,545.0 200,545.0 210,545.0 220,545.0 230,545.0 240,545.0 250,545.0 260,545.0 270,545.0 280,545.0 290,545.0 300,545.0 310,545.0 320,545.0 330,545.0 340,545.0 350,545.0 360,545.0 370,545.0 380,545.0 390,545.0 400,543.8 410,544.3 420,488.1 430,466.3 440,525.0 450,541.5 460,545.0 470,545.0 480,545.0 490,545.0 500,545.0 510,545.0 520,545.0 530,545.0 540,545.0 550,545.0 560,545.0 570,543.4 580,545.0 590,543.5 600,545.0 610,545.0 620,545.0 630,545.0 640,545.0 650,543.9 660,545.0 670,545.0 680,545.0 690,545.0" fill="none" stroke="#A080E0" stroke-width="1" shape-rendering="crispEdges"/>
<path shape-rendering="crispEdges" fill="#A080E0" d="M59 545h3v1h-3zM60 544h1v3h-1zM69 545h3v1h-3zM70 544h1v3h-1zM79 545h3v1h-3zM80 544h1v3h-1zM89 545h3v1h-3zM90 544h1v3h-1zM99 545h3v1h-3zM100 544h1v3h-1zM109 545h3v1h-3zM110 544h1v3h-1zM119 545h3v1h-3zM120 544h1v3h-1zM129 545h3v1h-3zM130 544h1v3h-1zM139 545h3v1h-3zM140 544h1v3h-1zM149 545h3v1h-3zM150 544h1v3h-1zM159 543h3v1h-3zM160 542h1v3h-1zM169 545h3v1h-3zM170 544h1v3h-1zM179 545h3v1h-3zM180 544h1v3h-1zM189 545h3v1h-3zM190 544h1v3h-1zM199 545h3v1h-3zM200 544h1v3h-1zM209 545h3v1h-3zM210 544h1v3h-1zM219 545h3v1h-3zM220 544h1v3h-1zM229 545h3v1h-3zM230 544h1v3h-1zM239 545h3v1h-3zM240 544h1v3h-1zM249 545h3v1h-3zM250 544h1v3h-1zM259 545h3v1h-3zM260 544h1v3h-1zM269 545h3v1h-3zM270 544h1v3h-1zM279 545h3v1h-3zM280 544h1v3h-1zM289 545h3v1h-3zM290 544h1v3h-1zM299 545h3v1h-3zM300 544h1v3h-1zM309 545h3v1h-3zM310 544h1v3h-1zM319 545h3v1h-3zM320 544h1v3h-1zM329 545h3v1h-3zM330 544h1v3h-1zM339 545h3v1h-3zM340 544h1v3h-1zM349 545h3v1h-3zM350 544h1v3h-1zM359 545h3v1h-3zM360 544h1v3h-1zM369 545h3v1h-3zM370 544h1v3h-1zM379 545h3v1h-3zM380 544h1v3h-1zM389 545h3v1h-3zM390 544h1v3h-1zM399 544h3v1h-3zM400 543h1v3h-1zM409 544h3v1h-3zM410 543h1v3h-1zM419 488h3v1h-3zM420 487h1v3h-1zM429 466h3v1h-3zM430 465h1v3h-1zM439 525h3v1h-3zM440 524h1v3h-1zM449 542h3v1h-3zM450 541h1v3h-1zM459 545h3v1h-3zM460 544h1v3h-1zM469 545h3v1h-3zM470 544h1v3h-1zM479 545h3v1h-3zM480 544h1v3h-1zM489 545h3v1h-3zM490 544h1v3h-1zM499 545h3v1h-3zM500 544h1v3h-1zM509 545h3v1h-3zM510 544h1v3h-1zM519 545h3v1h-3zM520 544h1v3h-1zM529 545h3v1h-3zM530 544h1v3h-1zM539 545h3v1h-3zM540 544h1v3h-1zM549 545h3v1h-3zM550 544h1v3h-1zM559 545h3v1h-3zM560 544h1v3h-1zM569 543h3v1h-3zM570 542h1v3h-1zM579 545h3v1h-3zM580 544h1v3h-1zM589 543h3v1h-3zM590 542h1v3h-1zM599 545h3v1h-3zM600 544h1v3h-1zM609 545h3v1h-3zM610 544h1v3h-1zM619 545h3v1h-3zM620 544h1v3h-1zM629 545h3v1h-3zM630 544h1v3h-1zM639 545h3v1h-3zM640 544h1v3h-1zM649 544h3v1h-3zM650 543h1v3h-1zM659 545h3v1h-3zM660 544h1v3h-1zM669 545h3v1h-3zM670 544h1v3h-1zM679 545h3v1h-3zM680 544h1v3h-1zM689 545h3v1h-3zM690 544h1v3h-1z"/>
<polyline transform="translate(.5,.5)" points="60,545.0 70,545.0 80,545.0 90,545.0 100,545.0 110,545.0 120,545.0 130,545.0 140,545.0 150,545.0 160,545.0 170,545.0 180,545.0 190,545.0 200,545.0 210,545.0 220,545.0 230,545.0 240,545.0 250,545.0 260,545.0 270,545.0 280,545.0 290,545.0 300,545.0 310,545.0 320,545.0 330,545.0 340,545.0 350,545.0 360,545.0 370,545.0 380,545.0 390,545.0 400,545.0 410,545.0 420,545.0 430,545.0 440,545.0 450,544.3 460,543.8 470,545.0 480,545.0 490,545.0 500,542.3 510,543.7 520,545.0 530,545.0 540,545.0 550,543.0 560,544.1 570,545.0 580,545.0 590,545.0 600,539.1 610,528.5 620,520.4 630,539.1 640,545.0 650,545.0 660,545.0 670,543.1 680,543.1 690,545.0" fill="none" stroke="#A0F040" stroke-width="1" shape-rendering="crispEdges"/>
<path shape-rendering="crispEdges" fill="#A0F040" d="M59 545h3v1h-3zM60 544h1v3h-1zM69 545h3v1h-3zM70 544h1v3h-1zM79 545h3v1h-3zM80 544h1v3h-1zM89 545h3v1h-3zM90 544h1v3h-1zM99 545h3v1h-3zM100 544h1v3h-1zM109 545h3v1h-3zM110 544h1v3h-1zM119 545h3v1h-3zM120 544h1v3h-1zM129 545h3v1h-3zM130 544h1v3h-1zM139 545h3v1h-3zM140 544h1v3h-1zM149 545h3v1h-3zM150 544h1v3h-1zM159 545h3v1h-3zM160 544h1v3h-1zM169 545h3v1h-3zM170 544h1v3h-1zM179 545h3v1h-3zM180 544h1v3h-1zM189 545h3v1h-3zM190 544h1v3h-1zM199 545h3v1h-3zM200 544h1v3h-1zM209 545h3v1h-3zM210 544h1v3h-1zM219 545h3v1h-3zM220 544h1v3h-1zM229 545h3v1h-3zM230 544h1v3h-1zM239 545h3v1h-3zM240 544h1v3h-1zM249 545h3v1h-3zM250 544h1v3h-1zM259 545h3v1h-3zM260 544h1v3h-1zM269 545h3v1h-3zM270 544h1v3h-1zM279 545h3v1h-3zM280 544h1v3h-1zM289 545h3v1h-3zM290 544h1v3h-1zM299 545h3v1h-3zM300 544h1v3h-1zM309 545h3v1h-3zM310 544h1v3h-1zM319 545h3v1h-3zM320 544h1v3h-1zM329 545h3v1h-3zM330 544h1v3h-1zM339 545h3v1h-3zM340 544h1v3h-1zM349 545h3v1h-3zM350 544h1v3h-1zM359 545h3v1h-3zM360 544h1v3h-1zM369 545h3v1h-3zM370 544h1v3h-1zM379 545h3v1h-3zM380 544h1v3h-1zM389 545h3v1h-3zM390 544h1v3h-1zM399 545h3v1h-3zM400 544h1v3h-1zM409 545h3v1h-3zM410 544h1v3h-1zM419 545h3v1h-3zM420 544h1v3h-1zM429 545h3v1h-3zM430 544h1v3h-1zM439 545h3v1h-3zM440 544h1v3h-1zM449 544h3v1h-3zM450 543h1v3h-1zM459 544h3v1h-3zM460 543h1v3h-1zM469 545h3v1h-3zM470 544h1v3h-1zM479 545h3v1h-3zM480 544h1v3h-1zM489 545h3v1h-3zM490 544h1v3h-1zM499 542h3v1h-3zM500 541h1v3h-1zM509 544h3v1h-3zM510 543h1v3h-1zM519 545h3v1h-3zM520 544h1v3h-1zM529 545h3v1h-3zM530 544h1v3h-1zM539 545h3v1h-3zM540 544h1v3h-1zM549 543h3v1h-3zM550 542h1v3h-1zM559 544h3v1h-3zM560 543h1v3h-1zM569 545h3v1h-3zM570 544h1v3h-1zM579 545h3v1h-3zM580 544h1v3h-1zM589 545h3v1h-3zM590 544h1v3h-1zM599 539h3v1h-3zM600 538h1v3h-1zM609 529h3v1h-3zM610 528h1v3h-1zM619 520h3v1h-3zM620 519h1v3h-1zM629 539h3v1h-3zM630 538h1v3h-1zM639 545h3v1h-3zM640 544h1v3h-1zM649 545h3v1h-3zM650 544h1v3h-1zM659 545h3v1h-3zM660 544h1v3h-1zM669 543h3v1h-3zM670 542h1v3h-1zM679 543h3v1h-3zM680 542h1v3h-1zM689 545h3v1h-3zM690 544h1v3h-1z"/>
<polyline transform="translate(.5,.5)" points="60,545.0 70,545.0 80,545.0 90,535.7 100,533.0 110,479.5 120,522.2 130,538.4 140,541.1 150,545.0 160,541.6 170,545.0 180,545.0 190,545.0 200,545.0 210,545.0 220,545.0 230,545.0 240,545.0 250,545.0 260,545.0 270,545.0 280,545.0 290,545.0 300,545.0 310,545.0 320,545.0 330,545.0 340,545.0 350,545.0 360,545.0 370,545.0 380,545.0 390,545.0 400,545.0 410,545.0 420,543.1 430,542.3 440,544.4 450,545.0 460,542.3 470,544.2 480,545.0 490,545.0 500,545.0 510,545.0 520,545.0 530,545.0 540,543.3 550,545.0 560,545.0 570,545.0 580,542.0 590,545.0 600,545.0 610,544.3 620,545.0 630,545.0 640,545.0 650,545.0 660,545.0 670,545.0 680,545.0 690,544.2" fill="none" stroke="#D870D0" stroke-width="1" shape-rendering="crispEdges"/>
<path shape-rendering="crispEdges" fill="#D870D0" d="M59 545h3v1h-3zM60 544h1v3h-1zM69 545h3v1h-3zM70 544h1v3h-1zM79 545h3v1h-3zM80 544h1v3h-1zM89 536h3v1h-3zM90 535h1v3h-1zM99 533h3v1h-3zM100 532h1v3h-1zM109 479h3v1h-3zM110 478h1v3h-1zM119 522h3v1h-3zM120 521h1v3h-1zM129 538h3v1h-3zM130 537h1v3h-1zM139 541h3v1h-3zM140 540h1v3h-1zM149 545h3v1h-3zM150 544h1v3h-1zM159 542h3v1h-3zM160 541h1v3h-1zM169 545h3v1h-3zM170 544h1v3h-1zM179 545h3v1h-3zM180 544h1v3h-1zM189 545h3v1h-3zM190 544h1v3h-1zM199 545h3v1h-3zM200 544h1v3h-1zM209 545h3v1h-3zM210 544h1v3h-1zM219 545h3v1h-3zM220 544h1v3h-1zM229 545h3v1h-3zM230 544h1v3h-1zM239 545h3v1h-3zM240 544h1v3h-1zM249 545h3v1h-3zM250 544h1v3h-1zM259 545h3v1h-3zM260 544h1v3h-1zM269 545h3v1h-3zM270 544h1v3h-1zM279 545h3v1h-3zM280 544h1v3h-1zM289 545h3v1h-3zM290 544h1v3h-1zM299 545h3v1h-3zM300 544h1v3h-1zM309 545h3v1h-3zM310 544h1v3h-1zM319 545h3v1h-3zM320 544h1v3h-1zM329 545h3v1h-3zM330 544h1v3h-1zM339 545h3v1h-3zM340 544h1v3h-1zM349 545h3v1h-3zM350 544h1v3h-1zM359 545h3v1h-3zM360 544h1v3h-1zM369 545h3v1h-3zM370 544h1v3h-1zM379 545h3v1h-3zM380 544h1v3h-1zM389 545h3v1h-3zM390 544h1v3h-1zM399 545h3v1h-3zM400 544h1v3h-1zM409 545h3v1h-3zM410 544h1v3h-1zM419 543h3v1h-3zM420 542h1v3h-1zM429 542h3v1h-3zM430 541h1v3h-1zM439 544h3v1h-3zM440 543h1v3h-1zM449 545h3v1h-3zM450 544h1v3h-1zM459 542h3v1h-3zM460 541h1v3h-1zM469 544h3v1h-3zM470 543h1v3h-1zM479 545h3v1h-3zM480 544h1v3h-1zM489 545h3v1h-3zM490 544h1v3h-1zM499 545h3v1h-3zM500 544h1v3h-1zM509 545h3v1h-3zM510 544h1v3h-1zM519 545h3v1h-3zM520 544h1v3h-1zM529 545h3v1h-3zM530 544h1v3h-1zM539 543h3v1h-3zM540 542h1v3h-1zM549 545h3v1h-3zM550 544h1v3h-1zM559 545h3v1h-3zM560 544h1v3h-1zM569 545h3v1h-3zM570 544h1v3h-1zM579 542h3v1h-3zM580 541h1v3h-1zM589 545h3v1h-3zM590 544h1v3h-1zM599 545h3v1h-3zM600 544h1v3h-1zM609 544h3v1h-3zM610 543h1v3h-1zM619 545h3v1h-3zM620 544h1v3h-1zM629 545h3v1h-3zM630 544h1v3h-1zM639 545h3v1h-3zM640 544h1v3h-1zM649 545h3v1h-3zM650 544h1v3h-1zM659 545h3v1h-3zM660 544h1v3h-1zM669 545h3v1h-3zM670 544h1v3h-1zM679 545h3v1h-3zM680 544h1v3h-1zM689 544h3v1h-3zM690 543h1v3h-1z"/>
<polyline transform="translate(.5,.5)" points="60,545.0 70,545.0 80,544.2 90,530.3 100,537.0 110,533.0 120,538.4 130,541.1 140,545.0 150,545.0 160,545.0 170,545.0 180,545.0 190,545.0 200,545.0 210,545.0 220,545.0 230,545.0 240,545.0 250,545.0 260,545.0 270,545.0 280,545.0 290,545.0 300,545.0 310,545.0 320,545.0 330,545.0 340,545.0 350,545.0 360,545.0 370,545.0 380,542.6 390,523.2 400,542.6 410,545.0 420,545.0 430,545.0 440,545.0 450,545.0 460,545.0 470,545.0 480,545.0 490,545.0 500,545.0 510,545.0 520,542.0 530,535.5 540,514.5 550,508.5 560,482.8 570,518.0 580,542.6 590,545.0 600,543.6 610,545.0 620,545.0 630,545.0 640,545.0 650,545.0 660,542.6 670,539.1 680,519.7 690,542.6" fill="none" stroke="#1808A0" stroke-width="1" shape-rendering="crispEdges"/>
<path shape-rendering="crispEdges" fill="#1808A0" d="M59 545h3v1h-3zM60 544h1v3h-1zM69 545h3v1h-3zM70 544h1v3h-1zM79 544h3v1h-3zM80 543h1v3h-1zM89 530h3v1h-3zM90 529h1v3h-1zM99 537h3v1h-3zM100 536h1v3h-1zM109 533h3v1h-3zM110 532h1v3h-1zM119 538h3v1h-3zM120 537h1v3h-1zM129 541h3v1h-3zM130 540h1v3h-1zM139 545h3v1h-3zM140 544h1v3h-1zM149 545h3v1h-3zM150 544h1v3h-1zM159 545h3v1h-3zM160 544h1v3h-1zM169 545h3v1h-3zM170 544h1v3h-1zM179 545h3v1h-3zM180 544h1v3h-1zM189 545h3v1h-3zM190 544h1v3h-1zM199 545h3v1h-3zM200 544h1v3h-1zM209 545h3v1h-3zM210 544h1v3h-1zM219 545h3v1h-3zM220 544h1v3h-1zM229 545h3v1h-3zM230 544h1v3h-1zM239 545h3v1h-3zM240 544h1v3h-1zM249 545h3v1h-3zM250 544h1v3h-1zM259 545h3v1h-3zM260 544h1v3h-1zM269 545h3v1h-3zM270 544h1v3h-1zM279 545h3v1h-3zM280 544h1v3h-1zM289 545h3v1h-3zM290 544h1v3h-1zM299 545h3v1h-3zM300 544h1v3h-1zM309 545h3v1h-3zM310 544h1v3h-1zM319 545h3v1h-3zM320 544h1v3h-1zM329 545h3v1h-3zM330 544h1v3h-1zM339 545h3v1h-3zM340 544h1v3h-1zM349 545h3v1h-3zM350 544h1v3h-1zM359 545h3v1h-3zM360 544h1v3h-1zM369 545h3v1h-3zM370 544h1v3h-1zM379 543h3v1h-3zM380 542h1v3h-1zM389 523h3v1h-3zM390 522h1v3h-1zM399 543h3v1h-3zM400 542h1v3h-1zM409 545h3v1h-3zM410 544h1v3h-1zM419 545h3v1h-3zM420 544h1v3h-1zM429 545h3v1h-3zM430 544h1v3h-1zM439 545h3v1h-3zM440 544h1v3h-1zM449 545h3v1h-3zM450 544h1v3h-1zM459 545h3v1h-3zM460 544h1v3h-1zM469 545h3v1h-3zM470 544h1v3h-1zM479 545h3v1h-3zM480 544h1v3h-1zM489 545h3v1h-3zM490 544h1v3h-1zM499 545h3v1h-3zM500 544h1v3h-1zM509 545h3v1h-3zM510 544h1v3h-1zM519 542h3v1h-3zM520 541h1v3h-1zM529 536h3v1h-3zM530 535h1v3h-1zM539 514h3v1h-3zM540 513h1v3h-1zM549 508h3v1h-3zM550 507h1v3h-1zM559 483h3v1h-3zM560 482h1v3h-1zM569 518h3v1h-3zM570 517h1v3h-1zM579 543h3v1h-3zM580 542h1v3h-1zM589 545h3v1h-3zM590 544h1v3h-1zM599 544h3v1h-3zM600 543h1v3h-1zM609 545h3v1h-3zM610 544h1v3h-1zM619 545h3v1h-3zM620 544h1v3h-1zM629 545h3v1h-3zM630 544h1v3h-1zM639 545h3v1h-3zM640 544h1v3h-1zM649 545h3v1h-3zM650 544h1v3h-1zM659 543h3v1h-3zM660 542h1v3h-1zM669 539h3v1h-3zM670 538h1v3h-1zM679 520h3v1h-3zM680 519h1v3h-1zM689 543h3v1h-3zM690 542h1v3h-1z"/>
<polyline transform="translate(.5,.5)" points="60,545.0 70,545.0 80,545.0 90,545.0 100,545.0 110,541.8 120,545.0 130,545.0 140,545.0 150,542.6 160,545.0 170,545.0 180,545.0 190,545.0 200,545.0 210,545.0 220,545.0 230,545.0 240,545.0 250,545.0 260,545.0 270,545.0 280,545.0 290,545.0 300,545.0 310,545.0 320,545.0 330,545.0 340,545.0 350,545.0 360,545.0 370,545.0 380,545.0 390,545.0 400,543.0 410,545.0 420,544.4 430,545.0 440,544.1 450,540.8 460,523.2 470,535.5 480,542.6 490,545.0 500,542.3 510,545.0 520,545.0 530,545.0 540,543.5 550,545.0 560,545.0 570,545.0 580,543.8 590,545.0 600,545.0 610,545.0 620,542.6 630,539.1 640,516.2 650,533.8 660,542.6 670,545.0 680,545.0 690,545.0" fill="none" stroke="#E0D0A8" stroke-width="1" shape-rendering="crispEdges"/>
<path shape-rendering="crispEdges" fill="#E0D0A8" d="M59 545h3v1h-3zM60 544h1v3h-1zM69 545h3v1h-3zM70 544h1v3h-1zM79 545h3v1h-3zM80 544h1v3h-1zM89 545h3v1h-3zM90 544h1v3h-1zM99 545h3v1h-3zM100 544h1v3h-1zM109 542h3v1h-3zM110 541h1v3h-1zM119 545h3v1h-3zM120 544h1v3h-1zM129 545h3v1h-3zM130 544h1v3h-1zM139 545h3v1h-3zM140 544h1v3h-1zM149 543h3v1h-3zM150 542h1v3h-1zM159 545h3v1h-3zM160 544h1v3h-1zM169 545h3v1h-3zM170 544h1v3h-1zM179 545h3v1h-3zM180 544h1v3h-1zM189 545h3v1h-3zM190 544h1v3h-1zM199 545h3v1h-3zM200 544h1v3h-1zM209 545h3v1h-3zM210 544h1v3h-1zM219 545h3v1h-3zM220 544h1v3h-1zM229 545h3v1h-3zM230 544h1v3h-1zM239 545h3v1h-3zM240 544h1v3h-1zM249 545h3v1h-3zM250 544h1v3h-1zM259 545h3v1h-3zM260 544h1v3h-1zM269 545h3v1h-3zM270 544h1v3h-1zM279 545h3v1h-3zM280 544h1v3h-1zM289 545h3v1h-3zM290 544h1v3h-1zM299 545h3v1h-3zM300 544h1v3h-1zM309 545h3v1h-3zM310 544h1v3h-1zM319 545h3v1h-3zM320 544h1v3h-1zM329 545h3v1h-3zM330 544h1v3h-1zM339 545h3v1h-3zM340 544h1v3h-1zM349 545h3v1h-3zM350 544h1v3h-1zM359 545h3v1h-3zM360 544h1v3h-1zM369 545h3v1h-3zM370 544h1v3h-1zM379 545h3v1h-3zM380 544h1v3h-1zM389 545h3v1h-3zM390 544h1v3h-1zM399 543h3v1h-3zM400 542h1v3h-1zM409 545h3v1h-3zM410 544h1v3h-1zM419 544h3v1h-3zM420 543h1v3h-1zM429 545h3v1h-3zM430 544h1v3h-1zM439 544h3v1h-3zM440 543h1v3h-1zM449 541h3v1h-3zM450 540h1v3h-1zM459 523h3v1h-3zM460 522h1v3h-1zM469 536h3v1h-3zM470 535h1v3h-1zM479 543h3v1h-3zM480 542h1v3h-1zM489 545h3v1h-3zM490 544h1v3h-1zM499 542h3v1h-3zM500 541h1v3h-1zM509 545h3v1h-3zM510 544h1v3h-1zM519 545h3v1h-3zM520 544h1v3h-1zM529 545h3v1h-3zM530 544h1v3h-1zM539 543h3v1h-3zM540 542h1v3h-1zM549 545h3v1h-3zM550 544h1v3h-1zM559 545h3v1h-3zM560 544h1v3h-1zM569 545h3v1h-3zM570 544h1v3h-1zM579 544h3v1h-3zM580 543h1v3h-1zM589 545h3v1h-3zM590 544h1v3h-1zM599 545h3v1h-3zM600 544h1v3h-1zM609 545h3v1h-3zM610 544h1v3h-1zM619 543h3v1h-3zM620 542h1v3h-1zM629 539h3v1h-3zM630 538h1v3h-1zM639 516h3v1h-3zM640 515h1v3h-1zM649 534h3v1h-3zM650 533h1v3h-1zM659 543h3v1h-3zM660 542h1v3h-1zM669 545h3v1h-3zM670 544h1v3h-1zM679 545h3v1h-3zM680 544h1v3h-1zM689 545h3v1h-3zM690 544h1v3h-1z"/>
<polyline transform="translate(.5,.5)" points="60,545.0 70,545.0 80,541.1 90,503.2 100,538.4 110,541.1 120,530.3 130,501.1 140,538.4 150,541.1 160,545.0 170,545.0 180,545.0 190,545.0 200,545.0 210,545.0 220,545.0 230,545.0 240,545.0 250,545.0 260,545.0 270,545.0 280,545.0 290,545.0 300,545.0 310,545.0 320,545.0 330,545.0 340,545.0 350,545.0 360,545.0 370,545.0 380,545.0 390,545.0 400,545.0 410,543.6 420,535.5 430,542.6 440,545.0 450,545.0 460,545.0 470,543.9 480,545.0 490,543.9 500,545.0 510,542.1 520,545.0 530,545.0 540,545.0 550,543.0 560,545.0 570,545.0 580,545.0 590,545.0 600,545.0 610,544.3 620,545.0 630,545.0 640,542.7 650,545.0 660,542.9 670,545.0 680,545.0 690,545.0" fill="none" stroke="#800810" stroke-width="1" shape-rendering="crispEdges"/>
<path shape-rendering="crispEdges" fill="#800810" d="M59 545h3v1h-3zM60 544h1v3h-1zM69 545h3v1h-3zM70 544h1v3h-1zM79 541h3v1h-3zM80 540h1v3h-1zM89 503h3v1h-3zM90 502h1v3h-1zM99 538h3v1h-3zM100 537h1v3h-1zM109 541h3v1h-3zM110 540h1v3h-1zM119 530h3v1h-3zM120 529h1v3h-1zM129 501h3v1h-3zM130 500h1v3h-1zM139 538h3v1h-3zM140 537h1v3h-1zM149 541h3v1h-3zM150 540h1v3h-1zM159 545h3v1h-3zM160 544h1v3h-1zM169 545h3v1h-3zM170 544h1v3h-1zM179 545h3v1h-3zM180 544h1v3h-1zM189 545h3v1h-3zM190 544h1v3h-1zM199 545h3v1h-3zM200 544h1v3h-1zM209 545h3v1h-3zM210 544h1v3h-1zM219 545h3v1h-3zM220 544h1v3h-1zM229 545h3v1h-3zM230 544h1v3h-1zM239 545h3v1h-3zM240 544h1v3h-1zM249 545h3v1h-3zM250 544h1v3h-1zM259 545h3v1h-3zM260 544h1v3h-1zM269 545h3v1h-3zM270 544h1v3h-1zM279 545h3v1h-3zM280 544h1v3h-1zM289 545h3v1h-3zM290 544h1v3h-1zM299 545h3v1h-3zM300 544h1v3h-1zM309 545h3v1h-3zM310 544h1v3h-1zM319 545h3v1h-3zM320 544h1v3h-1zM329 545h3v1h-3zM330 544h1v3h-1zM339 545h3v1h-3zM340 544h1v3h-1zM349 545h3v1h-3zM350 544h1v3h-1zM359 545h3v1h-3zM360 544h1v3h-1zM369 545h3v1h-3zM370 544h1v3h-1zM379 545h3v1h-3zM380 544h1v3h-1zM389 545h3v1h-3zM390 544h1v3h-1zM399 545h3v1h-3zM400 544h1v3h-1zM409 544h3v1h-3zM410 543h1v3h-1zM419 536h3v1h-3zM420 535h1v3h-1zM429 543h3v1h-3zM430 542h1v3h-1zM439 545h3v1h-3zM440 544h1v3h-1zM449 545h3v1h-3zM450 544h1v3h-1zM459 545h3v1h-3zM460 544h1v3h-1zM469 544h3v1h-3zM470 543h1v3h-1zM479 545h3v1h-3zM480 544h1v3h-1zM489 544h3v1h-3zM490 543h1v3h-1zM499 545h3v1h-3zM500 544h1v3h-1zM509 542h3v1h-3zM510 541h1v3h-1zM519 545h3v1h-3zM520 544h1v3h-1zM529 545h3v1h-3zM530 544h1v3h-1zM539 545h3v1h-3zM540 544h1v3h-1zM549 543h3v1h-3zM550 542h1v3h-1zM559 545h3v1h-3zM560 544h1v3h-1zM569 545h3v1h-3zM570 544h1v3h-1zM579 545h3v1h-3zM580 544h1v3h-1zM589 545h3v1h-3zM590 544h1v3h-1zM599 545h3v1h-3zM600 544h1v3h-1zM609 544h3v1h-3zM610 543h1v3h-1zM619 545h3v1h-3zM620 544h1v3h-1zM629 545h3v1h-3zM630 544h1v3h-1zM639 543h3v1h-3zM640 542h1v3h-1zM649 545h3v1h-3zM650 544h1v3h-1zM659 543h3v1h-3zM660 542h1v3h-1zM669 545h3v1h-3zM670 544h1v3h-1zM679 545h3v1h-3zM680 544h1v3h-1zM689 545h3v1h-3zM690 544h1v3h-1z"/>
<polyline transform="translate(.5,.5)" points="60,545.0 70,545.0 80,545.0 90,543.7 100,545.0 110,545.0 120,545.0 130,545.0 140,545.0 150,545.0 160,543.3 170,545.0 180,545.0 190,545.0 200,545.0 210,545.0 220,545.0 230,545.0 240,545.0 250,545.0 260,545.0 270,545.0 280,545.0 290,545.0 300,545.0 310,545.0 320,545.0 330,545.0 340,545.0 350,545.0 360,545.0 370,545.0 380,545.0 390,545.0 400,545.0 410,543.3 420,545.0 430,543.1 440,545.0 450,545.0 460,545.0 470,545.0 480,545.0 490,542.5 500,545.0 510,545.0 520,545.0 530,545.0 540,545.0 550,545.0 560,542.3 570,545.0 580,545.0 590,545.0 600,545.0 610,543.2 620,545.0 630,545.0 640,542.6 650,539.1 660,540.1 670,535.5 680,539.1 690,545.0" fill="none" stroke="#0838B0" stroke-width="1" shape-rendering="crispEdges"/>
<path shape-rendering="crispEdges" fill="#0838B0" d="M59 545h3v1h-3zM60 544h1v3h-1zM69 545h3v1h-3zM70 544h1v3h-1zM79 545h3v1h-3zM80 544h1v3h-1zM89 544h3v1h-3zM90 543h1v3h-1zM99 545h3v1h-3zM100 544h1v3h-1zM109 545h3v1h-3zM110 544h1v3h-1zM119 545h3v1h-3zM120 544h1v3h-1zM129 545h3v1h-3zM130 544h1v3h-1zM139 545h3v1h-3zM140 544h1v3h-1zM149 545h3v1h-3zM150 544h1v3h-1zM159 543h3v1h-3zM160 542h1v3h-1zM169 545h3v1h-3zM170 544h1v3h-1zM179 545h3v1h-3zM180 544h1v3h-1zM189 545h3v1h-3zM190 544h1v3h-1zM199 545h3v1h-3zM200 544h1v3h-1zM209 545h3v1h-3zM210 544h1v3h-1zM219 545h3v1h-3zM220 544h1v3h-1zM229 545h3v1h-3zM230 544h1v3h-1zM239 545h3v1h-3zM240 544h1v3h-1zM249 545h3v1h-3zM250 544h1v3h-1zM259 545h3v1h-3zM260 544h1v3h-1zM269 545h3v1h-3zM270 544h1v3h-1zM279 545h3v1h-3zM280 544h1v3h-1zM289 545h3v1h-3zM290 544h1v3h-1zM299 545h3v1h-3zM300 544h1v3h-1zM309 545h3v1h-3zM310 544h1v3h-1zM319 545h3v1h-3zM320 544h1v3h-1zM329 545h3v1h-3zM330 544h1v3h-1zM339 545h3v1h-3zM340 544h1v3h-1zM349 545h3v1h-3zM350 544h1v3h-1zM359 545h3v1h-3zM360 544h1v3h-1zM369 545h3v1h-3zM370 544h1v3h-1zM379 545h3v1h-3zM380 544h1v3h-1zM389 545h3v1h-3zM390 544h1v3h-1zM399 545h3v1h-3zM400 544h1v3h-1zM409 543h3v1h-3zM410 542h1v3h-1zM419 545h3v1h-3zM420 544h1v3h-1zM429 543h3v1h-3zM430 542h1v3h-1zM439 545h3v1h-3zM440 544h1v3h-1zM449 545h3v1h-3zM450 544h1v3h-1zM459 545h3v1h-3zM460 544h1v3h-1zM469 545h3v1h-3zM470 544h1v3h-1zM479 545h3v1h-3zM480 544h1v3h-1zM489 542h3v1h-3zM490 541h1v3h-1zM499 545h3v1h-3zM500 544h1v3h-1zM509 545h3v1h-3zM510 544h1v3h-1zM519 545h3v1h-3zM520 544h1v3h-1zM529 545h3v1h-3zM530 544h1v3h-1zM539 545h3v1h-3zM540 544h1v3h-1zM549 545h3v1h-3zM550 544h1v3h-1zM559 542h3v1h-3zM560 541h1v3h-1zM569 545h3v1h-3zM570 544h1v3h-1zM579 545h3v1h-3zM580 544h1v3h-1zM589 545h3v1h-3zM590 544h1v3h-1zM599 545h3v1h-3zM600 544h1v3h-1zM609 543h3v1h-3zM610 542h1v3h-1zM619 545h3v1h-3zM620 544h1v3h-1zM629 545h3v1h-3zM630 544h1v3h-1zM639 543h3v1h-3zM640 542h1v3h-1zM649 539h3v1h-3zM650 538h1v3h-1zM659 540h3v1h-3zM660 539h1v3h-1zM669 536h3v1h-3zM670 535h1v3h-1zM679 539h3v1h-3zM680 538h1v3h-1zM689 545h3v1h-3zM690 544h1v3h-1z"/>
<polyline transform="translate(.5,.5)" points="60,544.5 70,544.5 80,543.3 90,533.0 100,540.6 110,537.9 120,539.2 130,540.6 140,541.9 150,539.8 160,543.8 170,544.5 180,544.2 190,544.2 200,544.2 210,544.2 220,544.2 230,544.2 240,544.2 250,544.2 260,544.2 270,544.2 280,544.2 290,544.2 300,544.2 310,544.2 320,544.2 330,544.2 340,544.2 350,544.2 360,544.2 370,544.2 380,544.2 390,543.5 400,543.0 410,543.5 420,542.5 430,541.0 440,542.5 450,543.0 460,543.0 470,543.5 480,543.0 490,543.0 500,543.0 510,542.5 520,543.0 530,542.5 540,542.5 550,542.0 560,542.5 570,543.0 580,543.0 590,543.0 600,543.0 610,542.0 620,542.5 630,543.0 640,543.0 650,543.5 660,544.0 670,543.5 680,543.5 690,544.0" fill="none" stroke="#ff0000" stroke-width="4" />
</g>
<g shape-rendering="crispEdges"><rect x="50" y="0" width="1" height="601" fill="#000"/><rect x="690" y="0" width="1" height="601" fill="#000"/><rect x="50" y="600" width="641" height="1" fill="#000"/>
<rect x="50" y="20" width="1" height="2" fill="#fff"/><rect x="690" y="20" width="1" height="2" fill="#fff"/>
<rect x="50" y="55" width="1" height="1" fill="#fff"/><rect x="690" y="55" width="1" height="1" fill="#fff"/>
<rect x="50" y="90" width="1" height="2" fill="#fff"/><rect x="690" y="90" width="1" height="2" fill="#fff"/>
<rect x="50" y="125" width="1" height="1" fill="#fff"/><rect x="690" y="125" width="1" height="1" fill="#fff"/>
<rect x="50" y="160" width="1" height="2" fill="#fff"/><rect x="690" y="160" width="1" height="2" fill="#fff"/>
<rect x="50" y="195" width="1" height="1" fill="#fff"/><rect x="690" y="195" width="1" height="1" fill="#fff"/>
<rect x="50" y="230" width="1" height="2" fill="#fff"/><rect x="690" y="230" width="1" height="2" fill="#fff"/>
<rect x="50" y="265" width="1" height="1" fill="#fff"/><rect x="690" y="265" width="1" height="1" fill="#fff"/>
<rect x="50" y="300" width="1" height="2" fill="#fff"/><rect x="690" y="300" width="1" height="2" fill="#fff"/>
<rect x="50" y="335" width="1" height="1" fill="#fff"/><rect x="690" y="335" width="1" height="1" fill="#fff"/>
<rect x="50" y="370" width="1" height="2" fill="#fff"/><rect x="690" y="370" width="1" height="2" fill="#fff"/>
<rect x="50" y="405" width="1" height="1" fill="#fff"/><rect x="690" y="405" width="1" height="1" fill="#fff"/>
<rect x="50" y="440" width="1" height="2" fill="#fff"/><rect x="690" y="440" width="1" height="2" fill="#fff"/>
<rect x="50" y="475" width="1" height="1" fill="#fff"/><rect x="690" y="475" width="1" height="1" fill="#fff"/>
<rect x="50" y="510" width="1" height="2" fill="#fff"/><rect x="690" y="510" width="1" height="2" fill="#fff"/>
<rect x="50" y="545" width="1" height="1" fill="#fff"/><rect x="690" y="545" width="1" height="1" fill="#fff"/>
</g>
<g font-family="'Liberation Mono', monospace" xml:space="preserve" style="text-rendering:geometricPrecision">
<text x="20" y="27" font-family="'Liberation Sans', sans-serif" font-size="11">30</text>
<text x="710" y="27" font-family="'Liberation Sans', sans-serif" font-size="11">75</text>
<text x="20" y="62" font-family="'Liberation Sans', sans-serif" font-size="11">25</text>
<text x="710" y="62" font-family="'Liberation Sans', sans-serif" font-size="11">70</text>
<text x="20" y="97" font-family="'Liberation Sans', sans-serif" font-size="11">20</text>
<text x="710" y="97" font-family="'Liberation Sans', sans-serif" font-size="11">65</text>
<text x="20" y="132" font-family="'Liberation Sans', sans-serif" font-size="11">15</text>
<text x="710" y="132" font-family="'Liberation Sans', sans-serif" font-size="11">60</text>
<text x="20" y="167" font-family="'Liberation Sans', sans-serif" font-size="11">10</text>
<text x="710" y="167" font-family="'Liberation Sans', sans-serif" font-size="11">55</text>
<text x="20" y="202" font-family="'Liberation Sans', sans-serif" font-size="11">5</text>
<text x="710" y="202" font-family="'Liberation Sans', sans-serif" font-size="11">50</text>
<text x="20" y="237" font-family="'Liberation Sans', sans-serif" font-size="11">0</text>
<text x="710" y="237" font-family="'Liberation Sans', sans-serif" font-size="11">45</text>
<text transform="translate(20,272) scale(0.8621,1)" font-size="11.6" fill="#000" stroke="#000" stroke-width="0.22">-</text>
<text x="26" y="272" font-family="'Liberation Sans', sans-serif" font-size="11">5</text>
<text x="710" y="272" font-family="'Liberation Sans', sans-serif" font-size="11">40</text>
<text transform="translate(20,307) scale(0.8621,1)" font-size="11.6" fill="#000" stroke="#000" stroke-width="0.22">-</text>
<text x="26" y="307" font-family="'Liberation Sans', sans-serif" font-size="11">10</text>
<text x="710" y="307" font-family="'Liberation Sans', sans-serif" font-size="11">35</text>
<text transform="translate(20,342) scale(0.8621,1)" font-size="11.6" fill="#000" stroke="#000" stroke-width="0.22">-</text>
<text x="26" y="342" font-family="'Liberation Sans', sans-serif" font-size="11">15</text>
<text x="710" y="342" font-family="'Liberation Sans', sans-serif" font-size="11">30</text>
<text transform="translate(20,377) scale(0.8621,1)" font-size="11.6" fill="#000" stroke="#000" stroke-width="0.22">-</text>
<text x="26" y="377" font-family="'Liberation Sans', sans-serif" font-size="11">20</text>
<text x="710" y="377" font-family="'Liberation Sans', sans-serif" font-size="11">25</text>
<text transform="translate(20,412) scale(0.8621,1)" font-size="11.6" fill="#000" stroke="#000" stroke-width="0.22">-</text>
<text x="26" y="412" font-family="'Liberation Sans', sans-serif" font-size="11">25</text>
<text x="710" y="412" font-family="'Liberation Sans', sans-serif" font-size="11">20</text>
<text transform="translate(20,447) scale(0.8621,1)" font-size="11.6" fill="#000" stroke="#000" stroke-width="0.22">-</text>
<text x="26" y="447" font-family="'Liberation Sans', sans-serif" font-size="11">30</text>
<text x="710" y="447" font-family="'Liberation Sans', sans-serif" font-size="11">15</text>
<text transform="translate(20,482) scale(0.8621,1)" font-size="11.6" fill="#000" stroke="#000" stroke-width="0.22">-</text>
<text x="26" y="482" font-family="'Liberation Sans', sans-serif" font-size="11">35</text>
<text x="710" y="482" font-family="'Liberation Sans', sans-serif" font-size="11">10</text>
<text transform="translate(20,517) scale(0.8621,1)" font-size="11.6" fill="#000" stroke="#000" stroke-width="0.22">-</text>
<text x="26" y="517" font-family="'Liberation Sans', sans-serif" font-size="11">40</text>
<text x="710" y="517" font-family="'Liberation Sans', sans-serif" font-size="11">5</text>
<text transform="translate(20,552) scale(0.8621,1)" font-size="11.6" fill="#000" stroke="#000" stroke-width="0.22">-</text>
<text x="26" y="552" font-family="'Liberation Sans', sans-serif" font-size="11">45</text>
<text x="710" y="552" font-family="'Liberation Sans', sans-serif" font-size="11">0</text>
<text transform="translate(60,192) scale(0.8621,1)" font-size="11.6" fill="#000" stroke="#000" stroke-width="0.22">Temp. 85OhPa</text>
<text transform="translate(60,351) scale(0.8621,1)" font-size="11.6" fill="#000" stroke="#000" stroke-width="0.22">Temp. 5OOhPa</text>
<text transform="translate(60,476) scale(0.8621,1)" font-size="11.6" fill="#000" stroke="#000" stroke-width="0.22">Précipitations</text>
<text transform="translate(20,610) scale(0.8621,1)" font-size="11.6" fill="#000" stroke="#000" stroke-width="0.22">(°c)</text>
<text transform="translate(710,610) scale(0.8621,1)" font-size="11.6" fill="#000" stroke="#000" stroke-width="0.22">(mm)</text>
<text transform="translate(10,627) scale(0.8621,1)" font-size="11.6" fill="#000" stroke="#000" stroke-width="0.22">Alt. 162m</text>
<text transform="translate(75,641) scale(0.8621,1)" font-size="11.6" fill="#000" stroke="#000" stroke-width="0.22">Moyenne des scénarios</text>
<text transform="translate(265,641) scale(0.8621,1)" font-size="11.6" fill="#000" stroke="#000" stroke-width="0.22">Run de contrôle</text>
<text transform="translate(265,650.5) scale(0.8621,1)" font-size="11.6" fill="#000" stroke="#000" stroke-width="0.22">Run GFS</text>
<text transform="translate(75,663) scale(0.8621,1)" font-size="11.6" fill="#000" stroke="#000" stroke-width="0.22">Risque neige</text>
<text transform="translate(340,656) scale(0.8621,1)" font-size="11.6" fill="#000" stroke="#000" stroke-width="0.22">3O Perts.</text>
<text transform="translate(30,681) scale(1.0057,1)" font-size="11.6" font-weight="bold" fill="#000">Diagramme des ensembles GEFS sur 384h : 4O.6N 22.9E</text>
<text transform="translate(30,696) scale(0.8621,1)" font-size="11.6" fill="#000" stroke="#000" stroke-width="0.22">Températures 85OhPa et 5OOhPa (°C) , précipitations (mm)</text>
<text transform="translate(450,676.5) scale(0.8621,1)" font-size="11.6" fill="#000" stroke="#000" stroke-width="0.22">Ensemble GEFS du 19/O2/2O26 - 12Z</text>
<text transform="translate(450,696.5) scale(1.0057,1)" font-size="11.6" font-weight="bold" fill="#000">Copyright 2O26 Meteociel.fr</text>
<text transform="translate(82,632) rotate(-90) scale(0.8621,1)" font-size="11.6" fill="#000" stroke="#000" stroke-width="0.22">2O/O2</text>
<text transform="translate(122,632) rotate(-90) scale(0.8621,1)" font-size="11.6" fill="#000" stroke="#000" stroke-width="0.22">21/O2</text>
<text transform="translate(162,632) rotate(-90) scale(0.8621,1)" font-size="11.6" fill="#000" stroke="#000" stroke-width="0.22">22/O2</text>
<text transform="translate(202,632) rotate(-90) scale(0.8621,1)" font-size="11.6" fill="#000" stroke="#000" stroke-width="0.22">23/O2</text>
<text transform="translate(242,632) rotate(-90) scale(0.8621,1)" font-size="11.6" fill="#000" stroke="#000" stroke-width="0.22">24/O2</text>
<text transform="translate(282,632) rotate(-90) scale(0.8621,1)" font-size="11.6" fill="#000" stroke="#000" stroke-width="0.22">25/O2</text>
<text transform="translate(322,632) rotate(-90) scale(0.8621,1)" font-size="11.6" fill="#000" stroke="#000" stroke-width="0.22">26/O2</text>
<text transform="translate(362,632) rotate(-90) scale(0.8621,1)" font-size="11.6" fill="#000" stroke="#000" stroke-width="0.22">27/O2</text>
<text transform="translate(402,632) rotate(-90) scale(0.8621,1)" font-size="11.6" fill="#000" stroke="#000" stroke-width="0.22">28/O2</text>
<text transform="translate(442,632) rotate(-90) scale(0.8621,1)" font-size="11.6" fill="#000" stroke="#000" stroke-width="0.22">O1/O3</text>
<text transform="translate(482,632) rotate(-90) scale(0.8621,1)" font-size="11.6" fill="#000" stroke="#000" stroke-width="0.22">O2/O3</text>
<text transform="translate(522,632) rotate(-90) scale(0.8621,1)" font-size="11.6" fill="#000" stroke="#000" stroke-width="0.22">O3/O3</text>
<text transform="translate(562,632) rotate(-90) scale(0.8621,1)" font-size="11.6" fill="#000" stroke="#000" stroke-width="0.22">O4/O3</text>
<text transform="translate(602,632) rotate(-90) scale(0.8621,1)" font-size="11.6" fill="#000" stroke="#000" stroke-width="0.22">O5/O3</text>
<text transform="translate(642,632) rotate(-90) scale(0.8621,1)" font-size="11.6" fill="#000" stroke="#000" stroke-width="0.22">O6/O3</text>
<text transform="translate(682,632) rotate(-90) scale(0.8621,1)" font-size="11.6" fill="#000" stroke="#000" stroke-width="0.22">O7/O3</text>
<text transform="translate(400.5,647) scale(0.8150,1)" font-size="9.4" font-weight="bold" fill="#000">O1</text>
<text transform="translate(411.5,647) scale(0.8150,1)" font-size="9.4" font-weight="bold" fill="#000">O2</text>
<text transform="translate(422.5,647) scale(0.8150,1)" font-size="9.4" font-weight="bold" fill="#000">O3</text>
<text transform="translate(433.5,647) scale(0.8150,1)" font-size="9.4" font-weight="bold" fill="#000">O4</text>
<text transform="translate(444.5,647) scale(0.8150,1)" font-size="9.4" font-weight="bold" fill="#000">O5</text>
<text transform="translate(455.5,647) scale(0.8150,1)" font-size="9.4" font-weight="bold" fill="#000">O6</text>
<text transform="translate(466.5,647) scale(0.8150,1)" font-size="9.4" font-weight="bold" fill="#000">O7</text>
<text transform="translate(477.5,647) scale(0.8150,1)" font-size="9.4" font-weight="bold" fill="#000">O8</text>
<text transform="translate(488.5,647) scale(0.8150,1)" font-size="9.4" font-weight="bold" fill="#000">O9</text>
<text transform="translate(499.5,647) scale(0.8150,1)" font-size="9.4" font-weight="bold" fill="#000">1O</text>
<text transform="translate(510.5,647) scale(0.8150,1)" font-size="9.4" font-weight="bold" fill="#000">11</text>
<text transform="translate(521.5,647) scale(0.8150,1)" font-size="9.4" font-weight="bold" fill="#000">12</text>
<text transform="translate(532.5,647) scale(0.8150,1)" font-size="9.4" font-weight="bold" fill="#000">13</text>
<text transform="translate(543.5,647) scale(0.8150,1)" font-size="9.4" font-weight="bold" fill="#000">14</text>
<text transform="translate(554.5,647) scale(0.8150,1)" font-size="9.4" font-weight="bold" fill="#000">15</text>
<text transform="translate(565.5,647) scale(0.8150,1)" font-size="9.4" font-weight="bold" fill="#000">16</text>
<text transform="translate(576.5,647) scale(0.8150,1)" font-size="9.4" font-weight="bold" fill="#000">17</text>
<text transform="translate(587.5,647) scale(0.8150,1)" font-size="9.4" font-weight="bold" fill="#000">18</text>
<text transform="translate(598.5,647) scale(0.8150,1)" font-size="9.4" font-weight="bold" fill="#000">19</text>
<text transform="translate(609.5,647) scale(0.8150,1)" font-size="9.4" font-weight="bold" fill="#000">2O</text>
<text transform="translate(620.5,647) scale(0.8150,1)" font-size="9.4" font-weight="bold" fill="#000">21</text>
<text transform="translate(631.5,647) scale(0.8150,1)" font-size="9.4" font-weight="bold" fill="#000">22</text>
<text transform="translate(642.5,647) scale(0.8150,1)" font-size="9.4" font-weight="bold" fill="#000">23</text>
<text transform="translate(653.5,647) scale(0.8150,1)" font-size="9.4" font-weight="bold" fill="#000">24</text>
<text transform="translate(664.5,647) scale(0.8150,1)" font-size="9.4" font-weight="bold" fill="#000">25</text>
<text transform="translate(675.5,647) scale(0.8150,1)" font-size="9.4" font-weight="bold" fill="#000">26</text>
<text transform="translate(686.5,647) scale(0.8150,1)" font-size="9.4" font-weight="bold" fill="#000">27</text>
<text transform="translate(697.5,647) scale(0.8150,1)" font-size="9.4" font-weight="bold" fill="#000">28</text>
<text transform="translate(708.5,647) scale(0.8150,1)" font-size="9.4" font-weight="bold" fill="#000">29</text>
<text transform="translate(719.5,647) scale(0.8150,1)" font-size="9.4" font-weight="bold" fill="#000">3O</text>
</g>
<g shape-rendering="crispEdges">
<rect x="35" y="635" width="31" height="4" fill="#ff0000"/><rect x="225" y="635" width="31" height="4" fill="#0000ff"/><rect x="225" y="645" width="31" height="4" fill="#000"/>
<rect x="400" y="650" width="10" height="6" fill="#E87A30"/>
<rect x="411" y="650" width="10" height="6" fill="#88C870"/>
<rect x="422" y="650" width="10" height="6" fill="#F0C010"/>
<rect x="433" y="650" width="10" height="6" fill="#9040B0"/>
<rect x="444" y="650" width="10" height="6" fill="#B05010"/>
<rect x="455" y="650" width="10" height="6" fill="#508010"/>
<rect x="466" y="650" width="10" height="6" fill="#1080F0"/>
<rect x="477" y="650" width="10" height="6" fill="#E8D8B0"/>
<rect x="488" y="650" width="10" height="6" fill="#4090C0"/>
<rect x="499" y="650" width="10" height="6" fill="#E8A858"/>
<rect x="510" y="650" width="10" height="6" fill="#5C4A18"/>
<rect x="521" y="650" width="10" height="6" fill="#F86820"/>
<rect x="532" y="650" width="10" height="6" fill="#C8B870"/>
<rect x="543" y="650" width="10" height="6" fill="#10D860"/>
<rect x="554" y="650" width="10" height="6" fill="#204060"/>
<rect x="565" y="650" width="10" height="6" fill="#707880"/>
<rect x="576" y="650" width="10" height="6" fill="#E080F0"/>
<rect x="587" y="650" width="10" height="6" fill="#8020F0"/>
<rect x="598" y="650" width="10" height="6" fill="#6B5A20"/>
<rect x="609" y="650" width="10" height="6" fill="#300870"/>
<rect x="620" y="650" width="10" height="6" fill="#F0D010"/>
<rect x="631" y="650" width="10" height="6" fill="#2868A0"/>
<rect x="642" y="650" width="10" height="6" fill="#8B5A20"/>
<rect x="653" y="650" width="10" height="6" fill="#A080E0"/>
<rect x="664" y="650" width="10" height="6" fill="#A0F040"/>
<rect x="675" y="650" width="10" height="6" fill="#D870D0"/>
<rect x="686" y="650" width="10" height="6" fill="#1808A0"/>
<rect x="697" y="650" width="10" height="6" fill="#E0D0A8"/>
<rect x="708" y="650" width="10" height="6" fill="#800810"/>
<rect x="719" y="650" width="10" height="6" fill="#0838B0"/>
<rect x="20.5" y="667.5" width="420" height="32" fill="none" stroke="#000" stroke-width="1"/>
</g>
<g transform="translate(60.5,657.5)"><circle r="5.7" fill="#dcdcff" opacity="0.55"/><circle r="5" fill="#9fd8f9"/><g transform="rotate(0)"><line x1="0" y1="0" x2="0" y2="-4" stroke="#5ec0fc" stroke-width="3.3"/><circle cx="0" cy="-4.3" r="1.15" fill="#2496e6"/></g><g transform="rotate(60)"><line x1="0" y1="0" x2="0" y2="-4" stroke="#5ec0fc" stroke-width="3.3"/><circle cx="0" cy="-4.3" r="1.15" fill="#2496e6"/></g><g transform="rotate(120)"><line x1="0" y1="0" x2="0" y2="-4" stroke="#5ec0fc" stroke-width="3.3"/><circle cx="0" cy="-4.3" r="1.15" fill="#2496e6"/></g><g transform="rotate(180)"><line x1="0" y1="0" x2="0" y2="-4" stroke="#5ec0fc" stroke-width="3.3"/><circle cx="0" cy="-4.3" r="1.15" fill="#2496e6"/></g><g transform="rotate(240)"><line x1="0" y1="0" x2="0" y2="-4" stroke="#5ec0fc" stroke-width="3.3"/><circle cx="0" cy="-4.3" r="1.15" fill="#2496e6"/></g><g transform="rotate(300)"><line x1="0" y1="0" x2="0" y2="-4" stroke="#5ec0fc" stroke-width="3.3"/><circle cx="0" cy="-4.3" r="1.15" fill="#2496e6"/></g><circle r="2.6" fill="#5ec0fc"/></g>
<g transform="translate(370.5,588.5)"><circle r="5.7" fill="#dcdcff" opacity="0.55"/><circle r="5" fill="#9fd8f9"/><g transform="rotate(0)"><line x1="0" y1="0" x2="0" y2="-4" stroke="#5ec0fc" stroke-width="3.3"/><circle cx="0" cy="-4.3" r="1.15" fill="#2496e6"/></g><g transform="rotate(60)"><line x1="0" y1="0" x2="0" y2="-4" stroke="#5ec0fc" stroke-width="3.3"/><circle cx="0" cy="-4.3" r="1.15" fill="#2496e6"/></g><g transform="rotate(120)"><line x1="0" y1="0" x2="0" y2="-4" stroke="#5ec0fc" stroke-width="3.3"/><circle cx="0" cy="-4.3" r="1.15" fill="#2496e6"/></g><g transform="rotate(180)"><line x1="0" y1="0" x2="0" y2="-4" stroke="#5ec0fc" stroke-width="3.3"/><circle cx="0" cy="-4.3" r="1.15" fill="#2496e6"/></g><g transform="rotate(240)"><line x1="0" y1="0" x2="0" y2="-4" stroke="#5ec0fc" stroke-width="3.3"/><circle cx="0" cy="-4.3" r="1.15" fill="#2496e6"/></g><g transform="rotate(300)"><line x1="0" y1="0" x2="0" y2="-4" stroke="#5ec0fc" stroke-width="3.3"/><circle cx="0" cy="-4.3" r="1.15" fill="#2496e6"/></g><circle r="2.6" fill="#5ec0fc"/></g>
<rect x="365.0" y="581" width="10" height="2" fill="#bff6f6"/>
<text transform="translate(372.0,581) rotate(-90) scale(0.87,1)" font-family="'Liberation Mono', monospace" font-size="9.4" font-weight="bold" fill="#0000ff">3%</text>
<g transform="translate(580.5,588.5)"><circle r="5.7" fill="#dcdcff" opacity="0.55"/><circle r="5" fill="#9fd8f9"/><g transform="rotate(0)"><line x1="0" y1="0" x2="0" y2="-4" stroke="#5ec0fc" stroke-width="3.3"/><circle cx="0" cy="-4.3" r="1.15" fill="#2496e6"/></g><g transform="rotate(60)"><line x1="0" y1="0" x2="0" y2="-4" stroke="#5ec0fc" stroke-width="3.3"/><circle cx="0" cy="-4.3" r="1.15" fill="#2496e6"/></g><g transform="rotate(120)"><line x1="0" y1="0" x2="0" y2="-4" stroke="#5ec0fc" stroke-width="3.3"/><circle cx="0" cy="-4.3" r="1.15" fill="#2496e6"/></g><g transform="rotate(180)"><line x1="0" y1="0" x2="0" y2="-4" stroke="#5ec0fc" stroke-width="3.3"/><circle cx="0" cy="-4.3" r="1.15" fill="#2496e6"/></g><g transform="rotate(240)"><line x1="0" y1="0" x2="0" y2="-4" stroke="#5ec0fc" stroke-width="3.3"/><circle cx="0" cy="-4.3" r="1.15" fill="#2496e6"/></g><g transform="rotate(300)"><line x1="0" y1="0" x2="0" y2="-4" stroke="#5ec0fc" stroke-width="3.3"/><circle cx="0" cy="-4.3" r="1.15" fill="#2496e6"/></g><circle r="2.6" fill="#5ec0fc"/></g>
<rect x="575.0" y="581" width="10" height="2" fill="#bff6f6"/>
<text transform="translate(582.0,581) rotate(-90) scale(0.87,1)" font-family="'Liberation Mono', monospace" font-size="9.4" font-weight="bold" fill="#0000ff">3%</text>
<g transform="translate(590.5,588.5)"><circle r="5.7" fill="#dcdcff" opacity="0.55"/><circle r="5" fill="#9fd8f9"/><g transform="rotate(0)"><line x1="0" y1="0" x2="0" y2="-4" stroke="#5ec0fc" stroke-width="3.3"/><circle cx="0" cy="-4.3" r="1.15" fill="#2496e6"/></g><g transform="rotate(60)"><line x1="0" y1="0" x2="0" y2="-4" stroke="#5ec0fc" stroke-width="3.3"/><circle cx="0" cy="-4.3" r="1.15" fill="#2496e6"/></g><g transform="rotate(120)"><line x1="0" y1="0" x2="0" y2="-4" stroke="#5ec0fc" stroke-width="3.3"/><circle cx="0" cy="-4.3" r="1.15" fill="#2496e6"/></g><g transform="rotate(180)"><line x1="0" y1="0" x2="0" y2="-4" stroke="#5ec0fc" stroke-width="3.3"/><circle cx="0" cy="-4.3" r="1.15" fill="#2496e6"/></g><g transform="rotate(240)"><line x1="0" y1="0" x2="0" y2="-4" stroke="#5ec0fc" stroke-width="3.3"/><circle cx="0" cy="-4.3" r="1.15" fill="#2496e6"/></g><g transform="rotate(300)"><line x1="0" y1="0" x2="0" y2="-4" stroke="#5ec0fc" stroke-width="3.3"/><circle cx="0" cy="-4.3" r="1.15" fill="#2496e6"/></g><circle r="2.6" fill="#5ec0fc"/></g>
<rect x="585.0" y="581" width="10" height="2" fill="#bff6f6"/>
<text transform="translate(592.0,581) rotate(-90) scale(0.87,1)" font-family="'Liberation Mono', monospace" font-size="9.4" font-weight="bold" fill="#0000ff">3%</text>
<g transform="translate(600.5,588.5)"><circle r="5.7" fill="#dcdcff" opacity="0.55"/><circle r="5" fill="#9fd8f9"/><g transform="rotate(0)"><line x1="0" y1="0" x2="0" y2="-4" stroke="#5ec0fc" stroke-width="3.3"/><circle cx="0" cy="-4.3" r="1.15" fill="#2496e6"/></g><g transform="rotate(60)"><line x1="0" y1="0" x2="0" y2="-4" stroke="#5ec0fc" stroke-width="3.3"/><circle cx="0" cy="-4.3" r="1.15" fill="#2496e6"/></g><g transform="rotate(120)"><line x1="0" y1="0" x2="0" y2="-4" stroke="#5ec0fc" stroke-width="3.3"/><circle cx="0" cy="-4.3" r="1.15" fill="#2496e6"/></g><g transform="rotate(180)"><line x1="0" y1="0" x2="0" y2="-4" stroke="#5ec0fc" stroke-width="3.3"/><circle cx="0" cy="-4.3" r="1.15" fill="#2496e6"/></g><g transform="rotate(240)"><line x1="0" y1="0" x2="0" y2="-4" stroke="#5ec0fc" stroke-width="3.3"/><circle cx="0" cy="-4.3" r="1.15" fill="#2496e6"/></g><g transform="rotate(300)"><line x1="0" y1="0" x2="0" y2="-4" stroke="#5ec0fc" stroke-width="3.3"/><circle cx="0" cy="-4.3" r="1.15" fill="#2496e6"/></g><circle r="2.6" fill="#5ec0fc"/></g>
<rect x="595.0" y="581" width="10" height="2" fill="#bff6f6"/>
<text transform="translate(602.0,581) rotate(-90) scale(0.87,1)" font-family="'Liberation Mono', monospace" font-size="9.4" font-weight="bold" fill="#0000ff">3%</text>
</svg>
</body></html>
